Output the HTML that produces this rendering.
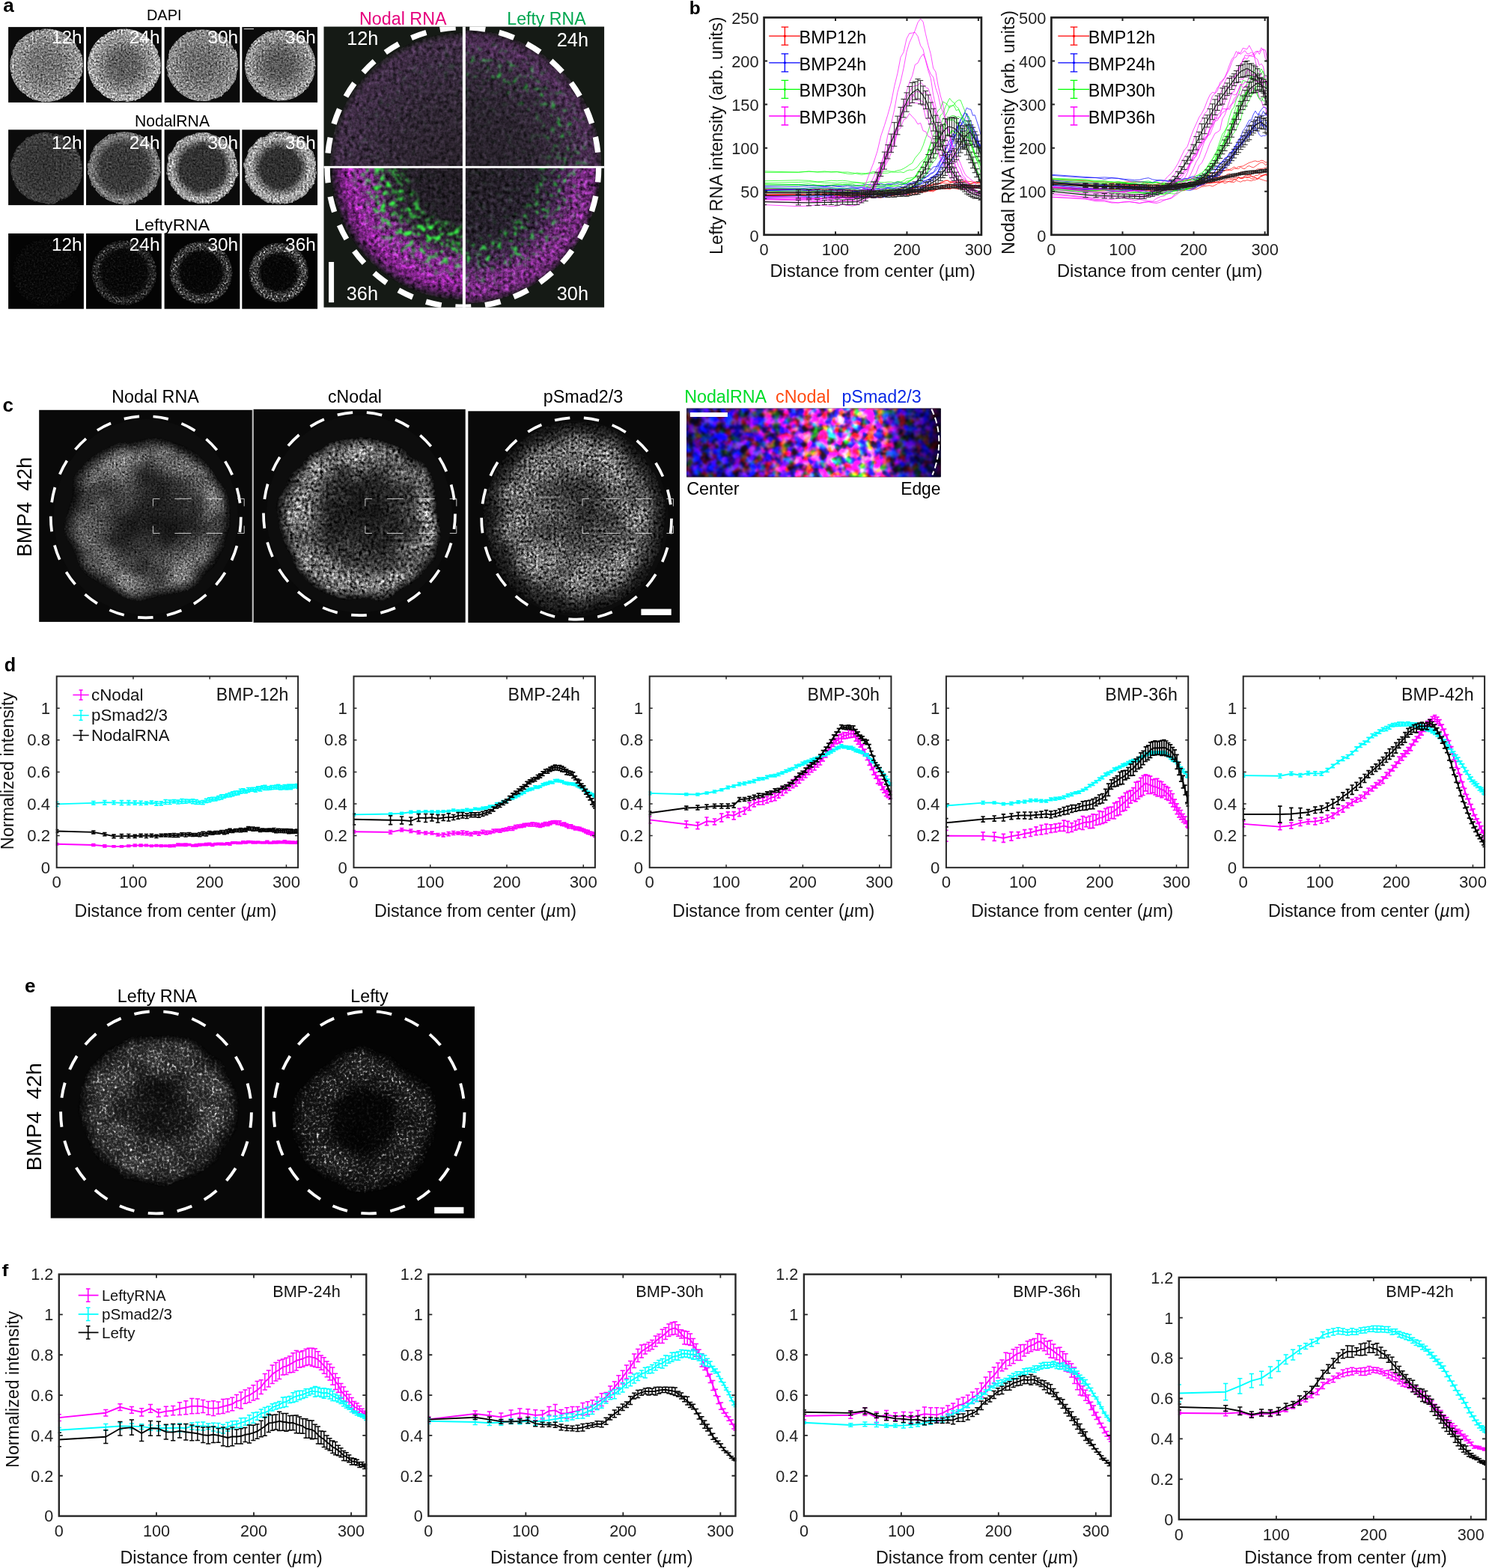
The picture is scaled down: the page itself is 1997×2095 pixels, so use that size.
<!DOCTYPE html>
<html lang="en"><head><meta charset="utf-8"><title>Figure</title>
<style>
html,body{margin:0;padding:0;background:#fff;}
body{width:1997px;height:2095px;overflow:hidden;}
svg{display:block;font-family:"Liberation Sans", sans-serif;}
</style></head><body>
<svg width="1997" height="2095" viewBox="0 0 1997 2095">
<defs>
<filter id="fa1" x="-0.05" y="-0.05" width="1.1" height="1.1" color-interpolation-filters="sRGB"><feTurbulence type="fractalNoise" baseFrequency="0.1" numOctaves="2" seed="111" result="dn"/><feDisplacementMap in="SourceGraphic" in2="dn" scale="3" xChannelSelector="R" yChannelSelector="G" result="ds"/><feTurbulence type="fractalNoise" baseFrequency="0.42 0.403" numOctaves="3" seed="11" result="n"/><feColorMatrix in="n" type="matrix" values="0.560 0.560 0.560 0 -0.340  0.560 0.560 0.560 0 -0.340  0.560 0.560 0.560 0 -0.340  0 0 0 0 1" result="n2"/><feComposite in="ds" in2="n2" operator="arithmetic" k1="2.0" k2="0.0" k3="0" k4="0" result="m"/><feComposite in="m" in2="ds" operator="in"/></filter>
<filter id="fa2" x="-0.06" y="-0.06" width="1.12" height="1.12" color-interpolation-filters="sRGB"><feTurbulence type="fractalNoise" baseFrequency="0.08" numOctaves="2" seed="123" result="dn"/><feDisplacementMap in="SourceGraphic" in2="dn" scale="5" xChannelSelector="R" yChannelSelector="G" result="ds"/><feTurbulence type="fractalNoise" baseFrequency="0.4 0.384" numOctaves="3" seed="23" result="n"/><feColorMatrix in="n" type="matrix" values="0.533 0.533 0.533 0 -0.300  0.533 0.533 0.533 0 -0.300  0.533 0.533 0.533 0 -0.300  0 0 0 0 1" result="n2"/><feComposite in="ds" in2="n2" operator="arithmetic" k1="2.0" k2="0.0" k3="0" k4="0" result="m"/><feComposite in="m" in2="ds" operator="in"/></filter>
<filter id="fa3" x="-0.0" y="-0.0" width="1.0" height="1.0" color-interpolation-filters="sRGB"><feTurbulence type="fractalNoise" baseFrequency="0.42 0.403" numOctaves="3" seed="37" result="n"/><feColorMatrix in="n" type="matrix" values="0.800 0.800 0.800 0 -0.844  0.800 0.800 0.800 0 -0.844  0.800 0.800 0.800 0 -0.844  0 0 0 0 1" result="n2"/><feComposite in="n2" in2="n2" operator="arithmetic" k1="1.6" k2="0" k3="0" k4="0" result="n2"/><feComposite in="SourceGraphic" in2="n2" operator="arithmetic" k1="2.2" k2="0.2" k3="0" k4="0" result="m"/><feComposite in="m" in2="SourceAlpha" operator="in"/></filter>
<radialGradient id="ga00"><stop offset="0" stop-color="#707070"/><stop offset="0.45" stop-color="#767676"/><stop offset="0.75" stop-color="#8c8c8c"/><stop offset="0.93" stop-color="#989898"/><stop offset="1" stop-color="#8c8c8c"/></radialGradient>
<radialGradient id="ga01"><stop offset="0" stop-color="#5a5a5a"/><stop offset="0.4" stop-color="#646464"/><stop offset="0.7" stop-color="#8c8c8c"/><stop offset="0.92" stop-color="#aaaaaa"/><stop offset="1" stop-color="#969696"/></radialGradient>
<radialGradient id="ga02"><stop offset="0" stop-color="#696969"/><stop offset="0.4" stop-color="#6e6e6e"/><stop offset="0.75" stop-color="#828282"/><stop offset="0.93" stop-color="#919191"/><stop offset="1" stop-color="#828282"/></radialGradient>
<radialGradient id="ga03"><stop offset="0" stop-color="#585858"/><stop offset="0.35" stop-color="#5c5c5c"/><stop offset="0.7" stop-color="#808080"/><stop offset="0.9" stop-color="#9e9e9e"/><stop offset="1" stop-color="#8c8c8c"/></radialGradient>
<radialGradient id="ga10"><stop offset="0" stop-color="#343434"/><stop offset="0.6" stop-color="#373737"/><stop offset="0.9" stop-color="#404040"/><stop offset="1" stop-color="#383838"/></radialGradient>
<radialGradient id="ga11"><stop offset="0" stop-color="#363636"/><stop offset="0.66" stop-color="#3c3c3c"/><stop offset="0.8" stop-color="#626262"/><stop offset="0.9" stop-color="#808080"/><stop offset="1" stop-color="#646464"/></radialGradient>
<radialGradient id="ga12"><stop offset="0" stop-color="#303030"/><stop offset="0.62" stop-color="#343434"/><stop offset="0.74" stop-color="#707070"/><stop offset="0.86" stop-color="#a4a4a4"/><stop offset="0.95" stop-color="#a0a0a0"/><stop offset="1" stop-color="#6e6e6e"/></radialGradient>
<radialGradient id="ga13"><stop offset="0" stop-color="#2e2e2e"/><stop offset="0.54" stop-color="#323232"/><stop offset="0.68" stop-color="#727272"/><stop offset="0.8" stop-color="#a6a6a6"/><stop offset="0.94" stop-color="#a2a2a2"/><stop offset="1" stop-color="#6e6e6e"/></radialGradient>
<radialGradient id="ga20"><stop offset="0" stop-color="#0c0c0c"/><stop offset="0.9" stop-color="#0d0d0d"/><stop offset="1" stop-color="#060606"/></radialGradient>
<radialGradient id="ga21"><stop offset="0" stop-color="#0a0a0a"/><stop offset="0.68" stop-color="#0e0e0e"/><stop offset="0.8" stop-color="#323232"/><stop offset="0.9" stop-color="#3e3e3e"/><stop offset="0.96" stop-color="#282828"/><stop offset="1" stop-color="#080808"/></radialGradient>
<radialGradient id="ga22"><stop offset="0" stop-color="#080808"/><stop offset="0.64" stop-color="#0c0c0c"/><stop offset="0.76" stop-color="#464646"/><stop offset="0.87" stop-color="#5c5c5c"/><stop offset="0.95" stop-color="#3a3a3a"/><stop offset="1" stop-color="#080808"/></radialGradient>
<radialGradient id="ga23"><stop offset="0" stop-color="#080808"/><stop offset="0.58" stop-color="#0c0c0c"/><stop offset="0.72" stop-color="#545454"/><stop offset="0.85" stop-color="#6e6e6e"/><stop offset="0.94" stop-color="#464646"/><stop offset="1" stop-color="#080808"/></radialGradient>
<filter id="fA" x="-0.0" y="-0.0" width="1.0" height="1.0" color-interpolation-filters="sRGB"><feTurbulence type="fractalNoise" baseFrequency="0.2 0.192" numOctaves="3" seed="5" result="n"/><feColorMatrix in="n" type="matrix" values="0.667 0.667 0.667 0 -0.500  0.667 0.667 0.667 0 -0.500  0.667 0.667 0.667 0 -0.500  0 0 0 0 1" result="n2"/><feComposite in="SourceGraphic" in2="n2" operator="arithmetic" k1="1.6" k2="0.2" k3="0" k4="0" result="m"/><feComposite in="m" in2="SourceAlpha" operator="in"/></filter>
<filter id="fA2" x="-0.0" y="-0.0" width="1.0" height="1.0" color-interpolation-filters="sRGB"><feTurbulence type="fractalNoise" baseFrequency="0.2 0.192" numOctaves="3" seed="6" result="n"/><feColorMatrix in="n" type="matrix" values="0.693 0.693 0.693 0 -0.540  0.693 0.693 0.693 0 -0.540  0.693 0.693 0.693 0 -0.540  0 0 0 0 1" result="n2"/><feComposite in="SourceGraphic" in2="n2" operator="arithmetic" k1="1.8" k2="0.1" k3="0" k4="0" result="m"/><feComposite in="m" in2="SourceAlpha" operator="in"/></filter>
<filter id="fAg" x="0" y="0" width="1" height="1" color-interpolation-filters="sRGB">
<feTurbulence type="fractalNoise" baseFrequency="0.14" numOctaves="3" seed="8" result="n"/>
<feColorMatrix in="n" type="matrix" values="0 0 0 0 0  0 0 0 0 0  0 0 0 0 0  2.4 2.4 2.4 0 -3.8" result="na"/>
<feGaussianBlur in="na" stdDeviation="0.8" result="nb"/>
<feComposite in="SourceGraphic" in2="nb" operator="in"/>
</filter>
<filter id="fAg2" x="0" y="0" width="1" height="1" color-interpolation-filters="sRGB">
<feTurbulence type="fractalNoise" baseFrequency="0.13" numOctaves="3" seed="18" result="n"/>
<feColorMatrix in="n" type="matrix" values="0 0 0 0 0  0 0 0 0 0  0 0 0 0 0  2.4 2.4 2.4 0 -3.55" result="na"/>
<feGaussianBlur in="na" stdDeviation="0.8" result="nb"/>
<feComposite in="SourceGraphic" in2="nb" operator="in"/>
</filter>
<radialGradient id="gAm0" gradientUnits="userSpaceOnUse" cx="619.85" cy="223.25" r="180"><stop offset="0" stop-color="#29222b"/><stop offset="0.5" stop-color="#302634"/><stop offset="0.8" stop-color="#3a2a40"/><stop offset="0.95" stop-color="#402c46"/><stop offset="1" stop-color="#1a1c1a"/></radialGradient>
<radialGradient id="gAg0" gradientUnits="userSpaceOnUse" cx="619.85" cy="223.25" r="176"><stop offset="0" stop-color="#34f04c" stop-opacity="0.0"/><stop offset="0.6" stop-color="#34f04c" stop-opacity="0.05"/><stop offset="0.8" stop-color="#34f04c" stop-opacity="0.12"/><stop offset="1" stop-color="#34f04c" stop-opacity="0.03"/></radialGradient>
<radialGradient id="gAm1" gradientUnits="userSpaceOnUse" cx="619.85" cy="223.25" r="184"><stop offset="0" stop-color="#27212a"/><stop offset="0.5" stop-color="#2c2430"/><stop offset="0.75" stop-color="#38283e"/><stop offset="0.9" stop-color="#4c2c54"/><stop offset="0.96" stop-color="#402846"/><stop offset="1" stop-color="#1c1c1c"/></radialGradient>
<radialGradient id="gAg1" gradientUnits="userSpaceOnUse" cx="619.85" cy="223.25" r="176"><stop offset="0" stop-color="#34f04c" stop-opacity="0.0"/><stop offset="0.6" stop-color="#34f04c" stop-opacity="0.1"/><stop offset="0.76" stop-color="#34f04c" stop-opacity="0.7"/><stop offset="0.9" stop-color="#34f04c" stop-opacity="0.45"/><stop offset="1" stop-color="#34f04c" stop-opacity="0.05"/></radialGradient>
<radialGradient id="gAm2" gradientUnits="userSpaceOnUse" cx="619.85" cy="223.25" r="183"><stop offset="0" stop-color="#221e24"/><stop offset="0.55" stop-color="#28202e"/><stop offset="0.7" stop-color="#40244a"/><stop offset="0.84" stop-color="#762a80"/><stop offset="0.93" stop-color="#72287c"/><stop offset="0.975" stop-color="#48224e"/><stop offset="1" stop-color="#1c1a1c"/></radialGradient>
<radialGradient id="gAg2" gradientUnits="userSpaceOnUse" cx="619.85" cy="223.25" r="176"><stop offset="0" stop-color="#34f04c" stop-opacity="0.05"/><stop offset="0.5" stop-color="#34f04c" stop-opacity="0.1"/><stop offset="0.62" stop-color="#34f04c" stop-opacity="0.8"/><stop offset="0.78" stop-color="#34f04c" stop-opacity="0.85"/><stop offset="0.9" stop-color="#34f04c" stop-opacity="0.2"/><stop offset="1" stop-color="#34f04c" stop-opacity="0.0"/></radialGradient>
<radialGradient id="gAm3" gradientUnits="userSpaceOnUse" cx="619.85" cy="223.25" r="178"><stop offset="0" stop-color="#211c23"/><stop offset="0.5" stop-color="#251e29"/><stop offset="0.6" stop-color="#38203e"/><stop offset="0.72" stop-color="#7e2488"/><stop offset="0.86" stop-color="#92269c"/><stop offset="0.93" stop-color="#66206e"/><stop offset="0.97" stop-color="#381c3e"/><stop offset="1" stop-color="#1a1a1a"/></radialGradient>
<radialGradient id="gAg3" gradientUnits="userSpaceOnUse" cx="619.85" cy="223.25" r="176"><stop offset="0" stop-color="#38ff48" stop-opacity="0.0"/><stop offset="0.4" stop-color="#38ff48" stop-opacity="0.05"/><stop offset="0.5" stop-color="#38ff48" stop-opacity="1.0"/><stop offset="0.68" stop-color="#38ff48" stop-opacity="1.0"/><stop offset="0.8" stop-color="#38ff48" stop-opacity="0.4"/><stop offset="0.9" stop-color="#38ff48" stop-opacity="0.0"/></radialGradient>
<filter id="fc1" x="-0.08" y="-0.08" width="1.16" height="1.16" color-interpolation-filters="sRGB"><feTurbulence type="fractalNoise" baseFrequency="0.02" numOctaves="2" seed="103" result="dn"/><feDisplacementMap in="SourceGraphic" in2="dn" scale="16" xChannelSelector="R" yChannelSelector="G" result="ds"/><feTurbulence type="fractalNoise" baseFrequency="0.022" numOctaves="2" seed="203" result="cn"/><feColorMatrix in="cn" type="matrix" values="2.4 0 0 0 -0.7  2.4 0 0 0 -0.7  2.4 0 0 0 -0.7  0 0 0 0 1" result="cn2"/><feComposite in="ds" in2="cn2" operator="arithmetic" k1="0.7" k2="0.65" k3="0" k4="0" result="cs"/><feTurbulence type="fractalNoise" baseFrequency="0.4 0.384" numOctaves="3" seed="3" result="n"/><feColorMatrix in="n" type="matrix" values="0.613 0.613 0.613 0 -0.420  0.613 0.613 0.613 0 -0.420  0.613 0.613 0.613 0 -0.420  0 0 0 0 1" result="n2"/><feComposite in="cs" in2="n2" operator="arithmetic" k1="2.0" k2="0.0" k3="0" k4="0" result="m"/><feComposite in="m" in2="ds" operator="in"/></filter>
<filter id="fc2" x="-0.08" y="-0.08" width="1.16" height="1.16" color-interpolation-filters="sRGB"><feTurbulence type="fractalNoise" baseFrequency="0.02" numOctaves="2" seed="117" result="dn"/><feDisplacementMap in="SourceGraphic" in2="dn" scale="22" xChannelSelector="R" yChannelSelector="G" result="ds"/><feTurbulence type="fractalNoise" baseFrequency="0.03" numOctaves="2" seed="217" result="cn"/><feColorMatrix in="cn" type="matrix" values="2.4 0 0 0 -0.7  2.4 0 0 0 -0.7  2.4 0 0 0 -0.7  0 0 0 0 1" result="cn2"/><feComposite in="ds" in2="cn2" operator="arithmetic" k1="0.5" k2="0.75" k3="0" k4="0" result="cs"/><feTurbulence type="fractalNoise" baseFrequency="0.25 0.240" numOctaves="3" seed="17" result="n"/><feColorMatrix in="n" type="matrix" values="0.933 0.933 0.933 0 -0.900  0.933 0.933 0.933 0 -0.900  0.933 0.933 0.933 0 -0.900  0 0 0 0 1" result="n2"/><feComposite in="cs" in2="n2" operator="arithmetic" k1="2.0" k2="0.0" k3="0" k4="0" result="m"/><feComposite in="m" in2="ds" operator="in"/></filter>
<filter id="fc3" x="-0.08" y="-0.08" width="1.16" height="1.16" color-interpolation-filters="sRGB"><feTurbulence type="fractalNoise" baseFrequency="0.02" numOctaves="2" seed="129" result="dn"/><feDisplacementMap in="SourceGraphic" in2="dn" scale="10" xChannelSelector="R" yChannelSelector="G" result="ds"/><feTurbulence type="fractalNoise" baseFrequency="0.03" numOctaves="2" seed="229" result="cn"/><feColorMatrix in="cn" type="matrix" values="2.4 0 0 0 -0.7  2.4 0 0 0 -0.7  2.4 0 0 0 -0.7  0 0 0 0 1" result="cn2"/><feComposite in="ds" in2="cn2" operator="arithmetic" k1="0.4" k2="0.8" k3="0" k4="0" result="cs"/><feTurbulence type="fractalNoise" baseFrequency="0.3 0.288" numOctaves="3" seed="29" result="n"/><feColorMatrix in="n" type="matrix" values="0.933 0.933 0.933 0 -0.900  0.933 0.933 0.933 0 -0.900  0.933 0.933 0.933 0 -0.900  0 0 0 0 1" result="n2"/><feComposite in="cs" in2="n2" operator="arithmetic" k1="2.0" k2="0.0" k3="0" k4="0" result="m"/><feComposite in="m" in2="ds" operator="in"/></filter>
<radialGradient id="gc0" fx="0.58" fy="0.5"><stop offset="0" stop-color="#1e1e1e"/><stop offset="0.3" stop-color="#242424"/><stop offset="0.55" stop-color="#3e3e3e"/><stop offset="0.76" stop-color="#646464"/><stop offset="0.86" stop-color="#5a5a5a"/><stop offset="0.93" stop-color="#323232"/><stop offset="1" stop-color="#0c0c0c"/></radialGradient>
<radialGradient id="gc1" fx="0.585" fy="0.45"><stop offset="0" stop-color="#1c1c1c"/><stop offset="0.4" stop-color="#222222"/><stop offset="0.58" stop-color="#3c3c3c"/><stop offset="0.76" stop-color="#6c6c6c"/><stop offset="0.88" stop-color="#707070"/><stop offset="0.95" stop-color="#363636"/><stop offset="1" stop-color="#0e0e0e"/></radialGradient>
<radialGradient id="gc2" fx="0.58" fy="0.46"><stop offset="0" stop-color="#363636"/><stop offset="0.3" stop-color="#3e3e3e"/><stop offset="0.5" stop-color="#5e5e5e"/><stop offset="0.7" stop-color="#686868"/><stop offset="0.8" stop-color="#545454"/><stop offset="0.88" stop-color="#2c2c2c"/><stop offset="0.95" stop-color="#1c1c1c"/><stop offset="1" stop-color="#101010"/></radialGradient>
<linearGradient id="gstrip" gradientUnits="userSpaceOnUse" x1="916.8" y1="0" x2="1256.9" y2="0">
<stop offset="0" stop-color="#2a1c78"/><stop offset="0.2" stop-color="#3a2080"/><stop offset="0.3" stop-color="#6c2a84"/>
<stop offset="0.46" stop-color="#a44c98"/><stop offset="0.58" stop-color="#de84b4"/><stop offset="0.74" stop-color="#e07aa0"/>
<stop offset="0.8" stop-color="#74307c"/><stop offset="0.86" stop-color="#2c1a66"/><stop offset="0.95" stop-color="#221050"/><stop offset="0.975" stop-color="#1a0428"/><stop offset="1" stop-color="#160018"/>
</linearGradient>
<filter id="fstrip" x="0" y="0" width="1" height="1" color-interpolation-filters="sRGB">
<feTurbulence type="fractalNoise" baseFrequency="0.095" numOctaves="3" seed="4" result="n"/>
<feColorMatrix in="n" type="matrix" values="3.4 0 0 0 -1.36  0 3.4 0 0 -1.5  0 0 2.8 0 -0.9  0 0 0 0 1" result="n1"/>
<feGaussianBlur in="n1" stdDeviation="0.9" result="n2"/>
<feComposite in="SourceGraphic" in2="n2" operator="arithmetic" k1="2.0" k2="0.2" k3="0" k4="0" result="m"/>
<feComposite in="m" in2="SourceAlpha" operator="in"/>
</filter>
<filter id="fe1" x="-0.08" y="-0.08" width="1.16" height="1.16" color-interpolation-filters="sRGB"><feTurbulence type="fractalNoise" baseFrequency="0.02" numOctaves="2" seed="141" result="dn"/><feDisplacementMap in="SourceGraphic" in2="dn" scale="18" xChannelSelector="R" yChannelSelector="G" result="ds"/><feTurbulence type="fractalNoise" baseFrequency="0.03" numOctaves="2" seed="241" result="cn"/><feColorMatrix in="cn" type="matrix" values="2.4 0 0 0 -0.7  2.4 0 0 0 -0.7  2.4 0 0 0 -0.7  0 0 0 0 1" result="cn2"/><feComposite in="ds" in2="cn2" operator="arithmetic" k1="0.6" k2="0.7" k3="0" k4="0" result="cs"/><feTurbulence type="fractalNoise" baseFrequency="0.3 0.288" numOctaves="3" seed="41" result="n"/><feColorMatrix in="n" type="matrix" values="0.800 0.800 0.800 0 -0.940  0.800 0.800 0.800 0 -0.940  0.800 0.800 0.800 0 -0.940  0 0 0 0 1" result="n2"/><feComposite in="n2" in2="n2" operator="arithmetic" k1="1.6" k2="0" k3="0" k4="0" result="n2"/><feComposite in="cs" in2="n2" operator="arithmetic" k1="2.0" k2="0.35" k3="0" k4="0" result="m"/><feComposite in="m" in2="ds" operator="in"/></filter>
<filter id="fe2" x="-0.08" y="-0.08" width="1.16" height="1.16" color-interpolation-filters="sRGB"><feTurbulence type="fractalNoise" baseFrequency="0.02" numOctaves="2" seed="153" result="dn"/><feDisplacementMap in="SourceGraphic" in2="dn" scale="18" xChannelSelector="R" yChannelSelector="G" result="ds"/><feTurbulence type="fractalNoise" baseFrequency="0.03" numOctaves="2" seed="253" result="cn"/><feColorMatrix in="cn" type="matrix" values="2.4 0 0 0 -0.7  2.4 0 0 0 -0.7  2.4 0 0 0 -0.7  0 0 0 0 1" result="cn2"/><feComposite in="ds" in2="cn2" operator="arithmetic" k1="0.6" k2="0.7" k3="0" k4="0" result="cs"/><feTurbulence type="fractalNoise" baseFrequency="0.3 0.288" numOctaves="3" seed="53" result="n"/><feColorMatrix in="n" type="matrix" values="0.907 0.907 0.907 0 -1.186  0.907 0.907 0.907 0 -1.186  0.907 0.907 0.907 0 -1.186  0 0 0 0 1" result="n2"/><feComposite in="n2" in2="n2" operator="arithmetic" k1="1.8" k2="0" k3="0" k4="0" result="n2"/><feComposite in="cs" in2="n2" operator="arithmetic" k1="2.4" k2="0.25" k3="0" k4="0" result="m"/><feComposite in="m" in2="ds" operator="in"/></filter>
<radialGradient id="ge0"><stop offset="0" stop-color="#1e1e1e"/><stop offset="0.3" stop-color="#262626"/><stop offset="0.48" stop-color="#505050"/><stop offset="0.7" stop-color="#646464"/><stop offset="0.85" stop-color="#585858"/><stop offset="0.95" stop-color="#282828"/><stop offset="1" stop-color="#0a0a0a"/></radialGradient>
<radialGradient id="ge1"><stop offset="0" stop-color="#0a0a0a"/><stop offset="0.4" stop-color="#101010"/><stop offset="0.55" stop-color="#3c3c3c"/><stop offset="0.7" stop-color="#505050"/><stop offset="0.85" stop-color="#404040"/><stop offset="0.95" stop-color="#1c1c1c"/><stop offset="1" stop-color="#080808"/></radialGradient>
</defs>
<rect width="1997" height="2095" fill="#fff"/>
<text x="4.2" y="16.0" font-size="26" fill="#000" font-weight="bold" >a</text>
<text x="219.2" y="26.6" font-size="21" fill="#000" text-anchor="middle" textLength="46.6" lengthAdjust="spacingAndGlyphs" >DAPI</text>
<text x="230.0" y="168.8" font-size="22" fill="#000" text-anchor="middle" textLength="100.0" lengthAdjust="spacingAndGlyphs" >NodalRNA</text>
<text x="230.0" y="307.8" font-size="22" fill="#000" text-anchor="middle" textLength="100.0" lengthAdjust="spacingAndGlyphs" >LeftyRNA</text>
<rect x="11.1" y="36.1" width="100.8" height="100.8" fill="#0b0b0b"/>
<circle cx="62.1" cy="87.3" r="49.0" fill="url(#ga00)" filter="url(#fa1)"/>
<text x="109.6" y="57.6" font-size="24.4" fill="#fff" text-anchor="end" >12h</text>
<rect x="115.0" y="36.1" width="100.8" height="100.8" fill="#0b0b0b"/>
<circle cx="165.9" cy="87.3" r="49.0" fill="url(#ga01)" filter="url(#fa1)"/>
<text x="213.5" y="57.6" font-size="24.4" fill="#fff" text-anchor="end" >24h</text>
<rect x="219.6" y="36.1" width="100.8" height="100.8" fill="#0b0b0b"/>
<circle cx="270.5" cy="87.3" r="48.0" fill="url(#ga02)" filter="url(#fa1)"/>
<text x="318.1" y="57.6" font-size="24.4" fill="#fff" text-anchor="end" >30h</text>
<rect x="323.3" y="36.1" width="100.8" height="100.8" fill="#0b0b0b"/>
<circle cx="374.2" cy="87.3" r="47.5" fill="url(#ga03)" filter="url(#fa1)"/>
<text x="421.8" y="57.6" font-size="24.4" fill="#fff" text-anchor="end" >36h</text>
<rect x="11.1" y="173.3" width="100.8" height="100.8" fill="#0b0b0b"/>
<circle cx="62.1" cy="224.5" r="48.0" fill="url(#ga10)" filter="url(#fa2)"/>
<text x="109.6" y="198.6" font-size="24.4" fill="#fff" text-anchor="end" >12h</text>
<rect x="115.0" y="173.3" width="100.8" height="100.8" fill="#0b0b0b"/>
<circle cx="165.9" cy="224.5" r="48.5" fill="url(#ga11)" filter="url(#fa2)"/>
<text x="213.5" y="198.6" font-size="24.4" fill="#fff" text-anchor="end" >24h</text>
<rect x="219.6" y="173.3" width="100.8" height="100.8" fill="#0b0b0b"/>
<circle cx="270.5" cy="224.5" r="48.0" fill="url(#ga12)" filter="url(#fa2)"/>
<text x="318.1" y="198.6" font-size="24.4" fill="#fff" text-anchor="end" >30h</text>
<rect x="323.3" y="173.3" width="100.8" height="100.8" fill="#0b0b0b"/>
<circle cx="374.2" cy="224.5" r="48.5" fill="url(#ga13)" filter="url(#fa2)"/>
<text x="421.8" y="198.6" font-size="24.4" fill="#fff" text-anchor="end" >36h</text>
<rect x="11.1" y="311.9" width="100.8" height="100.8" fill="#040404"/>
<circle cx="62.1" cy="364.3" r="46.0" fill="url(#ga20)" filter="url(#fa3)"/>
<text x="109.6" y="335.4" font-size="24.4" fill="#fff" text-anchor="end" >12h</text>
<rect x="115.0" y="311.9" width="100.8" height="100.8" fill="#040404"/>
<circle cx="165.9" cy="364.3" r="44.0" fill="url(#ga21)" filter="url(#fa3)"/>
<text x="213.5" y="335.4" font-size="24.4" fill="#fff" text-anchor="end" >24h</text>
<rect x="219.6" y="311.9" width="100.8" height="100.8" fill="#040404"/>
<circle cx="268.5" cy="364.3" r="42.5" fill="url(#ga22)" filter="url(#fa3)"/>
<text x="318.1" y="335.4" font-size="24.4" fill="#fff" text-anchor="end" >30h</text>
<rect x="323.3" y="311.9" width="100.8" height="100.8" fill="#040404"/>
<circle cx="372.2" cy="364.3" r="40.5" fill="url(#ga23)" filter="url(#fa3)"/>
<text x="421.8" y="335.4" font-size="24.4" fill="#fff" text-anchor="end" >36h</text>
<rect x="325.7" y="38.1" width="13.3" height="1.1" fill="#ddd"/>
<text x="480.0" y="32.8" font-size="23.3" fill="#e5007d" textLength="116.5" lengthAdjust="spacingAndGlyphs" >Nodal RNA</text>
<text x="677.3" y="32.8" font-size="23.3" fill="#00a650" textLength="105.3" lengthAdjust="spacingAndGlyphs" >Lefty RNA</text>
<clipPath id="cpA"><rect x="432.5" y="35.6" width="374.6" height="375.09999999999997"/></clipPath>
<clipPath id="cpAq0"><rect x="432.5" y="35.6" width="187.35000000000002" height="187.65"/></clipPath>
<clipPath id="cpAq1"><rect x="619.85" y="35.6" width="187.25" height="187.65"/></clipPath>
<clipPath id="cpAq2"><rect x="619.85" y="223.25" width="187.25" height="187.45"/></clipPath>
<clipPath id="cpAq3"><rect x="432.5" y="223.25" width="187.35000000000002" height="187.45"/></clipPath>
<rect x="432.5" y="35.6" width="374.6" height="375.09999999999997" fill="#151a15"/>
<g clip-path="url(#cpAq0)"><circle cx="619.85" cy="223.25" r="180" fill="url(#gAm0)" filter="url(#fA)"/><circle cx="619.85" cy="223.25" r="176" fill="url(#gAg0)" filter="url(#fAg)"/></g>
<g clip-path="url(#cpAq1)"><circle cx="619.85" cy="223.25" r="184" fill="url(#gAm1)" filter="url(#fA)"/><circle cx="619.85" cy="223.25" r="176" fill="url(#gAg1)" filter="url(#fAg)"/></g>
<g clip-path="url(#cpAq2)"><circle cx="619.85" cy="223.25" r="183" fill="url(#gAm2)" filter="url(#fA2)"/><circle cx="619.85" cy="223.25" r="176" fill="url(#gAg2)" filter="url(#fAg)"/></g>
<g clip-path="url(#cpAq3)"><circle cx="619.85" cy="223.25" r="178" fill="url(#gAm3)" filter="url(#fA2)"/><circle cx="619.85" cy="223.25" r="176" fill="url(#gAg3)" filter="url(#fAg2)"/></g>
<rect x="617.85" y="35.6" width="4.0" height="375.09999999999997" fill="#fff"/>
<rect x="432.5" y="221.85" width="374.6" height="2.8" fill="#fff"/>
<g clip-path="url(#cpA)"><ellipse cx="618.4" cy="223.4" rx="181.3" ry="186.8" fill="none" stroke="#fff" stroke-width="7.4" pathLength="29" stroke-dasharray="0.53 0.47" stroke-dashoffset="0.025"/></g>
<rect x="439.1" y="350.0" width="7" height="54.1" fill="#fff"/>
<text x="463.2" y="60.2" font-size="25.3" fill="#fff" >12h</text>
<text x="743.8" y="61.7" font-size="25.3" fill="#fff" >24h</text>
<text x="462.8" y="401.4" font-size="25.3" fill="#fff" >36h</text>
<text x="743.8" y="401.4" font-size="25.3" fill="#fff" >30h</text>
<text x="920.8" y="18.8" font-size="24.5" fill="#000" font-weight="bold" >b</text>
<clipPath id="cpb0"><rect x="1020.6" y="23.4" width="290.30000000000007" height="290.40000000000003"/></clipPath>
<g clip-path="url(#cpb0)" fill="none" stroke-width="0.7" stroke-linejoin="miter">
<polyline points="1020.6,260.4 1066.4,261.2 1080.5,260.1 1091.8,259.3 1101.5,259.7 1110.2,260.0 1118.2,260.9 1125.5,262.3 1132.4,262.2 1138.8,261.6 1144.9,262.7 1150.8,261.5 1156.3,262.3 1161.7,262.9 1166.9,263.8 1171.9,261.3 1176.7,260.4 1181.4,259.4 1185.9,259.4 1190.4,260.9 1194.7,260.9 1198.9,260.3 1203.0,261.0 1207.0,258.9 1211.0,259.2 1214.8,259.8 1218.6,257.7 1222.3,258.2 1226.0,255.8 1229.6,255.5 1233.1,254.8 1236.5,254.8 1240.0,254.0 1243.3,254.3 1246.6,254.9 1249.9,252.3 1253.1,252.7 1256.3,250.8 1259.4,251.6 1262.5,249.1 1265.5,247.7 1268.5,247.2 1271.5,246.8 1274.5,247.4 1277.4,247.2 1280.2,249.3 1283.1,249.3 1285.9,248.0 1288.7,249.5 1291.4,247.9 1294.2,247.1 1296.9,248.5 1299.5,249.5 1302.2,249.9 1304.8,250.4 1307.4,248.6 1310.0,249.8 1310.9,251.7" stroke="#ff0000"/>
<polyline points="1020.6,261.1 1066.4,261.1 1080.5,260.9 1091.8,260.3 1101.5,261.4 1110.2,260.9 1118.2,260.8 1125.5,260.6 1132.4,261.9 1138.8,262.8 1144.9,262.9 1150.8,261.4 1156.3,262.2 1161.7,262.0 1166.9,262.8 1171.9,263.9 1176.7,264.3 1181.4,262.3 1185.9,261.1 1190.4,261.4 1194.7,260.6 1198.9,260.1 1203.0,259.0 1207.0,258.1 1211.0,259.1 1214.8,257.9 1218.6,257.1 1222.3,257.3 1226.0,256.2 1229.6,256.4 1233.1,256.6 1236.5,256.8 1240.0,254.7 1243.3,255.5 1246.6,256.0 1249.9,253.7 1253.1,252.2 1256.3,252.2 1259.4,250.7 1262.5,252.4 1265.5,252.5 1268.5,252.3 1271.5,251.5 1274.5,251.8 1277.4,252.2 1280.2,251.7 1283.1,249.4 1285.9,247.6 1288.7,247.5 1291.4,248.4 1294.2,249.7 1296.9,248.0 1299.5,248.7 1302.2,248.4 1304.8,250.9 1307.4,251.7 1310.0,250.1 1310.9,249.2" stroke="#ff0000"/>
<polyline points="1020.6,253.4 1066.4,252.5 1080.5,253.5 1091.8,253.4 1101.5,254.1 1110.2,253.2 1118.2,254.8 1125.5,254.0 1132.4,252.9 1138.8,254.9 1144.9,254.5 1150.8,254.2 1156.3,253.5 1161.7,253.9 1166.9,254.8 1171.9,254.7 1176.7,253.0 1181.4,252.1 1185.9,253.6 1190.4,254.5 1194.7,254.9 1198.9,255.3 1203.0,254.3 1207.0,254.4 1211.0,252.3 1214.8,251.0 1218.6,251.6 1222.3,250.4 1226.0,250.1 1229.6,249.2 1233.1,249.2 1236.5,249.2 1240.0,249.0 1243.3,248.0 1246.6,246.2 1249.9,245.4 1253.1,246.6 1256.3,244.7 1259.4,242.9 1262.5,242.0 1265.5,241.2 1268.5,243.5 1271.5,243.4 1274.5,244.8 1277.4,243.1 1280.2,244.3 1283.1,243.0 1285.9,243.9 1288.7,242.9 1291.4,243.8 1294.2,245.4 1296.9,245.2 1299.5,245.4 1302.2,243.4 1304.8,244.5 1307.4,244.5 1310.0,244.3 1310.9,242.7" stroke="#ff0000"/>
<polyline points="1020.6,260.4 1066.4,259.3 1080.5,260.5 1091.8,260.2 1101.5,260.4 1110.2,260.5 1118.2,262.0 1125.5,260.9 1132.4,259.9 1138.8,261.1 1144.9,262.0 1150.8,260.7 1156.3,262.5 1161.7,263.7 1166.9,264.3 1171.9,262.3 1176.7,261.1 1181.4,261.2 1185.9,260.7 1190.4,261.9 1194.7,260.9 1198.9,260.7 1203.0,260.3 1207.0,260.3 1211.0,260.2 1214.8,260.2 1218.6,260.4 1222.3,259.1 1226.0,258.7 1229.6,256.7 1233.1,254.9 1236.5,253.8 1240.0,253.8 1243.3,254.5 1246.6,254.2 1249.9,253.5 1253.1,252.4 1256.3,250.4 1259.4,252.2 1262.5,251.6 1265.5,251.1 1268.5,249.8 1271.5,248.6 1274.5,248.3 1277.4,248.7 1280.2,248.4 1283.1,248.6 1285.9,248.0 1288.7,248.3 1291.4,248.7 1294.2,250.5 1296.9,249.3 1299.5,250.5 1302.2,250.5 1304.8,249.8 1307.4,248.9 1310.0,248.4 1310.9,251.5" stroke="#ff0000"/>
<polyline points="1020.6,260.0 1066.4,259.4 1080.5,260.4 1091.8,260.4 1101.5,258.6 1110.2,258.1 1118.2,258.6 1125.5,260.1 1132.4,258.6 1138.8,258.5 1144.9,259.9 1150.8,260.4 1156.3,259.8 1161.7,259.4 1166.9,260.1 1171.9,258.5 1176.7,259.2 1181.4,259.8 1185.9,258.4 1190.4,259.4 1194.7,258.5 1198.9,259.2 1203.0,258.4 1207.0,258.8 1211.0,258.6 1214.8,256.4 1218.6,256.3 1222.3,256.1 1226.0,255.2 1229.6,255.6 1233.1,255.9 1236.5,255.3 1240.0,255.2 1243.3,255.3 1246.6,252.6 1249.9,254.0 1253.1,252.0 1256.3,250.2 1259.4,249.9 1262.5,251.9 1265.5,251.3 1268.5,252.7 1271.5,251.6 1274.5,250.5 1277.4,251.6 1280.2,253.1 1283.1,252.0 1285.9,253.0 1288.7,252.9 1291.4,252.4 1294.2,250.6 1296.9,251.4 1299.5,252.8 1302.2,251.3 1304.8,250.4 1307.4,250.9 1310.0,252.9 1310.9,253.6" stroke="#ff0000"/>
<polyline points="1020.6,257.3 1066.4,256.7 1080.5,256.1 1091.8,255.8 1101.5,258.1 1110.2,257.9 1118.2,259.3 1125.5,258.0 1132.4,257.7 1138.8,257.5 1144.9,259.1 1150.8,260.5 1156.3,259.2 1161.7,258.9 1166.9,258.4 1171.9,258.5 1176.7,257.5 1181.4,258.1 1185.9,258.5 1190.4,258.5 1194.7,258.5 1198.9,257.5 1203.0,256.1 1207.0,257.5 1211.0,257.8 1214.8,256.4 1218.6,254.8 1222.3,255.1 1226.0,254.8 1229.6,255.0 1233.1,255.0 1236.5,253.3 1240.0,251.6 1243.3,250.4 1246.6,251.3 1249.9,251.8 1253.1,249.1 1256.3,248.6 1259.4,248.7 1262.5,247.5 1265.5,246.7 1268.5,247.1 1271.5,249.0 1274.5,247.4 1277.4,248.6 1280.2,250.0 1283.1,249.7 1285.9,249.0 1288.7,248.4 1291.4,249.6 1294.2,248.5 1296.9,248.7 1299.5,250.1 1302.2,248.5 1304.8,247.7 1307.4,246.9 1310.0,247.2 1310.9,249.0" stroke="#ff0000"/>
<polyline points="1020.6,253.4 1066.4,252.6 1080.5,253.7 1091.8,252.8 1101.5,252.3 1110.2,252.4 1118.2,254.7 1125.5,255.3 1132.4,255.1 1138.8,255.0 1144.9,254.6 1150.8,254.8 1156.3,256.3 1161.7,255.1 1166.9,255.3 1171.9,254.2 1176.7,255.3 1181.4,253.6 1185.9,253.7 1190.4,253.0 1194.7,252.6 1198.9,251.8 1203.0,252.8 1207.0,254.0 1211.0,253.7 1214.8,253.7 1218.6,252.1 1222.3,250.0 1226.0,249.8 1229.6,250.1 1233.1,250.4 1236.5,248.9 1240.0,247.2 1243.3,247.9 1246.6,246.0 1249.9,246.2 1253.1,246.4 1256.3,243.5 1259.4,243.0 1262.5,241.1 1265.5,241.1 1268.5,242.4 1271.5,242.9 1274.5,242.6 1277.4,241.6 1280.2,240.6 1283.1,240.0 1285.9,240.0 1288.7,241.5 1291.4,242.0 1294.2,242.5 1296.9,242.5 1299.5,243.3 1302.2,243.0 1304.8,243.1 1307.4,244.7 1310.0,243.0 1310.9,242.8" stroke="#ff0000"/>
<polyline points="1020.6,253.0 1066.4,253.9 1080.5,254.3 1091.8,255.7 1101.5,254.7 1110.2,254.3 1118.2,254.1 1125.5,253.0 1132.4,254.7 1138.8,255.7 1144.9,254.9 1150.8,254.3 1156.3,254.9 1161.7,256.6 1166.9,256.7 1171.9,255.2 1176.7,255.0 1181.4,254.9 1185.9,255.0 1190.4,254.2 1194.7,253.8 1198.9,253.1 1203.0,252.1 1207.0,251.8 1211.0,252.5 1214.8,253.3 1218.6,251.6 1222.3,250.2 1226.0,248.7 1229.6,249.7 1233.1,248.0 1236.5,246.5 1240.0,248.0 1243.3,247.9 1246.6,246.6 1249.9,247.3 1253.1,245.2 1256.3,245.7 1259.4,244.3 1262.5,244.7 1265.5,245.0 1268.5,245.1 1271.5,243.9 1274.5,242.5 1277.4,243.6 1280.2,242.5 1283.1,243.1 1285.9,242.4 1288.7,242.9 1291.4,243.9 1294.2,244.9 1296.9,245.8 1299.5,244.1 1302.2,244.2 1304.8,245.3 1307.4,243.4 1310.0,243.1 1310.9,245.1" stroke="#ff0000"/>
<polyline points="1020.6,253.8 1066.4,251.9 1080.5,252.6 1091.8,252.2 1101.5,251.9 1110.2,252.5 1118.2,252.9 1125.5,252.0 1132.4,251.9 1138.8,252.3 1144.9,252.3 1150.8,253.2 1156.3,252.1 1161.7,253.7 1166.9,252.6 1171.9,252.4 1176.7,252.8 1181.4,251.9 1185.9,251.3 1190.4,252.3 1194.7,251.6 1198.9,252.1 1203.0,250.4 1207.0,250.7 1211.0,250.8 1214.8,250.3 1218.6,250.3 1222.3,249.4 1226.0,248.7 1229.6,246.2 1233.1,242.1 1236.5,241.0 1240.0,240.0 1243.3,236.8 1246.6,235.8 1249.9,233.1 1253.1,228.9 1256.3,225.6 1259.4,218.8 1262.5,213.6 1265.5,211.5 1268.5,207.3 1271.5,200.4 1274.5,197.7 1277.4,193.0 1280.2,184.9 1283.1,175.6 1285.9,170.6 1288.7,165.5 1291.4,168.4 1294.2,165.9 1296.9,169.7 1299.5,168.3 1302.2,175.7 1304.8,179.8 1307.4,191.4 1310.0,196.5 1310.9,192.9" stroke="#0000ff"/>
<polyline points="1020.6,251.4 1066.4,252.4 1080.5,250.7 1091.8,250.2 1101.5,250.0 1110.2,250.4 1118.2,251.8 1125.5,252.1 1132.4,251.3 1138.8,250.9 1144.9,251.4 1150.8,250.5 1156.3,252.2 1161.7,252.3 1166.9,252.8 1171.9,252.3 1176.7,250.5 1181.4,249.5 1185.9,250.6 1190.4,250.7 1194.7,251.3 1198.9,249.8 1203.0,249.6 1207.0,249.8 1211.0,248.7 1214.8,246.1 1218.6,245.5 1222.3,243.9 1226.0,242.5 1229.6,240.5 1233.1,238.1 1236.5,236.5 1240.0,235.4 1243.3,232.5 1246.6,230.9 1249.9,228.0 1253.1,223.8 1256.3,215.1 1259.4,210.8 1262.5,207.8 1265.5,205.4 1268.5,200.7 1271.5,190.1 1274.5,185.9 1277.4,178.3 1280.2,175.6 1283.1,168.4 1285.9,165.8 1288.7,160.0 1291.4,161.5 1294.2,168.0 1296.9,174.7 1299.5,179.9 1302.2,183.8 1304.8,190.1 1307.4,192.6 1310.0,194.6 1310.9,191.4" stroke="#0000ff"/>
<polyline points="1020.6,250.0 1066.4,249.4 1080.5,248.3 1091.8,247.8 1101.5,249.4 1110.2,248.1 1118.2,249.2 1125.5,249.8 1132.4,248.4 1138.8,249.9 1144.9,250.2 1150.8,249.7 1156.3,250.4 1161.7,250.8 1166.9,249.5 1171.9,249.1 1176.7,248.4 1181.4,247.7 1185.9,247.0 1190.4,246.5 1194.7,246.3 1198.9,245.6 1203.0,246.6 1207.0,246.5 1211.0,247.0 1214.8,245.7 1218.6,245.3 1222.3,245.5 1226.0,244.5 1229.6,244.9 1233.1,245.5 1236.5,243.7 1240.0,242.8 1243.3,242.2 1246.6,240.9 1249.9,237.9 1253.1,234.0 1256.3,234.4 1259.4,229.7 1262.5,227.7 1265.5,222.8 1268.5,219.7 1271.5,215.4 1274.5,209.5 1277.4,206.5 1280.2,203.0 1283.1,196.4 1285.9,196.2 1288.7,192.5 1291.4,185.5 1294.2,179.7 1296.9,173.7 1299.5,179.0 1302.2,181.8 1304.8,188.0 1307.4,190.9 1310.0,193.8 1310.9,200.3" stroke="#0000ff"/>
<polyline points="1020.6,262.9 1066.4,261.5 1080.5,262.3 1091.8,261.4 1101.5,263.0 1110.2,262.9 1118.2,263.4 1125.5,263.2 1132.4,263.5 1138.8,264.2 1144.9,262.4 1150.8,263.1 1156.3,262.4 1161.7,262.0 1166.9,260.6 1171.9,259.6 1176.7,259.6 1181.4,260.8 1185.9,259.7 1190.4,260.9 1194.7,259.0 1198.9,259.6 1203.0,260.1 1207.0,260.4 1211.0,259.4 1214.8,256.8 1218.6,254.6 1222.3,253.2 1226.0,251.9 1229.6,251.7 1233.1,249.6 1236.5,247.4 1240.0,244.4 1243.3,239.7 1246.6,235.2 1249.9,235.8 1253.1,229.4 1256.3,221.8 1259.4,217.5 1262.5,211.1 1265.5,204.3 1268.5,202.1 1271.5,195.2 1274.5,184.9 1277.4,176.8 1280.2,169.0 1283.1,169.4 1285.9,161.7 1288.7,159.0 1291.4,151.5 1294.2,157.5 1296.9,162.2 1299.5,171.3 1302.2,175.2 1304.8,181.6 1307.4,194.3 1310.0,197.2 1310.9,198.8" stroke="#0000ff"/>
<polyline points="1020.6,254.7 1066.4,253.2 1080.5,254.1 1091.8,254.1 1101.5,254.7 1110.2,254.4 1118.2,254.8 1125.5,255.0 1132.4,254.2 1138.8,255.3 1144.9,255.7 1150.8,254.5 1156.3,255.4 1161.7,256.1 1166.9,254.0 1171.9,254.8 1176.7,254.5 1181.4,254.5 1185.9,254.5 1190.4,254.2 1194.7,253.4 1198.9,254.1 1203.0,253.1 1207.0,253.3 1211.0,252.9 1214.8,251.8 1218.6,250.7 1222.3,249.3 1226.0,247.1 1229.6,242.5 1233.1,239.4 1236.5,237.4 1240.0,234.0 1243.3,231.3 1246.6,230.6 1249.9,224.9 1253.1,218.4 1256.3,213.6 1259.4,207.2 1262.5,202.1 1265.5,194.8 1268.5,192.8 1271.5,185.9 1274.5,176.7 1277.4,172.9 1280.2,164.7 1283.1,167.9 1285.9,162.1 1288.7,164.3 1291.4,166.0 1294.2,172.1 1296.9,178.7 1299.5,188.2 1302.2,196.5 1304.8,195.2 1307.4,194.5 1310.0,194.1 1310.9,197.9" stroke="#0000ff"/>
<polyline points="1020.6,264.4 1066.4,263.2 1080.5,263.2 1091.8,263.0 1101.5,261.7 1110.2,261.4 1118.2,262.8 1125.5,263.2 1132.4,263.4 1138.8,262.8 1144.9,262.4 1150.8,263.4 1156.3,262.7 1161.7,262.9 1166.9,264.0 1171.9,263.8 1176.7,263.2 1181.4,263.4 1185.9,261.9 1190.4,259.9 1194.7,258.8 1198.9,259.0 1203.0,258.3 1207.0,258.7 1211.0,257.7 1214.8,255.6 1218.6,256.7 1222.3,255.9 1226.0,254.6 1229.6,252.0 1233.1,249.0 1236.5,247.6 1240.0,243.1 1243.3,238.0 1246.6,237.3 1249.9,235.4 1253.1,229.4 1256.3,220.7 1259.4,216.5 1262.5,208.1 1265.5,204.9 1268.5,197.6 1271.5,188.8 1274.5,181.3 1277.4,179.3 1280.2,167.5 1283.1,159.1 1285.9,157.5 1288.7,151.1 1291.4,152.2 1294.2,162.8 1296.9,168.9 1299.5,173.6 1302.2,183.0 1304.8,195.2 1307.4,199.1 1310.0,199.7 1310.9,197.0" stroke="#0000ff"/>
<polyline points="1020.6,254.5 1066.4,254.9 1080.5,254.4 1091.8,255.4 1101.5,255.0 1110.2,255.8 1118.2,256.4 1125.5,256.2 1132.4,256.7 1138.8,256.2 1144.9,255.2 1150.8,254.8 1156.3,253.9 1161.7,254.3 1166.9,255.4 1171.9,254.1 1176.7,254.2 1181.4,253.1 1185.9,251.7 1190.4,252.2 1194.7,253.2 1198.9,253.4 1203.0,253.0 1207.0,253.2 1211.0,253.8 1214.8,252.5 1218.6,250.5 1222.3,248.4 1226.0,247.0 1229.6,245.1 1233.1,242.6 1236.5,241.8 1240.0,239.5 1243.3,239.8 1246.6,235.9 1249.9,233.1 1253.1,232.5 1256.3,227.7 1259.4,224.2 1262.5,217.0 1265.5,213.2 1268.5,206.7 1271.5,199.8 1274.5,194.2 1277.4,192.0 1280.2,189.1 1283.1,179.7 1285.9,172.3 1288.7,174.9 1291.4,173.7 1294.2,168.3 1296.9,170.9 1299.5,178.8 1302.2,185.1 1304.8,187.3 1307.4,198.5 1310.0,203.8 1310.9,201.6" stroke="#0000ff"/>
<polyline points="1020.6,248.4 1066.4,246.7 1080.5,247.7 1091.8,248.5 1101.5,248.9 1110.2,247.6 1118.2,248.6 1125.5,248.1 1132.4,246.7 1138.8,248.0 1144.9,247.5 1150.8,247.5 1156.3,246.3 1161.7,246.8 1166.9,247.0 1171.9,245.7 1176.7,245.3 1181.4,246.7 1185.9,245.5 1190.4,245.8 1194.7,244.2 1198.9,243.2 1203.0,243.9 1207.0,244.5 1211.0,245.3 1214.8,244.6 1218.6,244.0 1222.3,243.3 1226.0,240.6 1229.6,240.9 1233.1,237.2 1236.5,233.7 1240.0,230.0 1243.3,227.3 1246.6,223.1 1249.9,222.5 1253.1,222.0 1256.3,215.7 1259.4,210.7 1262.5,201.1 1265.5,193.2 1268.5,187.7 1271.5,180.9 1274.5,178.6 1277.4,172.4 1280.2,167.1 1283.1,161.7 1285.9,155.8 1288.7,150.1 1291.4,144.1 1294.2,145.7 1296.9,146.2 1299.5,154.3 1302.2,153.7 1304.8,161.9 1307.4,169.7 1310.0,179.7 1310.9,178.6" stroke="#0000ff"/>
<polyline points="1020.6,228.8 1066.4,230.2 1080.5,229.1 1091.8,229.7 1101.5,228.9 1110.2,230.0 1118.2,229.7 1125.5,231.0 1132.4,232.2 1138.8,232.5 1144.9,231.0 1150.8,231.6 1156.3,231.7 1161.7,230.8 1166.9,229.3 1171.9,230.5 1176.7,229.8 1181.4,229.0 1185.9,228.4 1190.4,229.1 1194.7,229.2 1198.9,227.8 1203.0,227.1 1207.0,225.2 1211.0,222.9 1214.8,220.1 1218.6,218.0 1222.3,211.2 1226.0,206.8 1229.6,202.3 1233.1,194.3 1236.5,184.3 1240.0,175.0 1243.3,163.6 1246.6,160.7 1249.9,153.9 1253.1,147.8 1256.3,144.9 1259.4,135.9 1262.5,137.4 1265.5,139.7 1268.5,144.2 1271.5,141.0 1274.5,141.3 1277.4,147.8 1280.2,146.3 1283.1,151.2 1285.9,162.2 1288.7,165.5 1291.4,171.3 1294.2,181.5 1296.9,187.4 1299.5,198.1 1302.2,206.1 1304.8,213.4 1307.4,216.8 1310.0,218.0 1310.9,218.5" stroke="#00ff00"/>
<polyline points="1020.6,230.4 1066.4,230.1 1080.5,229.0 1091.8,230.0 1101.5,229.9 1110.2,229.6 1118.2,229.5 1125.5,230.1 1132.4,230.0 1138.8,230.9 1144.9,232.1 1150.8,233.3 1156.3,232.4 1161.7,232.0 1166.9,231.1 1171.9,232.4 1176.7,231.4 1181.4,231.4 1185.9,231.1 1190.4,229.9 1194.7,230.0 1198.9,230.2 1203.0,229.7 1207.0,230.7 1211.0,228.2 1214.8,227.0 1218.6,227.3 1222.3,225.5 1226.0,222.3 1229.6,217.1 1233.1,213.9 1236.5,210.9 1240.0,203.9 1243.3,200.4 1246.6,197.2 1249.9,191.5 1253.1,184.0 1256.3,175.6 1259.4,174.7 1262.5,169.9 1265.5,161.5 1268.5,160.4 1271.5,160.5 1274.5,155.8 1277.4,157.2 1280.2,155.6 1283.1,157.8 1285.9,157.9 1288.7,162.1 1291.4,161.3 1294.2,166.1 1296.9,172.4 1299.5,180.2 1302.2,186.3 1304.8,193.9 1307.4,202.5 1310.0,205.4 1310.9,206.2" stroke="#00ff00"/>
<polyline points="1020.6,245.9 1066.4,246.6 1080.5,245.5 1091.8,247.4 1101.5,247.7 1110.2,247.4 1118.2,246.5 1125.5,247.2 1132.4,247.1 1138.8,248.3 1144.9,248.3 1150.8,248.0 1156.3,248.6 1161.7,250.8 1166.9,250.0 1171.9,251.1 1176.7,250.7 1181.4,250.9 1185.9,249.0 1190.4,249.4 1194.7,248.0 1198.9,248.9 1203.0,248.8 1207.0,245.5 1211.0,242.0 1214.8,241.8 1218.6,239.1 1222.3,236.9 1226.0,229.4 1229.6,224.7 1233.1,219.8 1236.5,213.9 1240.0,200.2 1243.3,190.8 1246.6,180.7 1249.9,175.0 1253.1,164.8 1256.3,153.9 1259.4,151.5 1262.5,143.7 1265.5,137.0 1268.5,131.3 1271.5,135.3 1274.5,137.4 1277.4,142.5 1280.2,144.4 1283.1,152.0 1285.9,155.2 1288.7,161.5 1291.4,166.4 1294.2,174.4 1296.9,187.5 1299.5,198.0 1302.2,206.6 1304.8,214.7 1307.4,221.2 1310.0,230.4 1310.9,232.7" stroke="#00ff00"/>
<polyline points="1020.6,256.1 1066.4,254.7 1080.5,256.2 1091.8,255.0 1101.5,255.0 1110.2,255.5 1118.2,256.8 1125.5,256.4 1132.4,255.7 1138.8,256.8 1144.9,256.5 1150.8,256.9 1156.3,258.5 1161.7,257.3 1166.9,258.3 1171.9,257.9 1176.7,256.8 1181.4,255.7 1185.9,255.0 1190.4,255.9 1194.7,255.0 1198.9,256.3 1203.0,255.9 1207.0,255.0 1211.0,252.3 1214.8,250.5 1218.6,249.0 1222.3,247.0 1226.0,244.3 1229.6,239.7 1233.1,236.7 1236.5,231.9 1240.0,226.6 1243.3,216.9 1246.6,212.6 1249.9,201.3 1253.1,194.8 1256.3,190.7 1259.4,189.4 1262.5,184.1 1265.5,179.4 1268.5,179.9 1271.5,173.1 1274.5,176.6 1277.4,178.3 1280.2,182.3 1283.1,185.7 1285.9,189.9 1288.7,188.5 1291.4,198.8 1294.2,204.8 1296.9,208.8 1299.5,214.5 1302.2,221.6 1304.8,227.4 1307.4,235.4 1310.0,241.3 1310.9,242.7" stroke="#00ff00"/>
<polyline points="1020.6,246.9 1066.4,247.7 1080.5,247.4 1091.8,248.2 1101.5,247.5 1110.2,247.3 1118.2,247.1 1125.5,246.5 1132.4,246.5 1138.8,246.1 1144.9,248.1 1150.8,247.3 1156.3,248.4 1161.7,249.5 1166.9,249.4 1171.9,247.8 1176.7,246.7 1181.4,246.4 1185.9,247.5 1190.4,248.6 1194.7,248.9 1198.9,247.7 1203.0,245.8 1207.0,245.6 1211.0,245.1 1214.8,241.0 1218.6,240.1 1222.3,237.1 1226.0,230.9 1229.6,226.9 1233.1,218.7 1236.5,211.3 1240.0,203.0 1243.3,192.6 1246.6,189.8 1249.9,185.4 1253.1,175.7 1256.3,169.3 1259.4,166.2 1262.5,164.6 1265.5,159.8 1268.5,156.3 1271.5,154.6 1274.5,154.4 1277.4,156.2 1280.2,167.5 1283.1,176.5 1285.9,177.4 1288.7,186.7 1291.4,192.6 1294.2,199.1 1296.9,202.3 1299.5,210.7 1302.2,220.0 1304.8,227.7 1307.4,231.8 1310.0,235.6 1310.9,237.5" stroke="#00ff00"/>
<polyline points="1020.6,241.8 1066.4,240.8 1080.5,241.3 1091.8,242.9 1101.5,242.3 1110.2,241.2 1118.2,241.7 1125.5,241.2 1132.4,242.0 1138.8,242.9 1144.9,243.6 1150.8,244.5 1156.3,244.3 1161.7,242.9 1166.9,243.3 1171.9,242.6 1176.7,243.8 1181.4,243.8 1185.9,243.2 1190.4,243.2 1194.7,244.2 1198.9,242.3 1203.0,243.1 1207.0,241.6 1211.0,238.5 1214.8,238.1 1218.6,237.4 1222.3,236.2 1226.0,233.0 1229.6,225.6 1233.1,222.8 1236.5,218.7 1240.0,210.3 1243.3,204.9 1246.6,196.3 1249.9,187.8 1253.1,185.9 1256.3,183.3 1259.4,173.0 1262.5,163.0 1265.5,158.8 1268.5,157.8 1271.5,161.0 1274.5,160.5 1277.4,165.1 1280.2,165.9 1283.1,172.0 1285.9,172.0 1288.7,173.8 1291.4,179.6 1294.2,186.8 1296.9,194.7 1299.5,201.9 1302.2,207.8 1304.8,208.7 1307.4,217.3 1310.0,221.3 1310.9,223.5" stroke="#00ff00"/>
<polyline points="1020.6,251.4 1066.4,252.0 1080.5,252.3 1091.8,251.1 1101.5,252.5 1110.2,251.3 1118.2,251.4 1125.5,251.6 1132.4,252.1 1138.8,252.3 1144.9,254.0 1150.8,254.6 1156.3,254.8 1161.7,255.4 1166.9,256.3 1171.9,255.0 1176.7,254.7 1181.4,253.5 1185.9,253.7 1190.4,252.1 1194.7,253.1 1198.9,252.8 1203.0,252.8 1207.0,251.7 1211.0,252.5 1214.8,250.6 1218.6,249.2 1222.3,247.2 1226.0,246.8 1229.6,244.6 1233.1,237.6 1236.5,235.2 1240.0,227.7 1243.3,221.1 1246.6,216.2 1249.9,213.1 1253.1,205.7 1256.3,194.9 1259.4,194.6 1262.5,186.1 1265.5,178.6 1268.5,179.6 1271.5,174.8 1274.5,175.7 1277.4,178.6 1280.2,176.7 1283.1,178.3 1285.9,176.8 1288.7,179.3 1291.4,184.9 1294.2,182.8 1296.9,194.1 1299.5,196.4 1302.2,204.3 1304.8,206.8 1307.4,213.0 1310.0,220.2 1310.9,224.4" stroke="#00ff00"/>
<polyline points="1020.6,244.6 1066.4,243.5 1080.5,243.0 1091.8,243.3 1101.5,244.4 1110.2,244.3 1118.2,244.9 1125.5,244.1 1132.4,244.7 1138.8,244.3 1144.9,244.1 1150.8,244.5 1156.3,246.5 1161.7,247.4 1166.9,248.8 1171.9,249.0 1176.7,249.2 1181.4,248.7 1185.9,246.8 1190.4,247.5 1194.7,245.5 1198.9,244.2 1203.0,243.7 1207.0,244.8 1211.0,244.7 1214.8,242.7 1218.6,240.2 1222.3,236.9 1226.0,237.2 1229.6,235.7 1233.1,226.9 1236.5,222.7 1240.0,213.4 1243.3,209.1 1246.6,196.4 1249.9,188.4 1253.1,179.1 1256.3,168.2 1259.4,159.1 1262.5,155.0 1265.5,149.5 1268.5,141.5 1271.5,141.6 1274.5,139.7 1277.4,135.6 1280.2,133.8 1283.1,133.9 1285.9,141.2 1288.7,147.9 1291.4,155.8 1294.2,155.7 1296.9,168.0 1299.5,177.2 1302.2,186.8 1304.8,192.3 1307.4,195.7 1310.0,206.6 1310.9,210.1" stroke="#00ff00"/>
<polyline points="1020.6,273.6 1066.4,275.7 1080.5,275.1 1091.8,273.7 1101.5,274.8 1110.2,275.6 1118.2,275.1 1125.5,273.2 1132.4,274.5 1138.8,275.0 1144.9,273.8 1150.8,270.7 1156.3,266.6 1161.7,264.0 1166.9,250.6 1171.9,238.7 1176.7,221.6 1181.4,204.8 1185.9,180.2 1190.4,165.6 1194.7,146.5 1198.9,123.3 1203.0,109.0 1207.0,91.2 1211.0,69.6 1214.8,56.9 1218.6,48.8 1222.3,40.7 1226.0,30.0 1229.6,25.1 1233.1,29.2 1236.5,45.6 1240.0,60.4 1243.3,72.4 1246.6,91.0 1249.9,96.1 1253.1,114.1 1256.3,128.0 1259.4,138.9 1262.5,155.8 1265.5,166.5 1268.5,182.8 1271.5,194.9 1274.5,204.4 1277.4,212.4 1280.2,221.7 1283.1,226.3 1285.9,234.6 1288.7,236.9 1291.4,242.1 1294.2,244.4 1296.9,250.1 1299.5,252.6 1302.2,253.4 1304.8,255.2 1307.4,257.6 1310.0,257.6 1310.9,257.3" stroke="#ff00ff"/>
<polyline points="1020.6,263.4 1066.4,264.0 1080.5,264.9 1091.8,265.4 1101.5,264.2 1110.2,262.3 1118.2,263.0 1125.5,261.8 1132.4,260.6 1138.8,259.9 1144.9,258.5 1150.8,255.6 1156.3,245.7 1161.7,230.8 1166.9,217.6 1171.9,202.1 1176.7,181.7 1181.4,167.8 1185.9,153.2 1190.4,137.0 1194.7,115.3 1198.9,98.1 1203.0,76.7 1207.0,69.6 1211.0,51.8 1214.8,44.5 1218.6,44.1 1222.3,43.3 1226.0,48.5 1229.6,60.8 1233.1,66.0 1236.5,81.4 1240.0,94.9 1243.3,104.6 1246.6,126.4 1249.9,142.1 1253.1,159.0 1256.3,166.6 1259.4,179.6 1262.5,187.9 1265.5,197.4 1268.5,202.2 1271.5,212.5 1274.5,219.9 1277.4,225.1 1280.2,230.3 1283.1,235.3 1285.9,237.4 1288.7,239.5 1291.4,243.4 1294.2,246.2 1296.9,248.9 1299.5,250.0 1302.2,249.7 1304.8,251.7 1307.4,250.6 1310.0,251.7 1310.9,251.9" stroke="#ff00ff"/>
<polyline points="1020.6,262.1 1066.4,263.6 1080.5,264.2 1091.8,265.3 1101.5,264.6 1110.2,263.3 1118.2,264.2 1125.5,264.4 1132.4,265.1 1138.8,264.5 1144.9,263.9 1150.8,262.1 1156.3,259.2 1161.7,255.1 1166.9,252.7 1171.9,242.6 1176.7,230.5 1181.4,219.6 1185.9,204.5 1190.4,189.2 1194.7,180.1 1198.9,168.2 1203.0,148.7 1207.0,138.8 1211.0,121.9 1214.8,110.1 1218.6,101.3 1222.3,86.5 1226.0,84.2 1229.6,76.7 1233.1,72.3 1236.5,79.5 1240.0,91.3 1243.3,99.1 1246.6,103.0 1249.9,117.7 1253.1,126.7 1256.3,141.9 1259.4,149.4 1262.5,159.0 1265.5,167.4 1268.5,178.3 1271.5,192.3 1274.5,198.8 1277.4,208.0 1280.2,211.8 1283.1,218.7 1285.9,226.0 1288.7,231.9 1291.4,235.7 1294.2,237.6 1296.9,240.1 1299.5,241.7 1302.2,245.1 1304.8,249.2 1307.4,248.9 1310.0,249.7 1310.9,251.9" stroke="#ff00ff"/>
<polyline points="1020.6,269.1 1066.4,271.2 1080.5,270.1 1091.8,269.5 1101.5,270.6 1110.2,269.7 1118.2,268.7 1125.5,268.8 1132.4,267.8 1138.8,268.3 1144.9,270.1 1150.8,269.2 1156.3,265.3 1161.7,261.4 1166.9,256.0 1171.9,245.5 1176.7,234.4 1181.4,223.5 1185.9,215.1 1190.4,204.4 1194.7,194.7 1198.9,175.4 1203.0,159.1 1207.0,143.2 1211.0,130.4 1214.8,123.8 1218.6,116.0 1222.3,114.7 1226.0,114.3 1229.6,110.1 1233.1,113.3 1236.5,116.8 1240.0,118.2 1243.3,128.3 1246.6,139.1 1249.9,150.5 1253.1,156.5 1256.3,160.5 1259.4,171.4 1262.5,179.3 1265.5,187.9 1268.5,195.0 1271.5,202.7 1274.5,212.9 1277.4,224.5 1280.2,231.1 1283.1,236.3 1285.9,240.9 1288.7,244.2 1291.4,246.6 1294.2,249.7 1296.9,253.0 1299.5,253.5 1302.2,253.8 1304.8,255.3 1307.4,258.4 1310.0,258.5 1310.9,258.0" stroke="#ff00ff"/>
<polyline points="1020.6,266.8 1066.4,268.1 1080.5,268.0 1091.8,269.2 1101.5,267.9 1110.2,267.8 1118.2,268.8 1125.5,268.1 1132.4,267.1 1138.8,267.5 1144.9,268.1 1150.8,265.5 1156.3,261.4 1161.7,257.4 1166.9,250.5 1171.9,241.6 1176.7,230.8 1181.4,221.6 1185.9,208.2 1190.4,198.2 1194.7,186.1 1198.9,169.6 1203.0,158.3 1207.0,141.8 1211.0,138.6 1214.8,134.8 1218.6,131.0 1222.3,122.9 1226.0,122.0 1229.6,124.2 1233.1,124.6 1236.5,122.2 1240.0,128.6 1243.3,134.3 1246.6,141.5 1249.9,154.3 1253.1,169.9 1256.3,176.8 1259.4,190.4 1262.5,202.8 1265.5,209.8 1268.5,214.1 1271.5,220.5 1274.5,227.4 1277.4,234.3 1280.2,239.7 1283.1,242.4 1285.9,245.9 1288.7,247.6 1291.4,248.6 1294.2,250.9 1296.9,251.9 1299.5,253.3 1302.2,255.3 1304.8,257.4 1307.4,258.5 1310.0,260.5 1310.9,261.6" stroke="#ff00ff"/>
<polyline points="1020.6,265.5 1066.4,266.2 1080.5,266.4 1091.8,267.0 1101.5,267.4 1110.2,265.9 1118.2,264.4 1125.5,263.4 1132.4,263.5 1138.8,264.5 1144.9,263.4 1150.8,261.6 1156.3,259.7 1161.7,253.3 1166.9,246.4 1171.9,236.9 1176.7,221.2 1181.4,213.8 1185.9,197.5 1190.4,186.1 1194.7,173.7 1198.9,169.4 1203.0,155.7 1207.0,150.2 1211.0,141.4 1214.8,134.0 1218.6,125.5 1222.3,129.4 1226.0,134.0 1229.6,134.1 1233.1,136.3 1236.5,140.6 1240.0,154.2 1243.3,162.1 1246.6,166.1 1249.9,174.0 1253.1,185.3 1256.3,198.3 1259.4,208.3 1262.5,209.2 1265.5,217.6 1268.5,226.6 1271.5,231.4 1274.5,235.9 1277.4,238.2 1280.2,243.9 1283.1,245.6 1285.9,246.2 1288.7,247.9 1291.4,249.5 1294.2,252.7 1296.9,254.6 1299.5,254.1 1302.2,255.9 1304.8,255.4 1307.4,257.6 1310.0,258.2 1310.9,256.7" stroke="#ff00ff"/>
<polyline points="1020.6,265.7 1066.4,267.0 1080.5,266.0 1091.8,266.3 1101.5,265.1 1110.2,264.7 1118.2,264.1 1125.5,264.5 1132.4,265.4 1138.8,264.8 1144.9,263.5 1150.8,262.6 1156.3,258.6 1161.7,251.8 1166.9,244.5 1171.9,234.3 1176.7,219.0 1181.4,207.7 1185.9,199.2 1190.4,188.5 1194.7,179.9 1198.9,168.8 1203.0,162.0 1207.0,149.6 1211.0,140.2 1214.8,138.9 1218.6,136.9 1222.3,137.6 1226.0,138.0 1229.6,138.9 1233.1,141.7 1236.5,157.7 1240.0,160.6 1243.3,173.8 1246.6,186.7 1249.9,194.0 1253.1,199.2 1256.3,210.1 1259.4,214.0 1262.5,216.6 1265.5,222.4 1268.5,226.8 1271.5,234.7 1274.5,239.8 1277.4,244.8 1280.2,247.9 1283.1,247.4 1285.9,247.5 1288.7,251.5 1291.4,253.4 1294.2,254.8 1296.9,254.2 1299.5,256.1 1302.2,258.7 1304.8,260.6 1307.4,261.7 1310.0,260.8 1310.9,261.7" stroke="#ff00ff"/>
<polyline points="1020.6,266.1 1066.4,265.6 1080.5,265.7 1091.8,264.7 1101.5,264.6 1110.2,265.1 1118.2,266.2 1125.5,264.6 1132.4,264.2 1138.8,265.0 1144.9,264.1 1150.8,261.0 1156.3,254.7 1161.7,247.3 1166.9,237.1 1171.9,226.1 1176.7,222.0 1181.4,215.8 1185.9,206.2 1190.4,200.6 1194.7,189.4 1198.9,175.2 1203.0,170.9 1207.0,160.1 1211.0,158.0 1214.8,151.6 1218.6,155.8 1222.3,159.7 1226.0,165.9 1229.6,164.4 1233.1,174.8 1236.5,175.8 1240.0,182.4 1243.3,183.6 1246.6,193.7 1249.9,197.8 1253.1,204.1 1256.3,213.4 1259.4,217.8 1262.5,224.3 1265.5,230.4 1268.5,235.4 1271.5,241.3 1274.5,244.1 1277.4,247.2 1280.2,249.4 1283.1,248.7 1285.9,252.6 1288.7,252.4 1291.4,254.5 1294.2,257.4 1296.9,257.5 1299.5,259.3 1302.2,259.4 1304.8,259.9 1307.4,258.9 1310.0,257.7 1310.9,259.9" stroke="#ff00ff"/>
</g>
<g clip-path="url(#cpb0)" fill="none" stroke="#1c1c1c"><polyline points="1020.6,258.0 1066.4,258.0 1080.5,258.0 1091.8,258.0 1101.5,258.0 1110.2,258.0 1118.2,258.1 1125.5,258.3 1132.4,258.4 1138.8,258.6 1144.9,258.7 1150.8,258.9 1156.3,259.0 1161.7,259.2 1166.9,259.1 1171.9,258.8 1176.7,258.6 1181.4,258.3 1185.9,258.1 1190.4,257.9 1194.7,257.7 1198.9,257.5 1203.0,257.3 1207.0,257.1 1211.0,256.9 1214.8,256.3 1218.6,255.7 1222.3,255.1 1226.0,254.5 1229.6,253.9 1233.1,253.4 1236.5,252.8 1240.0,252.3 1243.3,251.8 1246.6,251.4 1249.9,251.0 1253.1,250.7 1256.3,250.3 1259.4,249.9 1262.5,249.5 1265.5,249.1 1268.5,248.8 1271.5,248.8 1274.5,248.8 1277.4,248.8 1280.2,248.8 1283.1,248.8 1285.9,248.8 1288.7,248.8 1291.4,248.9 1294.2,249.1 1296.9,249.2 1299.5,249.3 1302.2,249.5 1304.8,249.6 1307.4,249.7 1310.0,249.9 1310.9,249.9" stroke-width="1.2" stroke-linejoin="round"/><path d="M1020.6 256.3V259.8M1017.0 256.3h7.2M1017.0 259.8h7.2M1066.4 256.2V259.9M1062.8 256.2h7.2M1062.8 259.9h7.2M1080.5 256.7V259.4M1076.9 256.7h7.2M1076.9 259.4h7.2M1091.8 256.7V259.3M1088.2 256.7h7.2M1088.2 259.3h7.2M1101.5 256.5V259.6M1097.9 256.5h7.2M1097.9 259.6h7.2M1110.2 256.8V259.3M1106.6 256.8h7.2M1106.6 259.3h7.2M1118.2 256.8V259.4M1114.6 256.8h7.2M1114.6 259.4h7.2M1125.5 256.7V259.8M1121.9 256.7h7.2M1121.9 259.8h7.2M1132.4 257.0V259.8M1128.8 257.0h7.2M1128.8 259.8h7.2M1138.8 257.0V260.2M1135.2 257.0h7.2M1135.2 260.2h7.2M1144.9 257.3V260.2M1141.3 257.3h7.2M1141.3 260.2h7.2M1150.8 257.2V260.6M1147.2 257.2h7.2M1147.2 260.6h7.2M1156.3 257.3V260.7M1152.7 257.3h7.2M1152.7 260.7h7.2M1161.7 257.8V260.5M1158.1 257.8h7.2M1158.1 260.5h7.2M1166.9 257.3V260.8M1163.3 257.3h7.2M1163.3 260.8h7.2M1171.9 256.9V260.7M1168.3 256.9h7.2M1168.3 260.7h7.2M1176.7 256.7V260.5M1173.1 256.7h7.2M1173.1 260.5h7.2M1181.4 257.1V259.6M1177.8 257.1h7.2M1177.8 259.6h7.2M1185.9 256.4V259.8M1182.3 256.4h7.2M1182.3 259.8h7.2M1190.4 256.5V259.4M1186.8 256.5h7.2M1186.8 259.4h7.2M1194.7 256.2V259.2M1191.1 256.2h7.2M1191.1 259.2h7.2M1198.9 255.9V259.1M1195.3 255.9h7.2M1195.3 259.1h7.2M1203.0 256.0V258.6M1199.4 256.0h7.2M1199.4 258.6h7.2M1207.0 255.4V258.8M1203.4 255.4h7.2M1203.4 258.8h7.2M1211.0 255.5V258.3M1207.4 255.5h7.2M1207.4 258.3h7.2M1214.8 254.5V258.2M1211.2 254.5h7.2M1211.2 258.2h7.2M1218.6 254.3V257.1M1215.0 254.3h7.2M1215.0 257.1h7.2M1222.3 253.3V256.9M1218.7 253.3h7.2M1218.7 256.9h7.2M1226.0 252.8V256.3M1222.4 252.8h7.2M1222.4 256.3h7.2M1229.6 252.5V255.4M1226.0 252.5h7.2M1226.0 255.4h7.2M1233.1 251.9V254.9M1229.5 251.9h7.2M1229.5 254.9h7.2M1236.5 251.0V254.6M1232.9 251.0h7.2M1232.9 254.6h7.2M1240.0 250.5V254.0M1236.4 250.5h7.2M1236.4 254.0h7.2M1243.3 250.2V253.5M1239.7 250.2h7.2M1239.7 253.5h7.2M1246.6 249.9V253.0M1243.0 249.9h7.2M1243.0 253.0h7.2M1249.9 249.3V252.8M1246.3 249.3h7.2M1246.3 252.8h7.2M1253.1 248.5V252.8M1249.5 248.5h7.2M1249.5 252.8h7.2M1256.3 248.6V251.9M1252.7 248.6h7.2M1252.7 251.9h7.2M1259.4 247.7V252.1M1255.8 247.7h7.2M1255.8 252.1h7.2M1262.5 247.8V251.2M1258.9 247.8h7.2M1258.9 251.2h7.2M1265.5 246.9V251.4M1261.9 246.9h7.2M1261.9 251.4h7.2M1268.5 246.5V251.0M1264.9 246.5h7.2M1264.9 251.0h7.2M1271.5 246.4V251.1M1267.9 246.4h7.2M1267.9 251.1h7.2M1274.5 246.8V250.7M1270.9 246.8h7.2M1270.9 250.7h7.2M1277.4 246.3V251.2M1273.8 246.3h7.2M1273.8 251.2h7.2M1280.2 246.8V250.7M1276.6 246.8h7.2M1276.6 250.7h7.2M1283.1 246.6V250.9M1279.5 246.6h7.2M1279.5 250.9h7.2M1285.9 246.5V251.0M1282.3 246.5h7.2M1282.3 251.0h7.2M1288.7 247.1V250.5M1285.1 247.1h7.2M1285.1 250.5h7.2M1291.4 247.3V250.6M1287.8 247.3h7.2M1287.8 250.6h7.2M1294.2 246.9V251.2M1290.6 246.9h7.2M1290.6 251.2h7.2M1296.9 247.4V251.0M1293.3 247.4h7.2M1293.3 251.0h7.2M1299.5 247.6V251.1M1295.9 247.6h7.2M1295.9 251.1h7.2M1302.2 247.5V251.5M1298.6 247.5h7.2M1298.6 251.5h7.2M1304.8 247.9V251.3M1301.2 247.9h7.2M1301.2 251.3h7.2M1307.4 247.9V251.5M1303.8 247.9h7.2M1303.8 251.5h7.2M1310.0 248.1V251.6M1306.4 248.1h7.2M1306.4 251.6h7.2M1310.9 248.3V251.6M1307.3 248.3h7.2M1307.3 251.6h7.2" stroke-width="0.95"/></g>
<g clip-path="url(#cpb0)" fill="none" stroke="#1c1c1c"><polyline points="1020.6,261.5 1066.4,261.0 1080.5,260.8 1091.8,260.7 1101.5,260.5 1110.2,260.4 1118.2,260.4 1125.5,260.4 1132.4,260.4 1138.8,260.4 1144.9,260.4 1150.8,260.4 1156.3,260.4 1161.7,260.4 1166.9,260.2 1171.9,260.0 1176.7,259.7 1181.4,259.5 1185.9,259.3 1190.4,259.1 1194.7,258.9 1198.9,258.7 1203.0,258.5 1207.0,258.3 1211.0,258.1 1214.8,257.2 1218.6,256.3 1222.3,255.4 1226.0,254.5 1229.6,253.6 1233.1,251.8 1236.5,249.6 1240.0,247.4 1243.3,245.3 1246.6,243.2 1249.9,241.2 1253.1,239.1 1256.3,235.5 1259.4,230.7 1262.5,226.0 1265.5,221.4 1268.5,216.8 1271.5,212.3 1274.5,207.5 1277.4,202.3 1280.2,197.2 1283.1,192.1 1285.9,187.1 1288.7,182.8 1291.4,179.8 1294.2,176.9 1296.9,177.8 1299.5,182.0 1302.2,186.2 1304.8,192.6 1307.4,198.9 1310.0,205.2 1310.9,206.9" stroke-width="1.2" stroke-linejoin="round"/><path d="M1020.6 257.6V265.4M1017.0 257.6h7.2M1017.0 265.4h7.2M1066.4 257.0V265.0M1062.8 257.0h7.2M1062.8 265.0h7.2M1080.5 256.9V264.7M1076.9 256.9h7.2M1076.9 264.7h7.2M1091.8 257.2V264.1M1088.2 257.2h7.2M1088.2 264.1h7.2M1101.5 256.4V264.7M1097.9 256.4h7.2M1097.9 264.7h7.2M1110.2 256.8V264.1M1106.6 256.8h7.2M1106.6 264.1h7.2M1118.2 256.7V264.0M1114.6 256.7h7.2M1114.6 264.0h7.2M1125.5 257.5V263.3M1121.9 257.5h7.2M1121.9 263.3h7.2M1132.4 257.0V263.7M1128.8 257.0h7.2M1128.8 263.7h7.2M1138.8 257.2V263.5M1135.2 257.2h7.2M1135.2 263.5h7.2M1144.9 256.6V264.2M1141.3 256.6h7.2M1141.3 264.2h7.2M1150.8 256.1V264.6M1147.2 256.1h7.2M1147.2 264.6h7.2M1156.3 256.6V264.1M1152.7 256.6h7.2M1152.7 264.1h7.2M1161.7 257.0V263.7M1158.1 257.0h7.2M1158.1 263.7h7.2M1166.9 256.1V264.3M1163.3 256.1h7.2M1163.3 264.3h7.2M1171.9 256.9V263.0M1168.3 256.9h7.2M1168.3 263.0h7.2M1176.7 255.6V263.8M1173.1 255.6h7.2M1173.1 263.8h7.2M1181.4 256.5V262.5M1177.8 256.5h7.2M1177.8 262.5h7.2M1185.9 254.9V263.7M1182.3 254.9h7.2M1182.3 263.7h7.2M1190.4 255.0V263.2M1186.8 255.0h7.2M1186.8 263.2h7.2M1194.7 254.4V263.3M1191.1 254.4h7.2M1191.1 263.3h7.2M1198.9 254.9V262.4M1195.3 254.9h7.2M1195.3 262.4h7.2M1203.0 254.4V262.5M1199.4 254.4h7.2M1199.4 262.5h7.2M1207.0 254.6V261.9M1203.4 254.6h7.2M1203.4 261.9h7.2M1211.0 253.8V262.3M1207.4 253.8h7.2M1207.4 262.3h7.2M1214.8 253.2V261.2M1211.2 253.2h7.2M1211.2 261.2h7.2M1218.6 252.3V260.3M1215.0 252.3h7.2M1215.0 260.3h7.2M1222.3 250.7V260.1M1218.7 250.7h7.2M1218.7 260.1h7.2M1226.0 249.5V259.5M1222.4 249.5h7.2M1222.4 259.5h7.2M1229.6 249.7V257.6M1226.0 249.7h7.2M1226.0 257.6h7.2M1233.1 247.7V255.9M1229.5 247.7h7.2M1229.5 255.9h7.2M1236.5 243.8V255.4M1232.9 243.8h7.2M1232.9 255.4h7.2M1240.0 242.7V252.2M1236.4 242.7h7.2M1236.4 252.2h7.2M1243.3 240.3V250.3M1239.7 240.3h7.2M1239.7 250.3h7.2M1246.6 237.6V248.9M1243.0 237.6h7.2M1243.0 248.9h7.2M1249.9 235.9V246.4M1246.3 235.9h7.2M1246.3 246.4h7.2M1253.1 233.2V245.0M1249.5 233.2h7.2M1249.5 245.0h7.2M1256.3 229.6V241.3M1252.7 229.6h7.2M1252.7 241.3h7.2M1259.4 223.9V237.5M1255.8 223.9h7.2M1255.8 237.5h7.2M1262.5 217.6V234.4M1258.9 217.6h7.2M1258.9 234.4h7.2M1265.5 212.5V230.2M1261.9 212.5h7.2M1261.9 230.2h7.2M1268.5 206.8V226.8M1264.9 206.8h7.2M1264.9 226.8h7.2M1271.5 201.6V222.9M1267.9 201.6h7.2M1267.9 222.9h7.2M1274.5 198.8V216.2M1270.9 198.8h7.2M1270.9 216.2h7.2M1277.4 191.0V213.6M1273.8 191.0h7.2M1273.8 213.6h7.2M1280.2 185.6V208.8M1276.6 185.6h7.2M1276.6 208.8h7.2M1283.1 180.2V204.0M1279.5 180.2h7.2M1279.5 204.0h7.2M1285.9 175.3V198.9M1282.3 175.3h7.2M1282.3 198.9h7.2M1288.7 168.3V197.2M1285.1 168.3h7.2M1285.1 197.2h7.2M1291.4 166.8V192.9M1287.8 166.8h7.2M1287.8 192.9h7.2M1294.2 161.6V192.3M1290.6 161.6h7.2M1290.6 192.3h7.2M1296.9 166.9V188.7M1293.3 166.9h7.2M1293.3 188.7h7.2M1299.5 170.2V193.7M1295.9 170.2h7.2M1295.9 193.7h7.2M1302.2 175.9V196.4M1298.6 175.9h7.2M1298.6 196.4h7.2M1304.8 180.3V204.8M1301.2 180.3h7.2M1301.2 204.8h7.2M1307.4 188.5V209.3M1303.8 188.5h7.2M1303.8 209.3h7.2M1310.0 196.0V214.3M1306.4 196.0h7.2M1306.4 214.3h7.2M1310.9 197.9V215.9M1307.3 197.9h7.2M1307.3 215.9h7.2" stroke-width="0.95"/></g>
<g clip-path="url(#cpb0)" fill="none" stroke="#1c1c1c"><polyline points="1020.6,256.9 1066.4,256.9 1080.5,256.9 1091.8,256.9 1101.5,256.9 1110.2,256.9 1118.2,257.0 1125.5,257.3 1132.4,257.7 1138.8,258.0 1144.9,258.3 1150.8,258.6 1156.3,258.8 1161.7,259.1 1166.9,259.0 1171.9,258.7 1176.7,258.4 1181.4,258.1 1185.9,257.9 1190.4,257.6 1194.7,257.3 1198.9,257.1 1203.0,256.4 1207.0,254.7 1211.0,253.0 1214.8,251.4 1218.6,249.8 1222.3,246.7 1226.0,241.1 1229.6,235.6 1233.1,230.1 1236.5,223.9 1240.0,216.1 1243.3,208.5 1246.6,201.0 1249.9,193.7 1253.1,187.8 1256.3,182.0 1259.4,176.5 1262.5,173.2 1265.5,170.0 1268.5,169.2 1271.5,170.3 1274.5,171.4 1277.4,173.3 1280.2,176.8 1283.1,180.3 1285.9,183.7 1288.7,190.5 1291.4,197.2 1294.2,203.8 1296.9,210.4 1299.5,217.3 1302.2,224.2 1304.8,231.0 1307.4,237.8 1310.0,244.5 1310.9,246.4" stroke-width="1.2" stroke-linejoin="round"/><path d="M1020.6 253.4V260.3M1017.0 253.4h7.2M1017.0 260.3h7.2M1066.4 253.7V260.1M1062.8 253.7h7.2M1062.8 260.1h7.2M1080.5 253.4V260.3M1076.9 253.4h7.2M1076.9 260.3h7.2M1091.8 253.3V260.5M1088.2 253.3h7.2M1088.2 260.5h7.2M1101.5 254.1V259.7M1097.9 254.1h7.2M1097.9 259.7h7.2M1110.2 253.8V259.9M1106.6 253.8h7.2M1106.6 259.9h7.2M1118.2 253.5V260.5M1114.6 253.5h7.2M1114.6 260.5h7.2M1125.5 253.6V261.1M1121.9 253.6h7.2M1121.9 261.1h7.2M1132.4 254.0V261.4M1128.8 254.0h7.2M1128.8 261.4h7.2M1138.8 254.1V261.9M1135.2 254.1h7.2M1135.2 261.9h7.2M1144.9 254.8V261.8M1141.3 254.8h7.2M1141.3 261.8h7.2M1150.8 254.3V262.8M1147.2 254.3h7.2M1147.2 262.8h7.2M1156.3 254.8V262.9M1152.7 254.8h7.2M1152.7 262.9h7.2M1161.7 255.4V262.8M1158.1 255.4h7.2M1158.1 262.8h7.2M1166.9 255.2V262.8M1163.3 255.2h7.2M1163.3 262.8h7.2M1171.9 254.6V262.8M1168.3 254.6h7.2M1168.3 262.8h7.2M1176.7 255.1V261.7M1173.1 255.1h7.2M1173.1 261.7h7.2M1181.4 254.8V261.4M1177.8 254.8h7.2M1177.8 261.4h7.2M1185.9 254.3V261.4M1182.3 254.3h7.2M1182.3 261.4h7.2M1190.4 254.0V261.1M1186.8 254.0h7.2M1186.8 261.1h7.2M1194.7 254.4V260.2M1191.1 254.4h7.2M1191.1 260.2h7.2M1198.9 253.6V260.5M1195.3 253.6h7.2M1195.3 260.5h7.2M1203.0 252.3V260.5M1199.4 252.3h7.2M1199.4 260.5h7.2M1207.0 250.5V258.9M1203.4 250.5h7.2M1203.4 258.9h7.2M1211.0 249.1V257.0M1207.4 249.1h7.2M1207.4 257.0h7.2M1214.8 247.0V255.8M1211.2 247.0h7.2M1211.2 255.8h7.2M1218.6 245.7V253.8M1215.0 245.7h7.2M1215.0 253.8h7.2M1222.3 242.9V250.5M1218.7 242.9h7.2M1218.7 250.5h7.2M1226.0 235.2V247.0M1222.4 235.2h7.2M1222.4 247.0h7.2M1229.6 229.6V241.5M1226.0 229.6h7.2M1226.0 241.5h7.2M1233.1 223.4V236.9M1229.5 223.4h7.2M1229.5 236.9h7.2M1236.5 216.4V231.4M1232.9 216.4h7.2M1232.9 231.4h7.2M1240.0 206.5V225.8M1236.4 206.5h7.2M1236.4 225.8h7.2M1243.3 200.3V216.7M1239.7 200.3h7.2M1239.7 216.7h7.2M1246.6 190.9V211.1M1243.0 190.9h7.2M1243.0 211.1h7.2M1249.9 182.1V205.3M1246.3 182.1h7.2M1246.3 205.3h7.2M1253.1 175.7V200.0M1249.5 175.7h7.2M1249.5 200.0h7.2M1256.3 168.1V195.9M1252.7 168.1h7.2M1252.7 195.9h7.2M1259.4 166.2V186.8M1255.8 166.2h7.2M1255.8 186.8h7.2M1262.5 158.7V187.7M1258.9 158.7h7.2M1258.9 187.7h7.2M1265.5 159.1V180.8M1261.9 159.1h7.2M1261.9 180.8h7.2M1268.5 156.9V181.6M1264.9 156.9h7.2M1264.9 181.6h7.2M1271.5 157.8V182.8M1267.9 157.8h7.2M1267.9 182.8h7.2M1274.5 156.7V186.1M1270.9 156.7h7.2M1270.9 186.1h7.2M1277.4 158.4V188.3M1273.8 158.4h7.2M1273.8 188.3h7.2M1280.2 164.0V189.6M1276.6 164.0h7.2M1276.6 189.6h7.2M1283.1 167.9V192.7M1279.5 167.9h7.2M1279.5 192.7h7.2M1285.9 171.2V196.2M1282.3 171.2h7.2M1282.3 196.2h7.2M1288.7 181.6V199.4M1285.1 181.6h7.2M1285.1 199.4h7.2M1291.4 187.5V206.9M1287.8 187.5h7.2M1287.8 206.9h7.2M1294.2 194.5V213.1M1290.6 194.5h7.2M1290.6 213.1h7.2M1296.9 203.2V217.5M1293.3 203.2h7.2M1293.3 217.5h7.2M1299.5 209.9V224.6M1295.9 209.9h7.2M1295.9 224.6h7.2M1302.2 217.7V230.7M1298.6 217.7h7.2M1298.6 230.7h7.2M1304.8 225.6V236.5M1301.2 225.6h7.2M1301.2 236.5h7.2M1307.4 232.9V242.7M1303.8 232.9h7.2M1303.8 242.7h7.2M1310.0 239.9V249.1M1306.4 239.9h7.2M1306.4 249.1h7.2M1310.9 241.5V251.4M1307.3 241.5h7.2M1307.3 251.4h7.2" stroke-width="0.95"/></g>
<g clip-path="url(#cpb0)" fill="none" stroke="#1c1c1c"><polyline points="1020.6,269.7 1066.4,270.6 1080.5,270.8 1091.8,270.6 1101.5,270.4 1110.2,270.3 1118.2,270.1 1125.5,270.0 1132.4,269.9 1138.8,269.8 1144.9,269.5 1150.8,266.7 1156.3,264.0 1161.7,258.0 1166.9,249.2 1171.9,238.3 1176.7,226.5 1181.4,214.6 1185.9,202.8 1190.4,191.3 1194.7,179.5 1198.9,167.5 1203.0,155.8 1207.0,144.7 1211.0,136.5 1214.8,128.5 1218.6,123.9 1222.3,121.2 1226.0,118.9 1229.6,123.3 1233.1,127.5 1236.5,133.5 1240.0,142.5 1243.3,151.3 1246.6,160.1 1249.9,169.8 1253.1,179.4 1256.3,188.9 1259.4,198.2 1262.5,206.0 1265.5,213.8 1268.5,221.4 1271.5,228.1 1274.5,232.8 1277.4,237.4 1280.2,242.0 1283.1,246.5 1285.9,248.8 1288.7,251.0 1291.4,253.2 1294.2,255.5 1296.9,257.6 1299.5,258.8 1302.2,259.7 1304.8,260.6 1307.4,261.5 1310.0,262.4 1310.9,262.7" stroke-width="1.2" stroke-linejoin="round"/><path d="M1020.6 265.7V273.6M1017.0 265.7h7.2M1017.0 273.6h7.2M1066.4 267.3V273.9M1062.8 267.3h7.2M1062.8 273.9h7.2M1080.5 266.8V274.8M1076.9 266.8h7.2M1076.9 274.8h7.2M1091.8 266.7V274.4M1088.2 266.7h7.2M1088.2 274.4h7.2M1101.5 267.4V273.4M1097.9 267.4h7.2M1097.9 273.4h7.2M1110.2 267.2V273.4M1106.6 267.2h7.2M1106.6 273.4h7.2M1118.2 266.1V274.2M1114.6 266.1h7.2M1114.6 274.2h7.2M1125.5 267.0V273.0M1121.9 267.0h7.2M1121.9 273.0h7.2M1132.4 266.2V273.5M1128.8 266.2h7.2M1128.8 273.5h7.2M1138.8 266.2V273.3M1135.2 266.2h7.2M1135.2 273.3h7.2M1144.9 265.6V273.4M1141.3 265.6h7.2M1141.3 273.4h7.2M1150.8 262.5V270.9M1147.2 262.5h7.2M1147.2 270.9h7.2M1156.3 259.3V268.6M1152.7 259.3h7.2M1152.7 268.6h7.2M1161.7 254.0V262.1M1158.1 254.0h7.2M1158.1 262.1h7.2M1166.9 242.9V255.5M1163.3 242.9h7.2M1163.3 255.5h7.2M1171.9 230.2V246.4M1168.3 230.2h7.2M1168.3 246.4h7.2M1176.7 217.6V235.4M1173.1 217.6h7.2M1173.1 235.4h7.2M1181.4 203.1V226.1M1177.8 203.1h7.2M1177.8 226.1h7.2M1185.9 193.6V212.0M1182.3 193.6h7.2M1182.3 212.0h7.2M1190.4 179.1V203.4M1186.8 179.1h7.2M1186.8 203.4h7.2M1194.7 163.7V195.3M1191.1 163.7h7.2M1191.1 195.3h7.2M1198.9 155.2V179.8M1195.3 155.2h7.2M1195.3 179.8h7.2M1203.0 143.3V168.3M1199.4 143.3h7.2M1199.4 168.3h7.2M1207.0 132.4V156.9M1203.4 132.4h7.2M1203.4 156.9h7.2M1211.0 123.9V149.2M1207.4 123.9h7.2M1207.4 149.2h7.2M1214.8 115.6V141.5M1211.2 115.6h7.2M1211.2 141.5h7.2M1218.6 110.5V137.2M1215.0 110.5h7.2M1215.0 137.2h7.2M1222.3 109.1V133.2M1218.7 109.1h7.2M1218.7 133.2h7.2M1226.0 105.6V132.2M1222.4 105.6h7.2M1222.4 132.2h7.2M1229.6 107.6V138.9M1226.0 107.6h7.2M1226.0 138.9h7.2M1233.1 115.0V140.1M1229.5 115.0h7.2M1229.5 140.1h7.2M1236.5 121.5V145.5M1232.9 121.5h7.2M1232.9 145.5h7.2M1240.0 126.9V158.0M1236.4 126.9h7.2M1236.4 158.0h7.2M1243.3 136.9V165.8M1239.7 136.9h7.2M1239.7 165.8h7.2M1246.6 145.2V175.0M1243.0 145.2h7.2M1243.0 175.0h7.2M1249.9 154.2V185.3M1246.3 154.2h7.2M1246.3 185.3h7.2M1253.1 163.5V195.3M1249.5 163.5h7.2M1249.5 195.3h7.2M1256.3 177.3V200.5M1252.7 177.3h7.2M1252.7 200.5h7.2M1259.4 188.9V207.4M1255.8 188.9h7.2M1255.8 207.4h7.2M1262.5 194.3V217.7M1258.9 194.3h7.2M1258.9 217.7h7.2M1265.5 203.3V224.2M1261.9 203.3h7.2M1261.9 224.2h7.2M1268.5 212.9V229.9M1264.9 212.9h7.2M1264.9 229.9h7.2M1271.5 218.6V237.6M1267.9 218.6h7.2M1267.9 237.6h7.2M1274.5 224.2V241.3M1270.9 224.2h7.2M1270.9 241.3h7.2M1277.4 230.1V244.7M1273.8 230.1h7.2M1273.8 244.7h7.2M1280.2 235.1V248.9M1276.6 235.1h7.2M1276.6 248.9h7.2M1283.1 240.6V252.4M1279.5 240.6h7.2M1279.5 252.4h7.2M1285.9 243.7V253.8M1282.3 243.7h7.2M1282.3 253.8h7.2M1288.7 245.9V256.1M1285.1 245.9h7.2M1285.1 256.1h7.2M1291.4 247.4V259.0M1287.8 247.4h7.2M1287.8 259.0h7.2M1294.2 250.4V260.5M1290.6 250.4h7.2M1290.6 260.5h7.2M1296.9 252.8V262.5M1293.3 252.8h7.2M1293.3 262.5h7.2M1299.5 253.8V263.8M1295.9 253.8h7.2M1295.9 263.8h7.2M1302.2 254.3V265.1M1298.6 254.3h7.2M1298.6 265.1h7.2M1304.8 256.8V264.4M1301.2 256.8h7.2M1301.2 264.4h7.2M1307.4 257.9V265.2M1303.8 257.9h7.2M1303.8 265.2h7.2M1310.0 257.7V267.2M1306.4 257.7h7.2M1306.4 267.2h7.2M1310.9 258.9V266.5M1307.3 258.9h7.2M1307.3 266.5h7.2" stroke-width="0.95"/></g>
<rect x="1020.60" y="23.40" width="290.30" height="290.40" fill="none" stroke="#222" stroke-width="2.7"/>
<path d="M1116.03 313.80v-4.5M1116.03 23.40v4.5M1211.46 313.80v-4.5M1211.46 23.40v4.5M1306.89 313.80v-4.5M1306.89 23.40v4.5M1020.60 255.72h4.5M1310.90 255.72h-4.5M1020.60 197.64h4.5M1310.90 197.64h-4.5M1020.60 139.56h4.5M1310.90 139.56h-4.5M1020.60 81.48h4.5M1310.90 81.48h-4.5" stroke="#222" stroke-width="2.03" fill="none"/>
<text x="1020.6" y="341.0" font-size="21.8" fill="#222" text-anchor="middle" >0</text>
<text x="1116.0" y="341.0" font-size="21.8" fill="#222" text-anchor="middle" >100</text>
<text x="1211.5" y="341.0" font-size="21.8" fill="#222" text-anchor="middle" >200</text>
<text x="1306.9" y="341.0" font-size="21.8" fill="#222" text-anchor="middle" >300</text>
<text x="1013.6" y="322.5" font-size="21.8" fill="#222" text-anchor="end" >0</text>
<text x="1013.6" y="264.4" font-size="21.8" fill="#222" text-anchor="end" >50</text>
<text x="1013.6" y="206.3" font-size="21.8" fill="#222" text-anchor="end" >100</text>
<text x="1013.6" y="148.3" font-size="21.8" fill="#222" text-anchor="end" >150</text>
<text x="1013.6" y="90.2" font-size="21.8" fill="#222" text-anchor="end" >200</text>
<text x="1013.6" y="32.1" font-size="21.8" fill="#222" text-anchor="end" >250</text>
<text x="1028.5" y="370.3" font-size="23.6" fill="#111" textLength="274.5" lengthAdjust="spacingAndGlyphs">Distance from center (µm)</text>
<text x="965.1" y="340.0" font-size="23.5" fill="#111" textLength="317.5" lengthAdjust="spacingAndGlyphs" transform="rotate(-90 965.1 340.0)" >Lefty RNA intensity (arb. units)</text>
<path d="M1027.2 48.2h41.7M1048.4 36.2v24M1043.6 36.2h9.6M1043.6 60.2h9.6" stroke="#ff0000" stroke-width="1.3" fill="none"/>
<circle cx="1048.4" cy="48.2" r="1.6" fill="#ff0000"/>
<text x="1067.6" y="58.2" font-size="23.4" fill="#000" textLength="89.6" lengthAdjust="spacingAndGlyphs" >BMP12h</text>
<path d="M1027.2 83.8h41.7M1048.4 71.8v24M1043.6 71.8h9.6M1043.6 95.8h9.6" stroke="#0000ff" stroke-width="1.3" fill="none"/>
<circle cx="1048.4" cy="83.8" r="1.6" fill="#0000ff"/>
<text x="1067.6" y="93.8" font-size="23.4" fill="#000" textLength="89.6" lengthAdjust="spacingAndGlyphs" >BMP24h</text>
<path d="M1027.2 119.4h41.7M1048.4 107.4v24M1043.6 107.4h9.6M1043.6 131.4h9.6" stroke="#00ff00" stroke-width="1.3" fill="none"/>
<circle cx="1048.4" cy="119.4" r="1.6" fill="#00ff00"/>
<text x="1067.6" y="129.4" font-size="23.4" fill="#000" textLength="89.6" lengthAdjust="spacingAndGlyphs" >BMP30h</text>
<path d="M1027.2 155.0h41.7M1048.4 143.0v24M1043.6 143.0h9.6M1043.6 167.0h9.6" stroke="#ff00ff" stroke-width="1.3" fill="none"/>
<circle cx="1048.4" cy="155.0" r="1.6" fill="#ff00ff"/>
<text x="1067.6" y="165.0" font-size="23.4" fill="#000" textLength="89.6" lengthAdjust="spacingAndGlyphs" >BMP36h</text>
<clipPath id="cpb1"><rect x="1404.4" y="23.4" width="289.1999999999998" height="290.40000000000003"/></clipPath>
<g clip-path="url(#cpb1)" fill="none" stroke-width="0.7" stroke-linejoin="miter">
<polyline points="1404.4,244.2 1450.0,247.0 1464.0,247.4 1475.3,246.4 1485.0,246.1 1493.7,247.1 1501.6,247.0 1508.9,248.3 1515.7,247.2 1522.2,249.5 1528.3,249.2 1534.1,248.4 1539.6,247.5 1545.0,248.2 1550.1,248.8 1555.1,248.3 1559.9,247.4 1564.6,247.8 1569.1,247.2 1573.5,247.8 1577.8,248.5 1582.0,248.8 1586.1,248.5 1590.1,247.5 1594.0,247.6 1597.9,245.5 1601.7,243.9 1605.4,243.4 1609.0,243.3 1612.6,242.2 1616.1,239.8 1619.5,238.1 1622.9,237.2 1626.3,237.3 1629.6,235.5 1632.8,235.2 1636.0,235.3 1639.2,233.0 1642.3,232.2 1645.4,233.7 1648.4,234.3 1651.4,232.9 1654.4,230.6 1657.3,230.3 1660.2,229.5 1663.1,230.4 1665.9,228.9 1668.7,228.8 1671.5,228.8 1674.2,229.3 1676.9,227.9 1679.6,225.9 1682.3,225.8 1684.9,225.4 1687.5,225.2 1690.1,224.3 1692.7,223.7 1693.6,226.5" stroke="#ff0000"/>
<polyline points="1404.4,239.9 1450.0,241.7 1464.0,243.0 1475.3,243.0 1485.0,244.7 1493.7,243.7 1501.6,243.4 1508.9,242.8 1515.7,243.6 1522.2,242.7 1528.3,243.9 1534.1,245.9 1539.6,246.9 1545.0,246.2 1550.1,245.9 1555.1,245.5 1559.9,245.5 1564.6,243.7 1569.1,241.7 1573.5,240.3 1577.8,241.0 1582.0,240.8 1586.1,240.5 1590.1,239.4 1594.0,237.9 1597.9,237.5 1601.7,238.2 1605.4,237.3 1609.0,237.4 1612.6,235.0 1616.1,232.1 1619.5,231.4 1622.9,230.3 1626.3,229.7 1629.6,227.5 1632.8,228.8 1636.0,227.8 1639.2,227.9 1642.3,227.2 1645.4,227.5 1648.4,225.1 1651.4,225.3 1654.4,225.5 1657.3,223.2 1660.2,225.2 1663.1,225.5 1665.9,222.5 1668.7,221.6 1671.5,223.0 1674.2,224.0 1676.9,222.1 1679.6,220.2 1682.3,218.1 1684.9,217.0 1687.5,217.3 1690.1,220.5 1692.7,219.3 1693.6,220.1" stroke="#ff0000"/>
<polyline points="1404.4,245.3 1450.0,246.3 1464.0,247.4 1475.3,245.9 1485.0,247.8 1493.7,246.5 1501.6,245.5 1508.9,247.7 1515.7,246.7 1522.2,246.8 1528.3,247.4 1534.1,247.9 1539.6,247.7 1545.0,246.2 1550.1,245.7 1555.1,246.1 1559.9,246.4 1564.6,247.3 1569.1,246.6 1573.5,245.2 1577.8,244.9 1582.0,244.8 1586.1,245.1 1590.1,243.2 1594.0,242.3 1597.9,242.4 1601.7,241.8 1605.4,240.8 1609.0,241.7 1612.6,240.8 1616.1,241.3 1619.5,239.7 1622.9,240.1 1626.3,237.8 1629.6,237.2 1632.8,237.3 1636.0,237.0 1639.2,236.6 1642.3,237.5 1645.4,238.8 1648.4,237.7 1651.4,237.6 1654.4,236.7 1657.3,237.3 1660.2,237.6 1663.1,234.4 1665.9,235.0 1668.7,233.6 1671.5,235.4 1674.2,236.6 1676.9,234.6 1679.6,234.5 1682.3,232.7 1684.9,235.1 1687.5,234.5 1690.1,233.6 1692.7,234.8 1693.6,233.3" stroke="#ff0000"/>
<polyline points="1404.4,250.4 1450.0,251.8 1464.0,250.8 1475.3,252.0 1485.0,252.4 1493.7,252.6 1501.6,253.1 1508.9,251.4 1515.7,250.5 1522.2,252.3 1528.3,251.7 1534.1,250.6 1539.6,252.8 1545.0,252.6 1550.1,253.5 1555.1,253.0 1559.9,253.2 1564.6,252.2 1569.1,252.2 1573.5,250.6 1577.8,250.5 1582.0,251.2 1586.1,250.2 1590.1,249.6 1594.0,248.0 1597.9,246.8 1601.7,247.3 1605.4,246.9 1609.0,245.4 1612.6,243.4 1616.1,243.4 1619.5,242.9 1622.9,243.4 1626.3,243.1 1629.6,243.1 1632.8,242.3 1636.0,242.3 1639.2,242.1 1642.3,242.9 1645.4,243.1 1648.4,239.8 1651.4,239.8 1654.4,237.1 1657.3,238.4 1660.2,238.7 1663.1,236.5 1665.9,237.0 1668.7,236.3 1671.5,235.3 1674.2,236.3 1676.9,237.7 1679.6,239.3 1682.3,236.4 1684.9,235.8 1687.5,234.5 1690.1,232.9 1692.7,232.4 1693.6,233.4" stroke="#ff0000"/>
<polyline points="1404.4,251.0 1450.0,254.6 1464.0,254.9 1475.3,254.8 1485.0,253.2 1493.7,252.0 1501.6,251.5 1508.9,253.2 1515.7,252.6 1522.2,253.8 1528.3,254.6 1534.1,254.5 1539.6,256.2 1545.0,255.3 1550.1,256.3 1555.1,254.9 1559.9,253.4 1564.6,254.5 1569.1,253.2 1573.5,252.6 1577.8,252.6 1582.0,251.2 1586.1,251.5 1590.1,251.9 1594.0,251.4 1597.9,250.4 1601.7,248.1 1605.4,248.1 1609.0,247.2 1612.6,245.1 1616.1,244.4 1619.5,244.1 1622.9,244.1 1626.3,243.2 1629.6,241.6 1632.8,239.4 1636.0,236.9 1639.2,236.8 1642.3,236.6 1645.4,235.2 1648.4,235.2 1651.4,235.7 1654.4,234.0 1657.3,232.2 1660.2,233.3 1663.1,231.3 1665.9,233.4 1668.7,233.9 1671.5,233.4 1674.2,230.6 1676.9,230.7 1679.6,231.2 1682.3,231.8 1684.9,231.0 1687.5,230.1 1690.1,229.2 1692.7,227.2 1693.6,229.6" stroke="#ff0000"/>
<polyline points="1404.4,242.4 1450.0,244.9 1464.0,245.3 1475.3,246.9 1485.0,247.5 1493.7,246.7 1501.6,248.4 1508.9,248.7 1515.7,247.3 1522.2,248.4 1528.3,249.0 1534.1,249.4 1539.6,249.6 1545.0,248.9 1550.1,250.4 1555.1,249.6 1559.9,249.0 1564.6,246.7 1569.1,245.5 1573.5,246.2 1577.8,246.4 1582.0,244.3 1586.1,245.7 1590.1,244.4 1594.0,245.4 1597.9,244.6 1601.7,242.3 1605.4,240.3 1609.0,238.7 1612.6,238.5 1616.1,237.4 1619.5,234.7 1622.9,234.6 1626.3,233.1 1629.6,231.7 1632.8,229.4 1636.0,227.7 1639.2,226.2 1642.3,226.6 1645.4,225.0 1648.4,223.0 1651.4,224.7 1654.4,222.7 1657.3,222.3 1660.2,222.0 1663.1,220.4 1665.9,218.8 1668.7,217.3 1671.5,216.6 1674.2,215.5 1676.9,214.9 1679.6,215.9 1682.3,215.6 1684.9,214.2 1687.5,214.6 1690.1,217.0 1692.7,216.9 1693.6,215.6" stroke="#ff0000"/>
<polyline points="1404.4,250.4 1450.0,253.4 1464.0,252.6 1475.3,252.6 1485.0,253.2 1493.7,252.8 1501.6,254.3 1508.9,255.1 1515.7,254.0 1522.2,253.3 1528.3,253.2 1534.1,253.7 1539.6,254.8 1545.0,255.7 1550.1,253.7 1555.1,254.5 1559.9,254.3 1564.6,253.7 1569.1,254.9 1573.5,254.5 1577.8,254.5 1582.0,254.7 1586.1,252.3 1590.1,252.9 1594.0,252.9 1597.9,252.8 1601.7,251.1 1605.4,249.4 1609.0,248.8 1612.6,248.2 1616.1,247.7 1619.5,249.0 1622.9,247.5 1626.3,245.4 1629.6,244.1 1632.8,243.0 1636.0,244.9 1639.2,243.7 1642.3,241.8 1645.4,243.1 1648.4,243.6 1651.4,241.1 1654.4,242.3 1657.3,243.2 1660.2,241.5 1663.1,241.7 1665.9,240.5 1668.7,241.2 1671.5,241.7 1674.2,240.5 1676.9,240.3 1679.6,239.1 1682.3,238.7 1684.9,239.8 1687.5,240.6 1690.1,241.5 1692.7,242.0 1693.6,239.6" stroke="#ff0000"/>
<polyline points="1404.4,246.6 1450.0,248.0 1464.0,249.5 1475.3,248.6 1485.0,247.7 1493.7,249.9 1501.6,250.8 1508.9,249.9 1515.7,249.1 1522.2,250.2 1528.3,250.2 1534.1,250.8 1539.6,250.9 1545.0,249.2 1550.1,249.0 1555.1,248.6 1559.9,247.4 1564.6,246.6 1569.1,246.7 1573.5,248.6 1577.8,248.7 1582.0,246.9 1586.1,247.2 1590.1,248.2 1594.0,246.7 1597.9,245.9 1601.7,244.7 1605.4,244.3 1609.0,244.7 1612.6,244.5 1616.1,245.0 1619.5,244.1 1622.9,243.1 1626.3,243.6 1629.6,244.1 1632.8,242.0 1636.0,240.6 1639.2,239.1 1642.3,239.2 1645.4,240.6 1648.4,239.6 1651.4,239.8 1654.4,237.2 1657.3,238.6 1660.2,236.9 1663.1,236.4 1665.9,237.6 1668.7,236.9 1671.5,238.8 1674.2,238.9 1676.9,237.0 1679.6,238.7 1682.3,237.4 1684.9,235.0 1687.5,233.4 1690.1,233.3 1692.7,233.0 1693.6,235.1" stroke="#ff0000"/>
<polyline points="1404.4,246.9 1450.0,251.3 1464.0,251.8 1475.3,251.6 1485.0,251.4 1493.7,251.0 1501.6,249.9 1508.9,250.9 1515.7,251.3 1522.2,250.4 1528.3,251.3 1534.1,250.9 1539.6,249.9 1545.0,249.0 1550.1,250.3 1555.1,249.1 1559.9,247.9 1564.6,249.3 1569.1,250.3 1573.5,248.8 1577.8,248.0 1582.0,248.8 1586.1,246.8 1590.1,246.0 1594.0,243.2 1597.9,242.3 1601.7,240.5 1605.4,240.6 1609.0,237.9 1612.6,237.0 1616.1,236.4 1619.5,233.0 1622.9,228.7 1626.3,223.7 1629.6,220.0 1632.8,215.7 1636.0,212.2 1639.2,210.4 1642.3,209.1 1645.4,201.9 1648.4,199.3 1651.4,192.3 1654.4,188.7 1657.3,184.1 1660.2,181.6 1663.1,182.2 1665.9,178.6 1668.7,173.8 1671.5,176.4 1674.2,174.7 1676.9,169.4 1679.6,174.5 1682.3,180.2 1684.9,182.3 1687.5,181.1 1690.1,181.4 1692.7,179.3 1693.6,180.4" stroke="#0000ff"/>
<polyline points="1404.4,243.0 1450.0,247.2 1464.0,248.4 1475.3,248.0 1485.0,249.5 1493.7,250.0 1501.6,251.1 1508.9,250.9 1515.7,251.5 1522.2,250.8 1528.3,251.5 1534.1,251.0 1539.6,251.2 1545.0,251.3 1550.1,252.0 1555.1,252.2 1559.9,252.9 1564.6,251.3 1569.1,251.2 1573.5,251.1 1577.8,248.9 1582.0,248.9 1586.1,249.8 1590.1,248.5 1594.0,248.2 1597.9,247.9 1601.7,246.4 1605.4,244.4 1609.0,241.5 1612.6,240.7 1616.1,238.0 1619.5,235.5 1622.9,235.3 1626.3,235.5 1629.6,233.9 1632.8,229.1 1636.0,223.2 1639.2,220.1 1642.3,217.9 1645.4,213.4 1648.4,207.9 1651.4,201.3 1654.4,197.7 1657.3,196.2 1660.2,191.1 1663.1,186.7 1665.9,184.6 1668.7,182.7 1671.5,173.4 1674.2,171.4 1676.9,163.2 1679.6,159.5 1682.3,162.0 1684.9,154.6 1687.5,148.5 1690.1,153.0 1692.7,153.3 1693.6,159.5" stroke="#0000ff"/>
<polyline points="1404.4,234.3 1450.0,237.5 1464.0,237.5 1475.3,239.3 1485.0,237.9 1493.7,238.2 1501.6,240.1 1508.9,241.8 1515.7,242.3 1522.2,243.1 1528.3,242.7 1534.1,243.5 1539.6,243.5 1545.0,241.6 1550.1,241.0 1555.1,241.5 1559.9,242.3 1564.6,242.6 1569.1,242.0 1573.5,242.2 1577.8,241.9 1582.0,238.9 1586.1,239.1 1590.1,237.5 1594.0,238.8 1597.9,238.7 1601.7,237.8 1605.4,235.3 1609.0,232.2 1612.6,229.8 1616.1,229.4 1619.5,227.1 1622.9,226.7 1626.3,224.8 1629.6,222.7 1632.8,220.2 1636.0,216.1 1639.2,213.7 1642.3,212.2 1645.4,209.1 1648.4,207.3 1651.4,202.8 1654.4,195.0 1657.3,191.4 1660.2,189.9 1663.1,186.2 1665.9,182.2 1668.7,181.7 1671.5,176.7 1674.2,174.9 1676.9,174.2 1679.6,172.8 1682.3,170.4 1684.9,164.5 1687.5,169.1 1690.1,168.9 1692.7,168.6 1693.6,165.3" stroke="#0000ff"/>
<polyline points="1404.4,250.6 1450.0,253.6 1464.0,253.8 1475.3,252.6 1485.0,254.4 1493.7,254.0 1501.6,253.2 1508.9,254.3 1515.7,254.5 1522.2,256.7 1528.3,257.6 1534.1,257.9 1539.6,258.9 1545.0,259.7 1550.1,258.7 1555.1,256.9 1559.9,256.2 1564.6,255.5 1569.1,254.9 1573.5,253.6 1577.8,252.7 1582.0,253.3 1586.1,254.1 1590.1,254.4 1594.0,252.8 1597.9,250.6 1601.7,247.7 1605.4,247.1 1609.0,245.8 1612.6,242.5 1616.1,239.5 1619.5,239.1 1622.9,235.5 1626.3,231.6 1629.6,229.1 1632.8,225.1 1636.0,223.5 1639.2,216.5 1642.3,213.7 1645.4,206.2 1648.4,199.8 1651.4,197.5 1654.4,196.2 1657.3,192.9 1660.2,184.1 1663.1,184.5 1665.9,181.4 1668.7,178.0 1671.5,173.6 1674.2,164.5 1676.9,164.1 1679.6,158.2 1682.3,158.3 1684.9,167.0 1687.5,169.6 1690.1,172.1 1692.7,174.2 1693.6,174.8" stroke="#0000ff"/>
<polyline points="1404.4,248.0 1450.0,252.6 1464.0,253.0 1475.3,253.7 1485.0,255.2 1493.7,255.7 1501.6,254.0 1508.9,253.7 1515.7,253.6 1522.2,254.5 1528.3,254.6 1534.1,256.7 1539.6,256.1 1545.0,255.1 1550.1,255.0 1555.1,254.8 1559.9,253.9 1564.6,252.8 1569.1,253.3 1573.5,254.3 1577.8,253.1 1582.0,252.1 1586.1,250.4 1590.1,252.1 1594.0,251.3 1597.9,248.7 1601.7,248.6 1605.4,246.0 1609.0,243.8 1612.6,241.2 1616.1,239.8 1619.5,237.9 1622.9,235.6 1626.3,234.3 1629.6,232.5 1632.8,227.0 1636.0,224.8 1639.2,222.4 1642.3,219.6 1645.4,211.4 1648.4,204.3 1651.4,200.8 1654.4,195.2 1657.3,193.1 1660.2,191.6 1663.1,185.1 1665.9,182.4 1668.7,181.1 1671.5,172.8 1674.2,172.8 1676.9,165.5 1679.6,165.9 1682.3,164.3 1684.9,161.9 1687.5,159.9 1690.1,160.6 1692.7,167.3 1693.6,168.5" stroke="#0000ff"/>
<polyline points="1404.4,240.9 1450.0,244.5 1464.0,245.3 1475.3,247.0 1485.0,248.4 1493.7,247.2 1501.6,248.5 1508.9,248.7 1515.7,249.1 1522.2,248.9 1528.3,247.8 1534.1,249.7 1539.6,251.4 1545.0,250.2 1550.1,250.7 1555.1,249.6 1559.9,249.7 1564.6,247.6 1569.1,246.9 1573.5,245.7 1577.8,246.3 1582.0,247.0 1586.1,245.7 1590.1,246.3 1594.0,246.6 1597.9,242.5 1601.7,239.7 1605.4,239.5 1609.0,237.7 1612.6,237.0 1616.1,236.0 1619.5,232.9 1622.9,228.9 1626.3,223.3 1629.6,218.4 1632.8,216.3 1636.0,215.4 1639.2,210.2 1642.3,206.1 1645.4,203.5 1648.4,199.5 1651.4,195.9 1654.4,186.5 1657.3,183.5 1660.2,174.8 1663.1,171.1 1665.9,165.9 1668.7,160.5 1671.5,160.6 1674.2,153.1 1676.9,148.2 1679.6,152.7 1682.3,152.4 1684.9,155.2 1687.5,155.0 1690.1,153.9 1692.7,153.0 1693.6,155.1" stroke="#0000ff"/>
<polyline points="1404.4,233.3 1450.0,236.4 1464.0,237.4 1475.3,236.9 1485.0,237.5 1493.7,238.5 1501.6,239.3 1508.9,239.8 1515.7,240.6 1522.2,240.2 1528.3,238.6 1534.1,237.7 1539.6,239.8 1545.0,240.6 1550.1,240.7 1555.1,241.0 1559.9,241.8 1564.6,241.6 1569.1,239.1 1573.5,238.8 1577.8,239.8 1582.0,238.5 1586.1,238.6 1590.1,236.5 1594.0,235.6 1597.9,237.0 1601.7,235.7 1605.4,234.7 1609.0,232.9 1612.6,229.6 1616.1,226.9 1619.5,224.3 1622.9,223.6 1626.3,222.2 1629.6,219.1 1632.8,216.9 1636.0,211.2 1639.2,210.0 1642.3,204.2 1645.4,203.2 1648.4,197.3 1651.4,193.6 1654.4,192.6 1657.3,185.4 1660.2,180.9 1663.1,180.1 1665.9,171.1 1668.7,165.2 1671.5,161.9 1674.2,163.4 1676.9,155.4 1679.6,157.5 1682.3,150.0 1684.9,146.5 1687.5,143.4 1690.1,143.2 1692.7,146.8 1693.6,151.0" stroke="#0000ff"/>
<polyline points="1404.4,243.3 1450.0,246.6 1464.0,247.9 1475.3,247.4 1485.0,249.5 1493.7,248.0 1501.6,249.3 1508.9,250.1 1515.7,249.4 1522.2,249.8 1528.3,250.6 1534.1,252.1 1539.6,251.0 1545.0,251.2 1550.1,251.6 1555.1,251.2 1559.9,250.1 1564.6,248.0 1569.1,247.7 1573.5,248.4 1577.8,249.3 1582.0,249.1 1586.1,249.2 1590.1,249.1 1594.0,247.1 1597.9,245.9 1601.7,244.5 1605.4,243.5 1609.0,240.6 1612.6,237.7 1616.1,236.0 1619.5,235.9 1622.9,234.5 1626.3,232.8 1629.6,229.8 1632.8,227.5 1636.0,223.1 1639.2,218.3 1642.3,215.0 1645.4,209.4 1648.4,203.7 1651.4,199.1 1654.4,197.2 1657.3,193.0 1660.2,189.1 1663.1,184.6 1665.9,179.8 1668.7,174.7 1671.5,173.6 1674.2,168.4 1676.9,168.0 1679.6,163.7 1682.3,164.4 1684.9,161.1 1687.5,168.6 1690.1,165.8 1692.7,173.4 1693.6,168.7" stroke="#0000ff"/>
<polyline points="1404.4,239.9 1450.0,242.7 1464.0,243.9 1475.3,244.6 1485.0,243.9 1493.7,242.9 1501.6,243.6 1508.9,245.1 1515.7,246.0 1522.2,246.8 1528.3,244.1 1534.1,243.5 1539.6,244.7 1545.0,243.2 1550.1,245.4 1555.1,243.6 1559.9,245.6 1564.6,245.9 1569.1,245.8 1573.5,243.2 1577.8,243.1 1582.0,242.2 1586.1,241.4 1590.1,240.0 1594.0,237.0 1597.9,234.6 1601.7,233.9 1605.4,232.9 1609.0,227.4 1612.6,223.6 1616.1,219.6 1619.5,217.8 1622.9,212.9 1626.3,203.8 1629.6,195.6 1632.8,193.2 1636.0,189.0 1639.2,180.1 1642.3,171.5 1645.4,168.0 1648.4,159.1 1651.4,155.7 1654.4,153.7 1657.3,141.3 1660.2,138.3 1663.1,127.3 1665.9,120.5 1668.7,121.2 1671.5,116.4 1674.2,118.8 1676.9,118.9 1679.6,125.5 1682.3,131.8 1684.9,131.2 1687.5,134.9 1690.1,134.8 1692.7,132.5 1693.6,132.8" stroke="#00ff00"/>
<polyline points="1404.4,238.8 1450.0,240.9 1464.0,242.4 1475.3,243.1 1485.0,242.7 1493.7,244.7 1501.6,245.3 1508.9,245.9 1515.7,245.4 1522.2,246.7 1528.3,245.2 1534.1,244.3 1539.6,244.8 1545.0,243.7 1550.1,244.5 1555.1,245.4 1559.9,246.9 1564.6,246.8 1569.1,246.2 1573.5,244.0 1577.8,242.1 1582.0,242.8 1586.1,241.6 1590.1,240.5 1594.0,239.9 1597.9,237.1 1601.7,232.6 1605.4,230.7 1609.0,228.1 1612.6,223.1 1616.1,216.7 1619.5,212.4 1622.9,205.9 1626.3,201.4 1629.6,193.6 1632.8,185.9 1636.0,178.0 1639.2,169.9 1642.3,165.8 1645.4,160.9 1648.4,152.1 1651.4,142.1 1654.4,139.0 1657.3,127.5 1660.2,118.3 1663.1,115.8 1665.9,111.2 1668.7,101.8 1671.5,105.7 1674.2,96.2 1676.9,91.7 1679.6,90.8 1682.3,92.9 1684.9,97.7 1687.5,95.4 1690.1,101.7 1692.7,100.8 1693.6,107.7" stroke="#00ff00"/>
<polyline points="1404.4,254.2 1450.0,256.6 1464.0,256.9 1475.3,258.3 1485.0,256.9 1493.7,258.6 1501.6,258.6 1508.9,258.0 1515.7,257.2 1522.2,257.2 1528.3,257.9 1534.1,259.6 1539.6,260.3 1545.0,259.7 1550.1,259.6 1555.1,260.3 1559.9,257.9 1564.6,256.4 1569.1,254.6 1573.5,255.4 1577.8,253.2 1582.0,251.6 1586.1,251.5 1590.1,247.6 1594.0,243.9 1597.9,240.5 1601.7,239.1 1605.4,235.6 1609.0,232.4 1612.6,224.5 1616.1,220.8 1619.5,213.0 1622.9,208.8 1626.3,198.4 1629.6,188.6 1632.8,179.5 1636.0,174.8 1639.2,168.8 1642.3,156.4 1645.4,147.1 1648.4,143.2 1651.4,133.0 1654.4,126.9 1657.3,116.6 1660.2,107.5 1663.1,108.0 1665.9,109.5 1668.7,111.3 1671.5,100.7 1674.2,108.7 1676.9,107.1 1679.6,106.1 1682.3,103.1 1684.9,105.6 1687.5,101.9 1690.1,99.9 1692.7,102.6 1693.6,106.0" stroke="#00ff00"/>
<polyline points="1404.4,251.8 1450.0,255.4 1464.0,254.3 1475.3,253.8 1485.0,254.5 1493.7,256.4 1501.6,256.3 1508.9,255.5 1515.7,254.8 1522.2,256.5 1528.3,258.3 1534.1,257.1 1539.6,257.9 1545.0,259.2 1550.1,259.3 1555.1,258.7 1559.9,259.1 1564.6,256.7 1569.1,255.2 1573.5,254.4 1577.8,253.9 1582.0,253.5 1586.1,252.5 1590.1,250.8 1594.0,247.2 1597.9,245.6 1601.7,243.0 1605.4,238.4 1609.0,234.3 1612.6,231.9 1616.1,225.1 1619.5,220.5 1622.9,215.5 1626.3,206.7 1629.6,198.6 1632.8,193.3 1636.0,184.7 1639.2,183.0 1642.3,178.8 1645.4,164.5 1648.4,154.9 1651.4,152.6 1654.4,140.7 1657.3,133.9 1660.2,126.2 1663.1,127.3 1665.9,123.0 1668.7,128.6 1671.5,127.0 1674.2,120.5 1676.9,117.9 1679.6,127.7 1682.3,132.3 1684.9,135.5 1687.5,130.1 1690.1,131.1 1692.7,125.7 1693.6,124.5" stroke="#00ff00"/>
<polyline points="1404.4,251.5 1450.0,255.0 1464.0,254.9 1475.3,253.3 1485.0,252.9 1493.7,254.2 1501.6,254.9 1508.9,255.4 1515.7,256.2 1522.2,255.4 1528.3,255.9 1534.1,256.3 1539.6,257.0 1545.0,257.6 1550.1,255.6 1555.1,257.6 1559.9,255.6 1564.6,254.5 1569.1,253.8 1573.5,252.7 1577.8,251.7 1582.0,252.1 1586.1,252.6 1590.1,249.6 1594.0,246.9 1597.9,243.7 1601.7,240.2 1605.4,238.6 1609.0,236.3 1612.6,229.5 1616.1,224.6 1619.5,220.2 1622.9,216.8 1626.3,208.0 1629.6,205.8 1632.8,196.6 1636.0,187.3 1639.2,182.4 1642.3,176.5 1645.4,164.9 1648.4,162.6 1651.4,156.8 1654.4,144.5 1657.3,141.5 1660.2,133.1 1663.1,126.3 1665.9,122.0 1668.7,124.6 1671.5,124.2 1674.2,122.4 1676.9,116.5 1679.6,123.9 1682.3,122.5 1684.9,121.1 1687.5,118.6 1690.1,126.6 1692.7,131.4 1693.6,128.8" stroke="#00ff00"/>
<polyline points="1404.4,238.1 1450.0,240.0 1464.0,241.5 1475.3,241.5 1485.0,243.5 1493.7,242.8 1501.6,244.1 1508.9,244.8 1515.7,242.8 1522.2,244.0 1528.3,242.6 1534.1,241.8 1539.6,243.9 1545.0,243.6 1550.1,245.4 1555.1,246.4 1559.9,245.1 1564.6,246.6 1569.1,245.3 1573.5,242.8 1577.8,243.1 1582.0,240.7 1586.1,239.9 1590.1,240.9 1594.0,240.5 1597.9,239.9 1601.7,237.6 1605.4,234.5 1609.0,232.7 1612.6,228.7 1616.1,223.0 1619.5,219.3 1622.9,216.9 1626.3,211.1 1629.6,205.7 1632.8,200.4 1636.0,191.9 1639.2,184.4 1642.3,182.4 1645.4,173.6 1648.4,162.0 1651.4,154.2 1654.4,149.5 1657.3,144.3 1660.2,136.7 1663.1,129.9 1665.9,122.0 1668.7,110.5 1671.5,110.9 1674.2,105.9 1676.9,102.1 1679.6,99.5 1682.3,96.1 1684.9,92.1 1687.5,97.2 1690.1,106.3 1692.7,106.2 1693.6,106.9" stroke="#00ff00"/>
<polyline points="1404.4,253.1 1450.0,255.8 1464.0,256.3 1475.3,257.1 1485.0,256.4 1493.7,257.1 1501.6,255.8 1508.9,257.3 1515.7,257.6 1522.2,257.5 1528.3,258.0 1534.1,257.7 1539.6,257.5 1545.0,256.7 1550.1,257.9 1555.1,257.2 1559.9,258.2 1564.6,258.6 1569.1,259.1 1573.5,257.7 1577.8,255.6 1582.0,253.7 1586.1,253.1 1590.1,251.3 1594.0,250.2 1597.9,247.8 1601.7,245.3 1605.4,242.1 1609.0,239.2 1612.6,235.6 1616.1,228.9 1619.5,226.3 1622.9,218.4 1626.3,211.1 1629.6,202.5 1632.8,195.7 1636.0,192.6 1639.2,185.4 1642.3,177.7 1645.4,167.6 1648.4,157.5 1651.4,150.6 1654.4,142.4 1657.3,138.6 1660.2,133.8 1663.1,131.2 1665.9,122.4 1668.7,113.1 1671.5,106.6 1674.2,103.9 1676.9,105.2 1679.6,110.2 1682.3,106.3 1684.9,103.1 1687.5,105.5 1690.1,105.6 1692.7,115.4 1693.6,110.6" stroke="#00ff00"/>
<polyline points="1404.4,243.1 1450.0,244.1 1464.0,246.8 1475.3,245.6 1485.0,247.2 1493.7,245.3 1501.6,244.3 1508.9,245.3 1515.7,245.0 1522.2,246.1 1528.3,247.5 1534.1,246.7 1539.6,247.1 1545.0,246.7 1550.1,247.1 1555.1,245.9 1559.9,247.1 1564.6,248.3 1569.1,247.2 1573.5,246.1 1577.8,245.6 1582.0,246.5 1586.1,246.1 1590.1,245.6 1594.0,242.8 1597.9,240.9 1601.7,240.0 1605.4,237.9 1609.0,236.1 1612.6,234.6 1616.1,228.2 1619.5,225.5 1622.9,219.8 1626.3,216.3 1629.6,210.9 1632.8,203.0 1636.0,198.8 1639.2,195.9 1642.3,190.9 1645.4,181.2 1648.4,177.4 1651.4,171.9 1654.4,165.7 1657.3,160.4 1660.2,147.6 1663.1,145.1 1665.9,138.8 1668.7,134.1 1671.5,127.6 1674.2,125.4 1676.9,115.3 1679.6,116.4 1682.3,108.5 1684.9,111.0 1687.5,110.0 1690.1,111.1 1692.7,120.7 1693.6,123.5" stroke="#00ff00"/>
<polyline points="1404.4,263.0 1450.0,266.0 1464.0,268.9 1475.3,269.0 1485.0,271.0 1493.7,270.9 1501.6,270.2 1508.9,269.6 1515.7,270.6 1522.2,271.5 1528.3,270.6 1534.1,269.5 1539.6,270.9 1545.0,271.5 1550.1,270.1 1555.1,267.5 1559.9,265.9 1564.6,264.1 1569.1,260.1 1573.5,255.4 1577.8,249.5 1582.0,244.8 1586.1,239.6 1590.1,233.7 1594.0,225.2 1597.9,216.1 1601.7,210.0 1605.4,199.0 1609.0,188.7 1612.6,183.5 1616.1,174.5 1619.5,166.4 1622.9,156.0 1626.3,142.9 1629.6,139.6 1632.8,138.4 1636.0,128.8 1639.2,116.3 1642.3,117.3 1645.4,116.6 1648.4,109.5 1651.4,97.5 1654.4,90.5 1657.3,88.8 1660.2,78.9 1663.1,77.4 1665.9,79.0 1668.7,74.4 1671.5,75.1 1674.2,75.7 1676.9,72.1 1679.6,68.5 1682.3,69.1 1684.9,63.8 1687.5,66.8 1690.1,66.7 1692.7,77.9 1693.6,74.0" stroke="#ff00ff"/>
<polyline points="1404.4,260.1 1450.0,263.9 1464.0,266.6 1475.3,265.9 1485.0,266.4 1493.7,265.0 1501.6,264.6 1508.9,266.4 1515.7,267.5 1522.2,266.5 1528.3,267.5 1534.1,268.4 1539.6,269.0 1545.0,265.1 1550.1,262.7 1555.1,261.8 1559.9,258.5 1564.6,255.9 1569.1,251.7 1573.5,246.9 1577.8,243.1 1582.0,238.8 1586.1,231.0 1590.1,219.7 1594.0,214.3 1597.9,206.5 1601.7,195.2 1605.4,190.2 1609.0,179.5 1612.6,167.4 1616.1,163.6 1619.5,150.4 1622.9,142.1 1626.3,137.7 1629.6,125.6 1632.8,119.1 1636.0,109.8 1639.2,103.5 1642.3,104.2 1645.4,104.2 1648.4,103.4 1651.4,99.9 1654.4,96.6 1657.3,84.5 1660.2,82.2 1663.1,73.7 1665.9,74.4 1668.7,74.1 1671.5,74.1 1674.2,72.5 1676.9,68.9 1679.6,68.6 1682.3,72.5 1684.9,66.8 1687.5,65.5 1690.1,77.5 1692.7,81.7 1693.6,85.8" stroke="#ff00ff"/>
<polyline points="1404.4,252.6 1450.0,258.8 1464.0,259.4 1475.3,259.6 1485.0,259.9 1493.7,258.6 1501.6,257.7 1508.9,259.9 1515.7,261.4 1522.2,260.6 1528.3,261.0 1534.1,259.8 1539.6,256.9 1545.0,254.0 1550.1,252.9 1555.1,248.0 1559.9,244.4 1564.6,237.8 1569.1,232.9 1573.5,226.3 1577.8,217.7 1582.0,210.3 1586.1,204.2 1590.1,198.8 1594.0,187.9 1597.9,177.6 1601.7,165.8 1605.4,160.4 1609.0,151.9 1612.6,148.0 1616.1,139.0 1619.5,128.4 1622.9,124.8 1626.3,121.5 1629.6,110.3 1632.8,107.4 1636.0,103.4 1639.2,95.9 1642.3,86.7 1645.4,79.2 1648.4,75.3 1651.4,68.5 1654.4,72.0 1657.3,70.5 1660.2,64.3 1663.1,65.1 1665.9,65.7 1668.7,60.7 1671.5,66.1 1674.2,70.9 1676.9,77.4 1679.6,79.1 1682.3,87.4 1684.9,85.2 1687.5,89.1 1690.1,104.1 1692.7,118.1 1693.6,126.0" stroke="#ff00ff"/>
<polyline points="1404.4,250.0 1450.0,255.7 1464.0,256.7 1475.3,256.9 1485.0,255.1 1493.7,256.1 1501.6,255.3 1508.9,255.0 1515.7,254.5 1522.2,256.7 1528.3,253.7 1534.1,252.2 1539.6,251.9 1545.0,249.0 1550.1,245.5 1555.1,241.4 1559.9,235.7 1564.6,231.6 1569.1,225.6 1573.5,218.3 1577.8,209.2 1582.0,200.6 1586.1,195.8 1590.1,183.9 1594.0,173.8 1597.9,165.3 1601.7,156.8 1605.4,151.3 1609.0,144.2 1612.6,134.7 1616.1,127.0 1619.5,123.3 1622.9,124.3 1626.3,116.9 1629.6,113.3 1632.8,109.0 1636.0,104.2 1639.2,98.2 1642.3,92.3 1645.4,83.5 1648.4,77.3 1651.4,76.0 1654.4,69.2 1657.3,72.6 1660.2,69.7 1663.1,67.6 1665.9,72.0 1668.7,71.7 1671.5,69.8 1674.2,71.8 1676.9,81.0 1679.6,92.9 1682.3,95.1 1684.9,104.5 1687.5,116.6 1690.1,132.4 1692.7,136.2 1693.6,137.5" stroke="#ff00ff"/>
<polyline points="1404.4,263.5 1450.0,265.4 1464.0,267.5 1475.3,267.7 1485.0,270.0 1493.7,270.9 1501.6,269.6 1508.9,269.5 1515.7,270.3 1522.2,271.6 1528.3,269.8 1534.1,269.8 1539.6,269.9 1545.0,269.5 1550.1,267.0 1555.1,267.1 1559.9,266.2 1564.6,265.0 1569.1,261.8 1573.5,258.6 1577.8,254.8 1582.0,252.0 1586.1,245.9 1590.1,241.8 1594.0,236.7 1597.9,231.3 1601.7,221.2 1605.4,217.5 1609.0,209.8 1612.6,200.6 1616.1,191.2 1619.5,185.0 1622.9,178.3 1626.3,176.4 1629.6,173.9 1632.8,159.0 1636.0,153.5 1639.2,145.2 1642.3,146.2 1645.4,139.3 1648.4,131.9 1651.4,128.4 1654.4,119.9 1657.3,112.6 1660.2,116.9 1663.1,116.8 1665.9,112.9 1668.7,112.7 1671.5,106.7 1674.2,107.0 1676.9,108.5 1679.6,108.1 1682.3,110.5 1684.9,110.5 1687.5,109.5 1690.1,107.0 1692.7,112.9 1693.6,107.0" stroke="#ff00ff"/>
<polyline points="1404.4,250.8 1450.0,255.4 1464.0,257.3 1475.3,257.9 1485.0,256.9 1493.7,255.1 1501.6,256.7 1508.9,255.6 1515.7,254.8 1522.2,254.7 1528.3,256.4 1534.1,256.2 1539.6,255.3 1545.0,253.4 1550.1,251.8 1555.1,249.8 1559.9,248.7 1564.6,246.9 1569.1,244.3 1573.5,241.9 1577.8,238.1 1582.0,231.7 1586.1,227.6 1590.1,218.5 1594.0,211.3 1597.9,209.1 1601.7,199.9 1605.4,192.1 1609.0,188.1 1612.6,180.9 1616.1,172.9 1619.5,167.9 1622.9,161.7 1626.3,160.8 1629.6,154.9 1632.8,144.0 1636.0,136.6 1639.2,128.1 1642.3,127.2 1645.4,123.6 1648.4,122.5 1651.4,113.3 1654.4,108.2 1657.3,105.3 1660.2,106.3 1663.1,100.7 1665.9,93.5 1668.7,94.5 1671.5,99.8 1674.2,99.0 1676.9,99.4 1679.6,105.1 1682.3,107.6 1684.9,107.7 1687.5,103.7 1690.1,101.0 1692.7,102.0 1693.6,106.7" stroke="#ff00ff"/>
<polyline points="1404.4,249.3 1450.0,252.1 1464.0,253.7 1475.3,252.7 1485.0,253.9 1493.7,255.7 1501.6,256.5 1508.9,255.2 1515.7,254.7 1522.2,254.9 1528.3,253.7 1534.1,253.4 1539.6,252.2 1545.0,252.1 1550.1,250.3 1555.1,248.6 1559.9,248.5 1564.6,246.0 1569.1,241.7 1573.5,236.9 1577.8,234.4 1582.0,229.2 1586.1,224.0 1590.1,216.8 1594.0,208.1 1597.9,206.4 1601.7,198.9 1605.4,193.1 1609.0,185.5 1612.6,182.5 1616.1,171.0 1619.5,162.9 1622.9,157.3 1626.3,158.2 1629.6,156.0 1632.8,150.5 1636.0,148.9 1639.2,144.0 1642.3,135.2 1645.4,124.4 1648.4,126.9 1651.4,126.1 1654.4,120.8 1657.3,112.4 1660.2,113.3 1663.1,109.0 1665.9,110.7 1668.7,100.9 1671.5,100.9 1674.2,100.8 1676.9,106.6 1679.6,109.8 1682.3,108.4 1684.9,112.5 1687.5,118.1 1690.1,125.7 1692.7,130.7 1693.6,127.3" stroke="#ff00ff"/>
<polyline points="1404.4,258.2 1450.0,263.2 1464.0,264.5 1475.3,263.1 1485.0,263.0 1493.7,262.1 1501.6,263.7 1508.9,262.0 1515.7,261.1 1522.2,263.4 1528.3,264.2 1534.1,261.7 1539.6,261.5 1545.0,259.9 1550.1,258.0 1555.1,257.4 1559.9,253.3 1564.6,248.0 1569.1,244.5 1573.5,239.0 1577.8,232.4 1582.0,228.2 1586.1,225.8 1590.1,217.8 1594.0,208.7 1597.9,201.4 1601.7,193.9 1605.4,187.2 1609.0,183.9 1612.6,181.5 1616.1,179.8 1619.5,171.6 1622.9,162.7 1626.3,153.7 1629.6,150.4 1632.8,145.2 1636.0,145.4 1639.2,146.4 1642.3,142.2 1645.4,138.9 1648.4,136.7 1651.4,130.5 1654.4,126.5 1657.3,126.8 1660.2,118.6 1663.1,115.5 1665.9,114.4 1668.7,121.6 1671.5,120.8 1674.2,116.3 1676.9,124.5 1679.6,119.6 1682.3,130.7 1684.9,134.6 1687.5,142.6 1690.1,143.9 1692.7,155.2 1693.6,153.7" stroke="#ff00ff"/>
</g>
<g clip-path="url(#cpb1)" fill="none" stroke="#1c1c1c"><polyline points="1404.4,246.4 1450.0,248.8 1464.0,249.4 1475.3,249.5 1485.0,249.7 1493.7,249.8 1501.6,250.0 1508.9,250.1 1515.7,250.3 1522.2,250.5 1528.3,250.6 1534.1,250.8 1539.6,250.9 1545.0,251.0 1550.1,250.8 1555.1,250.4 1559.9,250.0 1564.6,249.6 1569.1,249.2 1573.5,248.8 1577.8,248.4 1582.0,248.1 1586.1,247.7 1590.1,247.4 1594.0,247.0 1597.9,246.2 1601.7,245.3 1605.4,244.4 1609.0,243.5 1612.6,242.6 1616.1,241.7 1619.5,240.9 1622.9,240.1 1626.3,239.3 1629.6,238.4 1632.8,237.7 1636.0,236.9 1639.2,236.1 1642.3,235.3 1645.4,234.7 1648.4,234.0 1651.4,233.4 1654.4,232.8 1657.3,232.1 1660.2,231.5 1663.1,231.1 1665.9,230.8 1668.7,230.5 1671.5,230.2 1674.2,229.9 1676.9,229.6 1679.6,229.3 1682.3,229.0 1684.9,228.8 1687.5,228.5 1690.1,228.2 1692.7,227.9 1693.6,227.8" stroke-width="1.2" stroke-linejoin="round"/><path d="M1404.4 245.4V247.5M1400.8 245.4h7.2M1400.8 247.5h7.2M1450.0 247.8V249.7M1446.4 247.8h7.2M1446.4 249.7h7.2M1464.0 248.1V250.6M1460.4 248.1h7.2M1460.4 250.6h7.2M1475.3 248.5V250.6M1471.7 248.5h7.2M1471.7 250.6h7.2M1485.0 248.6V250.8M1481.4 248.6h7.2M1481.4 250.8h7.2M1493.7 248.7V251.0M1490.1 248.7h7.2M1490.1 251.0h7.2M1501.6 248.9V251.0M1498.0 248.9h7.2M1498.0 251.0h7.2M1508.9 249.0V251.3M1505.3 249.0h7.2M1505.3 251.3h7.2M1515.7 248.9V251.7M1512.1 248.9h7.2M1512.1 251.7h7.2M1522.2 249.3V251.6M1518.6 249.3h7.2M1518.6 251.6h7.2M1528.3 249.1V252.1M1524.7 249.1h7.2M1524.7 252.1h7.2M1534.1 249.3V252.2M1530.5 249.3h7.2M1530.5 252.2h7.2M1539.6 249.9V251.9M1536.0 249.9h7.2M1536.0 251.9h7.2M1545.0 249.7V252.4M1541.4 249.7h7.2M1541.4 252.4h7.2M1550.1 249.4V252.2M1546.5 249.4h7.2M1546.5 252.2h7.2M1555.1 249.3V251.5M1551.5 249.3h7.2M1551.5 251.5h7.2M1559.9 248.9V251.1M1556.3 248.9h7.2M1556.3 251.1h7.2M1564.6 248.5V250.6M1561.0 248.5h7.2M1561.0 250.6h7.2M1569.1 247.8V250.5M1565.5 247.8h7.2M1565.5 250.5h7.2M1573.5 247.8V249.8M1569.9 247.8h7.2M1569.9 249.8h7.2M1577.8 247.2V249.7M1574.2 247.2h7.2M1574.2 249.7h7.2M1582.0 246.9V249.3M1578.4 246.9h7.2M1578.4 249.3h7.2M1586.1 246.8V248.7M1582.5 246.8h7.2M1582.5 248.7h7.2M1590.1 246.2V248.6M1586.5 246.2h7.2M1586.5 248.6h7.2M1594.0 245.8V248.3M1590.4 245.8h7.2M1590.4 248.3h7.2M1597.9 245.1V247.3M1594.3 245.1h7.2M1594.3 247.3h7.2M1601.7 244.2V246.4M1598.1 244.2h7.2M1598.1 246.4h7.2M1605.4 243.1V245.6M1601.8 243.1h7.2M1601.8 245.6h7.2M1609.0 242.3V244.6M1605.4 242.3h7.2M1605.4 244.6h7.2M1612.6 241.4V243.8M1609.0 241.4h7.2M1609.0 243.8h7.2M1616.1 240.2V243.3M1612.5 240.2h7.2M1612.5 243.3h7.2M1619.5 239.4V242.4M1615.9 239.4h7.2M1615.9 242.4h7.2M1622.9 238.8V241.4M1619.3 238.8h7.2M1619.3 241.4h7.2M1626.3 237.9V240.6M1622.7 237.9h7.2M1622.7 240.6h7.2M1629.6 237.3V239.6M1626.0 237.3h7.2M1626.0 239.6h7.2M1632.8 236.3V239.0M1629.2 236.3h7.2M1629.2 239.0h7.2M1636.0 235.6V238.1M1632.4 235.6h7.2M1632.4 238.1h7.2M1639.2 234.8V237.4M1635.6 234.8h7.2M1635.6 237.4h7.2M1642.3 233.9V236.8M1638.7 233.9h7.2M1638.7 236.8h7.2M1645.4 232.9V236.4M1641.8 232.9h7.2M1641.8 236.4h7.2M1648.4 232.2V235.8M1644.8 232.2h7.2M1644.8 235.8h7.2M1651.4 232.0V234.8M1647.8 232.0h7.2M1647.8 234.8h7.2M1654.4 231.4V234.1M1650.8 231.4h7.2M1650.8 234.1h7.2M1657.3 230.8V233.4M1653.7 230.8h7.2M1653.7 233.4h7.2M1660.2 229.9V233.1M1656.6 229.9h7.2M1656.6 233.1h7.2M1663.1 229.2V233.0M1659.5 229.2h7.2M1659.5 233.0h7.2M1665.9 228.8V232.8M1662.3 228.8h7.2M1662.3 232.8h7.2M1668.7 228.6V232.4M1665.1 228.6h7.2M1665.1 232.4h7.2M1671.5 228.2V232.2M1667.9 228.2h7.2M1667.9 232.2h7.2M1674.2 228.1V231.7M1670.6 228.1h7.2M1670.6 231.7h7.2M1676.9 228.0V231.3M1673.3 228.0h7.2M1673.3 231.3h7.2M1679.6 227.8V230.9M1676.0 227.8h7.2M1676.0 230.9h7.2M1682.3 227.3V230.8M1678.7 227.3h7.2M1678.7 230.8h7.2M1684.9 226.7V230.8M1681.3 226.7h7.2M1681.3 230.8h7.2M1687.5 226.9V230.1M1683.9 226.9h7.2M1683.9 230.1h7.2M1690.1 226.7V229.7M1686.5 226.7h7.2M1686.5 229.7h7.2M1692.7 225.8V230.0M1689.1 225.8h7.2M1689.1 230.0h7.2M1693.6 226.0V229.7M1690.0 226.0h7.2M1690.0 229.7h7.2" stroke-width="0.95"/></g>
<g clip-path="url(#cpb1)" fill="none" stroke="#1c1c1c"><polyline points="1404.4,243.5 1450.0,247.2 1464.0,248.2 1475.3,248.4 1485.0,248.5 1493.7,248.7 1501.6,248.9 1508.9,249.2 1515.7,249.5 1522.2,249.9 1528.3,250.2 1534.1,250.4 1539.6,250.7 1545.0,251.0 1550.1,250.8 1555.1,250.3 1559.9,249.8 1564.6,249.4 1569.1,248.9 1573.5,248.5 1577.8,248.1 1582.0,247.7 1586.1,247.3 1590.1,246.9 1594.0,246.5 1597.9,244.9 1601.7,243.2 1605.4,241.6 1609.0,240.0 1612.6,238.4 1616.1,236.8 1619.5,235.2 1622.9,233.7 1626.3,230.3 1629.6,226.9 1632.8,223.5 1636.0,220.2 1639.2,216.9 1642.3,213.6 1645.4,209.4 1648.4,205.2 1651.4,201.1 1654.4,197.0 1657.3,193.0 1660.2,189.0 1663.1,185.1 1665.9,181.3 1668.7,177.5 1671.5,173.8 1674.2,170.1 1676.9,167.5 1679.6,165.7 1682.3,163.9 1684.9,163.5 1687.5,165.5 1690.1,167.3 1692.7,169.2 1693.6,169.8" stroke-width="1.2" stroke-linejoin="round"/><path d="M1404.4 240.9V246.2M1400.8 240.9h7.2M1400.8 246.2h7.2M1450.0 244.4V250.1M1446.4 244.4h7.2M1446.4 250.1h7.2M1464.0 244.9V251.5M1460.4 244.9h7.2M1460.4 251.5h7.2M1475.3 246.1V250.7M1471.7 246.1h7.2M1471.7 250.7h7.2M1485.0 245.7V251.3M1481.4 245.7h7.2M1481.4 251.3h7.2M1493.7 245.4V252.0M1490.1 245.4h7.2M1490.1 252.0h7.2M1501.6 245.9V251.8M1498.0 245.9h7.2M1498.0 251.8h7.2M1508.9 246.4V252.0M1505.3 246.4h7.2M1505.3 252.0h7.2M1515.7 246.2V252.9M1512.1 246.2h7.2M1512.1 252.9h7.2M1522.2 247.2V252.5M1518.6 247.2h7.2M1518.6 252.5h7.2M1528.3 246.8V253.5M1524.7 246.8h7.2M1524.7 253.5h7.2M1534.1 247.2V253.7M1530.5 247.2h7.2M1530.5 253.7h7.2M1539.6 247.4V254.1M1536.0 247.4h7.2M1536.0 254.1h7.2M1545.0 247.6V254.4M1541.4 247.6h7.2M1541.4 254.4h7.2M1550.1 248.2V253.3M1546.5 248.2h7.2M1546.5 253.3h7.2M1555.1 247.6V253.0M1551.5 247.6h7.2M1551.5 253.0h7.2M1559.9 247.1V252.6M1556.3 247.1h7.2M1556.3 252.6h7.2M1564.6 245.9V252.8M1561.0 245.9h7.2M1561.0 252.8h7.2M1569.1 245.6V252.2M1565.5 245.6h7.2M1565.5 252.2h7.2M1573.5 245.5V251.5M1569.9 245.5h7.2M1569.9 251.5h7.2M1577.8 245.8V250.4M1574.2 245.8h7.2M1574.2 250.4h7.2M1582.0 245.0V250.3M1578.4 245.0h7.2M1578.4 250.3h7.2M1586.1 244.8V249.7M1582.5 244.8h7.2M1582.5 249.7h7.2M1590.1 244.0V249.7M1586.5 244.0h7.2M1586.5 249.7h7.2M1594.0 243.4V249.6M1590.4 243.4h7.2M1590.4 249.6h7.2M1597.9 242.6V247.3M1594.3 242.6h7.2M1594.3 247.3h7.2M1601.7 240.8V245.7M1598.1 240.8h7.2M1598.1 245.7h7.2M1605.4 239.2V243.9M1601.8 239.2h7.2M1601.8 243.9h7.2M1609.0 237.7V242.2M1605.4 237.7h7.2M1605.4 242.2h7.2M1612.6 235.4V241.3M1609.0 235.4h7.2M1609.0 241.3h7.2M1616.1 234.3V239.2M1612.5 234.3h7.2M1612.5 239.2h7.2M1619.5 231.6V238.9M1615.9 231.6h7.2M1615.9 238.9h7.2M1622.9 230.7V236.7M1619.3 230.7h7.2M1619.3 236.7h7.2M1626.3 226.5V234.1M1622.7 226.5h7.2M1622.7 234.1h7.2M1629.6 223.0V230.8M1626.0 223.0h7.2M1626.0 230.8h7.2M1632.8 219.1V227.9M1629.2 219.1h7.2M1629.2 227.9h7.2M1636.0 216.0V224.3M1632.4 216.0h7.2M1632.4 224.3h7.2M1639.2 213.2V220.6M1635.6 213.2h7.2M1635.6 220.6h7.2M1642.3 209.2V218.0M1638.7 209.2h7.2M1638.7 218.0h7.2M1645.4 204.1V214.7M1641.8 204.1h7.2M1641.8 214.7h7.2M1648.4 199.4V211.0M1644.8 199.4h7.2M1644.8 211.0h7.2M1651.4 195.8V206.4M1647.8 195.8h7.2M1647.8 206.4h7.2M1654.4 190.2V203.8M1650.8 190.2h7.2M1650.8 203.8h7.2M1657.3 186.3V199.7M1653.7 186.3h7.2M1653.7 199.7h7.2M1660.2 181.6V196.3M1656.6 181.6h7.2M1656.6 196.3h7.2M1663.1 176.9V193.4M1659.5 176.9h7.2M1659.5 193.4h7.2M1665.9 174.0V188.6M1662.3 174.0h7.2M1662.3 188.6h7.2M1668.7 168.4V186.7M1665.1 168.4h7.2M1665.1 186.7h7.2M1671.5 167.3V180.4M1667.9 167.3h7.2M1667.9 180.4h7.2M1674.2 162.5V177.8M1670.6 162.5h7.2M1670.6 177.8h7.2M1676.9 160.5V174.6M1673.3 160.5h7.2M1673.3 174.6h7.2M1679.6 156.5V174.9M1676.0 156.5h7.2M1676.0 174.9h7.2M1682.3 156.7V171.1M1678.7 156.7h7.2M1678.7 171.1h7.2M1684.9 154.9V172.1M1681.3 154.9h7.2M1681.3 172.1h7.2M1687.5 158.4V172.5M1683.9 158.4h7.2M1683.9 172.5h7.2M1690.1 157.6V177.1M1686.5 157.6h7.2M1686.5 177.1h7.2M1692.7 160.5V178.0M1689.1 160.5h7.2M1689.1 178.0h7.2M1693.6 160.6V179.0M1690.0 160.6h7.2M1690.0 179.0h7.2" stroke-width="0.95"/></g>
<g clip-path="url(#cpb1)" fill="none" stroke="#1c1c1c"><polyline points="1404.4,244.7 1450.0,247.9 1464.0,248.8 1475.3,249.0 1485.0,249.1 1493.7,249.2 1501.6,249.4 1508.9,249.6 1515.7,249.8 1522.2,249.9 1528.3,250.1 1534.1,250.2 1539.6,250.4 1545.0,250.5 1550.1,250.7 1555.1,250.8 1559.9,250.9 1564.6,251.0 1569.1,250.4 1573.5,249.5 1577.8,248.7 1582.0,247.8 1586.1,247.0 1590.1,246.2 1594.0,245.4 1597.9,242.9 1601.7,240.3 1605.4,237.8 1609.0,235.2 1612.6,230.8 1616.1,226.5 1619.5,222.3 1622.9,218.1 1626.3,212.1 1629.6,206.0 1632.8,200.1 1636.0,194.2 1639.2,188.4 1642.3,182.5 1645.4,174.4 1648.4,166.4 1651.4,158.4 1654.4,150.6 1657.3,143.3 1660.2,137.2 1663.1,131.1 1665.9,125.2 1668.7,119.2 1671.5,117.1 1674.2,115.0 1676.9,112.9 1679.6,110.9 1682.3,111.9 1684.9,113.7 1687.5,115.4 1690.1,117.1 1692.7,118.8 1693.6,119.2" stroke-width="1.2" stroke-linejoin="round"/><path d="M1404.4 242.3V247.0M1400.8 242.3h7.2M1400.8 247.0h7.2M1450.0 245.6V250.3M1446.4 245.6h7.2M1446.4 250.3h7.2M1464.0 246.3V251.3M1460.4 246.3h7.2M1460.4 251.3h7.2M1475.3 246.0V251.9M1471.7 246.0h7.2M1471.7 251.9h7.2M1485.0 246.0V252.3M1481.4 246.0h7.2M1481.4 252.3h7.2M1493.7 246.4V252.1M1490.1 246.4h7.2M1490.1 252.1h7.2M1501.6 246.7V252.0M1498.0 246.7h7.2M1498.0 252.0h7.2M1508.9 246.9V252.3M1505.3 246.9h7.2M1505.3 252.3h7.2M1515.7 246.6V252.9M1512.1 246.6h7.2M1512.1 252.9h7.2M1522.2 246.6V253.3M1518.6 246.6h7.2M1518.6 253.3h7.2M1528.3 247.0V253.1M1524.7 247.0h7.2M1524.7 253.1h7.2M1534.1 247.8V252.6M1530.5 247.8h7.2M1530.5 252.6h7.2M1539.6 247.6V253.1M1536.0 247.6h7.2M1536.0 253.1h7.2M1545.0 247.6V253.4M1541.4 247.6h7.2M1541.4 253.4h7.2M1550.1 247.9V253.4M1546.5 247.9h7.2M1546.5 253.4h7.2M1555.1 247.9V253.6M1551.5 247.9h7.2M1551.5 253.6h7.2M1559.9 248.2V253.7M1556.3 248.2h7.2M1556.3 253.7h7.2M1564.6 248.6V253.4M1561.0 248.6h7.2M1561.0 253.4h7.2M1569.1 247.7V253.2M1565.5 247.7h7.2M1565.5 253.2h7.2M1573.5 246.3V252.8M1569.9 246.3h7.2M1569.9 252.8h7.2M1577.8 246.4V251.0M1574.2 246.4h7.2M1574.2 251.0h7.2M1582.0 244.8V250.8M1578.4 244.8h7.2M1578.4 250.8h7.2M1586.1 244.7V249.3M1582.5 244.7h7.2M1582.5 249.3h7.2M1590.1 243.4V248.9M1586.5 243.4h7.2M1586.5 248.9h7.2M1594.0 243.3V247.5M1590.4 243.3h7.2M1590.4 247.5h7.2M1597.9 240.4V245.5M1594.3 240.4h7.2M1594.3 245.5h7.2M1601.7 237.7V243.0M1598.1 237.7h7.2M1598.1 243.0h7.2M1605.4 234.6V240.9M1601.8 234.6h7.2M1601.8 240.9h7.2M1609.0 232.5V237.8M1605.4 232.5h7.2M1605.4 237.8h7.2M1612.6 227.0V234.6M1609.0 227.0h7.2M1609.0 234.6h7.2M1616.1 222.3V230.7M1612.5 222.3h7.2M1612.5 230.7h7.2M1619.5 218.5V226.1M1615.9 218.5h7.2M1615.9 226.1h7.2M1622.9 214.4V221.9M1619.3 214.4h7.2M1619.3 221.9h7.2M1626.3 206.2V218.0M1622.7 206.2h7.2M1622.7 218.0h7.2M1629.6 200.6V211.5M1626.0 200.6h7.2M1626.0 211.5h7.2M1632.8 194.5V205.7M1629.2 194.5h7.2M1629.2 205.7h7.2M1636.0 187.0V201.4M1632.4 187.0h7.2M1632.4 201.4h7.2M1639.2 182.3V194.6M1635.6 182.3h7.2M1635.6 194.6h7.2M1642.3 173.8V191.3M1638.7 173.8h7.2M1638.7 191.3h7.2M1645.4 165.6V183.2M1641.8 165.6h7.2M1641.8 183.2h7.2M1648.4 159.2V173.5M1644.8 159.2h7.2M1644.8 173.5h7.2M1651.4 150.9V165.9M1647.8 150.9h7.2M1647.8 165.9h7.2M1654.4 141.5V159.7M1650.8 141.5h7.2M1650.8 159.7h7.2M1657.3 135.4V151.3M1653.7 135.4h7.2M1653.7 151.3h7.2M1660.2 128.0V146.4M1656.6 128.0h7.2M1656.6 146.4h7.2M1663.1 120.5V141.8M1659.5 120.5h7.2M1659.5 141.8h7.2M1665.9 116.0V134.4M1662.3 116.0h7.2M1662.3 134.4h7.2M1668.7 109.6V128.9M1665.1 109.6h7.2M1665.1 128.9h7.2M1671.5 109.6V124.6M1667.9 109.6h7.2M1667.9 124.6h7.2M1674.2 106.0V124.0M1670.6 106.0h7.2M1670.6 124.0h7.2M1676.9 102.2V123.7M1673.3 102.2h7.2M1673.3 123.7h7.2M1679.6 100.9V120.9M1676.0 100.9h7.2M1676.0 120.9h7.2M1682.3 104.0V119.9M1678.7 104.0h7.2M1678.7 119.9h7.2M1684.9 104.9V122.5M1681.3 104.9h7.2M1681.3 122.5h7.2M1687.5 106.6V124.2M1683.9 106.6h7.2M1683.9 124.2h7.2M1690.1 109.2V125.0M1686.5 109.2h7.2M1686.5 125.0h7.2M1692.7 109.0V128.5M1689.1 109.0h7.2M1689.1 128.5h7.2M1693.6 108.5V130.0M1690.0 108.5h7.2M1690.0 130.0h7.2" stroke-width="0.95"/></g>
<g clip-path="url(#cpb1)" fill="none" stroke="#1c1c1c"><polyline points="1404.4,255.7 1450.0,260.4 1464.0,261.6 1475.3,261.7 1485.0,261.9 1493.7,262.0 1501.6,262.2 1508.9,262.3 1515.7,262.4 1522.2,262.6 1528.3,262.6 1534.1,260.9 1539.6,259.3 1545.0,257.7 1550.1,256.2 1555.1,252.7 1559.9,248.3 1564.6,244.0 1569.1,239.8 1573.5,233.9 1577.8,227.1 1582.0,220.4 1586.1,213.9 1590.1,207.4 1594.0,199.2 1597.9,191.3 1601.7,183.4 1605.4,175.7 1609.0,168.2 1612.6,161.8 1616.1,155.5 1619.5,149.3 1622.9,143.2 1626.3,137.7 1629.6,133.0 1632.8,128.4 1636.0,123.8 1639.2,119.3 1642.3,114.9 1645.4,110.7 1648.4,106.7 1651.4,102.6 1654.4,98.6 1657.3,95.5 1660.2,94.1 1663.1,92.7 1665.9,91.4 1668.7,93.1 1671.5,94.8 1674.2,96.5 1676.9,98.1 1679.6,101.8 1682.3,107.2 1684.9,112.6 1687.5,119.6 1690.1,130.4 1692.7,141.2 1693.6,144.2" stroke-width="1.2" stroke-linejoin="round"/><path d="M1404.4 253.0V258.5M1400.8 253.0h7.2M1400.8 258.5h7.2M1450.0 257.1V263.7M1446.4 257.1h7.2M1446.4 263.7h7.2M1464.0 259.2V263.9M1460.4 259.2h7.2M1460.4 263.9h7.2M1475.3 258.6V264.9M1471.7 258.6h7.2M1471.7 264.9h7.2M1485.0 258.9V264.9M1481.4 258.9h7.2M1481.4 264.9h7.2M1493.7 259.3V264.7M1490.1 259.3h7.2M1490.1 264.7h7.2M1501.6 259.8V264.5M1498.0 259.8h7.2M1498.0 264.5h7.2M1508.9 259.9V264.7M1505.3 259.9h7.2M1505.3 264.7h7.2M1515.7 259.8V265.1M1512.1 259.8h7.2M1512.1 265.1h7.2M1522.2 259.6V265.6M1518.6 259.6h7.2M1518.6 265.6h7.2M1528.3 259.8V265.4M1524.7 259.8h7.2M1524.7 265.4h7.2M1534.1 258.5V263.3M1530.5 258.5h7.2M1530.5 263.3h7.2M1539.6 256.2V262.3M1536.0 256.2h7.2M1536.0 262.3h7.2M1545.0 254.9V260.5M1541.4 254.9h7.2M1541.4 260.5h7.2M1550.1 254.0V258.4M1546.5 254.0h7.2M1546.5 258.4h7.2M1555.1 250.5V254.8M1551.5 250.5h7.2M1551.5 254.8h7.2M1559.9 245.1V251.4M1556.3 245.1h7.2M1556.3 251.4h7.2M1564.6 240.4V247.6M1561.0 240.4h7.2M1561.0 247.6h7.2M1569.1 235.7V243.9M1565.5 235.7h7.2M1565.5 243.9h7.2M1573.5 229.3V238.6M1569.9 229.3h7.2M1569.9 238.6h7.2M1577.8 222.6V231.6M1574.2 222.6h7.2M1574.2 231.6h7.2M1582.0 214.3V226.6M1578.4 214.3h7.2M1578.4 226.6h7.2M1586.1 209.0V218.9M1582.5 209.0h7.2M1582.5 218.9h7.2M1590.1 200.7V214.1M1586.5 200.7h7.2M1586.5 214.1h7.2M1594.0 193.2V205.3M1590.4 193.2h7.2M1590.4 205.3h7.2M1597.9 182.4V200.1M1594.3 182.4h7.2M1594.3 200.1h7.2M1601.7 176.3V190.5M1598.1 176.3h7.2M1598.1 190.5h7.2M1605.4 165.5V186.0M1601.8 165.5h7.2M1601.8 186.0h7.2M1609.0 157.8V178.7M1605.4 157.8h7.2M1605.4 178.7h7.2M1612.6 153.8V169.9M1609.0 153.8h7.2M1609.0 169.9h7.2M1616.1 145.4V165.6M1612.5 145.4h7.2M1612.5 165.6h7.2M1619.5 138.9V159.8M1615.9 138.9h7.2M1615.9 159.8h7.2M1622.9 132.9V153.5M1619.3 132.9h7.2M1619.3 153.5h7.2M1626.3 128.0V147.4M1622.7 128.0h7.2M1622.7 147.4h7.2M1629.6 125.3V140.6M1626.0 125.3h7.2M1626.0 140.6h7.2M1632.8 117.7V139.1M1629.2 117.7h7.2M1629.2 139.1h7.2M1636.0 115.3V132.3M1632.4 115.3h7.2M1632.4 132.3h7.2M1639.2 111.0V127.6M1635.6 111.0h7.2M1635.6 127.6h7.2M1642.3 104.7V125.1M1638.7 104.7h7.2M1638.7 125.1h7.2M1645.4 101.9V119.6M1641.8 101.9h7.2M1641.8 119.6h7.2M1648.4 98.7V114.6M1644.8 98.7h7.2M1644.8 114.6h7.2M1651.4 94.6V110.6M1647.8 94.6h7.2M1647.8 110.6h7.2M1654.4 87.7V109.6M1650.8 87.7h7.2M1650.8 109.6h7.2M1657.3 87.4V103.6M1653.7 87.4h7.2M1653.7 103.6h7.2M1660.2 85.8V102.4M1656.6 85.8h7.2M1656.6 102.4h7.2M1663.1 82.5V103.0M1659.5 82.5h7.2M1659.5 103.0h7.2M1665.9 81.4V101.3M1662.3 81.4h7.2M1662.3 101.3h7.2M1668.7 85.3V100.9M1665.1 85.3h7.2M1665.1 100.9h7.2M1671.5 84.9V104.7M1667.9 84.9h7.2M1667.9 104.7h7.2M1674.2 87.1V105.9M1670.6 87.1h7.2M1670.6 105.9h7.2M1676.9 89.0V107.3M1673.3 89.0h7.2M1673.3 107.3h7.2M1679.6 91.8V111.7M1676.0 91.8h7.2M1676.0 111.7h7.2M1682.3 98.9V115.5M1678.7 98.9h7.2M1678.7 115.5h7.2M1684.9 104.2V121.0M1681.3 104.2h7.2M1681.3 121.0h7.2M1687.5 109.9V129.2M1683.9 109.9h7.2M1683.9 129.2h7.2M1690.1 121.0V139.9M1686.5 121.0h7.2M1686.5 139.9h7.2M1692.7 131.2V151.1M1689.1 131.2h7.2M1689.1 151.1h7.2M1693.6 136.4V152.0M1690.0 136.4h7.2M1690.0 152.0h7.2" stroke-width="0.95"/></g>
<rect x="1404.40" y="23.40" width="289.20" height="290.40" fill="none" stroke="#222" stroke-width="2.7"/>
<path d="M1499.47 313.80v-4.5M1499.47 23.40v4.5M1594.54 313.80v-4.5M1594.54 23.40v4.5M1689.61 313.80v-4.5M1689.61 23.40v4.5M1404.40 255.72h4.5M1693.60 255.72h-4.5M1404.40 197.64h4.5M1693.60 197.64h-4.5M1404.40 139.56h4.5M1693.60 139.56h-4.5M1404.40 81.48h4.5M1693.60 81.48h-4.5" stroke="#222" stroke-width="2.03" fill="none"/>
<text x="1404.4" y="341.0" font-size="21.8" fill="#222" text-anchor="middle" >0</text>
<text x="1499.5" y="341.0" font-size="21.8" fill="#222" text-anchor="middle" >100</text>
<text x="1594.5" y="341.0" font-size="21.8" fill="#222" text-anchor="middle" >200</text>
<text x="1689.6" y="341.0" font-size="21.8" fill="#222" text-anchor="middle" >300</text>
<text x="1397.4" y="322.5" font-size="21.8" fill="#222" text-anchor="end" >0</text>
<text x="1397.4" y="264.4" font-size="21.8" fill="#222" text-anchor="end" >100</text>
<text x="1397.4" y="206.3" font-size="21.8" fill="#222" text-anchor="end" >200</text>
<text x="1397.4" y="148.3" font-size="21.8" fill="#222" text-anchor="end" >300</text>
<text x="1397.4" y="90.2" font-size="21.8" fill="#222" text-anchor="end" >400</text>
<text x="1397.4" y="32.1" font-size="21.8" fill="#222" text-anchor="end" >500</text>
<text x="1411.9" y="370.3" font-size="23.6" fill="#111" textLength="274.5" lengthAdjust="spacingAndGlyphs">Distance from center (µm)</text>
<text x="1355.4" y="340.0" font-size="23.5" fill="#111" textLength="326.0" lengthAdjust="spacingAndGlyphs" transform="rotate(-90 1355.4 340.0)" >Nodal RNA intensity (arb. units)</text>
<path d="M1413.3 48.2h41.7M1434.5 36.2v24M1429.7 36.2h9.6M1429.7 60.2h9.6" stroke="#ff0000" stroke-width="1.3" fill="none"/>
<circle cx="1434.5" cy="48.2" r="1.6" fill="#ff0000"/>
<text x="1453.7" y="58.2" font-size="23.4" fill="#000" textLength="89.6" lengthAdjust="spacingAndGlyphs" >BMP12h</text>
<path d="M1413.3 83.8h41.7M1434.5 71.8v24M1429.7 71.8h9.6M1429.7 95.8h9.6" stroke="#0000ff" stroke-width="1.3" fill="none"/>
<circle cx="1434.5" cy="83.8" r="1.6" fill="#0000ff"/>
<text x="1453.7" y="93.8" font-size="23.4" fill="#000" textLength="89.6" lengthAdjust="spacingAndGlyphs" >BMP24h</text>
<path d="M1413.3 119.4h41.7M1434.5 107.4v24M1429.7 107.4h9.6M1429.7 131.4h9.6" stroke="#00ff00" stroke-width="1.3" fill="none"/>
<circle cx="1434.5" cy="119.4" r="1.6" fill="#00ff00"/>
<text x="1453.7" y="129.4" font-size="23.4" fill="#000" textLength="89.6" lengthAdjust="spacingAndGlyphs" >BMP30h</text>
<path d="M1413.3 155.0h41.7M1434.5 143.0v24M1429.7 143.0h9.6M1429.7 167.0h9.6" stroke="#ff00ff" stroke-width="1.3" fill="none"/>
<circle cx="1434.5" cy="155.0" r="1.6" fill="#ff00ff"/>
<text x="1453.7" y="165.0" font-size="23.4" fill="#000" textLength="89.6" lengthAdjust="spacingAndGlyphs" >BMP36h</text>
<text x="3.6" y="550.3" font-size="26" fill="#000" font-weight="bold" >c</text>
<text x="42.2" y="744.1" font-size="27" fill="#000" textLength="133.4" lengthAdjust="spacingAndGlyphs" transform="rotate(-90 42.2 744.1)" >BMP4&#160;&#160;42h</text>
<text x="149.3" y="537.8" font-size="23.3" fill="#000" textLength="116.5" lengthAdjust="spacingAndGlyphs" >Nodal RNA</text>
<text x="438.0" y="537.8" font-size="23.3" fill="#000" textLength="72.0" lengthAdjust="spacingAndGlyphs" >cNodal</text>
<text x="725.7" y="537.8" font-size="23.3" fill="#000" textLength="106.5" lengthAdjust="spacingAndGlyphs" >pSmad2/3</text>
<rect x="52.2" y="547.8" width="284.6" height="283.1" fill="#090909"/>
<ellipse cx="194.8" cy="690.7" rx="123.0" ry="130.6" fill="#0d0d0d"/>
<ellipse cx="198.0" cy="693.0" rx="110" ry="108" fill="url(#gc0)" filter="url(#fc1)"/>
<ellipse cx="194.8" cy="690.7" rx="127.0" ry="134.6" fill="none" stroke="#fff" stroke-width="3.7" pathLength="21" stroke-dasharray="0.525 0.475"/>
<path d="M204.4 666.4h121.8v46.1h-121.8z" fill="none" stroke="#e4e4e4" stroke-width="0.85" stroke-dasharray="9 19.93 22 19.93 22 19.93 19 26.1 19 19.93 22 19.93 22 19.93 19 26.1 10"/>
<rect x="338.6" y="546.8" width="283.1" height="285.0" fill="#090909"/>
<ellipse cx="480.0" cy="686.5" rx="124.0" ry="131.7" fill="#0d0d0d"/>
<ellipse cx="481.0" cy="693.0" rx="107" ry="111" fill="url(#gc1)" filter="url(#fc2)"/>
<ellipse cx="480.0" cy="686.5" rx="128.0" ry="135.7" fill="none" stroke="#fff" stroke-width="3.7" pathLength="21" stroke-dasharray="0.525 0.475"/>
<path d="M487.9 666.4h121.9v46.1h-121.9z" fill="none" stroke="#e4e4e4" stroke-width="0.85" stroke-dasharray="9 19.97 22 19.97 22 19.97 19 26.1 19 19.97 22 19.97 22 19.97 19 26.1 10"/>
<rect x="625.3" y="549.3" width="282.7" height="282.6" fill="#090909"/>
<ellipse cx="770.1" cy="692.8" rx="122.9" ry="130.8" fill="#0d0d0d"/>
<ellipse cx="767.0" cy="692.0" rx="121" ry="128" fill="url(#gc2)" filter="url(#fc3)"/>
<ellipse cx="770.1" cy="692.8" rx="126.9" ry="134.8" fill="none" stroke="#fff" stroke-width="3.7" pathLength="21" stroke-dasharray="0.525 0.475"/>
<path d="M778.1 666.4h121.3v46.1h-121.3z" fill="none" stroke="#e4e4e4" stroke-width="0.85" stroke-dasharray="9 19.77 22 19.77 22 19.77 19 26.1 19 19.77 22 19.77 22 19.77 19 26.1 10"/>
<rect x="337.0" y="547.5" width="1.2" height="283.6" fill="#bbb"/>
<rect x="856.4" y="813.6" width="40.3" height="8.3" fill="#fff"/>
<text x="914.2" y="537.8" font-size="23.3" fill="#00dc28" textLength="109.8" lengthAdjust="spacingAndGlyphs" >NodalRNA</text>
<text x="1036.1" y="537.8" font-size="23.3" fill="#ff4a10" textLength="72.5" lengthAdjust="spacingAndGlyphs" >cNodal</text>
<text x="1124.4" y="537.8" font-size="23.3" fill="#0a28e6" textLength="106.2" lengthAdjust="spacingAndGlyphs" >pSmad2/3</text>
<text x="917.2" y="660.9" font-size="23.4" fill="#000" textLength="70.3" lengthAdjust="spacingAndGlyphs" >Center</text>
<text x="1203.2" y="660.9" font-size="23.4" fill="#000" textLength="53.3" lengthAdjust="spacingAndGlyphs" >Edge</text>
<rect x="916.8" y="545.4" width="340.1" height="92.2" fill="url(#gstrip)" filter="url(#fstrip)"/>
<rect x="921.9" y="551.1" width="50" height="5.9" fill="#fff"/>
<path d="M1244.3 546.5Q1254.6 568 1254.3 591Q1254 614 1245.4 634.6" fill="none" stroke="#fff" stroke-width="2" stroke-dasharray="8 4.2"/>
<text x="5.8" y="896.6" font-size="25.2" fill="#000" font-weight="bold" >d</text>
<clipPath id="cpd0"><rect x="74.7" y="903.6" width="324.40000000000003" height="255.60000000000002"/></clipPath>
<g clip-path="url(#cpd0)" fill="none" stroke="#ff00ff"><polyline points="75.7,1127.7 124.8,1129.0 139.8,1130.3 152.0,1130.9 162.4,1131.0 171.8,1130.3 180.2,1129.4 188.1,1129.5 195.4,1129.5 202.4,1130.3 208.9,1129.7 215.2,1130.1 221.1,1130.2 226.9,1130.2 232.4,1130.0 237.8,1128.7 242.9,1128.8 248.0,1128.7 252.8,1128.7 257.6,1129.6 262.2,1129.4 266.7,1128.8 271.1,1128.5 275.5,1128.0 279.7,1127.8 283.8,1128.9 287.9,1127.8 291.8,1127.4 295.8,1127.5 299.6,1127.9 303.4,1127.1 307.1,1127.6 310.7,1125.9 314.3,1125.9 317.9,1126.2 321.4,1126.4 324.8,1125.2 328.2,1125.6 331.6,1124.9 334.9,1124.9 338.1,1125.5 341.4,1125.6 344.6,1125.3 347.7,1125.5 350.8,1126.0 353.9,1125.7 356.9,1124.8 360.0,1126.1 362.9,1126.1 365.9,1125.0 368.8,1125.6 371.7,1125.2 374.6,1125.2 377.4,1125.4 380.2,1124.3 383.0,1125.7 385.8,1125.4 388.5,1125.8 391.2,1125.1 393.9,1125.8 396.6,1125.8 398.1,1125.1" stroke-width="1.9" stroke-linejoin="round"/><path d="M75.7 1126.5V1128.9M73.0 1126.5h5.4M73.0 1128.9h5.4M124.8 1127.7V1130.3M122.1 1127.7h5.4M122.1 1130.3h5.4M139.8 1128.9V1131.8M137.1 1128.9h5.4M137.1 1131.8h5.4M152.0 1129.9V1132.0M149.3 1129.9h5.4M149.3 1132.0h5.4M162.4 1129.9V1132.0M159.7 1129.9h5.4M159.7 1132.0h5.4M171.8 1129.2V1131.5M169.1 1129.2h5.4M169.1 1131.5h5.4M180.2 1128.0V1130.8M177.5 1128.0h5.4M177.5 1130.8h5.4M188.1 1128.2V1130.8M185.4 1128.2h5.4M185.4 1130.8h5.4M195.4 1128.3V1130.6M192.7 1128.3h5.4M192.7 1130.6h5.4M202.4 1129.1V1131.5M199.7 1129.1h5.4M199.7 1131.5h5.4M208.9 1128.6V1130.9M206.2 1128.6h5.4M206.2 1130.9h5.4M215.2 1128.8V1131.4M212.5 1128.8h5.4M212.5 1131.4h5.4M221.1 1129.1V1131.2M218.4 1129.1h5.4M218.4 1131.2h5.4M226.9 1128.8V1131.6M224.2 1128.8h5.4M224.2 1131.6h5.4M232.4 1128.5V1131.4M229.7 1128.5h5.4M229.7 1131.4h5.4M237.8 1127.2V1130.2M235.1 1127.2h5.4M235.1 1130.2h5.4M242.9 1127.4V1130.2M240.2 1127.4h5.4M240.2 1130.2h5.4M248.0 1127.2V1130.3M245.3 1127.2h5.4M245.3 1130.3h5.4M252.8 1127.6V1129.7M250.1 1127.6h5.4M250.1 1129.7h5.4M257.6 1128.5V1130.8M254.9 1128.5h5.4M254.9 1130.8h5.4M262.2 1127.9V1130.9M259.5 1127.9h5.4M259.5 1130.9h5.4M266.7 1127.4V1130.2M264.0 1127.4h5.4M264.0 1130.2h5.4M271.1 1127.3V1129.7M268.4 1127.3h5.4M268.4 1129.7h5.4M275.5 1126.5V1129.6M272.8 1126.5h5.4M272.8 1129.6h5.4M279.7 1126.4V1129.1M277.0 1126.4h5.4M277.0 1129.1h5.4M283.8 1127.4V1130.3M281.1 1127.4h5.4M281.1 1130.3h5.4M287.9 1126.6V1129.0M285.2 1126.6h5.4M285.2 1129.0h5.4M291.8 1126.3V1128.6M289.1 1126.3h5.4M289.1 1128.6h5.4M295.8 1126.3V1128.8M293.1 1126.3h5.4M293.1 1128.8h5.4M299.6 1126.8V1129.0M296.9 1126.8h5.4M296.9 1129.0h5.4M303.4 1125.9V1128.4M300.7 1125.9h5.4M300.7 1128.4h5.4M307.1 1126.1V1129.1M304.4 1126.1h5.4M304.4 1129.1h5.4M310.7 1124.8V1127.1M308.0 1124.8h5.4M308.0 1127.1h5.4M314.3 1124.8V1126.9M311.6 1124.8h5.4M311.6 1126.9h5.4M317.9 1125.2V1127.3M315.2 1125.2h5.4M315.2 1127.3h5.4M321.4 1125.3V1127.5M318.7 1125.3h5.4M318.7 1127.5h5.4M324.8 1123.8V1126.6M322.1 1123.8h5.4M322.1 1126.6h5.4M328.2 1124.4V1126.8M325.5 1124.4h5.4M325.5 1126.8h5.4M331.6 1123.7V1126.1M328.9 1123.7h5.4M328.9 1126.1h5.4M334.9 1123.9V1126.0M332.2 1123.9h5.4M332.2 1126.0h5.4M338.1 1124.0V1127.0M335.4 1124.0h5.4M335.4 1127.0h5.4M341.4 1124.4V1126.8M338.7 1124.4h5.4M338.7 1126.8h5.4M344.6 1124.1V1126.4M341.9 1124.1h5.4M341.9 1126.4h5.4M347.7 1124.5V1126.6M345.0 1124.5h5.4M345.0 1126.6h5.4M350.8 1124.9V1127.0M348.1 1124.9h5.4M348.1 1127.0h5.4M353.9 1124.6V1126.8M351.2 1124.6h5.4M351.2 1126.8h5.4M356.9 1123.4V1126.2M354.2 1123.4h5.4M354.2 1126.2h5.4M360.0 1125.0V1127.2M357.3 1125.0h5.4M357.3 1127.2h5.4M362.9 1125.0V1127.1M360.2 1125.0h5.4M360.2 1127.1h5.4M365.9 1123.8V1126.3M363.2 1123.8h5.4M363.2 1126.3h5.4M368.8 1124.5V1126.8M366.1 1124.5h5.4M366.1 1126.8h5.4M371.7 1123.6V1126.7M369.0 1123.6h5.4M369.0 1126.7h5.4M374.6 1124.1V1126.3M371.9 1124.1h5.4M371.9 1126.3h5.4M377.4 1124.1V1126.7M374.7 1124.1h5.4M374.7 1126.7h5.4M380.2 1122.9V1125.7M377.5 1122.9h5.4M377.5 1125.7h5.4M383.0 1124.4V1126.9M380.3 1124.4h5.4M380.3 1126.9h5.4M385.8 1123.8V1126.9M383.1 1123.8h5.4M383.1 1126.9h5.4M388.5 1124.5V1127.1M385.8 1124.5h5.4M385.8 1127.1h5.4M391.2 1124.0V1126.3M388.5 1124.0h5.4M388.5 1126.3h5.4M393.9 1124.6V1127.1M391.2 1124.6h5.4M391.2 1127.1h5.4M396.6 1124.7V1126.8M393.9 1124.7h5.4M393.9 1126.8h5.4M398.1 1123.9V1126.4M395.4 1123.9h5.4M395.4 1126.4h5.4" stroke-width="1.7"/></g>
<g clip-path="url(#cpd0)" fill="none" stroke="#00ffff"><polyline points="75.7,1074.4 124.8,1072.9 139.8,1072.3 152.0,1072.4 162.4,1072.7 171.8,1072.5 180.2,1072.7 188.1,1073.0 195.4,1073.1 202.4,1072.2 208.9,1073.5 215.2,1073.4 221.1,1071.6 226.9,1071.9 232.4,1070.9 237.8,1071.6 242.9,1070.5 248.0,1070.6 252.8,1070.5 257.6,1070.8 262.2,1071.5 266.7,1072.4 271.1,1072.1 275.5,1069.9 279.7,1068.8 283.8,1067.7 287.9,1067.7 291.8,1066.1 295.8,1064.9 299.6,1064.1 303.4,1062.7 307.1,1062.1 310.7,1060.8 314.3,1059.7 317.9,1059.4 321.4,1057.3 324.8,1056.6 328.2,1057.5 331.6,1055.4 334.9,1054.8 338.1,1054.8 341.4,1055.3 344.6,1053.3 347.7,1054.0 350.8,1052.1 353.9,1052.3 356.9,1053.3 360.0,1053.0 362.9,1052.1 365.9,1052.1 368.8,1051.7 371.7,1051.3 374.6,1052.4 377.4,1052.7 380.2,1051.0 383.0,1052.4 385.8,1050.8 388.5,1051.9 391.2,1050.5 393.9,1050.4 396.6,1050.0 398.1,1050.5" stroke-width="1.9" stroke-linejoin="round"/><path d="M75.7 1071.5V1077.4M73.0 1071.5h5.4M73.0 1077.4h5.4M124.8 1070.7V1075.2M122.1 1070.7h5.4M122.1 1075.2h5.4M139.8 1069.6V1075.1M137.1 1069.6h5.4M137.1 1075.1h5.4M152.0 1070.0V1074.7M149.3 1070.0h5.4M149.3 1074.7h5.4M162.4 1069.7V1075.6M159.7 1069.7h5.4M159.7 1075.6h5.4M171.8 1069.7V1075.3M169.1 1069.7h5.4M169.1 1075.3h5.4M180.2 1070.2V1075.2M177.5 1070.2h5.4M177.5 1075.2h5.4M188.1 1070.4V1075.5M185.4 1070.4h5.4M185.4 1075.5h5.4M195.4 1071.0V1075.2M192.7 1071.0h5.4M192.7 1075.2h5.4M202.4 1070.1V1074.2M199.7 1070.1h5.4M199.7 1074.2h5.4M208.9 1070.9V1076.2M206.2 1070.9h5.4M206.2 1076.2h5.4M215.2 1070.8V1075.9M212.5 1070.8h5.4M212.5 1075.9h5.4M221.1 1068.6V1074.5M218.4 1068.6h5.4M218.4 1074.5h5.4M226.9 1069.2V1074.5M224.2 1069.2h5.4M224.2 1074.5h5.4M232.4 1068.7V1073.0M229.7 1068.7h5.4M229.7 1073.0h5.4M237.8 1069.2V1074.0M235.1 1069.2h5.4M235.1 1074.0h5.4M242.9 1067.6V1073.3M240.2 1067.6h5.4M240.2 1073.3h5.4M248.0 1068.0V1073.2M245.3 1068.0h5.4M245.3 1073.2h5.4M252.8 1068.4V1072.5M250.1 1068.4h5.4M250.1 1072.5h5.4M257.6 1067.9V1073.7M254.9 1067.9h5.4M254.9 1073.7h5.4M262.2 1068.6V1074.4M259.5 1068.6h5.4M259.5 1074.4h5.4M266.7 1070.3V1074.5M264.0 1070.3h5.4M264.0 1074.5h5.4M271.1 1069.5V1074.7M268.4 1069.5h5.4M268.4 1074.7h5.4M275.5 1067.4V1072.3M272.8 1067.4h5.4M272.8 1072.3h5.4M279.7 1065.9V1071.6M277.0 1065.9h5.4M277.0 1071.6h5.4M283.8 1065.3V1070.1M281.1 1065.3h5.4M281.1 1070.1h5.4M287.9 1065.4V1070.0M285.2 1065.4h5.4M285.2 1070.0h5.4M291.8 1063.6V1068.7M289.1 1063.6h5.4M289.1 1068.7h5.4M295.8 1061.9V1067.9M293.1 1061.9h5.4M293.1 1067.9h5.4M299.6 1061.9V1066.2M296.9 1061.9h5.4M296.9 1066.2h5.4M303.4 1060.5V1064.8M300.7 1060.5h5.4M300.7 1064.8h5.4M307.1 1059.4V1064.7M304.4 1059.4h5.4M304.4 1064.7h5.4M310.7 1057.8V1063.7M308.0 1057.8h5.4M308.0 1063.7h5.4M314.3 1057.1V1062.3M311.6 1057.1h5.4M311.6 1062.3h5.4M317.9 1056.9V1061.9M315.2 1056.9h5.4M315.2 1061.9h5.4M321.4 1054.3V1060.2M318.7 1054.3h5.4M318.7 1060.2h5.4M324.8 1053.8V1059.4M322.1 1053.8h5.4M322.1 1059.4h5.4M328.2 1055.4V1059.6M325.5 1055.4h5.4M325.5 1059.6h5.4M331.6 1052.5V1058.4M328.9 1052.5h5.4M328.9 1058.4h5.4M334.9 1052.6V1057.1M332.2 1052.6h5.4M332.2 1057.1h5.4M338.1 1052.4V1057.1M335.4 1052.4h5.4M335.4 1057.1h5.4M341.4 1052.4V1058.2M338.7 1052.4h5.4M338.7 1058.2h5.4M344.6 1050.8V1055.8M341.9 1050.8h5.4M341.9 1055.8h5.4M347.7 1051.2V1056.9M345.0 1051.2h5.4M345.0 1056.9h5.4M350.8 1049.9V1054.3M348.1 1049.9h5.4M348.1 1054.3h5.4M353.9 1049.4V1055.3M351.2 1049.4h5.4M351.2 1055.3h5.4M356.9 1051.0V1055.5M354.2 1051.0h5.4M354.2 1055.5h5.4M360.0 1050.8V1055.2M357.3 1050.8h5.4M357.3 1055.2h5.4M362.9 1049.5V1054.6M360.2 1049.5h5.4M360.2 1054.6h5.4M365.9 1049.7V1054.5M363.2 1049.7h5.4M363.2 1054.5h5.4M368.8 1049.1V1054.3M366.1 1049.1h5.4M366.1 1054.3h5.4M371.7 1048.3V1054.2M369.0 1048.3h5.4M369.0 1054.2h5.4M374.6 1049.6V1055.2M371.9 1049.6h5.4M371.9 1055.2h5.4M377.4 1050.6V1054.7M374.7 1050.6h5.4M374.7 1054.7h5.4M380.2 1048.6V1053.4M377.5 1048.6h5.4M377.5 1053.4h5.4M383.0 1049.8V1055.0M380.3 1049.8h5.4M380.3 1055.0h5.4M385.8 1048.2V1053.3M383.1 1048.2h5.4M383.1 1053.3h5.4M388.5 1049.1V1054.6M385.8 1049.1h5.4M385.8 1054.6h5.4M391.2 1048.0V1053.0M388.5 1048.0h5.4M388.5 1053.0h5.4M393.9 1048.2V1052.5M391.2 1048.2h5.4M391.2 1052.5h5.4M396.6 1047.7V1052.3M393.9 1047.7h5.4M393.9 1052.3h5.4M398.1 1047.6V1053.4M395.4 1047.6h5.4M395.4 1053.4h5.4" stroke-width="1.7"/></g>
<g clip-path="url(#cpd0)" fill="none" stroke="#000000"><polyline points="75.7,1110.5 124.8,1111.9 139.8,1114.6 152.0,1117.4 162.4,1117.1 171.8,1117.0 180.2,1117.3 188.1,1116.3 195.4,1117.1 202.4,1116.3 208.9,1117.3 215.2,1116.1 221.1,1115.9 226.9,1115.9 232.4,1116.0 237.8,1116.2 242.9,1114.9 248.0,1115.5 252.8,1114.8 257.6,1115.5 262.2,1115.5 266.7,1115.2 271.1,1113.8 275.5,1114.4 279.7,1112.8 283.8,1113.2 287.9,1112.5 291.8,1112.4 295.8,1111.6 299.6,1112.1 303.4,1111.1 307.1,1109.8 310.7,1110.6 314.3,1109.4 317.9,1109.5 321.4,1109.2 324.8,1109.2 328.2,1108.8 331.6,1106.9 334.9,1107.4 338.1,1107.6 341.4,1107.9 344.6,1107.8 347.7,1109.4 350.8,1108.9 353.9,1109.3 356.9,1109.3 360.0,1108.8 362.9,1109.2 365.9,1109.0 368.8,1110.6 371.7,1109.9 374.6,1110.0 377.4,1110.0 380.2,1110.3 383.0,1110.1 385.8,1111.1 388.5,1110.2 391.2,1111.2 393.9,1110.9 396.6,1110.5 398.1,1110.9" stroke-width="1.9" stroke-linejoin="round"/><path d="M75.7 1108.5V1112.4M73.0 1108.5h5.4M73.0 1112.4h5.4M124.8 1110.0V1113.8M122.1 1110.0h5.4M122.1 1113.8h5.4M139.8 1112.7V1116.6M137.1 1112.7h5.4M137.1 1116.6h5.4M152.0 1115.1V1119.6M149.3 1115.1h5.4M149.3 1119.6h5.4M162.4 1114.6V1119.7M159.7 1114.6h5.4M159.7 1119.7h5.4M171.8 1114.5V1119.5M169.1 1114.5h5.4M169.1 1119.5h5.4M180.2 1115.3V1119.4M177.5 1115.3h5.4M177.5 1119.4h5.4M188.1 1114.3V1118.4M185.4 1114.3h5.4M185.4 1118.4h5.4M195.4 1114.7V1119.5M192.7 1114.7h5.4M192.7 1119.5h5.4M202.4 1114.4V1118.3M199.7 1114.4h5.4M199.7 1118.3h5.4M208.9 1115.3V1119.4M206.2 1115.3h5.4M206.2 1119.4h5.4M215.2 1114.4V1117.8M212.5 1114.4h5.4M212.5 1117.8h5.4M221.1 1114.1V1117.8M218.4 1114.1h5.4M218.4 1117.8h5.4M226.9 1113.8V1118.1M224.2 1113.8h5.4M224.2 1118.1h5.4M232.4 1113.7V1118.3M229.7 1113.7h5.4M229.7 1118.3h5.4M237.8 1114.0V1118.4M235.1 1114.0h5.4M235.1 1118.4h5.4M242.9 1112.9V1117.0M240.2 1112.9h5.4M240.2 1117.0h5.4M248.0 1113.0V1118.0M245.3 1113.0h5.4M245.3 1118.0h5.4M252.8 1112.6V1117.0M250.1 1112.6h5.4M250.1 1117.0h5.4M257.6 1113.7V1117.4M254.9 1113.7h5.4M254.9 1117.4h5.4M262.2 1113.7V1117.2M259.5 1113.7h5.4M259.5 1117.2h5.4M266.7 1112.7V1117.7M264.0 1112.7h5.4M264.0 1117.7h5.4M271.1 1111.3V1116.4M268.4 1111.3h5.4M268.4 1116.4h5.4M275.5 1112.0V1116.9M272.8 1112.0h5.4M272.8 1116.9h5.4M279.7 1110.6V1115.0M277.0 1110.6h5.4M277.0 1115.0h5.4M283.8 1111.3V1115.2M281.1 1111.3h5.4M281.1 1115.2h5.4M287.9 1110.7V1114.3M285.2 1110.7h5.4M285.2 1114.3h5.4M291.8 1110.5V1114.4M289.1 1110.5h5.4M289.1 1114.4h5.4M295.8 1109.7V1113.5M293.1 1109.7h5.4M293.1 1113.5h5.4M299.6 1109.6V1114.6M296.9 1109.6h5.4M296.9 1114.6h5.4M303.4 1108.7V1113.6M300.7 1108.7h5.4M300.7 1113.6h5.4M307.1 1107.4V1112.1M304.4 1107.4h5.4M304.4 1112.1h5.4M310.7 1108.8V1112.5M308.0 1108.8h5.4M308.0 1112.5h5.4M314.3 1107.5V1111.3M311.6 1107.5h5.4M311.6 1111.3h5.4M317.9 1107.6V1111.5M315.2 1107.6h5.4M315.2 1111.5h5.4M321.4 1106.7V1111.7M318.7 1106.7h5.4M318.7 1111.7h5.4M324.8 1107.4V1111.1M322.1 1107.4h5.4M322.1 1111.1h5.4M328.2 1106.5V1111.2M325.5 1106.5h5.4M325.5 1111.2h5.4M331.6 1104.6V1109.2M328.9 1104.6h5.4M328.9 1109.2h5.4M334.9 1105.2V1109.5M332.2 1105.2h5.4M332.2 1109.5h5.4M338.1 1105.1V1110.2M335.4 1105.1h5.4M335.4 1110.2h5.4M341.4 1105.9V1109.8M338.7 1105.9h5.4M338.7 1109.8h5.4M344.6 1105.7V1110.0M341.9 1105.7h5.4M341.9 1110.0h5.4M347.7 1107.6V1111.3M345.0 1107.6h5.4M345.0 1111.3h5.4M350.8 1107.1V1110.7M348.1 1107.1h5.4M348.1 1110.7h5.4M353.9 1107.5V1111.0M351.2 1107.5h5.4M351.2 1111.0h5.4M356.9 1107.3V1111.2M354.2 1107.3h5.4M354.2 1111.2h5.4M360.0 1107.0V1110.6M357.3 1107.0h5.4M357.3 1110.6h5.4M362.9 1107.5V1111.0M360.2 1107.5h5.4M360.2 1111.0h5.4M365.9 1106.5V1111.6M363.2 1106.5h5.4M363.2 1111.6h5.4M368.8 1108.7V1112.6M366.1 1108.7h5.4M366.1 1112.6h5.4M371.7 1107.4V1112.3M369.0 1107.4h5.4M369.0 1112.3h5.4M374.6 1107.7V1112.3M371.9 1107.7h5.4M371.9 1112.3h5.4M377.4 1107.6V1112.3M374.7 1107.6h5.4M374.7 1112.3h5.4M380.2 1108.1V1112.6M377.5 1108.1h5.4M377.5 1112.6h5.4M383.0 1107.6V1112.6M380.3 1107.6h5.4M380.3 1112.6h5.4M385.8 1108.7V1113.6M383.1 1108.7h5.4M383.1 1113.6h5.4M388.5 1107.8V1112.5M385.8 1107.8h5.4M385.8 1112.5h5.4M391.2 1109.0V1113.3M388.5 1109.0h5.4M388.5 1113.3h5.4M393.9 1108.6V1113.2M391.2 1108.6h5.4M391.2 1113.2h5.4M396.6 1108.2V1112.9M393.9 1108.2h5.4M393.9 1112.9h5.4M398.1 1108.8V1113.1M395.4 1108.8h5.4M395.4 1113.1h5.4" stroke-width="1.7"/></g>
<rect x="75.70" y="903.60" width="322.40" height="255.60" fill="none" stroke="#262626" stroke-width="2.0"/>
<path d="M177.95 1159.20v-4M177.95 903.60v4M280.20 1159.20v-4M280.20 903.60v4M382.46 1159.20v-4M382.46 903.60v4M75.70 1116.60h4M398.10 1116.60h-4M75.70 1074.00h4M398.10 1074.00h-4M75.70 1031.40h4M398.10 1031.40h-4M75.70 988.80h4M398.10 988.80h-4M75.70 946.20h4M398.10 946.20h-4" stroke="#262626" stroke-width="1.50" fill="none"/>
<text x="75.7" y="1186.3" font-size="22.2" fill="#222" text-anchor="middle" >0</text>
<text x="178.0" y="1186.3" font-size="22.2" fill="#222" text-anchor="middle" >100</text>
<text x="280.2" y="1186.3" font-size="22.2" fill="#222" text-anchor="middle" >200</text>
<text x="382.5" y="1186.3" font-size="22.2" fill="#222" text-anchor="middle" >300</text>
<text x="67.1" y="1166.8" font-size="22.2" fill="#222" text-anchor="end" >0</text>
<text x="67.1" y="1124.2" font-size="22.2" fill="#222" text-anchor="end" >0.2</text>
<text x="67.1" y="1081.6" font-size="22.2" fill="#222" text-anchor="end" >0.4</text>
<text x="67.1" y="1039.0" font-size="22.2" fill="#222" text-anchor="end" >0.6</text>
<text x="67.1" y="996.4" font-size="22.2" fill="#222" text-anchor="end" >0.8</text>
<text x="67.1" y="953.8" font-size="22.2" fill="#222" text-anchor="end" >1</text>
<text x="288.8" y="935.5" font-size="23" fill="#111" textLength="96.5" lengthAdjust="spacingAndGlyphs" >BMP-12h</text>
<text x="99.6" y="1224.8" font-size="23.3" fill="#111" textLength="270" lengthAdjust="spacingAndGlyphs">Distance from center (<tspan font-style="italic">µ</tspan>m)</text>
<clipPath id="cpd1"><rect x="471.5" y="903.6" width="324.4" height="255.60000000000002"/></clipPath>
<g clip-path="url(#cpd1)" fill="none" stroke="#ff00ff"><polyline points="472.5,1111.3 521.6,1111.9 536.6,1108.8 548.8,1110.2 559.2,1112.0 568.6,1113.1 577.0,1113.1 584.9,1115.2 592.2,1115.5 599.2,1114.1 605.7,1113.0 612.0,1113.1 617.9,1112.8 623.7,1113.3 629.2,1114.5 634.6,1112.8 639.7,1113.8 644.8,1111.7 649.6,1112.6 654.4,1112.1 659.0,1110.3 663.5,1109.6 667.9,1110.0 672.3,1108.7 676.5,1108.2 680.6,1107.0 684.7,1107.0 688.6,1105.1 692.6,1104.0 696.4,1103.7 700.2,1102.5 703.9,1101.7 707.5,1101.9 711.1,1101.3 714.7,1101.6 718.2,1102.3 721.6,1103.3 725.0,1102.1 728.4,1100.8 731.7,1101.1 734.9,1099.8 738.2,1098.6 741.4,1098.4 744.5,1099.2 747.6,1099.4 750.7,1101.2 753.7,1101.3 756.8,1102.8 759.7,1104.4 762.7,1104.2 765.6,1105.5 768.5,1106.8 771.4,1106.7 774.2,1107.4 777.0,1108.5 779.8,1109.5 782.6,1110.9 785.3,1111.8 788.0,1113.0 790.7,1114.1 793.4,1114.3 794.9,1115.8" stroke-width="1.9" stroke-linejoin="round"/><path d="M472.5 1109.5V1113.0M469.8 1109.5h5.4M469.8 1113.0h5.4M521.6 1109.6V1114.2M518.9 1109.6h5.4M518.9 1114.2h5.4M536.6 1106.7V1111.0M533.9 1106.7h5.4M533.9 1111.0h5.4M548.8 1108.0V1112.4M546.1 1108.0h5.4M546.1 1112.4h5.4M559.2 1109.8V1114.2M556.5 1109.8h5.4M556.5 1114.2h5.4M568.6 1111.2V1115.0M565.9 1111.2h5.4M565.9 1115.0h5.4M577.0 1111.2V1115.0M574.3 1111.2h5.4M574.3 1115.0h5.4M584.9 1113.5V1117.0M582.2 1113.5h5.4M582.2 1117.0h5.4M592.2 1113.1V1117.8M589.5 1113.1h5.4M589.5 1117.8h5.4M599.2 1111.6V1116.6M596.5 1111.6h5.4M596.5 1116.6h5.4M605.7 1110.7V1115.3M603.0 1110.7h5.4M603.0 1115.3h5.4M612.0 1111.3V1114.9M609.3 1111.3h5.4M609.3 1114.9h5.4M617.9 1110.2V1115.3M615.2 1110.2h5.4M615.2 1115.3h5.4M623.7 1110.8V1115.7M621.0 1110.8h5.4M621.0 1115.7h5.4M629.2 1112.3V1116.6M626.5 1112.3h5.4M626.5 1116.6h5.4M634.6 1111.1V1114.5M631.9 1111.1h5.4M631.9 1114.5h5.4M639.7 1111.4V1116.2M637.0 1111.4h5.4M637.0 1116.2h5.4M644.8 1109.4V1113.9M642.1 1109.4h5.4M642.1 1113.9h5.4M649.6 1110.3V1114.8M646.9 1110.3h5.4M646.9 1114.8h5.4M654.4 1110.4V1113.8M651.7 1110.4h5.4M651.7 1113.8h5.4M659.0 1108.0V1112.6M656.3 1108.0h5.4M656.3 1112.6h5.4M663.5 1107.9V1111.4M660.8 1107.9h5.4M660.8 1111.4h5.4M667.9 1107.8V1112.1M665.2 1107.8h5.4M665.2 1112.1h5.4M672.3 1106.9V1110.6M669.6 1106.9h5.4M669.6 1110.6h5.4M676.5 1106.2V1110.2M673.8 1106.2h5.4M673.8 1110.2h5.4M680.6 1104.5V1109.4M677.9 1104.5h5.4M677.9 1109.4h5.4M684.7 1104.7V1109.4M682.0 1104.7h5.4M682.0 1109.4h5.4M688.6 1102.7V1107.5M685.9 1102.7h5.4M685.9 1107.5h5.4M692.6 1102.0V1106.0M689.9 1102.0h5.4M689.9 1106.0h5.4M696.4 1101.7V1105.7M693.7 1101.7h5.4M693.7 1105.7h5.4M700.2 1100.3V1104.8M697.5 1100.3h5.4M697.5 1104.8h5.4M703.9 1100.0V1103.5M701.2 1100.0h5.4M701.2 1103.5h5.4M707.5 1099.9V1104.0M704.8 1099.9h5.4M704.8 1104.0h5.4M711.1 1098.8V1103.9M708.4 1098.8h5.4M708.4 1103.9h5.4M714.7 1099.3V1104.0M712.0 1099.3h5.4M712.0 1104.0h5.4M718.2 1099.8V1104.7M715.5 1099.8h5.4M715.5 1104.7h5.4M721.6 1101.4V1105.3M718.9 1101.4h5.4M718.9 1105.3h5.4M725.0 1099.8V1104.4M722.3 1099.8h5.4M722.3 1104.4h5.4M728.4 1098.5V1103.2M725.7 1098.5h5.4M725.7 1103.2h5.4M731.7 1098.8V1103.4M729.0 1098.8h5.4M729.0 1103.4h5.4M734.9 1097.7V1101.8M732.2 1097.7h5.4M732.2 1101.8h5.4M738.2 1096.8V1100.5M735.5 1096.8h5.4M735.5 1100.5h5.4M741.4 1096.7V1100.1M738.7 1096.7h5.4M738.7 1100.1h5.4M744.5 1096.8V1101.7M741.8 1096.8h5.4M741.8 1101.7h5.4M747.6 1096.9V1101.9M744.9 1096.9h5.4M744.9 1101.9h5.4M750.7 1099.3V1103.1M748.0 1099.3h5.4M748.0 1103.1h5.4M753.7 1099.0V1103.7M751.0 1099.0h5.4M751.0 1103.7h5.4M756.8 1100.7V1104.8M754.1 1100.7h5.4M754.1 1104.8h5.4M759.7 1102.2V1106.6M757.0 1102.2h5.4M757.0 1106.6h5.4M762.7 1101.8V1106.6M760.0 1101.8h5.4M760.0 1106.6h5.4M765.6 1103.5V1107.5M762.9 1103.5h5.4M762.9 1107.5h5.4M768.5 1104.6V1109.0M765.8 1104.6h5.4M765.8 1109.0h5.4M771.4 1104.8V1108.7M768.7 1104.8h5.4M768.7 1108.7h5.4M774.2 1105.3V1109.6M771.5 1105.3h5.4M771.5 1109.6h5.4M777.0 1106.7V1110.2M774.3 1106.7h5.4M774.3 1110.2h5.4M779.8 1107.6V1111.4M777.1 1107.6h5.4M777.1 1111.4h5.4M782.6 1108.9V1112.8M779.9 1108.9h5.4M779.9 1112.8h5.4M785.3 1109.3V1114.3M782.6 1109.3h5.4M782.6 1114.3h5.4M788.0 1111.1V1114.8M785.3 1111.1h5.4M785.3 1114.8h5.4M790.7 1111.7V1116.4M788.0 1111.7h5.4M788.0 1116.4h5.4M793.4 1112.5V1116.0M790.7 1112.5h5.4M790.7 1116.0h5.4M794.9 1113.2V1118.3M792.2 1113.2h5.4M792.2 1118.3h5.4" stroke-width="1.7"/></g>
<g clip-path="url(#cpd1)" fill="none" stroke="#00ffff"><polyline points="472.5,1088.4 521.6,1087.5 536.6,1086.7 548.8,1085.0 559.2,1085.0 568.6,1084.2 577.0,1084.6 584.9,1084.9 592.2,1084.2 599.2,1083.7 605.7,1082.5 612.0,1083.7 617.9,1083.3 623.7,1082.0 629.2,1082.8 634.6,1080.6 639.7,1081.1 644.8,1080.0 649.6,1079.3 654.4,1077.5 659.0,1077.2 663.5,1074.2 667.9,1073.7 672.3,1071.1 676.5,1070.7 680.6,1067.5 684.7,1066.6 688.6,1064.6 692.6,1063.0 696.4,1060.6 700.2,1058.8 703.9,1055.9 707.5,1054.7 711.1,1053.9 714.7,1051.7 718.2,1052.0 721.6,1050.8 725.0,1048.4 728.4,1047.3 731.7,1046.7 734.9,1045.1 738.2,1045.6 741.4,1043.1 744.5,1043.0 747.6,1043.7 750.7,1044.0 753.7,1045.9 756.8,1046.4 759.7,1047.1 762.7,1047.2 765.6,1047.6 768.5,1048.3 771.4,1050.0 774.2,1051.0 777.0,1052.5 779.8,1054.3 782.6,1057.1 785.3,1058.5 788.0,1060.0 790.7,1061.5 793.4,1062.5 794.9,1063.9" stroke-width="1.9" stroke-linejoin="round"/><path d="M472.5 1086.8V1090.0M469.8 1086.8h5.4M469.8 1090.0h5.4M521.6 1086.1V1088.9M518.9 1086.1h5.4M518.9 1088.9h5.4M536.6 1085.3V1088.1M533.9 1085.3h5.4M533.9 1088.1h5.4M548.8 1083.3V1086.6M546.1 1083.3h5.4M546.1 1086.6h5.4M559.2 1083.2V1086.7M556.5 1083.2h5.4M556.5 1086.7h5.4M568.6 1082.9V1085.5M565.9 1082.9h5.4M565.9 1085.5h5.4M577.0 1083.2V1086.0M574.3 1083.2h5.4M574.3 1086.0h5.4M584.9 1083.1V1086.7M582.2 1083.1h5.4M582.2 1086.7h5.4M592.2 1082.9V1085.5M589.5 1082.9h5.4M589.5 1085.5h5.4M599.2 1082.5V1084.9M596.5 1082.5h5.4M596.5 1084.9h5.4M605.7 1081.2V1083.8M603.0 1081.2h5.4M603.0 1083.8h5.4M612.0 1082.0V1085.4M609.3 1082.0h5.4M609.3 1085.4h5.4M617.9 1081.7V1084.9M615.2 1081.7h5.4M615.2 1084.9h5.4M623.7 1080.3V1083.8M621.0 1080.3h5.4M621.0 1083.8h5.4M629.2 1081.3V1084.2M626.5 1081.3h5.4M626.5 1084.2h5.4M634.6 1079.4V1081.8M631.9 1079.4h5.4M631.9 1081.8h5.4M639.7 1079.8V1082.5M637.0 1079.8h5.4M637.0 1082.5h5.4M644.8 1078.4V1081.7M642.1 1078.4h5.4M642.1 1081.7h5.4M649.6 1077.8V1080.7M646.9 1077.8h5.4M646.9 1080.7h5.4M654.4 1076.2V1078.8M651.7 1076.2h5.4M651.7 1078.8h5.4M659.0 1075.8V1078.6M656.3 1075.8h5.4M656.3 1078.6h5.4M663.5 1072.7V1075.7M660.8 1072.7h5.4M660.8 1075.7h5.4M667.9 1072.3V1075.1M665.2 1072.3h5.4M665.2 1075.1h5.4M672.3 1069.7V1072.6M669.6 1069.7h5.4M669.6 1072.6h5.4M676.5 1069.5V1072.0M673.8 1069.5h5.4M673.8 1072.0h5.4M680.6 1066.3V1068.7M677.9 1066.3h5.4M677.9 1068.7h5.4M684.7 1064.9V1068.2M682.0 1064.9h5.4M682.0 1068.2h5.4M688.6 1063.0V1066.2M685.9 1063.0h5.4M685.9 1066.2h5.4M692.6 1061.5V1064.4M689.9 1061.5h5.4M689.9 1064.4h5.4M696.4 1059.4V1061.9M693.7 1059.4h5.4M693.7 1061.9h5.4M700.2 1057.4V1060.1M697.5 1057.4h5.4M697.5 1060.1h5.4M703.9 1054.3V1057.4M701.2 1054.3h5.4M701.2 1057.4h5.4M707.5 1053.0V1056.4M704.8 1053.0h5.4M704.8 1056.4h5.4M711.1 1052.5V1055.4M708.4 1052.5h5.4M708.4 1055.4h5.4M714.7 1049.9V1053.5M712.0 1049.9h5.4M712.0 1053.5h5.4M718.2 1050.4V1053.5M715.5 1050.4h5.4M715.5 1053.5h5.4M721.6 1049.5V1052.1M718.9 1049.5h5.4M718.9 1052.1h5.4M725.0 1046.8V1049.9M722.3 1046.8h5.4M722.3 1049.9h5.4M728.4 1045.7V1048.8M725.7 1045.7h5.4M725.7 1048.8h5.4M731.7 1045.1V1048.2M729.0 1045.1h5.4M729.0 1048.2h5.4M734.9 1043.5V1046.7M732.2 1043.5h5.4M732.2 1046.7h5.4M738.2 1044.4V1046.8M735.5 1044.4h5.4M735.5 1046.8h5.4M741.4 1041.7V1044.6M738.7 1041.7h5.4M738.7 1044.6h5.4M744.5 1041.3V1044.7M741.8 1041.3h5.4M741.8 1044.7h5.4M747.6 1042.4V1045.0M744.9 1042.4h5.4M744.9 1045.0h5.4M750.7 1042.8V1045.3M748.0 1042.8h5.4M748.0 1045.3h5.4M753.7 1044.6V1047.2M751.0 1044.6h5.4M751.0 1047.2h5.4M756.8 1045.0V1047.8M754.1 1045.0h5.4M754.1 1047.8h5.4M759.7 1045.7V1048.6M757.0 1045.7h5.4M757.0 1048.6h5.4M762.7 1045.8V1048.5M760.0 1045.8h5.4M760.0 1048.5h5.4M765.6 1046.1V1049.2M762.9 1046.1h5.4M762.9 1049.2h5.4M768.5 1047.0V1049.6M765.8 1047.0h5.4M765.8 1049.6h5.4M771.4 1048.6V1051.4M768.7 1048.6h5.4M768.7 1051.4h5.4M774.2 1049.5V1052.6M771.5 1049.5h5.4M771.5 1052.6h5.4M777.0 1051.0V1054.0M774.3 1051.0h5.4M774.3 1054.0h5.4M779.8 1052.5V1056.0M777.1 1052.5h5.4M777.1 1056.0h5.4M782.6 1055.4V1058.9M779.9 1055.4h5.4M779.9 1058.9h5.4M785.3 1057.2V1059.9M782.6 1057.2h5.4M782.6 1059.9h5.4M788.0 1058.6V1061.4M785.3 1058.6h5.4M785.3 1061.4h5.4M790.7 1060.0V1063.0M788.0 1060.0h5.4M788.0 1063.0h5.4M793.4 1061.0V1064.0M790.7 1061.0h5.4M790.7 1064.0h5.4M794.9 1062.5V1065.3M792.2 1062.5h5.4M792.2 1065.3h5.4" stroke-width="1.7"/></g>
<g clip-path="url(#cpd1)" fill="none" stroke="#000000"><polyline points="472.5,1094.7 521.6,1095.8 536.6,1095.9 548.8,1097.0 559.2,1092.6 568.6,1093.0 577.0,1092.3 584.9,1093.8 592.2,1092.5 599.2,1091.9 605.7,1092.0 612.0,1089.9 617.9,1089.2 623.7,1090.4 629.2,1088.7 634.6,1088.7 639.7,1088.8 644.8,1087.4 649.6,1085.8 654.4,1084.2 659.0,1081.0 663.5,1077.5 667.9,1075.9 672.3,1072.8 676.5,1070.4 680.6,1066.4 684.7,1062.6 688.6,1059.4 692.6,1057.1 696.4,1053.7 700.2,1051.3 703.9,1047.5 707.5,1044.5 711.1,1042.1 714.7,1041.1 718.2,1038.2 721.6,1036.5 725.0,1033.6 728.4,1030.6 731.7,1030.3 734.9,1028.0 738.2,1026.4 741.4,1025.3 744.5,1026.0 747.6,1026.0 750.7,1027.3 753.7,1028.4 756.8,1031.4 759.7,1032.6 762.7,1033.4 765.6,1035.6 768.5,1039.4 771.4,1043.5 774.2,1046.2 777.0,1049.6 779.8,1053.3 782.6,1057.7 785.3,1061.9 788.0,1065.8 790.7,1070.9 793.4,1074.4 794.9,1076.8" stroke-width="1.9" stroke-linejoin="round"/><path d="M472.5 1087.5V1101.9M469.8 1087.5h5.4M469.8 1101.9h5.4M521.6 1089.9V1101.7M518.9 1089.9h5.4M518.9 1101.7h5.4M536.6 1091.0V1100.9M533.9 1091.0h5.4M533.9 1100.9h5.4M548.8 1092.0V1102.0M546.1 1092.0h5.4M546.1 1102.0h5.4M559.2 1087.7V1097.4M556.5 1087.7h5.4M556.5 1097.4h5.4M568.6 1087.5V1098.5M565.9 1087.5h5.4M565.9 1098.5h5.4M577.0 1087.9V1096.8M574.3 1087.9h5.4M574.3 1096.8h5.4M584.9 1088.6V1099.0M582.2 1088.6h5.4M582.2 1099.0h5.4M592.2 1088.7V1096.3M589.5 1088.7h5.4M589.5 1096.3h5.4M599.2 1086.8V1097.0M596.5 1086.8h5.4M596.5 1097.0h5.4M605.7 1088.5V1095.5M603.0 1088.5h5.4M603.0 1095.5h5.4M612.0 1085.7V1094.1M609.3 1085.7h5.4M609.3 1094.1h5.4M617.9 1085.7V1092.8M615.2 1085.7h5.4M615.2 1092.8h5.4M623.7 1087.2V1093.5M621.0 1087.2h5.4M621.0 1093.5h5.4M629.2 1085.8V1091.6M626.5 1085.8h5.4M626.5 1091.6h5.4M634.6 1085.8V1091.6M631.9 1085.8h5.4M631.9 1091.6h5.4M639.7 1085.5V1092.1M637.0 1085.5h5.4M637.0 1092.1h5.4M644.8 1084.4V1090.3M642.1 1084.4h5.4M642.1 1090.3h5.4M649.6 1082.9V1088.7M646.9 1082.9h5.4M646.9 1088.7h5.4M654.4 1081.6V1086.7M651.7 1081.6h5.4M651.7 1086.7h5.4M659.0 1078.1V1083.9M656.3 1078.1h5.4M656.3 1083.9h5.4M663.5 1075.2V1079.9M660.8 1075.2h5.4M660.8 1079.9h5.4M667.9 1073.2V1078.5M665.2 1073.2h5.4M665.2 1078.5h5.4M672.3 1070.0V1075.5M669.6 1070.0h5.4M669.6 1075.5h5.4M676.5 1067.8V1073.0M673.8 1067.8h5.4M673.8 1073.0h5.4M680.6 1063.7V1069.1M677.9 1063.7h5.4M677.9 1069.1h5.4M684.7 1059.9V1065.3M682.0 1059.9h5.4M682.0 1065.3h5.4M688.6 1057.1V1061.7M685.9 1057.1h5.4M685.9 1061.7h5.4M692.6 1054.0V1060.3M689.9 1054.0h5.4M689.9 1060.3h5.4M696.4 1050.8V1056.6M693.7 1050.8h5.4M693.7 1056.6h5.4M700.2 1048.3V1054.3M697.5 1048.3h5.4M697.5 1054.3h5.4M703.9 1044.3V1050.8M701.2 1044.3h5.4M701.2 1050.8h5.4M707.5 1041.8V1047.3M704.8 1041.8h5.4M704.8 1047.3h5.4M711.1 1039.5V1044.8M708.4 1039.5h5.4M708.4 1044.8h5.4M714.7 1038.5V1043.7M712.0 1038.5h5.4M712.0 1043.7h5.4M718.2 1035.5V1040.8M715.5 1035.5h5.4M715.5 1040.8h5.4M721.6 1033.8V1039.1M718.9 1033.8h5.4M718.9 1039.1h5.4M725.0 1030.9V1036.3M722.3 1030.9h5.4M722.3 1036.3h5.4M728.4 1028.0V1033.2M725.7 1028.0h5.4M725.7 1033.2h5.4M731.7 1027.4V1033.2M729.0 1027.4h5.4M729.0 1033.2h5.4M734.9 1025.2V1030.7M732.2 1025.2h5.4M732.2 1030.7h5.4M738.2 1023.6V1029.3M735.5 1023.6h5.4M735.5 1029.3h5.4M741.4 1022.1V1028.6M738.7 1022.1h5.4M738.7 1028.6h5.4M744.5 1023.1V1028.8M741.8 1023.1h5.4M741.8 1028.8h5.4M747.6 1022.5V1029.5M744.9 1022.5h5.4M744.9 1029.5h5.4M750.7 1023.8V1030.8M748.0 1023.8h5.4M748.0 1030.8h5.4M753.7 1025.5V1031.3M751.0 1025.5h5.4M751.0 1031.3h5.4M756.8 1027.8V1034.9M754.1 1027.8h5.4M754.1 1034.9h5.4M759.7 1029.9V1035.4M757.0 1029.9h5.4M757.0 1035.4h5.4M762.7 1030.7V1036.0M760.0 1030.7h5.4M760.0 1036.0h5.4M765.6 1031.8V1039.5M762.9 1031.8h5.4M762.9 1039.5h5.4M768.5 1036.8V1042.0M765.8 1036.8h5.4M765.8 1042.0h5.4M771.4 1040.9V1046.1M768.7 1040.9h5.4M768.7 1046.1h5.4M774.2 1042.4V1049.9M771.5 1042.4h5.4M771.5 1049.9h5.4M777.0 1047.0V1052.3M774.3 1047.0h5.4M774.3 1052.3h5.4M779.8 1049.8V1056.8M777.1 1049.8h5.4M777.1 1056.8h5.4M782.6 1054.3V1061.1M779.9 1054.3h5.4M779.9 1061.1h5.4M785.3 1058.9V1064.8M782.6 1058.9h5.4M782.6 1064.8h5.4M788.0 1062.7V1068.8M785.3 1062.7h5.4M785.3 1068.8h5.4M790.7 1066.9V1074.9M788.0 1066.9h5.4M788.0 1074.9h5.4M793.4 1071.1V1077.6M790.7 1071.1h5.4M790.7 1077.6h5.4M794.9 1073.7V1079.8M792.2 1073.7h5.4M792.2 1079.8h5.4" stroke-width="1.7"/></g>
<rect x="472.50" y="903.60" width="322.40" height="255.60" fill="none" stroke="#262626" stroke-width="2.0"/>
<path d="M574.75 1159.20v-4M574.75 903.60v4M677.00 1159.20v-4M677.00 903.60v4M779.26 1159.20v-4M779.26 903.60v4M472.50 1116.60h4M794.90 1116.60h-4M472.50 1074.00h4M794.90 1074.00h-4M472.50 1031.40h4M794.90 1031.40h-4M472.50 988.80h4M794.90 988.80h-4M472.50 946.20h4M794.90 946.20h-4" stroke="#262626" stroke-width="1.50" fill="none"/>
<text x="472.5" y="1186.3" font-size="22.2" fill="#222" text-anchor="middle" >0</text>
<text x="574.8" y="1186.3" font-size="22.2" fill="#222" text-anchor="middle" >100</text>
<text x="677.0" y="1186.3" font-size="22.2" fill="#222" text-anchor="middle" >200</text>
<text x="779.3" y="1186.3" font-size="22.2" fill="#222" text-anchor="middle" >300</text>
<text x="463.9" y="1166.8" font-size="22.2" fill="#222" text-anchor="end" >0</text>
<text x="463.9" y="1124.2" font-size="22.2" fill="#222" text-anchor="end" >0.2</text>
<text x="463.9" y="1081.6" font-size="22.2" fill="#222" text-anchor="end" >0.4</text>
<text x="463.9" y="1039.0" font-size="22.2" fill="#222" text-anchor="end" >0.6</text>
<text x="463.9" y="996.4" font-size="22.2" fill="#222" text-anchor="end" >0.8</text>
<text x="463.9" y="953.8" font-size="22.2" fill="#222" text-anchor="end" >1</text>
<text x="678.5" y="935.5" font-size="23" fill="#111" textLength="96.5" lengthAdjust="spacingAndGlyphs" >BMP-24h</text>
<text x="499.9" y="1224.8" font-size="23.3" fill="#111" textLength="270" lengthAdjust="spacingAndGlyphs">Distance from center (<tspan font-style="italic">µ</tspan>m)</text>
<clipPath id="cpd2"><rect x="866.7" y="903.6" width="324.70000000000005" height="255.60000000000002"/></clipPath>
<g clip-path="url(#cpd2)" fill="none" stroke="#ff00ff"><polyline points="867.7,1095.4 916.8,1101.3 931.9,1103.1 944.0,1097.3 954.5,1098.0 963.8,1092.5 972.3,1088.6 980.2,1089.7 987.6,1085.5 994.5,1083.2 1001.0,1077.5 1007.3,1073.5 1013.3,1071.1 1019.0,1070.6 1024.6,1068.6 1029.9,1065.8 1035.1,1064.8 1040.1,1061.1 1045.0,1057.1 1049.8,1054.1 1054.4,1051.0 1058.9,1047.1 1063.3,1044.9 1067.6,1041.3 1071.9,1037.8 1076.0,1034.3 1080.1,1029.8 1084.0,1026.5 1088.0,1023.5 1091.8,1019.9 1095.6,1017.0 1099.3,1012.6 1103.0,1007.1 1106.6,1002.0 1110.1,996.9 1113.6,993.2 1117.0,990.2 1120.4,987.5 1123.8,986.0 1127.1,982.8 1130.4,982.7 1133.6,980.7 1136.8,980.1 1140.0,980.8 1143.1,984.9 1146.2,989.0 1149.2,993.3 1152.2,999.1 1155.2,1005.0 1158.2,1011.7 1161.1,1017.7 1164.0,1023.2 1166.9,1030.3 1169.7,1036.1 1172.5,1041.5 1175.3,1045.0 1178.1,1050.3 1180.8,1055.0 1183.5,1059.9 1186.2,1061.6 1188.9,1062.7 1190.4,1062.7" stroke-width="1.9" stroke-linejoin="round"/><path d="M867.7 1091.0V1099.8M865.0 1091.0h5.4M865.0 1099.8h5.4M916.8 1096.8V1105.8M914.1 1096.8h5.4M914.1 1105.8h5.4M931.9 1098.6V1107.6M929.2 1098.6h5.4M929.2 1107.6h5.4M944.0 1092.0V1102.6M941.3 1092.0h5.4M941.3 1102.6h5.4M954.5 1094.0V1101.9M951.8 1094.0h5.4M951.8 1101.9h5.4M963.8 1087.2V1097.9M961.1 1087.2h5.4M961.1 1097.9h5.4M972.3 1084.9V1092.4M969.6 1084.9h5.4M969.6 1092.4h5.4M980.2 1084.7V1094.8M977.5 1084.7h5.4M977.5 1094.8h5.4M987.6 1080.4V1090.7M984.9 1080.4h5.4M984.9 1090.7h5.4M994.5 1078.6V1087.9M991.8 1078.6h5.4M991.8 1087.9h5.4M1001.0 1072.3V1082.6M998.3 1072.3h5.4M998.3 1082.6h5.4M1007.3 1069.2V1077.8M1004.6 1069.2h5.4M1004.6 1077.8h5.4M1013.3 1067.1V1075.1M1010.6 1067.1h5.4M1010.6 1075.1h5.4M1019.0 1066.2V1075.0M1016.3 1066.2h5.4M1016.3 1075.0h5.4M1024.6 1064.4V1072.8M1021.9 1064.4h5.4M1021.9 1072.8h5.4M1029.9 1060.7V1070.9M1027.2 1060.7h5.4M1027.2 1070.9h5.4M1035.1 1060.0V1069.6M1032.4 1060.0h5.4M1032.4 1069.6h5.4M1040.1 1056.1V1066.1M1037.4 1056.1h5.4M1037.4 1066.1h5.4M1045.0 1051.5V1062.6M1042.3 1051.5h5.4M1042.3 1062.6h5.4M1049.8 1048.9V1059.3M1047.1 1048.9h5.4M1047.1 1059.3h5.4M1054.4 1045.8V1056.2M1051.7 1045.8h5.4M1051.7 1056.2h5.4M1058.9 1041.5V1052.7M1056.2 1041.5h5.4M1056.2 1052.7h5.4M1063.3 1039.4V1050.4M1060.6 1039.4h5.4M1060.6 1050.4h5.4M1067.6 1036.2V1046.4M1064.9 1036.2h5.4M1064.9 1046.4h5.4M1071.9 1033.4V1042.2M1069.2 1033.4h5.4M1069.2 1042.2h5.4M1076.0 1029.6V1039.0M1073.3 1029.6h5.4M1073.3 1039.0h5.4M1080.1 1024.7V1035.0M1077.4 1024.7h5.4M1077.4 1035.0h5.4M1084.0 1021.2V1031.7M1081.3 1021.2h5.4M1081.3 1031.7h5.4M1088.0 1018.1V1028.9M1085.3 1018.1h5.4M1085.3 1028.9h5.4M1091.8 1014.7V1025.0M1089.1 1014.7h5.4M1089.1 1025.0h5.4M1095.6 1012.0V1022.0M1092.9 1012.0h5.4M1092.9 1022.0h5.4M1099.3 1008.4V1016.8M1096.6 1008.4h5.4M1096.6 1016.8h5.4M1103.0 1002.1V1012.0M1100.3 1002.1h5.4M1100.3 1012.0h5.4M1106.6 997.9V1006.1M1103.9 997.9h5.4M1103.9 1006.1h5.4M1110.1 991.9V1001.9M1107.4 991.9h5.4M1107.4 1001.9h5.4M1113.6 989.1V997.3M1110.9 989.1h5.4M1110.9 997.3h5.4M1117.0 986.4V994.0M1114.3 986.4h5.4M1114.3 994.0h5.4M1120.4 981.9V993.0M1117.7 981.9h5.4M1117.7 993.0h5.4M1123.8 980.6V991.4M1121.1 980.6h5.4M1121.1 991.4h5.4M1127.1 978.5V987.1M1124.4 978.5h5.4M1124.4 987.1h5.4M1130.4 978.9V986.6M1127.7 978.9h5.4M1127.7 986.6h5.4M1133.6 975.4V986.0M1130.9 975.4h5.4M1130.9 986.0h5.4M1136.8 974.9V985.3M1134.1 974.9h5.4M1134.1 985.3h5.4M1140.0 976.7V984.8M1137.3 976.7h5.4M1137.3 984.8h5.4M1143.1 979.6V990.2M1140.4 979.6h5.4M1140.4 990.2h5.4M1146.2 983.6V994.3M1143.5 983.6h5.4M1143.5 994.3h5.4M1149.2 988.5V998.1M1146.5 988.5h5.4M1146.5 998.1h5.4M1152.2 994.8V1003.3M1149.5 994.8h5.4M1149.5 1003.3h5.4M1155.2 1001.2V1008.9M1152.5 1001.2h5.4M1152.5 1008.9h5.4M1158.2 1007.8V1015.5M1155.5 1007.8h5.4M1155.5 1015.5h5.4M1161.1 1013.1V1022.3M1158.4 1013.1h5.4M1158.4 1022.3h5.4M1164.0 1018.1V1028.3M1161.3 1018.1h5.4M1161.3 1028.3h5.4M1166.9 1025.3V1035.2M1164.2 1025.3h5.4M1164.2 1035.2h5.4M1169.7 1031.9V1040.2M1167.0 1031.9h5.4M1167.0 1040.2h5.4M1172.5 1036.3V1046.8M1169.8 1036.3h5.4M1169.8 1046.8h5.4M1175.3 1041.1V1048.9M1172.6 1041.1h5.4M1172.6 1048.9h5.4M1178.1 1045.4V1055.2M1175.4 1045.4h5.4M1175.4 1055.2h5.4M1180.8 1051.0V1059.1M1178.1 1051.0h5.4M1178.1 1059.1h5.4M1183.5 1056.1V1063.6M1180.8 1056.1h5.4M1180.8 1063.6h5.4M1186.2 1057.5V1065.7M1183.5 1057.5h5.4M1183.5 1065.7h5.4M1188.9 1057.4V1067.9M1186.2 1057.4h5.4M1186.2 1067.9h5.4M1190.4 1058.5V1066.9M1187.7 1058.5h5.4M1187.7 1066.9h5.4" stroke-width="1.7"/></g>
<g clip-path="url(#cpd2)" fill="none" stroke="#00ffff"><polyline points="867.7,1059.9 916.8,1061.2 931.9,1061.5 944.0,1059.5 954.5,1057.7 963.8,1055.3 972.3,1052.1 980.2,1050.4 987.6,1047.7 994.5,1046.8 1001.0,1045.0 1007.3,1043.7 1013.3,1040.9 1019.0,1040.3 1024.6,1038.3 1029.9,1036.7 1035.1,1036.2 1040.1,1034.7 1045.0,1032.6 1049.8,1030.2 1054.4,1028.4 1058.9,1027.1 1063.3,1023.9 1067.6,1022.5 1071.9,1020.3 1076.0,1018.7 1080.1,1017.2 1084.0,1015.3 1088.0,1013.9 1091.8,1012.8 1095.6,1010.6 1099.3,1008.7 1103.0,1008.3 1106.6,1006.4 1110.1,1004.6 1113.6,1002.4 1117.0,1000.0 1120.4,998.8 1123.8,996.7 1127.1,998.0 1130.4,998.2 1133.6,999.1 1136.8,998.9 1140.0,1000.4 1143.1,1002.5 1146.2,1003.4 1149.2,1004.7 1152.2,1005.7 1155.2,1008.3 1158.2,1008.7 1161.1,1011.5 1164.0,1015.8 1166.9,1017.9 1169.7,1020.8 1172.5,1023.9 1175.3,1027.6 1178.1,1031.9 1180.8,1035.5 1183.5,1039.0 1186.2,1042.8 1188.9,1047.3 1190.4,1047.8" stroke-width="1.9" stroke-linejoin="round"/><path d="M867.7 1058.2V1061.6M865.0 1058.2h5.4M865.0 1061.6h5.4M916.8 1059.8V1062.7M914.1 1059.8h5.4M914.1 1062.7h5.4M931.9 1059.9V1063.0M929.2 1059.9h5.4M929.2 1063.0h5.4M944.0 1058.0V1060.9M941.3 1058.0h5.4M941.3 1060.9h5.4M954.5 1056.0V1059.4M951.8 1056.0h5.4M951.8 1059.4h5.4M963.8 1053.8V1056.7M961.1 1053.8h5.4M961.1 1056.7h5.4M972.3 1050.4V1053.8M969.6 1050.4h5.4M969.6 1053.8h5.4M980.2 1048.9V1052.0M977.5 1048.9h5.4M977.5 1052.0h5.4M987.6 1045.7V1049.6M984.9 1045.7h5.4M984.9 1049.6h5.4M994.5 1044.9V1048.7M991.8 1044.9h5.4M991.8 1048.7h5.4M1001.0 1043.5V1046.4M998.3 1043.5h5.4M998.3 1046.4h5.4M1007.3 1041.7V1045.6M1004.6 1041.7h5.4M1004.6 1045.6h5.4M1013.3 1039.1V1042.6M1010.6 1039.1h5.4M1010.6 1042.6h5.4M1019.0 1038.8V1041.9M1016.3 1038.8h5.4M1016.3 1041.9h5.4M1024.6 1036.3V1040.3M1021.9 1036.3h5.4M1021.9 1040.3h5.4M1029.9 1035.3V1038.0M1027.2 1035.3h5.4M1027.2 1038.0h5.4M1035.1 1034.6V1037.9M1032.4 1034.6h5.4M1032.4 1037.9h5.4M1040.1 1032.9V1036.5M1037.4 1032.9h5.4M1037.4 1036.5h5.4M1045.0 1031.1V1034.1M1042.3 1031.1h5.4M1042.3 1034.1h5.4M1049.8 1028.5V1031.9M1047.1 1028.5h5.4M1047.1 1031.9h5.4M1054.4 1026.5V1030.4M1051.7 1026.5h5.4M1051.7 1030.4h5.4M1058.9 1025.5V1028.7M1056.2 1025.5h5.4M1056.2 1028.7h5.4M1063.3 1022.1V1025.8M1060.6 1022.1h5.4M1060.6 1025.8h5.4M1067.6 1021.0V1024.0M1064.9 1021.0h5.4M1064.9 1024.0h5.4M1071.9 1018.3V1022.4M1069.2 1018.3h5.4M1069.2 1022.4h5.4M1076.0 1016.6V1020.7M1073.3 1016.6h5.4M1073.3 1020.7h5.4M1080.1 1015.7V1018.6M1077.4 1015.7h5.4M1077.4 1018.6h5.4M1084.0 1013.5V1017.2M1081.3 1013.5h5.4M1081.3 1017.2h5.4M1088.0 1012.3V1015.5M1085.3 1012.3h5.4M1085.3 1015.5h5.4M1091.8 1011.4V1014.2M1089.1 1011.4h5.4M1089.1 1014.2h5.4M1095.6 1009.1V1012.1M1092.9 1009.1h5.4M1092.9 1012.1h5.4M1099.3 1006.9V1010.6M1096.6 1006.9h5.4M1096.6 1010.6h5.4M1103.0 1006.6V1010.0M1100.3 1006.6h5.4M1100.3 1010.0h5.4M1106.6 1004.7V1008.1M1103.9 1004.7h5.4M1103.9 1008.1h5.4M1110.1 1003.2V1006.1M1107.4 1003.2h5.4M1107.4 1006.1h5.4M1113.6 1000.9V1003.9M1110.9 1000.9h5.4M1110.9 1003.9h5.4M1117.0 998.3V1001.6M1114.3 998.3h5.4M1114.3 1001.6h5.4M1120.4 997.1V1000.5M1117.7 997.1h5.4M1117.7 1000.5h5.4M1123.8 994.8V998.7M1121.1 994.8h5.4M1121.1 998.7h5.4M1127.1 996.4V999.7M1124.4 996.4h5.4M1124.4 999.7h5.4M1130.4 996.6V999.7M1127.7 996.6h5.4M1127.7 999.7h5.4M1133.6 997.2V1001.1M1130.9 997.2h5.4M1130.9 1001.1h5.4M1136.8 997.1V1000.8M1134.1 997.1h5.4M1134.1 1000.8h5.4M1140.0 998.5V1002.3M1137.3 998.5h5.4M1137.3 1002.3h5.4M1143.1 1000.5V1004.4M1140.4 1000.5h5.4M1140.4 1004.4h5.4M1146.2 1001.7V1005.1M1143.5 1001.7h5.4M1143.5 1005.1h5.4M1149.2 1003.2V1006.2M1146.5 1003.2h5.4M1146.5 1006.2h5.4M1152.2 1004.3V1007.2M1149.5 1004.3h5.4M1149.5 1007.2h5.4M1155.2 1006.5V1010.1M1152.5 1006.5h5.4M1152.5 1010.1h5.4M1158.2 1006.9V1010.6M1155.5 1006.9h5.4M1155.5 1010.6h5.4M1161.1 1009.5V1013.4M1158.4 1009.5h5.4M1158.4 1013.4h5.4M1164.0 1013.8V1017.8M1161.3 1013.8h5.4M1161.3 1017.8h5.4M1166.9 1016.2V1019.6M1164.2 1016.2h5.4M1164.2 1019.6h5.4M1169.7 1019.1V1022.5M1167.0 1019.1h5.4M1167.0 1022.5h5.4M1172.5 1021.9V1025.9M1169.8 1021.9h5.4M1169.8 1025.9h5.4M1175.3 1026.2V1029.0M1172.6 1026.2h5.4M1172.6 1029.0h5.4M1178.1 1030.3V1033.5M1175.4 1030.3h5.4M1175.4 1033.5h5.4M1180.8 1033.7V1037.2M1178.1 1033.7h5.4M1178.1 1037.2h5.4M1183.5 1037.3V1040.8M1180.8 1037.3h5.4M1180.8 1040.8h5.4M1186.2 1041.1V1044.6M1183.5 1041.1h5.4M1183.5 1044.6h5.4M1188.9 1045.8V1048.7M1186.2 1045.8h5.4M1186.2 1048.7h5.4M1190.4 1046.1V1049.5M1187.7 1046.1h5.4M1187.7 1049.5h5.4" stroke-width="1.7"/></g>
<g clip-path="url(#cpd2)" fill="none" stroke="#000000"><polyline points="867.7,1086.3 916.8,1079.5 931.9,1079.0 944.0,1078.1 954.5,1077.0 963.8,1077.0 972.3,1077.0 980.2,1076.2 987.6,1068.3 994.5,1067.9 1001.0,1066.9 1007.3,1065.2 1013.3,1063.1 1019.0,1062.6 1024.6,1059.9 1029.9,1059.3 1035.1,1056.2 1040.1,1055.8 1045.0,1052.4 1049.8,1051.1 1054.4,1047.8 1058.9,1044.9 1063.3,1039.7 1067.6,1035.6 1071.9,1032.5 1076.0,1029.2 1080.1,1024.6 1084.0,1021.8 1088.0,1018.7 1091.8,1015.5 1095.6,1010.8 1099.3,1005.3 1103.0,1000.6 1106.6,996.0 1110.1,990.5 1113.6,984.8 1117.0,980.4 1120.4,975.7 1123.8,971.0 1127.1,971.9 1130.4,972.0 1133.6,971.3 1136.8,972.4 1140.0,972.6 1143.1,977.6 1146.2,980.6 1149.2,984.6 1152.2,986.6 1155.2,990.3 1158.2,991.7 1161.1,997.1 1164.0,1006.3 1166.9,1012.9 1169.7,1021.2 1172.5,1024.5 1175.3,1028.2 1178.1,1033.9 1180.8,1038.4 1183.5,1045.5 1186.2,1052.0 1188.9,1059.3 1190.4,1064.2" stroke-width="1.9" stroke-linejoin="round"/><path d="M867.7 1084.1V1088.5M865.0 1084.1h5.4M865.0 1088.5h5.4M916.8 1077.1V1082.0M914.1 1077.1h5.4M914.1 1082.0h5.4M931.9 1076.2V1081.9M929.2 1076.2h5.4M929.2 1081.9h5.4M944.0 1075.2V1081.0M941.3 1075.2h5.4M941.3 1081.0h5.4M954.5 1074.4V1079.6M951.8 1074.4h5.4M951.8 1079.6h5.4M963.8 1074.0V1080.0M961.1 1074.0h5.4M961.1 1080.0h5.4M972.3 1074.1V1079.9M969.6 1074.1h5.4M969.6 1079.9h5.4M980.2 1073.2V1079.1M977.5 1073.2h5.4M977.5 1079.1h5.4M987.6 1065.6V1071.0M984.9 1065.6h5.4M984.9 1071.0h5.4M994.5 1065.6V1070.3M991.8 1065.6h5.4M991.8 1070.3h5.4M1001.0 1064.1V1069.7M998.3 1064.1h5.4M998.3 1069.7h5.4M1007.3 1062.4V1068.0M1004.6 1062.4h5.4M1004.6 1068.0h5.4M1013.3 1060.1V1066.1M1010.6 1060.1h5.4M1010.6 1066.1h5.4M1019.0 1060.4V1064.8M1016.3 1060.4h5.4M1016.3 1064.8h5.4M1024.6 1057.8V1061.9M1021.9 1057.8h5.4M1021.9 1061.9h5.4M1029.9 1056.9V1061.7M1027.2 1056.9h5.4M1027.2 1061.7h5.4M1035.1 1053.9V1058.5M1032.4 1053.9h5.4M1032.4 1058.5h5.4M1040.1 1053.4V1058.3M1037.4 1053.4h5.4M1037.4 1058.3h5.4M1045.0 1050.3V1054.5M1042.3 1050.3h5.4M1042.3 1054.5h5.4M1049.8 1048.5V1053.8M1047.1 1048.5h5.4M1047.1 1053.8h5.4M1054.4 1045.3V1050.3M1051.7 1045.3h5.4M1051.7 1050.3h5.4M1058.9 1042.6V1047.2M1056.2 1042.6h5.4M1056.2 1047.2h5.4M1063.3 1037.6V1041.9M1060.6 1037.6h5.4M1060.6 1041.9h5.4M1067.6 1032.9V1038.2M1064.9 1032.9h5.4M1064.9 1038.2h5.4M1071.9 1030.4V1034.7M1069.2 1030.4h5.4M1069.2 1034.7h5.4M1076.0 1026.2V1032.1M1073.3 1026.2h5.4M1073.3 1032.1h5.4M1080.1 1022.3V1027.0M1077.4 1022.3h5.4M1077.4 1027.0h5.4M1084.0 1018.9V1024.8M1081.3 1018.9h5.4M1081.3 1024.8h5.4M1088.0 1016.5V1020.8M1085.3 1016.5h5.4M1085.3 1020.8h5.4M1091.8 1013.1V1017.9M1089.1 1013.1h5.4M1089.1 1017.9h5.4M1095.6 1008.0V1013.7M1092.9 1008.0h5.4M1092.9 1013.7h5.4M1099.3 1002.7V1007.9M1096.6 1002.7h5.4M1096.6 1007.9h5.4M1103.0 998.1V1003.1M1100.3 998.1h5.4M1100.3 1003.1h5.4M1106.6 993.1V998.9M1103.9 993.1h5.4M1103.9 998.9h5.4M1110.1 988.3V992.7M1107.4 988.3h5.4M1107.4 992.7h5.4M1113.6 981.8V987.7M1110.9 981.8h5.4M1110.9 987.7h5.4M1117.0 977.8V982.9M1114.3 977.8h5.4M1114.3 982.9h5.4M1120.4 973.4V978.1M1117.7 973.4h5.4M1117.7 978.1h5.4M1123.8 968.6V973.4M1121.1 968.6h5.4M1121.1 973.4h5.4M1127.1 969.5V974.2M1124.4 969.5h5.4M1124.4 974.2h5.4M1130.4 969.3V974.7M1127.7 969.3h5.4M1127.7 974.7h5.4M1133.6 968.8V973.8M1130.9 968.8h5.4M1130.9 973.8h5.4M1136.8 969.9V975.0M1134.1 969.9h5.4M1134.1 975.0h5.4M1140.0 969.9V975.3M1137.3 969.9h5.4M1137.3 975.3h5.4M1143.1 974.6V980.5M1140.4 974.6h5.4M1140.4 980.5h5.4M1146.2 977.8V983.3M1143.5 977.8h5.4M1143.5 983.3h5.4M1149.2 982.2V986.9M1146.5 982.2h5.4M1146.5 986.9h5.4M1152.2 983.9V989.4M1149.5 983.9h5.4M1149.5 989.4h5.4M1155.2 987.6V993.1M1152.5 987.6h5.4M1152.5 993.1h5.4M1158.2 988.8V994.7M1155.5 988.8h5.4M1155.5 994.7h5.4M1161.1 994.7V999.5M1158.4 994.7h5.4M1158.4 999.5h5.4M1164.0 1003.7V1008.9M1161.3 1003.7h5.4M1161.3 1008.9h5.4M1166.9 1010.1V1015.8M1164.2 1010.1h5.4M1164.2 1015.8h5.4M1169.7 1018.8V1023.6M1167.0 1018.8h5.4M1167.0 1023.6h5.4M1172.5 1022.2V1026.9M1169.8 1022.2h5.4M1169.8 1026.9h5.4M1175.3 1025.5V1030.9M1172.6 1025.5h5.4M1172.6 1030.9h5.4M1178.1 1031.5V1036.3M1175.4 1031.5h5.4M1175.4 1036.3h5.4M1180.8 1035.4V1041.3M1178.1 1035.4h5.4M1178.1 1041.3h5.4M1183.5 1043.1V1047.9M1180.8 1043.1h5.4M1180.8 1047.9h5.4M1186.2 1049.7V1054.3M1183.5 1049.7h5.4M1183.5 1054.3h5.4M1188.9 1056.7V1062.0M1186.2 1056.7h5.4M1186.2 1062.0h5.4M1190.4 1061.5V1066.8M1187.7 1061.5h5.4M1187.7 1066.8h5.4" stroke-width="1.7"/></g>
<rect x="867.70" y="903.60" width="322.70" height="255.60" fill="none" stroke="#262626" stroke-width="2.0"/>
<path d="M970.05 1159.20v-4M970.05 903.60v4M1072.39 1159.20v-4M1072.39 903.60v4M1174.74 1159.20v-4M1174.74 903.60v4M867.70 1116.60h4M1190.40 1116.60h-4M867.70 1074.00h4M1190.40 1074.00h-4M867.70 1031.40h4M1190.40 1031.40h-4M867.70 988.80h4M1190.40 988.80h-4M867.70 946.20h4M1190.40 946.20h-4" stroke="#262626" stroke-width="1.50" fill="none"/>
<text x="867.7" y="1186.3" font-size="22.2" fill="#222" text-anchor="middle" >0</text>
<text x="970.0" y="1186.3" font-size="22.2" fill="#222" text-anchor="middle" >100</text>
<text x="1072.4" y="1186.3" font-size="22.2" fill="#222" text-anchor="middle" >200</text>
<text x="1174.7" y="1186.3" font-size="22.2" fill="#222" text-anchor="middle" >300</text>
<text x="859.1" y="1166.8" font-size="22.2" fill="#222" text-anchor="end" >0</text>
<text x="859.1" y="1124.2" font-size="22.2" fill="#222" text-anchor="end" >0.2</text>
<text x="859.1" y="1081.6" font-size="22.2" fill="#222" text-anchor="end" >0.4</text>
<text x="859.1" y="1039.0" font-size="22.2" fill="#222" text-anchor="end" >0.6</text>
<text x="859.1" y="996.4" font-size="22.2" fill="#222" text-anchor="end" >0.8</text>
<text x="859.1" y="953.8" font-size="22.2" fill="#222" text-anchor="end" >1</text>
<text x="1078.5" y="935.5" font-size="23" fill="#111" textLength="96.5" lengthAdjust="spacingAndGlyphs" >BMP-30h</text>
<text x="898.3" y="1224.8" font-size="23.3" fill="#111" textLength="270" lengthAdjust="spacingAndGlyphs">Distance from center (<tspan font-style="italic">µ</tspan>m)</text>
<clipPath id="cpd3"><rect x="1262.9" y="903.6" width="325.29999999999995" height="255.60000000000002"/></clipPath>
<g clip-path="url(#cpd3)" fill="none" stroke="#ff00ff"><polyline points="1263.9,1116.8 1313.1,1116.9 1328.2,1117.8 1340.4,1119.8 1350.9,1117.4 1360.2,1115.8 1368.7,1113.8 1376.6,1112.5 1384.0,1110.2 1390.9,1108.7 1397.5,1107.6 1403.8,1107.1 1409.8,1106.3 1415.5,1105.1 1421.1,1103.3 1426.4,1104.9 1431.6,1105.5 1436.7,1103.0 1441.5,1101.1 1446.3,1099.6 1450.9,1098.3 1455.5,1098.5 1459.9,1097.1 1464.2,1095.4 1468.4,1092.6 1472.6,1092.4 1476.7,1089.6 1480.6,1087.5 1484.6,1085.8 1488.4,1083.4 1492.2,1080.5 1495.9,1077.4 1499.6,1074.0 1503.2,1071.0 1506.8,1068.0 1510.3,1064.7 1513.7,1061.1 1517.1,1058.0 1520.5,1055.6 1523.8,1051.8 1527.1,1049.4 1530.3,1045.9 1533.5,1048.2 1536.7,1048.8 1539.8,1050.5 1542.9,1051.2 1545.9,1052.2 1549.0,1053.7 1551.9,1055.1 1554.9,1055.7 1557.8,1059.2 1560.7,1060.9 1563.6,1064.8 1566.5,1069.2 1569.3,1075.3 1572.1,1080.7 1574.8,1085.6 1577.6,1088.7 1580.3,1093.0 1583.0,1095.8 1585.7,1100.6 1587.2,1101.4" stroke-width="1.9" stroke-linejoin="round"/><path d="M1263.9 1109.4V1124.2M1261.2 1109.4h5.4M1261.2 1124.2h5.4M1313.1 1111.9V1122.0M1310.4 1111.9h5.4M1310.4 1122.0h5.4M1328.2 1112.2V1123.4M1325.5 1112.2h5.4M1325.5 1123.4h5.4M1340.4 1114.3V1125.3M1337.7 1114.3h5.4M1337.7 1125.3h5.4M1350.9 1111.7V1123.1M1348.2 1111.7h5.4M1348.2 1123.1h5.4M1360.2 1111.6V1119.9M1357.5 1111.6h5.4M1357.5 1119.9h5.4M1368.7 1108.7V1119.0M1366.0 1108.7h5.4M1366.0 1119.0h5.4M1376.6 1107.6V1117.5M1373.9 1107.6h5.4M1373.9 1117.5h5.4M1384.0 1104.8V1115.6M1381.3 1104.8h5.4M1381.3 1115.6h5.4M1390.9 1102.5V1115.0M1388.2 1102.5h5.4M1388.2 1115.0h5.4M1397.5 1101.1V1114.0M1394.8 1101.1h5.4M1394.8 1114.0h5.4M1403.8 1101.8V1112.4M1401.1 1101.8h5.4M1401.1 1112.4h5.4M1409.8 1100.9V1111.6M1407.1 1100.9h5.4M1407.1 1111.6h5.4M1415.5 1099.8V1110.3M1412.8 1099.8h5.4M1412.8 1110.3h5.4M1421.1 1096.2V1110.4M1418.4 1096.2h5.4M1418.4 1110.4h5.4M1426.4 1097.3V1112.5M1423.7 1097.3h5.4M1423.7 1112.5h5.4M1431.6 1099.7V1111.3M1428.9 1099.7h5.4M1428.9 1111.3h5.4M1436.7 1097.0V1109.1M1434.0 1097.0h5.4M1434.0 1109.1h5.4M1441.5 1094.8V1107.3M1438.8 1094.8h5.4M1438.8 1107.3h5.4M1446.3 1090.6V1108.5M1443.6 1090.6h5.4M1443.6 1108.5h5.4M1450.9 1092.0V1104.7M1448.2 1092.0h5.4M1448.2 1104.7h5.4M1455.5 1090.4V1106.6M1452.8 1090.4h5.4M1452.8 1106.6h5.4M1459.9 1087.9V1106.4M1457.2 1087.9h5.4M1457.2 1106.4h5.4M1464.2 1088.3V1102.5M1461.5 1088.3h5.4M1461.5 1102.5h5.4M1468.4 1083.7V1101.6M1465.7 1083.7h5.4M1465.7 1101.6h5.4M1472.6 1084.4V1100.4M1469.9 1084.4h5.4M1469.9 1100.4h5.4M1476.7 1080.4V1098.8M1474.0 1080.4h5.4M1474.0 1098.8h5.4M1480.6 1078.7V1096.2M1477.9 1078.7h5.4M1477.9 1096.2h5.4M1484.6 1078.1V1093.6M1481.9 1078.1h5.4M1481.9 1093.6h5.4M1488.4 1072.8V1094.0M1485.7 1072.8h5.4M1485.7 1094.0h5.4M1492.2 1071.2V1089.8M1489.5 1071.2h5.4M1489.5 1089.8h5.4M1495.9 1066.2V1088.7M1493.2 1066.2h5.4M1493.2 1088.7h5.4M1499.6 1064.1V1084.0M1496.9 1064.1h5.4M1496.9 1084.0h5.4M1503.2 1059.4V1082.7M1500.5 1059.4h5.4M1500.5 1082.7h5.4M1506.8 1057.3V1078.7M1504.1 1057.3h5.4M1504.1 1078.7h5.4M1510.3 1056.2V1073.2M1507.6 1056.2h5.4M1507.6 1073.2h5.4M1513.7 1052.6V1069.5M1511.0 1052.6h5.4M1511.0 1069.5h5.4M1517.1 1045.1V1070.9M1514.4 1045.1h5.4M1514.4 1070.9h5.4M1520.5 1043.9V1067.4M1517.8 1043.9h5.4M1517.8 1067.4h5.4M1523.8 1039.3V1064.4M1521.1 1039.3h5.4M1521.1 1064.4h5.4M1527.1 1036.4V1062.5M1524.4 1036.4h5.4M1524.4 1062.5h5.4M1530.3 1034.8V1056.9M1527.6 1034.8h5.4M1527.6 1056.9h5.4M1533.5 1035.8V1060.5M1530.8 1035.8h5.4M1530.8 1060.5h5.4M1536.7 1037.1V1060.5M1534.0 1037.1h5.4M1534.0 1060.5h5.4M1539.8 1041.7V1059.4M1537.1 1041.7h5.4M1537.1 1059.4h5.4M1542.9 1040.6V1061.8M1540.2 1040.6h5.4M1540.2 1061.8h5.4M1545.9 1040.3V1064.0M1543.2 1040.3h5.4M1543.2 1064.0h5.4M1549.0 1043.7V1063.7M1546.3 1043.7h5.4M1546.3 1063.7h5.4M1551.9 1044.5V1065.7M1549.2 1044.5h5.4M1549.2 1065.7h5.4M1554.9 1048.1V1063.3M1552.2 1048.1h5.4M1552.2 1063.3h5.4M1557.8 1050.6V1067.8M1555.1 1050.6h5.4M1555.1 1067.8h5.4M1560.7 1052.3V1069.5M1558.0 1052.3h5.4M1558.0 1069.5h5.4M1563.6 1056.5V1073.1M1560.9 1056.5h5.4M1560.9 1073.1h5.4M1566.5 1060.5V1077.9M1563.8 1060.5h5.4M1563.8 1077.9h5.4M1569.3 1068.2V1082.5M1566.6 1068.2h5.4M1566.6 1082.5h5.4M1572.1 1073.8V1087.6M1569.4 1073.8h5.4M1569.4 1087.6h5.4M1574.8 1079.3V1091.9M1572.1 1079.3h5.4M1572.1 1091.9h5.4M1577.6 1082.5V1094.9M1574.9 1082.5h5.4M1574.9 1094.9h5.4M1580.3 1087.5V1098.5M1577.6 1087.5h5.4M1577.6 1098.5h5.4M1583.0 1091.1V1100.5M1580.3 1091.1h5.4M1580.3 1100.5h5.4M1585.7 1096.5V1104.7M1583.0 1096.5h5.4M1583.0 1104.7h5.4M1587.2 1096.5V1106.3M1584.5 1096.5h5.4M1584.5 1106.3h5.4" stroke-width="1.7"/></g>
<g clip-path="url(#cpd3)" fill="none" stroke="#00ffff"><polyline points="1263.9,1076.4 1313.1,1072.6 1328.2,1072.4 1340.4,1074.1 1350.9,1073.5 1360.2,1071.7 1368.7,1071.1 1376.6,1069.5 1384.0,1069.3 1390.9,1070.1 1397.5,1070.1 1403.8,1068.0 1409.8,1067.2 1415.5,1066.5 1421.1,1065.2 1426.4,1062.7 1431.6,1061.4 1436.7,1059.2 1441.5,1058.4 1446.3,1055.8 1450.9,1053.7 1455.5,1049.9 1459.9,1047.4 1464.2,1044.4 1468.4,1040.9 1472.6,1038.7 1476.7,1034.8 1480.6,1033.3 1484.6,1031.0 1488.4,1028.0 1492.2,1026.7 1495.9,1024.8 1499.6,1022.5 1503.2,1021.3 1506.8,1019.4 1510.3,1017.9 1513.7,1016.3 1517.1,1016.2 1520.5,1013.9 1523.8,1012.1 1527.1,1010.6 1530.3,1008.0 1533.5,1007.1 1536.7,1005.1 1539.8,1006.6 1542.9,1005.9 1545.9,1005.6 1549.0,1005.4 1551.9,1005.9 1554.9,1005.2 1557.8,1007.6 1560.7,1009.9 1563.6,1012.6 1566.5,1014.9 1569.3,1016.8 1572.1,1018.9 1574.8,1023.3 1577.6,1026.2 1580.3,1029.7 1583.0,1032.1 1585.7,1036.3 1587.2,1037.3" stroke-width="1.9" stroke-linejoin="round"/><path d="M1263.9 1074.9V1077.9M1261.2 1074.9h5.4M1261.2 1077.9h5.4M1313.1 1070.6V1074.5M1310.4 1070.6h5.4M1310.4 1074.5h5.4M1328.2 1071.0V1073.8M1325.5 1071.0h5.4M1325.5 1073.8h5.4M1340.4 1072.6V1075.6M1337.7 1072.6h5.4M1337.7 1075.6h5.4M1350.9 1071.7V1075.3M1348.2 1071.7h5.4M1348.2 1075.3h5.4M1360.2 1069.9V1073.4M1357.5 1069.9h5.4M1357.5 1073.4h5.4M1368.7 1069.3V1072.8M1366.0 1069.3h5.4M1366.0 1072.8h5.4M1376.6 1067.7V1071.3M1373.9 1067.7h5.4M1373.9 1071.3h5.4M1384.0 1067.7V1070.9M1381.3 1067.7h5.4M1381.3 1070.9h5.4M1390.9 1068.3V1072.0M1388.2 1068.3h5.4M1388.2 1072.0h5.4M1397.5 1068.5V1071.8M1394.8 1068.5h5.4M1394.8 1071.8h5.4M1403.8 1066.2V1069.7M1401.1 1066.2h5.4M1401.1 1069.7h5.4M1409.8 1065.4V1069.1M1407.1 1065.4h5.4M1407.1 1069.1h5.4M1415.5 1064.9V1068.1M1412.8 1064.9h5.4M1412.8 1068.1h5.4M1421.1 1063.3V1067.1M1418.4 1063.3h5.4M1418.4 1067.1h5.4M1426.4 1060.8V1064.6M1423.7 1060.8h5.4M1423.7 1064.6h5.4M1431.6 1059.3V1063.4M1428.9 1059.3h5.4M1428.9 1063.4h5.4M1436.7 1057.8V1060.6M1434.0 1057.8h5.4M1434.0 1060.6h5.4M1441.5 1056.8V1060.1M1438.8 1056.8h5.4M1438.8 1060.1h5.4M1446.3 1054.3V1057.2M1443.6 1054.3h5.4M1443.6 1057.2h5.4M1450.9 1052.2V1055.2M1448.2 1052.2h5.4M1448.2 1055.2h5.4M1455.5 1048.2V1051.5M1452.8 1048.2h5.4M1452.8 1051.5h5.4M1459.9 1045.5V1049.3M1457.2 1045.5h5.4M1457.2 1049.3h5.4M1464.2 1042.9V1045.8M1461.5 1042.9h5.4M1461.5 1045.8h5.4M1468.4 1039.0V1042.8M1465.7 1039.0h5.4M1465.7 1042.8h5.4M1472.6 1036.8V1040.6M1469.9 1036.8h5.4M1469.9 1040.6h5.4M1476.7 1032.8V1036.8M1474.0 1032.8h5.4M1474.0 1036.8h5.4M1480.6 1031.4V1035.2M1477.9 1031.4h5.4M1477.9 1035.2h5.4M1484.6 1029.5V1032.5M1481.9 1029.5h5.4M1481.9 1032.5h5.4M1488.4 1026.2V1029.9M1485.7 1026.2h5.4M1485.7 1029.9h5.4M1492.2 1025.0V1028.5M1489.5 1025.0h5.4M1489.5 1028.5h5.4M1495.9 1023.3V1026.4M1493.2 1023.3h5.4M1493.2 1026.4h5.4M1499.6 1020.6V1024.4M1496.9 1020.6h5.4M1496.9 1024.4h5.4M1503.2 1019.7V1022.9M1500.5 1019.7h5.4M1500.5 1022.9h5.4M1506.8 1017.5V1021.4M1504.1 1017.5h5.4M1504.1 1021.4h5.4M1510.3 1015.9V1019.8M1507.6 1015.9h5.4M1507.6 1019.8h5.4M1513.7 1014.7V1017.9M1511.0 1014.7h5.4M1511.0 1017.9h5.4M1517.1 1014.7V1017.6M1514.4 1014.7h5.4M1514.4 1017.6h5.4M1520.5 1012.0V1015.8M1517.8 1012.0h5.4M1517.8 1015.8h5.4M1523.8 1010.6V1013.5M1521.1 1010.6h5.4M1521.1 1013.5h5.4M1527.1 1009.2V1012.1M1524.4 1009.2h5.4M1524.4 1012.1h5.4M1530.3 1006.0V1009.9M1527.6 1006.0h5.4M1527.6 1009.9h5.4M1533.5 1005.6V1008.6M1530.8 1005.6h5.4M1530.8 1008.6h5.4M1536.7 1003.6V1006.7M1534.0 1003.6h5.4M1534.0 1006.7h5.4M1539.8 1004.9V1008.2M1537.1 1004.9h5.4M1537.1 1008.2h5.4M1542.9 1004.1V1007.8M1540.2 1004.1h5.4M1540.2 1007.8h5.4M1545.9 1004.1V1007.1M1543.2 1004.1h5.4M1543.2 1007.1h5.4M1549.0 1003.8V1006.9M1546.3 1003.8h5.4M1546.3 1006.9h5.4M1551.9 1004.5V1007.3M1549.2 1004.5h5.4M1549.2 1007.3h5.4M1554.9 1003.6V1006.7M1552.2 1003.6h5.4M1552.2 1006.7h5.4M1557.8 1005.7V1009.5M1555.1 1005.7h5.4M1555.1 1009.5h5.4M1560.7 1008.1V1011.7M1558.0 1008.1h5.4M1558.0 1011.7h5.4M1563.6 1010.8V1014.3M1560.9 1010.8h5.4M1560.9 1014.3h5.4M1566.5 1013.0V1016.9M1563.8 1013.0h5.4M1563.8 1016.9h5.4M1569.3 1015.4V1018.2M1566.6 1015.4h5.4M1566.6 1018.2h5.4M1572.1 1017.4V1020.5M1569.4 1017.4h5.4M1569.4 1020.5h5.4M1574.8 1021.5V1025.1M1572.1 1021.5h5.4M1572.1 1025.1h5.4M1577.6 1024.6V1027.8M1574.9 1024.6h5.4M1574.9 1027.8h5.4M1580.3 1027.7V1031.7M1577.6 1027.7h5.4M1577.6 1031.7h5.4M1583.0 1030.6V1033.6M1580.3 1030.6h5.4M1580.3 1033.6h5.4M1585.7 1034.3V1038.3M1583.0 1034.3h5.4M1583.0 1038.3h5.4M1587.2 1035.4V1039.1M1584.5 1035.4h5.4M1584.5 1039.1h5.4" stroke-width="1.7"/></g>
<g clip-path="url(#cpd3)" fill="none" stroke="#000000"><polyline points="1263.9,1099.3 1313.1,1094.5 1328.2,1093.6 1340.4,1092.4 1350.9,1090.8 1360.2,1089.6 1368.7,1089.4 1376.6,1089.8 1384.0,1088.7 1390.9,1088.2 1397.5,1087.4 1403.8,1088.5 1409.8,1087.2 1415.5,1085.4 1421.1,1083.5 1426.4,1082.4 1431.6,1080.5 1436.7,1079.9 1441.5,1078.3 1446.3,1076.7 1450.9,1076.1 1455.5,1075.1 1459.9,1074.1 1464.2,1071.2 1468.4,1068.1 1472.6,1066.8 1476.7,1061.6 1480.6,1055.2 1484.6,1048.1 1488.4,1045.2 1492.2,1043.5 1495.9,1039.9 1499.6,1038.7 1503.2,1035.6 1506.8,1032.7 1510.3,1028.6 1513.7,1026.9 1517.1,1022.4 1520.5,1019.6 1523.8,1015.7 1527.1,1012.4 1530.3,1007.6 1533.5,1005.7 1536.7,1002.1 1539.8,999.9 1542.9,999.3 1545.9,999.5 1549.0,999.3 1551.9,999.3 1554.9,998.7 1557.8,999.9 1560.7,1001.6 1563.6,1003.2 1566.5,1006.7 1569.3,1009.7 1572.1,1017.9 1574.8,1026.9 1577.6,1035.4 1580.3,1044.6 1583.0,1055.6 1585.7,1065.0 1587.2,1069.8" stroke-width="1.9" stroke-linejoin="round"/><path d="M1263.9 1093.7V1104.8M1261.2 1093.7h5.4M1261.2 1104.8h5.4M1313.1 1091.0V1098.1M1310.4 1091.0h5.4M1310.4 1098.1h5.4M1328.2 1090.0V1097.1M1325.5 1090.0h5.4M1325.5 1097.1h5.4M1340.4 1087.8V1097.0M1337.7 1087.8h5.4M1337.7 1097.0h5.4M1350.9 1087.0V1094.6M1348.2 1087.0h5.4M1348.2 1094.6h5.4M1360.2 1085.3V1093.9M1357.5 1085.3h5.4M1357.5 1093.9h5.4M1368.7 1085.0V1093.8M1366.0 1085.0h5.4M1366.0 1093.8h5.4M1376.6 1085.0V1094.5M1373.9 1085.0h5.4M1373.9 1094.5h5.4M1384.0 1085.0V1092.4M1381.3 1085.0h5.4M1381.3 1092.4h5.4M1390.9 1084.1V1092.4M1388.2 1084.1h5.4M1388.2 1092.4h5.4M1397.5 1082.7V1092.1M1394.8 1082.7h5.4M1394.8 1092.1h5.4M1403.8 1083.9V1093.0M1401.1 1083.9h5.4M1401.1 1093.0h5.4M1409.8 1083.0V1091.4M1407.1 1083.0h5.4M1407.1 1091.4h5.4M1415.5 1080.9V1089.9M1412.8 1080.9h5.4M1412.8 1089.9h5.4M1421.1 1078.6V1088.4M1418.4 1078.6h5.4M1418.4 1088.4h5.4M1426.4 1077.1V1087.7M1423.7 1077.1h5.4M1423.7 1087.7h5.4M1431.6 1075.6V1085.4M1428.9 1075.6h5.4M1428.9 1085.4h5.4M1436.7 1075.6V1084.1M1434.0 1075.6h5.4M1434.0 1084.1h5.4M1441.5 1073.8V1082.8M1438.8 1073.8h5.4M1438.8 1082.8h5.4M1446.3 1070.8V1082.5M1443.6 1070.8h5.4M1443.6 1082.5h5.4M1450.9 1070.1V1082.2M1448.2 1070.1h5.4M1448.2 1082.2h5.4M1455.5 1069.4V1080.8M1452.8 1069.4h5.4M1452.8 1080.8h5.4M1459.9 1067.6V1080.6M1457.2 1067.6h5.4M1457.2 1080.6h5.4M1464.2 1065.7V1076.7M1461.5 1065.7h5.4M1461.5 1076.7h5.4M1468.4 1062.0V1074.2M1465.7 1062.0h5.4M1465.7 1074.2h5.4M1472.6 1060.5V1073.0M1469.9 1060.5h5.4M1469.9 1073.0h5.4M1476.7 1054.3V1068.9M1474.0 1054.3h5.4M1474.0 1068.9h5.4M1480.6 1047.2V1063.3M1477.9 1047.2h5.4M1477.9 1063.3h5.4M1484.6 1041.8V1054.4M1481.9 1041.8h5.4M1481.9 1054.4h5.4M1488.4 1039.3V1051.1M1485.7 1039.3h5.4M1485.7 1051.1h5.4M1492.2 1036.7V1050.4M1489.5 1036.7h5.4M1489.5 1050.4h5.4M1495.9 1031.5V1048.3M1493.2 1031.5h5.4M1493.2 1048.3h5.4M1499.6 1029.8V1047.7M1496.9 1029.8h5.4M1496.9 1047.7h5.4M1503.2 1029.3V1041.8M1500.5 1029.3h5.4M1500.5 1041.8h5.4M1506.8 1025.5V1039.8M1504.1 1025.5h5.4M1504.1 1039.8h5.4M1510.3 1020.8V1036.3M1507.6 1020.8h5.4M1507.6 1036.3h5.4M1513.7 1017.7V1036.1M1511.0 1017.7h5.4M1511.0 1036.1h5.4M1517.1 1014.1V1030.7M1514.4 1014.1h5.4M1514.4 1030.7h5.4M1520.5 1011.6V1027.5M1517.8 1011.6h5.4M1517.8 1027.5h5.4M1523.8 1005.9V1025.6M1521.1 1005.9h5.4M1521.1 1025.6h5.4M1527.1 1003.3V1021.6M1524.4 1003.3h5.4M1524.4 1021.6h5.4M1530.3 997.8V1017.5M1527.6 997.8h5.4M1527.6 1017.5h5.4M1533.5 996.1V1015.3M1530.8 996.1h5.4M1530.8 1015.3h5.4M1536.7 991.9V1012.3M1534.0 991.9h5.4M1534.0 1012.3h5.4M1539.8 990.8V1009.1M1537.1 990.8h5.4M1537.1 1009.1h5.4M1542.9 989.9V1008.8M1540.2 989.9h5.4M1540.2 1008.8h5.4M1545.9 991.0V1008.1M1543.2 991.0h5.4M1543.2 1008.1h5.4M1549.0 990.2V1008.5M1546.3 990.2h5.4M1546.3 1008.5h5.4M1551.9 989.3V1009.3M1549.2 989.3h5.4M1549.2 1009.3h5.4M1554.9 988.6V1008.7M1552.2 988.6h5.4M1552.2 1008.7h5.4M1557.8 990.0V1009.8M1555.1 990.0h5.4M1555.1 1009.8h5.4M1560.7 992.5V1010.7M1558.0 992.5h5.4M1558.0 1010.7h5.4M1563.6 994.8V1011.6M1560.9 994.8h5.4M1560.9 1011.6h5.4M1566.5 998.6V1014.7M1563.8 998.6h5.4M1563.8 1014.7h5.4M1569.3 1001.8V1017.5M1566.6 1001.8h5.4M1566.6 1017.5h5.4M1572.1 1008.3V1027.4M1569.4 1008.3h5.4M1569.4 1027.4h5.4M1574.8 1018.4V1035.4M1572.1 1018.4h5.4M1572.1 1035.4h5.4M1577.6 1026.6V1044.2M1574.9 1026.6h5.4M1574.9 1044.2h5.4M1580.3 1036.3V1052.8M1577.6 1036.3h5.4M1577.6 1052.8h5.4M1583.0 1049.2V1062.0M1580.3 1049.2h5.4M1580.3 1062.0h5.4M1585.7 1057.6V1072.3M1583.0 1057.6h5.4M1583.0 1072.3h5.4M1587.2 1062.8V1076.8M1584.5 1062.8h5.4M1584.5 1076.8h5.4" stroke-width="1.7"/></g>
<rect x="1263.90" y="903.60" width="323.30" height="255.60" fill="none" stroke="#262626" stroke-width="2.0"/>
<path d="M1366.44 1159.20v-4M1366.44 903.60v4M1468.97 1159.20v-4M1468.97 903.60v4M1571.51 1159.20v-4M1571.51 903.60v4M1263.90 1116.60h4M1587.20 1116.60h-4M1263.90 1074.00h4M1587.20 1074.00h-4M1263.90 1031.40h4M1587.20 1031.40h-4M1263.90 988.80h4M1587.20 988.80h-4M1263.90 946.20h4M1587.20 946.20h-4" stroke="#262626" stroke-width="1.50" fill="none"/>
<text x="1263.9" y="1186.3" font-size="22.2" fill="#222" text-anchor="middle" >0</text>
<text x="1366.4" y="1186.3" font-size="22.2" fill="#222" text-anchor="middle" >100</text>
<text x="1469.0" y="1186.3" font-size="22.2" fill="#222" text-anchor="middle" >200</text>
<text x="1571.5" y="1186.3" font-size="22.2" fill="#222" text-anchor="middle" >300</text>
<text x="1255.3" y="1166.8" font-size="22.2" fill="#222" text-anchor="end" >0</text>
<text x="1255.3" y="1124.2" font-size="22.2" fill="#222" text-anchor="end" >0.2</text>
<text x="1255.3" y="1081.6" font-size="22.2" fill="#222" text-anchor="end" >0.4</text>
<text x="1255.3" y="1039.0" font-size="22.2" fill="#222" text-anchor="end" >0.6</text>
<text x="1255.3" y="996.4" font-size="22.2" fill="#222" text-anchor="end" >0.8</text>
<text x="1255.3" y="953.8" font-size="22.2" fill="#222" text-anchor="end" >1</text>
<text x="1476.3" y="935.5" font-size="23" fill="#111" textLength="96.5" lengthAdjust="spacingAndGlyphs" >BMP-36h</text>
<text x="1297.2" y="1224.8" font-size="23.3" fill="#111" textLength="270" lengthAdjust="spacingAndGlyphs">Distance from center (<tspan font-style="italic">µ</tspan>m)</text>
<clipPath id="cpd4"><rect x="1659.7" y="903.6" width="324.39999999999986" height="255.60000000000002"/></clipPath>
<g clip-path="url(#cpd4)" fill="none" stroke="#ff00ff"><polyline points="1660.7,1100.9 1709.8,1104.6 1724.8,1103.0 1737.0,1099.6 1747.4,1097.8 1756.8,1097.5 1765.2,1095.9 1773.1,1093.4 1780.4,1089.7 1787.4,1084.3 1793.9,1080.9 1800.2,1076.1 1806.1,1072.1 1811.9,1068.7 1817.4,1066.4 1822.8,1062.3 1827.9,1057.3 1833.0,1053.5 1837.8,1049.2 1842.6,1045.7 1847.2,1042.2 1851.7,1036.0 1856.1,1032.3 1860.5,1026.3 1864.7,1021.8 1868.8,1015.7 1872.9,1011.3 1876.8,1007.0 1880.8,1002.7 1884.6,998.4 1888.4,992.0 1892.1,987.6 1895.7,981.8 1899.3,978.0 1902.9,973.0 1906.4,967.8 1909.8,964.7 1913.2,960.8 1916.6,959.9 1919.9,962.6 1923.1,965.5 1926.4,971.7 1929.6,978.4 1932.7,985.1 1935.8,993.0 1938.9,1001.7 1941.9,1011.2 1945.0,1021.2 1947.9,1030.0 1950.9,1039.3 1953.8,1048.1 1956.7,1057.1 1959.6,1064.6 1962.4,1070.9 1965.2,1078.5 1968.0,1085.4 1970.8,1091.8 1973.5,1097.1 1976.2,1103.1 1978.9,1108.2 1981.6,1113.3 1983.1,1116.6" stroke-width="1.9" stroke-linejoin="round"/><path d="M1660.7 1097.1V1104.7M1658.0 1097.1h5.4M1658.0 1104.7h5.4M1709.8 1100.4V1108.7M1707.1 1100.4h5.4M1707.1 1108.7h5.4M1724.8 1099.2V1106.9M1722.1 1099.2h5.4M1722.1 1106.9h5.4M1737.0 1096.0V1103.3M1734.3 1096.0h5.4M1734.3 1103.3h5.4M1747.4 1094.7V1100.9M1744.7 1094.7h5.4M1744.7 1100.9h5.4M1756.8 1093.2V1101.8M1754.1 1093.2h5.4M1754.1 1101.8h5.4M1765.2 1092.1V1099.8M1762.5 1092.1h5.4M1762.5 1099.8h5.4M1773.1 1089.0V1097.7M1770.4 1089.0h5.4M1770.4 1097.7h5.4M1780.4 1086.1V1093.3M1777.7 1086.1h5.4M1777.7 1093.3h5.4M1787.4 1079.9V1088.7M1784.7 1079.9h5.4M1784.7 1088.7h5.4M1793.9 1076.6V1085.2M1791.2 1076.6h5.4M1791.2 1085.2h5.4M1800.2 1072.6V1079.5M1797.5 1072.6h5.4M1797.5 1079.5h5.4M1806.1 1067.9V1076.4M1803.4 1067.9h5.4M1803.4 1076.4h5.4M1811.9 1065.6V1071.8M1809.2 1065.6h5.4M1809.2 1071.8h5.4M1817.4 1062.4V1070.5M1814.7 1062.4h5.4M1814.7 1070.5h5.4M1822.8 1058.0V1066.6M1820.1 1058.0h5.4M1820.1 1066.6h5.4M1827.9 1053.2V1061.5M1825.2 1053.2h5.4M1825.2 1061.5h5.4M1833.0 1050.0V1057.0M1830.3 1050.0h5.4M1830.3 1057.0h5.4M1837.8 1045.6V1052.8M1835.1 1045.6h5.4M1835.1 1052.8h5.4M1842.6 1042.3V1049.0M1839.9 1042.3h5.4M1839.9 1049.0h5.4M1847.2 1037.8V1046.6M1844.5 1037.8h5.4M1844.5 1046.6h5.4M1851.7 1032.0V1039.9M1849.0 1032.0h5.4M1849.0 1039.9h5.4M1856.1 1028.0V1036.5M1853.4 1028.0h5.4M1853.4 1036.5h5.4M1860.5 1022.5V1030.1M1857.8 1022.5h5.4M1857.8 1030.1h5.4M1864.7 1018.0V1025.5M1862.0 1018.0h5.4M1862.0 1025.5h5.4M1868.8 1011.2V1020.2M1866.1 1011.2h5.4M1866.1 1020.2h5.4M1872.9 1006.8V1015.8M1870.2 1006.8h5.4M1870.2 1015.8h5.4M1876.8 1002.8V1011.2M1874.1 1002.8h5.4M1874.1 1011.2h5.4M1880.8 998.6V1006.8M1878.1 998.6h5.4M1878.1 1006.8h5.4M1884.6 994.0V1002.9M1881.9 994.0h5.4M1881.9 1002.9h5.4M1888.4 988.4V995.6M1885.7 988.4h5.4M1885.7 995.6h5.4M1892.1 984.0V991.1M1889.4 984.0h5.4M1889.4 991.1h5.4M1895.7 977.6V986.1M1893.0 977.6h5.4M1893.0 986.1h5.4M1899.3 973.9V982.1M1896.6 973.9h5.4M1896.6 982.1h5.4M1902.9 968.8V977.3M1900.2 968.8h5.4M1900.2 977.3h5.4M1906.4 963.7V972.0M1903.7 963.7h5.4M1903.7 972.0h5.4M1909.8 961.0V968.4M1907.1 961.0h5.4M1907.1 968.4h5.4M1913.2 957.5V964.0M1910.5 957.5h5.4M1910.5 964.0h5.4M1916.6 955.6V964.1M1913.9 955.6h5.4M1913.9 964.1h5.4M1919.9 958.2V967.0M1917.2 958.2h5.4M1917.2 967.0h5.4M1923.1 961.6V969.3M1920.4 961.6h5.4M1920.4 969.3h5.4M1926.4 968.1V975.3M1923.7 968.1h5.4M1923.7 975.3h5.4M1929.6 974.0V982.7M1926.9 974.0h5.4M1926.9 982.7h5.4M1932.7 981.7V988.4M1930.0 981.7h5.4M1930.0 988.4h5.4M1935.8 989.6V996.3M1933.1 989.6h5.4M1933.1 996.3h5.4M1938.9 997.7V1005.6M1936.2 997.7h5.4M1936.2 1005.6h5.4M1941.9 1007.4V1015.0M1939.2 1007.4h5.4M1939.2 1015.0h5.4M1945.0 1017.0V1025.5M1942.3 1017.0h5.4M1942.3 1025.5h5.4M1947.9 1026.9V1033.1M1945.2 1026.9h5.4M1945.2 1033.1h5.4M1950.9 1034.8V1043.8M1948.2 1034.8h5.4M1948.2 1043.8h5.4M1953.8 1044.6V1051.6M1951.1 1044.6h5.4M1951.1 1051.6h5.4M1956.7 1053.3V1060.9M1954.0 1053.3h5.4M1954.0 1060.9h5.4M1959.6 1061.5V1067.7M1956.9 1061.5h5.4M1956.9 1067.7h5.4M1962.4 1067.2V1074.5M1959.7 1067.2h5.4M1959.7 1074.5h5.4M1965.2 1074.7V1082.4M1962.5 1074.7h5.4M1962.5 1082.4h5.4M1968.0 1080.8V1089.9M1965.3 1080.8h5.4M1965.3 1089.9h5.4M1970.8 1088.5V1095.2M1968.1 1088.5h5.4M1968.1 1095.2h5.4M1973.5 1093.8V1100.4M1970.8 1093.8h5.4M1970.8 1100.4h5.4M1976.2 1098.7V1107.5M1973.5 1098.7h5.4M1973.5 1107.5h5.4M1978.9 1103.7V1112.7M1976.2 1103.7h5.4M1976.2 1112.7h5.4M1981.6 1109.4V1117.1M1978.9 1109.4h5.4M1978.9 1117.1h5.4M1983.1 1112.8V1120.5M1980.4 1112.8h5.4M1980.4 1120.5h5.4" stroke-width="1.7"/></g>
<g clip-path="url(#cpd4)" fill="none" stroke="#00ffff"><polyline points="1660.7,1036.1 1709.8,1036.8 1724.8,1033.7 1737.0,1035.7 1747.4,1033.0 1756.8,1033.4 1765.2,1033.6 1773.1,1029.1 1780.4,1023.6 1787.4,1018.2 1793.9,1013.7 1800.2,1011.0 1806.1,1006.3 1811.9,1000.6 1817.4,995.9 1822.8,992.5 1827.9,988.4 1833.0,983.1 1837.8,980.9 1842.6,977.7 1847.2,974.6 1851.7,973.4 1856.1,971.2 1860.5,968.7 1864.7,968.2 1868.8,967.5 1872.9,967.4 1876.8,967.6 1880.8,967.1 1884.6,967.8 1888.4,968.4 1892.1,968.6 1895.7,970.2 1899.3,971.6 1902.9,972.9 1906.4,974.6 1909.8,974.8 1913.2,976.7 1916.6,978.7 1919.9,981.6 1923.1,983.7 1926.4,987.1 1929.6,991.0 1932.7,994.3 1935.8,998.1 1938.9,1003.2 1941.9,1006.9 1945.0,1011.2 1947.9,1014.9 1950.9,1018.9 1953.8,1022.8 1956.7,1028.5 1959.6,1031.9 1962.4,1037.8 1965.2,1041.3 1968.0,1044.9 1970.8,1047.2 1973.5,1049.8 1976.2,1053.4 1978.9,1055.1 1981.6,1057.6 1983.1,1059.5" stroke-width="1.9" stroke-linejoin="round"/><path d="M1660.7 1033.9V1038.2M1658.0 1033.9h5.4M1658.0 1038.2h5.4M1709.8 1034.1V1039.5M1707.1 1034.1h5.4M1707.1 1039.5h5.4M1724.8 1031.4V1036.0M1722.1 1031.4h5.4M1722.1 1036.0h5.4M1737.0 1033.5V1037.9M1734.3 1033.5h5.4M1734.3 1037.9h5.4M1747.4 1030.7V1035.3M1744.7 1030.7h5.4M1744.7 1035.3h5.4M1756.8 1030.8V1036.0M1754.1 1030.8h5.4M1754.1 1036.0h5.4M1765.2 1031.1V1036.1M1762.5 1031.1h5.4M1762.5 1036.1h5.4M1773.1 1026.6V1031.5M1770.4 1026.6h5.4M1770.4 1031.5h5.4M1780.4 1021.4V1025.7M1777.7 1021.4h5.4M1777.7 1025.7h5.4M1787.4 1016.0V1020.5M1784.7 1016.0h5.4M1784.7 1020.5h5.4M1793.9 1011.0V1016.4M1791.2 1011.0h5.4M1791.2 1016.4h5.4M1800.2 1008.5V1013.4M1797.5 1008.5h5.4M1797.5 1013.4h5.4M1806.1 1004.1V1008.5M1803.4 1004.1h5.4M1803.4 1008.5h5.4M1811.9 997.8V1003.5M1809.2 997.8h5.4M1809.2 1003.5h5.4M1817.4 993.3V998.5M1814.7 993.3h5.4M1814.7 998.5h5.4M1822.8 990.1V994.9M1820.1 990.1h5.4M1820.1 994.9h5.4M1827.9 985.4V991.5M1825.2 985.4h5.4M1825.2 991.5h5.4M1833.0 980.5V985.7M1830.3 980.5h5.4M1830.3 985.7h5.4M1837.8 978.7V983.1M1835.1 978.7h5.4M1835.1 983.1h5.4M1842.6 975.1V980.2M1839.9 975.1h5.4M1839.9 980.2h5.4M1847.2 972.3V977.0M1844.5 972.3h5.4M1844.5 977.0h5.4M1851.7 970.5V976.3M1849.0 970.5h5.4M1849.0 976.3h5.4M1856.1 968.4V974.1M1853.4 968.4h5.4M1853.4 974.1h5.4M1860.5 966.6V970.8M1857.8 966.6h5.4M1857.8 970.8h5.4M1864.7 966.0V970.4M1862.0 966.0h5.4M1862.0 970.4h5.4M1868.8 964.8V970.2M1866.1 964.8h5.4M1866.1 970.2h5.4M1872.9 964.8V969.9M1870.2 964.8h5.4M1870.2 969.9h5.4M1876.8 965.3V970.0M1874.1 965.3h5.4M1874.1 970.0h5.4M1880.8 964.6V969.7M1878.1 964.6h5.4M1878.1 969.7h5.4M1884.6 965.6V970.0M1881.9 965.6h5.4M1881.9 970.0h5.4M1888.4 965.9V971.0M1885.7 965.9h5.4M1885.7 971.0h5.4M1892.1 965.9V971.2M1889.4 965.9h5.4M1889.4 971.2h5.4M1895.7 967.2V973.2M1893.0 967.2h5.4M1893.0 973.2h5.4M1899.3 968.9V974.3M1896.6 968.9h5.4M1896.6 974.3h5.4M1902.9 970.3V975.5M1900.2 970.3h5.4M1900.2 975.5h5.4M1906.4 972.5V976.6M1903.7 972.5h5.4M1903.7 976.6h5.4M1909.8 972.2V977.3M1907.1 972.2h5.4M1907.1 977.3h5.4M1913.2 974.0V979.3M1910.5 974.0h5.4M1910.5 979.3h5.4M1916.6 976.0V981.4M1913.9 976.0h5.4M1913.9 981.4h5.4M1919.9 979.2V984.0M1917.2 979.2h5.4M1917.2 984.0h5.4M1923.1 980.7V986.7M1920.4 980.7h5.4M1920.4 986.7h5.4M1926.4 984.4V989.9M1923.7 984.4h5.4M1923.7 989.9h5.4M1929.6 988.2V993.7M1926.9 988.2h5.4M1926.9 993.7h5.4M1932.7 991.3V997.4M1930.0 991.3h5.4M1930.0 997.4h5.4M1935.8 995.0V1001.1M1933.1 995.0h5.4M1933.1 1001.1h5.4M1938.9 1001.0V1005.4M1936.2 1001.0h5.4M1936.2 1005.4h5.4M1941.9 1004.0V1009.9M1939.2 1004.0h5.4M1939.2 1009.9h5.4M1945.0 1008.6V1013.8M1942.3 1008.6h5.4M1942.3 1013.8h5.4M1947.9 1012.2V1017.6M1945.2 1012.2h5.4M1945.2 1017.6h5.4M1950.9 1016.9V1021.0M1948.2 1016.9h5.4M1948.2 1021.0h5.4M1953.8 1020.6V1024.9M1951.1 1020.6h5.4M1951.1 1024.9h5.4M1956.7 1025.7V1031.4M1954.0 1025.7h5.4M1954.0 1031.4h5.4M1959.6 1029.5V1034.3M1956.9 1029.5h5.4M1956.9 1034.3h5.4M1962.4 1034.8V1040.9M1959.7 1034.8h5.4M1959.7 1040.9h5.4M1965.2 1038.2V1044.3M1962.5 1038.2h5.4M1962.5 1044.3h5.4M1968.0 1042.3V1047.5M1965.3 1042.3h5.4M1965.3 1047.5h5.4M1970.8 1044.5V1049.8M1968.1 1044.5h5.4M1968.1 1049.8h5.4M1973.5 1047.1V1052.4M1970.8 1047.1h5.4M1970.8 1052.4h5.4M1976.2 1050.8V1056.0M1973.5 1050.8h5.4M1973.5 1056.0h5.4M1978.9 1052.3V1058.0M1976.2 1052.3h5.4M1976.2 1058.0h5.4M1981.6 1054.6V1060.7M1978.9 1054.6h5.4M1978.9 1060.7h5.4M1983.1 1057.1V1061.9M1980.4 1057.1h5.4M1980.4 1061.9h5.4" stroke-width="1.7"/></g>
<g clip-path="url(#cpd4)" fill="none" stroke="#000000"><polyline points="1660.7,1088.0 1709.8,1088.0 1724.8,1087.5 1737.0,1086.2 1747.4,1085.2 1756.8,1082.3 1765.2,1081.2 1773.1,1077.8 1780.4,1073.8 1787.4,1070.0 1793.9,1064.1 1800.2,1060.3 1806.1,1055.2 1811.9,1050.6 1817.4,1045.6 1822.8,1040.0 1827.9,1034.3 1833.0,1029.7 1837.8,1025.7 1842.6,1021.4 1847.2,1016.9 1851.7,1012.1 1856.1,1007.5 1860.5,1004.2 1864.7,999.2 1868.8,993.6 1872.9,989.8 1876.8,985.2 1880.8,979.1 1884.6,976.3 1888.4,973.5 1892.1,973.1 1895.7,970.1 1899.3,970.4 1902.9,970.2 1906.4,969.9 1909.8,966.0 1913.2,968.0 1916.6,972.0 1919.9,976.5 1923.1,982.2 1926.4,988.7 1929.6,995.5 1932.7,1002.3 1935.8,1011.9 1938.9,1021.6 1941.9,1031.9 1945.0,1041.3 1947.9,1049.5 1950.9,1059.6 1953.8,1067.6 1956.7,1076.1 1959.6,1082.3 1962.4,1090.2 1965.2,1097.4 1968.0,1102.2 1970.8,1107.9 1973.5,1112.8 1976.2,1117.7 1978.9,1121.6 1981.6,1125.7 1983.1,1127.8" stroke-width="1.9" stroke-linejoin="round"/><path d="M1660.7 1080.7V1095.2M1658.0 1080.7h5.4M1658.0 1095.2h5.4M1709.8 1077.2V1098.8M1707.1 1077.2h5.4M1707.1 1098.8h5.4M1724.8 1079.4V1095.7M1722.1 1079.4h5.4M1722.1 1095.7h5.4M1737.0 1079.6V1092.8M1734.3 1079.6h5.4M1734.3 1092.8h5.4M1747.4 1081.6V1088.8M1744.7 1081.6h5.4M1744.7 1088.8h5.4M1756.8 1078.2V1086.5M1754.1 1078.2h5.4M1754.1 1086.5h5.4M1765.2 1076.7V1085.7M1762.5 1076.7h5.4M1762.5 1085.7h5.4M1773.1 1072.8V1082.8M1770.4 1072.8h5.4M1770.4 1082.8h5.4M1780.4 1067.8V1079.8M1777.7 1067.8h5.4M1777.7 1079.8h5.4M1787.4 1064.7V1075.2M1784.7 1064.7h5.4M1784.7 1075.2h5.4M1793.9 1058.8V1069.3M1791.2 1058.8h5.4M1791.2 1069.3h5.4M1800.2 1054.6V1066.1M1797.5 1054.6h5.4M1797.5 1066.1h5.4M1806.1 1049.0V1061.4M1803.4 1049.0h5.4M1803.4 1061.4h5.4M1811.9 1045.3V1055.9M1809.2 1045.3h5.4M1809.2 1055.9h5.4M1817.4 1039.4V1051.8M1814.7 1039.4h5.4M1814.7 1051.8h5.4M1822.8 1034.5V1045.5M1820.1 1034.5h5.4M1820.1 1045.5h5.4M1827.9 1029.6V1039.1M1825.2 1029.6h5.4M1825.2 1039.1h5.4M1833.0 1024.7V1034.6M1830.3 1024.7h5.4M1830.3 1034.6h5.4M1837.8 1020.8V1030.7M1835.1 1020.8h5.4M1835.1 1030.7h5.4M1842.6 1015.6V1027.3M1839.9 1015.6h5.4M1839.9 1027.3h5.4M1847.2 1011.5V1022.4M1844.5 1011.5h5.4M1844.5 1022.4h5.4M1851.7 1005.8V1018.5M1849.0 1005.8h5.4M1849.0 1018.5h5.4M1856.1 1000.6V1014.3M1853.4 1000.6h5.4M1853.4 1014.3h5.4M1860.5 997.9V1010.4M1857.8 997.9h5.4M1857.8 1010.4h5.4M1864.7 992.3V1006.2M1862.0 992.3h5.4M1862.0 1006.2h5.4M1868.8 987.9V999.4M1866.1 987.9h5.4M1866.1 999.4h5.4M1872.9 984.6V995.1M1870.2 984.6h5.4M1870.2 995.1h5.4M1876.8 978.7V991.8M1874.1 978.7h5.4M1874.1 991.8h5.4M1880.8 973.4V984.8M1878.1 973.4h5.4M1878.1 984.8h5.4M1884.6 971.5V981.1M1881.9 971.5h5.4M1881.9 981.1h5.4M1888.4 968.7V978.4M1885.7 968.7h5.4M1885.7 978.4h5.4M1892.1 967.3V978.9M1889.4 967.3h5.4M1889.4 978.9h5.4M1895.7 966.2V974.1M1893.0 966.2h5.4M1893.0 974.1h5.4M1899.3 965.1V975.6M1896.6 965.1h5.4M1896.6 975.6h5.4M1902.9 966.5V974.0M1900.2 966.5h5.4M1900.2 974.0h5.4M1906.4 965.0V974.8M1903.7 965.0h5.4M1903.7 974.8h5.4M1909.8 961.7V970.3M1907.1 961.7h5.4M1907.1 970.3h5.4M1913.2 964.5V971.5M1910.5 964.5h5.4M1910.5 971.5h5.4M1916.6 968.2V975.7M1913.9 968.2h5.4M1913.9 975.7h5.4M1919.9 972.6V980.4M1917.2 972.6h5.4M1917.2 980.4h5.4M1923.1 978.0V986.4M1920.4 978.0h5.4M1920.4 986.4h5.4M1926.4 984.3V993.2M1923.7 984.3h5.4M1923.7 993.2h5.4M1929.6 991.0V999.9M1926.9 991.0h5.4M1926.9 999.9h5.4M1932.7 998.8V1005.7M1930.0 998.8h5.4M1930.0 1005.7h5.4M1935.8 1007.9V1015.8M1933.1 1007.9h5.4M1933.1 1015.8h5.4M1938.9 1017.4V1025.8M1936.2 1017.4h5.4M1936.2 1025.8h5.4M1941.9 1028.6V1035.2M1939.2 1028.6h5.4M1939.2 1035.2h5.4M1945.0 1037.1V1045.4M1942.3 1037.1h5.4M1942.3 1045.4h5.4M1947.9 1046.2V1052.8M1945.2 1046.2h5.4M1945.2 1052.8h5.4M1950.9 1055.8V1063.4M1948.2 1055.8h5.4M1948.2 1063.4h5.4M1953.8 1064.0V1071.2M1951.1 1064.0h5.4M1951.1 1071.2h5.4M1956.7 1072.5V1079.7M1954.0 1072.5h5.4M1954.0 1079.7h5.4M1959.6 1078.3V1086.3M1956.9 1078.3h5.4M1956.9 1086.3h5.4M1962.4 1087.3V1093.2M1959.7 1087.3h5.4M1959.7 1093.2h5.4M1965.2 1094.3V1100.5M1962.5 1094.3h5.4M1962.5 1100.5h5.4M1968.0 1098.2V1106.2M1965.3 1098.2h5.4M1965.3 1106.2h5.4M1970.8 1104.4V1111.4M1968.1 1104.4h5.4M1968.1 1111.4h5.4M1973.5 1109.0V1116.7M1970.8 1109.0h5.4M1970.8 1116.7h5.4M1976.2 1114.8V1120.6M1973.5 1114.8h5.4M1973.5 1120.6h5.4M1978.9 1118.6V1124.6M1976.2 1118.6h5.4M1976.2 1124.6h5.4M1981.6 1122.4V1129.0M1978.9 1122.4h5.4M1978.9 1129.0h5.4M1983.1 1124.3V1131.4M1980.4 1124.3h5.4M1980.4 1131.4h5.4" stroke-width="1.7"/></g>
<rect x="1660.70" y="903.60" width="322.40" height="255.60" fill="none" stroke="#262626" stroke-width="2.0"/>
<path d="M1762.95 1159.20v-4M1762.95 903.60v4M1865.20 1159.20v-4M1865.20 903.60v4M1967.46 1159.20v-4M1967.46 903.60v4M1660.70 1116.60h4M1983.10 1116.60h-4M1660.70 1074.00h4M1983.10 1074.00h-4M1660.70 1031.40h4M1983.10 1031.40h-4M1660.70 988.80h4M1983.10 988.80h-4M1660.70 946.20h4M1983.10 946.20h-4" stroke="#262626" stroke-width="1.50" fill="none"/>
<text x="1660.7" y="1186.3" font-size="22.2" fill="#222" text-anchor="middle" >0</text>
<text x="1763.0" y="1186.3" font-size="22.2" fill="#222" text-anchor="middle" >100</text>
<text x="1865.2" y="1186.3" font-size="22.2" fill="#222" text-anchor="middle" >200</text>
<text x="1967.5" y="1186.3" font-size="22.2" fill="#222" text-anchor="middle" >300</text>
<text x="1652.1" y="1166.8" font-size="22.2" fill="#222" text-anchor="end" >0</text>
<text x="1652.1" y="1124.2" font-size="22.2" fill="#222" text-anchor="end" >0.2</text>
<text x="1652.1" y="1081.6" font-size="22.2" fill="#222" text-anchor="end" >0.4</text>
<text x="1652.1" y="1039.0" font-size="22.2" fill="#222" text-anchor="end" >0.6</text>
<text x="1652.1" y="996.4" font-size="22.2" fill="#222" text-anchor="end" >0.8</text>
<text x="1652.1" y="953.8" font-size="22.2" fill="#222" text-anchor="end" >1</text>
<text x="1872.1" y="935.5" font-size="23" fill="#111" textLength="96.5" lengthAdjust="spacingAndGlyphs" >BMP-42h</text>
<text x="1693.9" y="1224.8" font-size="23.3" fill="#111" textLength="270" lengthAdjust="spacingAndGlyphs">Distance from center (<tspan font-style="italic">µ</tspan>m)</text>
<text x="17.6" y="1135.2" font-size="23.3" fill="#111" textLength="210.4" lengthAdjust="spacingAndGlyphs" transform="rotate(-90 17.6 1135.2)" >Normalized intensity</text>
<path d="M97.4 928.5H118.7M108.1 922.0V935.0M105.6 922.0h5M105.6 935.0h5" stroke="#ff00ff" stroke-width="1.5" fill="none"/>
<text x="122.0" y="936.0" font-size="22.4" fill="#111" textLength="69.5" lengthAdjust="spacingAndGlyphs" >cNodal</text>
<path d="M97.4 955.8H118.7M108.1 949.3V962.3M105.6 949.3h5M105.6 962.3h5" stroke="#00ffff" stroke-width="1.5" fill="none"/>
<text x="122.0" y="963.3" font-size="22.4" fill="#111" textLength="102.0" lengthAdjust="spacingAndGlyphs" >pSmad2/3</text>
<path d="M97.4 982.6H118.7M108.1 976.1V989.1M105.6 976.1h5M105.6 989.1h5" stroke="#000000" stroke-width="1.5" fill="none"/>
<text x="122.0" y="990.1" font-size="22.4" fill="#111" textLength="104.5" lengthAdjust="spacingAndGlyphs" >NodalRNA</text>
<text x="33.0" y="1326.2" font-size="26" fill="#000" font-weight="bold" >e</text>
<text x="55.2" y="1564.6" font-size="27.6" fill="#000" textLength="144.5" lengthAdjust="spacingAndGlyphs" transform="rotate(-90 55.2 1564.6)" >BMP4&#160;&#160;42h</text>
<text x="156.7" y="1338.5" font-size="23.3" fill="#000" textLength="106.4" lengthAdjust="spacingAndGlyphs" >Lefty RNA</text>
<text x="468.3" y="1338.5" font-size="23.3" fill="#000" textLength="50.4" lengthAdjust="spacingAndGlyphs" >Lefty</text>
<rect x="67.7" y="1344.7" width="282.2" height="282.9" fill="#080808"/>
<ellipse cx="212.0" cy="1481.5" rx="105" ry="103" fill="url(#ge0)" filter="url(#fe1)"/>
<ellipse cx="208.5" cy="1486.3" rx="127.4" ry="135.1" fill="none" stroke="#fff" stroke-width="3.9" pathLength="21" stroke-dasharray="0.525 0.475"/>
<rect x="353.4" y="1344.7" width="280.6" height="282.9" fill="#040404"/>
<ellipse cx="487.0" cy="1497.0" rx="96" ry="95" fill="url(#ge1)" filter="url(#fe2)"/>
<ellipse cx="493.1" cy="1486.3" rx="127.4" ry="135.1" fill="none" stroke="#fff" stroke-width="3.9" pathLength="21" stroke-dasharray="0.525 0.475"/>
<rect x="580.2" y="1612.8" width="39.2" height="8.5" fill="#fff"/>
<text x="2.6" y="1705.0" font-size="22" fill="#000" font-weight="bold" textLength="8.8" lengthAdjust="spacingAndGlyphs" >f</text>
<clipPath id="cpf0"><rect x="77.8" y="1702.6" width="412.5" height="323.0"/></clipPath>
<g clip-path="url(#cpf0)" fill="none" stroke="#ff00ff"><polyline points="78.8,1894.1 141.3,1887.7 160.4,1880.0 175.9,1883.8 189.2,1886.8 201.0,1881.9 211.8,1887.9 221.8,1885.6 231.2,1884.7 240.0,1882.0 248.3,1880.7 256.3,1878.6 263.9,1878.8 271.2,1879.1 278.2,1881.4 285.0,1881.6 291.6,1881.2 298.0,1879.1 304.2,1877.7 310.3,1876.0 316.1,1872.1 321.9,1870.9 327.5,1866.1 333.0,1864.2 338.4,1860.8 343.6,1857.3 348.8,1853.0 353.8,1846.2 358.8,1842.0 363.7,1836.1 368.5,1832.7 373.2,1830.0 377.9,1826.4 382.4,1825.3 387.0,1823.1 391.4,1820.7 395.8,1817.7 400.1,1816.7 404.4,1815.5 408.6,1813.5 412.7,1812.3 416.8,1813.3 420.9,1814.3 424.9,1816.6 428.9,1820.6 432.8,1824.6 436.7,1829.4 440.5,1833.2 444.3,1838.7 448.1,1845.8 451.8,1850.5 455.5,1858.4 459.1,1862.5 462.7,1866.1 466.3,1871.7 469.8,1875.3 473.3,1879.8 476.8,1881.2 480.3,1883.8 483.7,1886.9 487.1,1889.0 489.3,1891.4" stroke-width="1.9" stroke-linejoin="round"/><path d="M78.8 1889.8V1898.4M75.7 1889.8h6.2M75.7 1898.4h6.2M141.3 1883.6V1891.9M138.2 1883.6h6.2M138.2 1891.9h6.2M160.4 1875.7V1884.4M157.3 1875.7h6.2M157.3 1884.4h6.2M175.9 1879.4V1888.2M172.8 1879.4h6.2M172.8 1888.2h6.2M189.2 1881.7V1891.9M186.1 1881.7h6.2M186.1 1891.9h6.2M201.0 1876.5V1887.3M197.9 1876.5h6.2M197.9 1887.3h6.2M211.8 1882.8V1893.0M208.7 1882.8h6.2M208.7 1893.0h6.2M221.8 1879.2V1892.0M218.7 1879.2h6.2M218.7 1892.0h6.2M231.2 1878.6V1890.8M228.1 1878.6h6.2M228.1 1890.8h6.2M240.0 1873.7V1890.4M236.9 1873.7h6.2M236.9 1890.4h6.2M248.3 1871.7V1889.7M245.2 1871.7h6.2M245.2 1889.7h6.2M256.3 1868.6V1888.7M253.2 1868.6h6.2M253.2 1888.7h6.2M263.9 1869.0V1888.6M260.8 1869.0h6.2M260.8 1888.6h6.2M271.2 1870.6V1887.6M268.1 1870.6h6.2M268.1 1887.6h6.2M278.2 1872.4V1890.3M275.1 1872.4h6.2M275.1 1890.3h6.2M285.0 1871.8V1891.5M281.9 1871.8h6.2M281.9 1891.5h6.2M291.6 1873.0V1889.3M288.5 1873.0h6.2M288.5 1889.3h6.2M298.0 1869.5V1888.6M294.9 1869.5h6.2M294.9 1888.6h6.2M304.2 1868.9V1886.5M301.1 1868.9h6.2M301.1 1886.5h6.2M310.3 1867.3V1884.8M307.2 1867.3h6.2M307.2 1884.8h6.2M316.1 1863.4V1880.8M313.0 1863.4h6.2M313.0 1880.8h6.2M321.9 1860.0V1881.9M318.8 1860.0h6.2M318.8 1881.9h6.2M327.5 1857.0V1875.2M324.4 1857.0h6.2M324.4 1875.2h6.2M333.0 1854.6V1873.8M329.9 1854.6h6.2M329.9 1873.8h6.2M338.4 1850.7V1871.0M335.3 1850.7h6.2M335.3 1871.0h6.2M343.6 1845.5V1869.0M340.5 1845.5h6.2M340.5 1869.0h6.2M348.8 1843.7V1862.4M345.7 1843.7h6.2M345.7 1862.4h6.2M353.8 1835.6V1856.9M350.7 1835.6h6.2M350.7 1856.9h6.2M358.8 1830.9V1853.0M355.7 1830.9h6.2M355.7 1853.0h6.2M363.7 1823.9V1848.4M360.6 1823.9h6.2M360.6 1848.4h6.2M368.5 1820.5V1844.9M365.4 1820.5h6.2M365.4 1844.9h6.2M373.2 1817.6V1842.5M370.1 1817.6h6.2M370.1 1842.5h6.2M377.9 1815.9V1837.0M374.8 1815.9h6.2M374.8 1837.0h6.2M382.4 1814.2V1836.4M379.3 1814.2h6.2M379.3 1836.4h6.2M387.0 1812.1V1834.1M383.9 1812.1h6.2M383.9 1834.1h6.2M391.4 1807.8V1833.6M388.3 1807.8h6.2M388.3 1833.6h6.2M395.8 1804.4V1830.9M392.7 1804.4h6.2M392.7 1830.9h6.2M400.1 1806.2V1827.3M397.0 1806.2h6.2M397.0 1827.3h6.2M404.4 1804.8V1826.2M401.3 1804.8h6.2M401.3 1826.2h6.2M408.6 1802.5V1824.4M405.5 1802.5h6.2M405.5 1824.4h6.2M412.7 1801.3V1823.4M409.6 1801.3h6.2M409.6 1823.4h6.2M416.8 1801.2V1825.3M413.7 1801.2h6.2M413.7 1825.3h6.2M420.9 1802.1V1826.5M417.8 1802.1h6.2M417.8 1826.5h6.2M424.9 1805.8V1827.3M421.8 1805.8h6.2M421.8 1827.3h6.2M428.9 1810.9V1830.2M425.8 1810.9h6.2M425.8 1830.2h6.2M432.8 1813.8V1835.3M429.7 1813.8h6.2M429.7 1835.3h6.2M436.7 1819.0V1839.7M433.6 1819.0h6.2M433.6 1839.7h6.2M440.5 1822.5V1843.9M437.4 1822.5h6.2M437.4 1843.9h6.2M444.3 1827.0V1850.3M441.2 1827.0h6.2M441.2 1850.3h6.2M448.1 1835.3V1856.4M445.0 1835.3h6.2M445.0 1856.4h6.2M451.8 1840.7V1860.3M448.7 1840.7h6.2M448.7 1860.3h6.2M455.5 1848.6V1868.2M452.4 1848.6h6.2M452.4 1868.2h6.2M459.1 1853.1V1871.9M456.0 1853.1h6.2M456.0 1871.9h6.2M462.7 1858.9V1873.3M459.6 1858.9h6.2M459.6 1873.3h6.2M466.3 1863.1V1880.4M463.2 1863.1h6.2M463.2 1880.4h6.2M469.8 1867.5V1883.0M466.7 1867.5h6.2M466.7 1883.0h6.2M473.3 1872.5V1887.1M470.2 1872.5h6.2M470.2 1887.1h6.2M476.8 1874.7V1887.8M473.7 1874.7h6.2M473.7 1887.8h6.2M480.3 1878.5V1889.0M477.2 1878.5h6.2M477.2 1889.0h6.2M483.7 1882.2V1891.6M480.6 1882.2h6.2M480.6 1891.6h6.2M487.1 1885.2V1892.8M484.0 1885.2h6.2M484.0 1892.8h6.2M489.3 1887.2V1895.6M486.2 1887.2h6.2M486.2 1895.6h6.2" stroke-width="1.5"/></g>
<g clip-path="url(#cpf0)" fill="none" stroke="#00ffff"><polyline points="78.8,1910.8 141.3,1906.8 160.4,1905.5 175.9,1905.6 189.2,1906.1 201.0,1907.6 211.8,1908.2 221.8,1907.9 231.2,1908.0 240.0,1907.5 248.3,1908.2 256.3,1905.5 263.9,1905.3 271.2,1905.5 278.2,1905.7 285.0,1906.5 291.6,1907.5 298.0,1909.0 304.2,1906.3 310.3,1903.9 316.1,1903.0 321.9,1900.8 327.5,1899.4 333.0,1897.1 338.4,1894.3 343.6,1892.0 348.8,1888.3 353.8,1887.4 358.8,1885.1 363.7,1880.4 368.5,1878.6 373.2,1876.9 377.9,1873.8 382.4,1873.0 387.0,1870.0 391.4,1867.2 395.8,1865.7 400.1,1864.2 404.4,1863.4 408.6,1861.4 412.7,1860.2 416.8,1858.4 420.9,1859.4 424.9,1859.4 428.9,1860.8 432.8,1861.5 436.7,1860.8 440.5,1862.5 444.3,1864.9 448.1,1867.1 451.8,1869.1 455.5,1871.3 459.1,1875.1 462.7,1877.4 466.3,1880.6 469.8,1884.1 473.3,1886.8 476.8,1888.4 480.3,1890.5 483.7,1891.7 487.1,1893.1 489.3,1895.2" stroke-width="1.9" stroke-linejoin="round"/><path d="M78.8 1907.4V1914.2M75.7 1907.4h6.2M75.7 1914.2h6.2M141.3 1902.4V1911.1M138.2 1902.4h6.2M138.2 1911.1h6.2M160.4 1901.1V1910.0M157.3 1901.1h6.2M157.3 1910.0h6.2M175.9 1902.1V1909.1M172.8 1902.1h6.2M172.8 1909.1h6.2M189.2 1902.8V1909.5M186.1 1902.8h6.2M186.1 1909.5h6.2M201.0 1904.1V1911.1M197.9 1904.1h6.2M197.9 1911.1h6.2M211.8 1904.7V1911.8M208.7 1904.7h6.2M208.7 1911.8h6.2M221.8 1904.3V1911.5M218.7 1904.3h6.2M218.7 1911.5h6.2M231.2 1903.4V1912.7M228.1 1903.4h6.2M228.1 1912.7h6.2M240.0 1902.0V1912.9M236.9 1902.0h6.2M236.9 1912.9h6.2M248.3 1902.8V1913.5M245.2 1902.8h6.2M245.2 1913.5h6.2M256.3 1900.9V1910.1M253.2 1900.9h6.2M253.2 1910.1h6.2M263.9 1900.2V1910.4M260.8 1900.2h6.2M260.8 1910.4h6.2M271.2 1900.0V1911.1M268.1 1900.0h6.2M268.1 1911.1h6.2M278.2 1901.9V1909.5M275.1 1901.9h6.2M275.1 1909.5h6.2M285.0 1901.2V1911.9M281.9 1901.2h6.2M281.9 1911.9h6.2M291.6 1901.4V1913.6M288.5 1901.4h6.2M288.5 1913.6h6.2M298.0 1903.2V1914.9M294.9 1903.2h6.2M294.9 1914.9h6.2M304.2 1900.5V1912.1M301.1 1900.5h6.2M301.1 1912.1h6.2M310.3 1898.8V1909.1M307.2 1898.8h6.2M307.2 1909.1h6.2M316.1 1898.6V1907.4M313.0 1898.6h6.2M313.0 1907.4h6.2M321.9 1894.7V1907.0M318.8 1894.7h6.2M318.8 1907.0h6.2M327.5 1894.4V1904.3M324.4 1894.4h6.2M324.4 1904.3h6.2M333.0 1890.7V1903.4M329.9 1890.7h6.2M329.9 1903.4h6.2M338.4 1887.4V1901.2M335.3 1887.4h6.2M335.3 1901.2h6.2M343.6 1886.8V1897.2M340.5 1886.8h6.2M340.5 1897.2h6.2M348.8 1883.1V1893.6M345.7 1883.1h6.2M345.7 1893.6h6.2M353.8 1880.5V1894.2M350.7 1880.5h6.2M350.7 1894.2h6.2M358.8 1878.9V1891.3M355.7 1878.9h6.2M355.7 1891.3h6.2M363.7 1875.8V1884.9M360.6 1875.8h6.2M360.6 1884.9h6.2M368.5 1874.2V1883.1M365.4 1874.2h6.2M365.4 1883.1h6.2M373.2 1872.4V1881.4M370.1 1872.4h6.2M370.1 1881.4h6.2M377.9 1867.1V1880.5M374.8 1867.1h6.2M374.8 1880.5h6.2M382.4 1866.6V1879.4M379.3 1866.6h6.2M379.3 1879.4h6.2M387.0 1865.6V1874.5M383.9 1865.6h6.2M383.9 1874.5h6.2M391.4 1860.8V1873.7M388.3 1860.8h6.2M388.3 1873.7h6.2M395.8 1858.8V1872.6M392.7 1858.8h6.2M392.7 1872.6h6.2M400.1 1858.3V1870.2M397.0 1858.3h6.2M397.0 1870.2h6.2M404.4 1858.3V1868.5M401.3 1858.3h6.2M401.3 1868.5h6.2M408.6 1855.8V1867.1M405.5 1855.8h6.2M405.5 1867.1h6.2M412.7 1855.7V1864.6M409.6 1855.7h6.2M409.6 1864.6h6.2M416.8 1854.3V1862.5M413.7 1854.3h6.2M413.7 1862.5h6.2M420.9 1852.5V1866.3M417.8 1852.5h6.2M417.8 1866.3h6.2M424.9 1853.4V1865.3M421.8 1853.4h6.2M421.8 1865.3h6.2M428.9 1855.2V1866.4M425.8 1855.2h6.2M425.8 1866.4h6.2M432.8 1854.8V1868.3M429.7 1854.8h6.2M429.7 1868.3h6.2M436.7 1855.4V1866.1M433.6 1855.4h6.2M433.6 1866.1h6.2M440.5 1855.9V1869.1M437.4 1855.9h6.2M437.4 1869.1h6.2M444.3 1858.4V1871.4M441.2 1858.4h6.2M441.2 1871.4h6.2M448.1 1862.4V1871.8M445.0 1862.4h6.2M445.0 1871.8h6.2M451.8 1864.6V1873.6M448.7 1864.6h6.2M448.7 1873.6h6.2M455.5 1867.1V1875.5M452.4 1867.1h6.2M452.4 1875.5h6.2M459.1 1871.5V1878.7M456.0 1871.5h6.2M456.0 1878.7h6.2M462.7 1873.5V1881.2M459.6 1873.5h6.2M459.6 1881.2h6.2M466.3 1877.8V1883.3M463.2 1877.8h6.2M463.2 1883.3h6.2M469.8 1881.6V1886.6M466.7 1881.6h6.2M466.7 1886.6h6.2M473.3 1885.1V1888.6M470.2 1885.1h6.2M470.2 1888.6h6.2M476.8 1886.0V1890.7M473.7 1886.0h6.2M473.7 1890.7h6.2M480.3 1888.7V1892.3M477.2 1888.7h6.2M477.2 1892.3h6.2M483.7 1889.8V1893.5M480.6 1889.8h6.2M480.6 1893.5h6.2M487.1 1891.1V1895.2M484.0 1891.1h6.2M484.0 1895.2h6.2M489.3 1892.8V1897.5M486.2 1892.8h6.2M486.2 1897.5h6.2" stroke-width="1.5"/></g>
<g clip-path="url(#cpf0)" fill="none" stroke="#000000"><polyline points="78.8,1923.5 141.3,1919.7 160.4,1908.7 175.9,1907.1 189.2,1915.0 201.0,1908.3 211.8,1908.8 221.8,1913.2 231.2,1913.6 240.0,1911.9 248.3,1913.3 256.3,1914.3 263.9,1915.4 271.2,1917.2 278.2,1917.9 285.0,1916.7 291.6,1917.9 298.0,1919.4 304.2,1921.0 310.3,1919.4 316.1,1919.5 321.9,1918.8 327.5,1916.9 333.0,1916.0 338.4,1914.4 343.6,1912.5 348.8,1909.0 353.8,1905.8 358.8,1901.5 363.7,1900.9 368.5,1900.0 373.2,1898.8 377.9,1899.8 382.4,1900.3 387.0,1901.2 391.4,1900.9 395.8,1903.0 400.1,1904.1 404.4,1905.4 408.6,1908.5 412.7,1909.5 416.8,1910.4 420.9,1912.8 424.9,1917.5 428.9,1920.7 432.8,1923.1 436.7,1927.0 440.5,1929.8 444.3,1933.3 448.1,1935.1 451.8,1938.0 455.5,1940.8 459.1,1945.0 462.7,1946.2 466.3,1948.8 469.8,1952.4 473.3,1952.7 476.8,1953.9 480.3,1956.9 483.7,1956.7 487.1,1959.3 489.3,1959.7" stroke-width="1.9" stroke-linejoin="round"/><path d="M78.8 1914.2V1932.7M75.7 1914.2h6.2M75.7 1932.7h6.2M141.3 1910.8V1928.6M138.2 1910.8h6.2M138.2 1928.6h6.2M160.4 1899.6V1917.9M157.3 1899.6h6.2M157.3 1917.9h6.2M175.9 1897.1V1917.2M172.8 1897.1h6.2M172.8 1917.2h6.2M189.2 1904.6V1925.4M186.1 1904.6h6.2M186.1 1925.4h6.2M201.0 1898.4V1918.2M197.9 1898.4h6.2M197.9 1918.2h6.2M211.8 1899.3V1918.3M208.7 1899.3h6.2M208.7 1918.3h6.2M221.8 1903.3V1923.1M218.7 1903.3h6.2M218.7 1923.1h6.2M231.2 1902.4V1924.8M228.1 1902.4h6.2M228.1 1924.8h6.2M240.0 1902.9V1920.9M236.9 1902.9h6.2M236.9 1920.9h6.2M248.3 1902.6V1924.1M245.2 1902.6h6.2M245.2 1924.1h6.2M256.3 1903.9V1924.8M253.2 1903.9h6.2M253.2 1924.8h6.2M263.9 1906.2V1924.5M260.8 1906.2h6.2M260.8 1924.5h6.2M271.2 1907.1V1927.4M268.1 1907.1h6.2M268.1 1927.4h6.2M278.2 1906.7V1929.0M275.1 1906.7h6.2M275.1 1929.0h6.2M285.0 1906.0V1927.5M281.9 1906.0h6.2M281.9 1927.5h6.2M291.6 1908.5V1927.3M288.5 1908.5h6.2M288.5 1927.3h6.2M298.0 1907.0V1931.8M294.9 1907.0h6.2M294.9 1931.8h6.2M304.2 1909.3V1932.8M301.1 1909.3h6.2M301.1 1932.8h6.2M310.3 1907.0V1931.8M307.2 1907.0h6.2M307.2 1931.8h6.2M316.1 1909.9V1929.1M313.0 1909.9h6.2M313.0 1929.1h6.2M321.9 1908.7V1929.0M318.8 1908.7h6.2M318.8 1929.0h6.2M327.5 1907.5V1926.4M324.4 1907.5h6.2M324.4 1926.4h6.2M333.0 1904.1V1927.9M329.9 1904.1h6.2M329.9 1927.9h6.2M338.4 1904.2V1924.6M335.3 1904.2h6.2M335.3 1924.6h6.2M343.6 1902.7V1922.3M340.5 1902.7h6.2M340.5 1922.3h6.2M348.8 1898.2V1919.7M345.7 1898.2h6.2M345.7 1919.7h6.2M353.8 1893.4V1918.2M350.7 1893.4h6.2M350.7 1918.2h6.2M358.8 1889.4V1913.6M355.7 1889.4h6.2M355.7 1913.6h6.2M363.7 1890.6V1911.2M360.6 1890.6h6.2M360.6 1911.2h6.2M368.5 1890.1V1910.0M365.4 1890.1h6.2M365.4 1910.0h6.2M373.2 1886.3V1911.4M370.1 1886.3h6.2M370.1 1911.4h6.2M377.9 1888.4V1911.2M374.8 1888.4h6.2M374.8 1911.2h6.2M382.4 1888.5V1912.2M379.3 1888.5h6.2M379.3 1912.2h6.2M387.0 1891.4V1911.0M383.9 1891.4h6.2M383.9 1911.0h6.2M391.4 1891.2V1910.7M388.3 1891.2h6.2M388.3 1910.7h6.2M395.8 1891.1V1914.8M392.7 1891.1h6.2M392.7 1914.8h6.2M400.1 1893.1V1915.1M397.0 1893.1h6.2M397.0 1915.1h6.2M404.4 1895.6V1915.2M401.3 1895.6h6.2M401.3 1915.2h6.2M408.6 1895.7V1921.2M405.5 1895.7h6.2M405.5 1921.2h6.2M412.7 1897.8V1921.3M409.6 1897.8h6.2M409.6 1921.3h6.2M416.8 1898.1V1922.7M413.7 1898.1h6.2M413.7 1922.7h6.2M420.9 1903.3V1922.3M417.8 1903.3h6.2M417.8 1922.3h6.2M424.9 1906.0V1929.0M421.8 1906.0h6.2M421.8 1929.0h6.2M428.9 1912.0V1929.3M425.8 1912.0h6.2M425.8 1929.3h6.2M432.8 1912.6V1933.6M429.7 1912.6h6.2M429.7 1933.6h6.2M436.7 1918.1V1935.9M433.6 1918.1h6.2M433.6 1935.9h6.2M440.5 1921.7V1937.9M437.4 1921.7h6.2M437.4 1937.9h6.2M444.3 1925.1V1941.5M441.2 1925.1h6.2M441.2 1941.5h6.2M448.1 1926.5V1943.8M445.0 1926.5h6.2M445.0 1943.8h6.2M451.8 1931.2V1944.7M448.7 1931.2h6.2M448.7 1944.7h6.2M455.5 1934.7V1946.8M452.4 1934.7h6.2M452.4 1946.8h6.2M459.1 1938.5V1951.4M456.0 1938.5h6.2M456.0 1951.4h6.2M462.7 1940.8V1951.7M459.6 1940.8h6.2M459.6 1951.7h6.2M466.3 1944.0V1953.7M463.2 1944.0h6.2M463.2 1953.7h6.2M469.8 1947.9V1956.9M466.7 1947.9h6.2M466.7 1956.9h6.2M473.3 1948.8V1956.7M470.2 1948.8h6.2M470.2 1956.7h6.2M476.8 1950.2V1957.7M473.7 1950.2h6.2M473.7 1957.7h6.2M480.3 1953.4V1960.4M477.2 1953.4h6.2M477.2 1960.4h6.2M483.7 1953.6V1959.8M480.6 1953.6h6.2M480.6 1959.8h6.2M487.1 1956.1V1962.4M484.0 1956.1h6.2M484.0 1962.4h6.2M489.3 1957.2V1962.2M486.2 1957.2h6.2M486.2 1962.2h6.2" stroke-width="1.5"/></g>
<rect x="78.80" y="1702.60" width="410.50" height="323.00" fill="none" stroke="#262626" stroke-width="2.4"/>
<path d="M208.91 2025.60v-5M208.91 1702.60v5M339.02 2025.60v-5M339.02 1702.60v5M469.13 2025.60v-5M469.13 1702.60v5M78.80 1971.77h5M489.30 1971.77h-5M78.80 1917.93h5M489.30 1917.93h-5M78.80 1864.10h5M489.30 1864.10h-5M78.80 1810.27h5M489.30 1810.27h-5M78.80 1756.43h5M489.30 1756.43h-5" stroke="#262626" stroke-width="1.80" fill="none"/>
<text x="78.8" y="2053.3" font-size="21.6" fill="#222" text-anchor="middle" >0</text>
<text x="208.9" y="2053.3" font-size="21.6" fill="#222" text-anchor="middle" >100</text>
<text x="339.0" y="2053.3" font-size="21.6" fill="#222" text-anchor="middle" >200</text>
<text x="469.1" y="2053.3" font-size="21.6" fill="#222" text-anchor="middle" >300</text>
<text x="71.2" y="2033.4" font-size="21.6" fill="#222" text-anchor="end" >0</text>
<text x="71.2" y="1979.6" font-size="21.6" fill="#222" text-anchor="end" >0.2</text>
<text x="71.2" y="1925.7" font-size="21.6" fill="#222" text-anchor="end" >0.4</text>
<text x="71.2" y="1871.9" font-size="21.6" fill="#222" text-anchor="end" >0.6</text>
<text x="71.2" y="1818.1" font-size="21.6" fill="#222" text-anchor="end" >0.8</text>
<text x="71.2" y="1764.2" font-size="21.6" fill="#222" text-anchor="end" >1</text>
<text x="71.2" y="1710.4" font-size="21.6" fill="#222" text-anchor="end" >1.2</text>
<text x="364.3" y="1733.0" font-size="21.6" fill="#111" textLength="90.5" lengthAdjust="spacingAndGlyphs" >BMP-24h</text>
<text x="160.4" y="2088.7" font-size="23.3" fill="#111" textLength="270.5" lengthAdjust="spacingAndGlyphs">Distance from center (<tspan font-style="italic">µ</tspan>m)</text>
<clipPath id="cpf1"><rect x="571.3" y="1702.6" width="412.20000000000005" height="323.0"/></clipPath>
<g clip-path="url(#cpf1)" fill="none" stroke="#ff00ff"><polyline points="572.3,1896.4 634.7,1889.0 653.8,1891.3 669.3,1893.4 682.6,1890.3 694.4,1888.0 705.2,1889.2 715.2,1890.9 724.6,1890.3 733.4,1885.1 741.7,1884.4 749.6,1888.7 757.2,1888.1 764.5,1886.6 771.6,1884.8 778.4,1882.6 785.0,1881.3 791.3,1878.4 797.5,1874.5 803.6,1870.2 809.5,1866.6 815.2,1859.6 820.8,1853.7 826.3,1846.7 831.7,1840.1 836.9,1833.0 842.1,1826.4 847.1,1818.4 852.1,1811.0 857.0,1805.5 861.8,1802.6 866.5,1799.2 871.1,1796.7 875.7,1792.0 880.2,1788.4 884.7,1785.3 889.1,1781.6 893.4,1777.2 897.6,1775.3 901.8,1774.3 906.0,1777.5 910.1,1782.4 914.2,1787.2 918.2,1787.7 922.1,1789.8 926.0,1796.2 929.9,1803.9 933.7,1809.3 937.5,1817.4 941.3,1824.0 945.0,1833.1 948.7,1841.8 952.3,1851.0 955.9,1860.5 959.5,1870.6 963.0,1878.6 966.6,1885.2 970.0,1890.0 973.5,1895.7 976.9,1900.1 980.3,1905.9 982.5,1908.2" stroke-width="1.9" stroke-linejoin="round"/><path d="M572.3 1893.0V1899.8M569.2 1893.0h6.2M569.2 1899.8h6.2M634.7 1884.9V1893.1M631.6 1884.9h6.2M631.6 1893.1h6.2M653.8 1886.0V1896.6M650.7 1886.0h6.2M650.7 1896.6h6.2M669.3 1888.0V1898.7M666.2 1888.0h6.2M666.2 1898.7h6.2M682.6 1884.1V1896.4M679.5 1884.1h6.2M679.5 1896.4h6.2M694.4 1881.9V1894.1M691.3 1881.9h6.2M691.3 1894.1h6.2M705.2 1882.8V1895.7M702.1 1882.8h6.2M702.1 1895.7h6.2M715.2 1883.8V1898.0M712.1 1883.8h6.2M712.1 1898.0h6.2M724.6 1884.5V1896.0M721.5 1884.5h6.2M721.5 1896.0h6.2M733.4 1879.5V1890.7M730.3 1879.5h6.2M730.3 1890.7h6.2M741.7 1876.4V1892.3M738.6 1876.4h6.2M738.6 1892.3h6.2M749.6 1883.4V1894.0M746.5 1883.4h6.2M746.5 1894.0h6.2M757.2 1880.7V1895.4M754.1 1880.7h6.2M754.1 1895.4h6.2M764.5 1879.5V1893.8M761.4 1879.5h6.2M761.4 1893.8h6.2M771.6 1879.6V1889.9M768.5 1879.6h6.2M768.5 1889.9h6.2M778.4 1874.5V1890.7M775.3 1874.5h6.2M775.3 1890.7h6.2M785.0 1872.8V1889.7M781.9 1872.8h6.2M781.9 1889.7h6.2M791.3 1870.8V1885.9M788.2 1870.8h6.2M788.2 1885.9h6.2M797.5 1866.5V1882.6M794.4 1866.5h6.2M794.4 1882.6h6.2M803.6 1861.7V1878.6M800.5 1861.7h6.2M800.5 1878.6h6.2M809.5 1860.6V1872.5M806.4 1860.6h6.2M806.4 1872.5h6.2M815.2 1852.1V1867.1M812.1 1852.1h6.2M812.1 1867.1h6.2M820.8 1846.1V1861.2M817.7 1846.1h6.2M817.7 1861.2h6.2M826.3 1837.8V1855.6M823.2 1837.8h6.2M823.2 1855.6h6.2M831.7 1831.2V1849.0M828.6 1831.2h6.2M828.6 1849.0h6.2M836.9 1824.0V1842.0M833.8 1824.0h6.2M833.8 1842.0h6.2M842.1 1818.4V1834.4M839.0 1818.4h6.2M839.0 1834.4h6.2M847.1 1809.1V1827.6M844.0 1809.1h6.2M844.0 1827.6h6.2M852.1 1802.6V1819.4M849.0 1802.6h6.2M849.0 1819.4h6.2M857.0 1797.0V1813.9M853.9 1797.0h6.2M853.9 1813.9h6.2M861.8 1796.0V1809.1M858.7 1796.0h6.2M858.7 1809.1h6.2M866.5 1793.5V1805.0M863.4 1793.5h6.2M863.4 1805.0h6.2M871.1 1790.5V1802.8M868.0 1790.5h6.2M868.0 1802.8h6.2M875.7 1784.9V1799.1M872.6 1784.9h6.2M872.6 1799.1h6.2M880.2 1782.4V1794.5M877.1 1782.4h6.2M877.1 1794.5h6.2M884.7 1776.3V1794.4M881.6 1776.3h6.2M881.6 1794.4h6.2M889.1 1773.7V1789.5M886.0 1773.7h6.2M886.0 1789.5h6.2M893.4 1769.1V1785.4M890.3 1769.1h6.2M890.3 1785.4h6.2M897.6 1767.1V1783.5M894.5 1767.1h6.2M894.5 1783.5h6.2M901.8 1765.9V1782.7M898.7 1765.9h6.2M898.7 1782.7h6.2M906.0 1769.9V1785.2M902.9 1769.9h6.2M902.9 1785.2h6.2M910.1 1776.7V1788.0M907.0 1776.7h6.2M907.0 1788.0h6.2M914.2 1778.3V1796.1M911.1 1778.3h6.2M911.1 1796.1h6.2M918.2 1779.1V1796.4M915.1 1779.1h6.2M915.1 1796.4h6.2M922.1 1782.1V1797.5M919.0 1782.1h6.2M919.0 1797.5h6.2M926.0 1788.4V1804.0M922.9 1788.4h6.2M922.9 1804.0h6.2M929.9 1795.6V1812.2M926.8 1795.6h6.2M926.8 1812.2h6.2M933.7 1803.3V1815.2M930.6 1803.3h6.2M930.6 1815.2h6.2M937.5 1808.8V1826.0M934.4 1808.8h6.2M934.4 1826.0h6.2M941.3 1817.3V1830.6M938.2 1817.3h6.2M938.2 1830.6h6.2M945.0 1827.5V1838.7M941.9 1827.5h6.2M941.9 1838.7h6.2M948.7 1836.1V1847.5M945.6 1836.1h6.2M945.6 1847.5h6.2M952.3 1844.5V1857.5M949.2 1844.5h6.2M949.2 1857.5h6.2M955.9 1856.2V1864.8M952.8 1856.2h6.2M952.8 1864.8h6.2M959.5 1865.7V1875.6M956.4 1865.7h6.2M956.4 1875.6h6.2M963.0 1874.0V1883.3M959.9 1874.0h6.2M959.9 1883.3h6.2M966.6 1882.2V1888.2M963.5 1882.2h6.2M963.5 1888.2h6.2M970.0 1887.5V1892.5M966.9 1887.5h6.2M966.9 1892.5h6.2M973.5 1893.0V1898.3M970.4 1893.0h6.2M970.4 1898.3h6.2M976.9 1897.1V1903.0M973.8 1897.1h6.2M973.8 1903.0h6.2M980.3 1902.8V1908.9M977.2 1902.8h6.2M977.2 1908.9h6.2M982.5 1905.3V1911.0M979.4 1905.3h6.2M979.4 1911.0h6.2" stroke-width="1.5"/></g>
<g clip-path="url(#cpf1)" fill="none" stroke="#00ffff"><polyline points="572.3,1898.8 634.7,1900.0 653.8,1901.2 669.3,1900.5 682.6,1899.1 694.4,1899.7 705.2,1898.7 715.2,1899.3 724.6,1898.5 733.4,1897.4 741.7,1896.0 749.6,1894.8 757.2,1893.8 764.5,1893.1 771.6,1890.7 778.4,1888.9 785.0,1886.0 791.3,1883.4 797.5,1878.1 803.6,1874.8 809.5,1868.4 815.2,1864.3 820.8,1862.7 826.3,1858.3 831.7,1853.7 836.9,1848.8 842.1,1845.5 847.1,1842.1 852.1,1839.5 857.0,1835.2 861.8,1834.1 866.5,1830.7 871.1,1829.1 875.7,1825.7 880.2,1822.3 884.7,1821.7 889.1,1817.9 893.4,1816.3 897.6,1813.3 901.8,1811.9 906.0,1811.6 910.1,1808.9 914.2,1808.5 918.2,1808.9 922.1,1809.7 926.0,1809.5 929.9,1810.4 933.7,1813.2 937.5,1815.9 941.3,1817.9 945.0,1820.3 948.7,1822.7 952.3,1829.0 955.9,1831.9 959.5,1836.2 963.0,1844.1 966.6,1848.8 970.0,1855.7 973.5,1861.5 976.9,1869.1 980.3,1875.0 982.5,1877.8" stroke-width="1.9" stroke-linejoin="round"/><path d="M572.3 1895.3V1902.3M569.2 1895.3h6.2M569.2 1902.3h6.2M634.7 1896.4V1903.6M631.6 1896.4h6.2M631.6 1903.6h6.2M653.8 1897.8V1904.5M650.7 1897.8h6.2M650.7 1904.5h6.2M669.3 1896.9V1904.2M666.2 1896.9h6.2M666.2 1904.2h6.2M682.6 1895.7V1902.6M679.5 1895.7h6.2M679.5 1902.6h6.2M694.4 1896.6V1902.8M691.3 1896.6h6.2M691.3 1902.8h6.2M705.2 1895.4V1902.0M702.1 1895.4h6.2M702.1 1902.0h6.2M715.2 1894.2V1904.3M712.1 1894.2h6.2M712.1 1904.3h6.2M724.6 1894.6V1902.4M721.5 1894.6h6.2M721.5 1902.4h6.2M733.4 1892.0V1902.9M730.3 1892.0h6.2M730.3 1902.9h6.2M741.7 1892.0V1899.9M738.6 1892.0h6.2M738.6 1899.9h6.2M749.6 1890.8V1898.9M746.5 1890.8h6.2M746.5 1898.9h6.2M757.2 1889.1V1898.6M754.1 1889.1h6.2M754.1 1898.6h6.2M764.5 1889.1V1897.1M761.4 1889.1h6.2M761.4 1897.1h6.2M771.6 1886.1V1895.3M768.5 1886.1h6.2M768.5 1895.3h6.2M778.4 1882.8V1895.1M775.3 1882.8h6.2M775.3 1895.1h6.2M785.0 1880.0V1892.0M781.9 1880.0h6.2M781.9 1892.0h6.2M791.3 1877.5V1889.4M788.2 1877.5h6.2M788.2 1889.4h6.2M797.5 1872.6V1883.6M794.4 1872.6h6.2M794.4 1883.6h6.2M803.6 1868.4V1881.2M800.5 1868.4h6.2M800.5 1881.2h6.2M809.5 1861.9V1874.9M806.4 1861.9h6.2M806.4 1874.9h6.2M815.2 1858.9V1869.8M812.1 1858.9h6.2M812.1 1869.8h6.2M820.8 1856.7V1868.8M817.7 1856.7h6.2M817.7 1868.8h6.2M826.3 1854.1V1862.5M823.2 1854.1h6.2M823.2 1862.5h6.2M831.7 1847.5V1859.9M828.6 1847.5h6.2M828.6 1859.9h6.2M836.9 1843.4V1854.2M833.8 1843.4h6.2M833.8 1854.2h6.2M842.1 1839.2V1851.7M839.0 1839.2h6.2M839.0 1851.7h6.2M847.1 1836.1V1848.0M844.0 1836.1h6.2M844.0 1848.0h6.2M852.1 1834.6V1844.4M849.0 1834.6h6.2M849.0 1844.4h6.2M857.0 1831.0V1839.4M853.9 1831.0h6.2M853.9 1839.4h6.2M861.8 1827.3V1840.9M858.7 1827.3h6.2M858.7 1840.9h6.2M866.5 1826.3V1835.1M863.4 1826.3h6.2M863.4 1835.1h6.2M871.1 1823.6V1834.5M868.0 1823.6h6.2M868.0 1834.5h6.2M875.7 1820.7V1830.8M872.6 1820.7h6.2M872.6 1830.8h6.2M880.2 1817.4V1827.3M877.1 1817.4h6.2M877.1 1827.3h6.2M884.7 1815.4V1827.9M881.6 1815.4h6.2M881.6 1827.9h6.2M889.1 1811.0V1824.8M886.0 1811.0h6.2M886.0 1824.8h6.2M893.4 1811.5V1821.2M890.3 1811.5h6.2M890.3 1821.2h6.2M897.6 1807.3V1819.3M894.5 1807.3h6.2M894.5 1819.3h6.2M901.8 1807.0V1816.9M898.7 1807.0h6.2M898.7 1816.9h6.2M906.0 1805.9V1817.3M902.9 1805.9h6.2M902.9 1817.3h6.2M910.1 1803.6V1814.1M907.0 1803.6h6.2M907.0 1814.1h6.2M914.2 1803.9V1813.0M911.1 1803.9h6.2M911.1 1813.0h6.2M918.2 1804.3V1813.4M915.1 1804.3h6.2M915.1 1813.4h6.2M922.1 1805.1V1814.4M919.0 1805.1h6.2M919.0 1814.4h6.2M926.0 1802.8V1816.2M922.9 1802.8h6.2M922.9 1816.2h6.2M929.9 1804.9V1815.9M926.8 1804.9h6.2M926.8 1815.9h6.2M933.7 1808.5V1817.9M930.6 1808.5h6.2M930.6 1817.9h6.2M937.5 1809.2V1822.6M934.4 1809.2h6.2M934.4 1822.6h6.2M941.3 1810.9V1824.9M938.2 1810.9h6.2M938.2 1824.9h6.2M945.0 1815.2V1825.4M941.9 1815.2h6.2M941.9 1825.4h6.2M948.7 1818.9V1826.5M945.6 1818.9h6.2M945.6 1826.5h6.2M952.3 1825.5V1832.5M949.2 1825.5h6.2M949.2 1832.5h6.2M955.9 1829.0V1834.8M952.8 1829.0h6.2M952.8 1834.8h6.2M959.5 1833.3V1839.1M956.4 1833.3h6.2M956.4 1839.1h6.2M963.0 1842.0V1846.2M959.9 1842.0h6.2M959.9 1846.2h6.2M966.6 1846.9V1850.7M963.5 1846.9h6.2M963.5 1850.7h6.2M970.0 1854.0V1857.3M966.9 1854.0h6.2M966.9 1857.3h6.2M973.5 1859.5V1863.5M970.4 1859.5h6.2M970.4 1863.5h6.2M976.9 1866.7V1871.4M973.8 1866.7h6.2M973.8 1871.4h6.2M980.3 1872.8V1877.2M977.2 1872.8h6.2M977.2 1877.2h6.2M982.5 1875.9V1879.6M979.4 1875.9h6.2M979.4 1879.6h6.2" stroke-width="1.5"/></g>
<g clip-path="url(#cpf1)" fill="none" stroke="#000000"><polyline points="572.3,1896.6 634.7,1893.7 653.8,1896.6 669.3,1899.3 682.6,1899.5 694.4,1898.6 705.2,1897.5 715.2,1902.1 724.6,1903.3 733.4,1903.6 741.7,1903.8 749.6,1906.8 757.2,1907.9 764.5,1908.6 771.6,1908.5 778.4,1907.3 785.0,1905.1 791.3,1904.0 797.5,1902.5 803.6,1902.8 809.5,1898.8 815.2,1893.4 820.8,1888.9 826.3,1885.1 831.7,1880.2 836.9,1876.8 842.1,1871.1 847.1,1865.2 852.1,1862.4 857.0,1860.7 861.8,1858.8 866.5,1859.1 871.1,1859.1 875.7,1858.7 880.2,1857.6 884.7,1857.0 889.1,1856.8 893.4,1857.7 897.6,1858.2 901.8,1859.3 906.0,1862.6 910.1,1864.9 914.2,1869.0 918.2,1871.6 922.1,1876.9 926.0,1879.5 929.9,1885.7 933.7,1892.0 937.5,1897.9 941.3,1903.0 945.0,1907.6 948.7,1912.8 952.3,1919.2 955.9,1923.8 959.5,1927.3 963.0,1931.5 966.6,1936.0 970.0,1939.9 973.5,1942.7 976.9,1947.2 980.3,1949.4 982.5,1950.3" stroke-width="1.9" stroke-linejoin="round"/><path d="M572.3 1893.9V1899.3M569.2 1893.9h6.2M569.2 1899.3h6.2M634.7 1890.8V1896.5M631.6 1890.8h6.2M631.6 1896.5h6.2M653.8 1893.2V1900.0M650.7 1893.2h6.2M650.7 1900.0h6.2M669.3 1896.4V1902.3M666.2 1896.4h6.2M666.2 1902.3h6.2M682.6 1896.9V1902.1M679.5 1896.9h6.2M679.5 1902.1h6.2M694.4 1895.8V1901.3M691.3 1895.8h6.2M691.3 1901.3h6.2M705.2 1893.5V1901.6M702.1 1893.5h6.2M702.1 1901.6h6.2M715.2 1898.4V1905.8M712.1 1898.4h6.2M712.1 1905.8h6.2M724.6 1900.3V1906.4M721.5 1900.3h6.2M721.5 1906.4h6.2M733.4 1901.0V1906.2M730.3 1901.0h6.2M730.3 1906.2h6.2M741.7 1900.2V1907.3M738.6 1900.2h6.2M738.6 1907.3h6.2M749.6 1902.9V1910.8M746.5 1902.9h6.2M746.5 1910.8h6.2M757.2 1904.4V1911.4M754.1 1904.4h6.2M754.1 1911.4h6.2M764.5 1905.3V1911.8M761.4 1905.3h6.2M761.4 1911.8h6.2M771.6 1904.3V1912.6M768.5 1904.3h6.2M768.5 1912.6h6.2M778.4 1902.6V1912.0M775.3 1902.6h6.2M775.3 1912.0h6.2M785.0 1901.8V1908.5M781.9 1901.8h6.2M781.9 1908.5h6.2M791.3 1901.0V1907.0M788.2 1901.0h6.2M788.2 1907.0h6.2M797.5 1898.8V1906.1M794.4 1898.8h6.2M794.4 1906.1h6.2M803.6 1899.0V1906.7M800.5 1899.0h6.2M800.5 1906.7h6.2M809.5 1894.3V1903.3M806.4 1894.3h6.2M806.4 1903.3h6.2M815.2 1889.9V1896.9M812.1 1889.9h6.2M812.1 1896.9h6.2M820.8 1884.0V1893.7M817.7 1884.0h6.2M817.7 1893.7h6.2M826.3 1880.3V1889.8M823.2 1880.3h6.2M823.2 1889.8h6.2M831.7 1875.9V1884.5M828.6 1875.9h6.2M828.6 1884.5h6.2M836.9 1873.1V1880.4M833.8 1873.1h6.2M833.8 1880.4h6.2M842.1 1865.7V1876.4M839.0 1865.7h6.2M839.0 1876.4h6.2M847.1 1861.3V1869.0M844.0 1861.3h6.2M844.0 1869.0h6.2M852.1 1857.4V1867.4M849.0 1857.4h6.2M849.0 1867.4h6.2M857.0 1857.0V1864.3M853.9 1857.0h6.2M853.9 1864.3h6.2M861.8 1855.1V1862.4M858.7 1855.1h6.2M858.7 1862.4h6.2M866.5 1854.3V1864.0M863.4 1854.3h6.2M863.4 1864.0h6.2M871.1 1855.3V1863.0M868.0 1855.3h6.2M868.0 1863.0h6.2M875.7 1853.4V1864.0M872.6 1853.4h6.2M872.6 1864.0h6.2M880.2 1853.3V1861.9M877.1 1853.3h6.2M877.1 1861.9h6.2M884.7 1853.4V1860.6M881.6 1853.4h6.2M881.6 1860.6h6.2M889.1 1853.2V1860.5M886.0 1853.2h6.2M886.0 1860.5h6.2M893.4 1853.6V1861.8M890.3 1853.6h6.2M890.3 1861.8h6.2M897.6 1853.5V1862.9M894.5 1853.5h6.2M894.5 1862.9h6.2M901.8 1854.0V1864.6M898.7 1854.0h6.2M898.7 1864.6h6.2M906.0 1859.1V1866.1M902.9 1859.1h6.2M902.9 1866.1h6.2M910.1 1860.9V1869.0M907.0 1860.9h6.2M907.0 1869.0h6.2M914.2 1865.4V1872.7M911.1 1865.4h6.2M911.1 1872.7h6.2M918.2 1866.2V1877.0M915.1 1866.2h6.2M915.1 1877.0h6.2M922.1 1873.4V1880.4M919.0 1873.4h6.2M919.0 1880.4h6.2M926.0 1876.2V1882.8M922.9 1876.2h6.2M922.9 1882.8h6.2M929.9 1882.4V1889.0M926.8 1882.4h6.2M926.8 1889.0h6.2M933.7 1887.9V1896.0M930.6 1887.9h6.2M930.6 1896.0h6.2M937.5 1892.7V1903.0M934.4 1892.7h6.2M934.4 1903.0h6.2M941.3 1897.9V1908.2M938.2 1897.9h6.2M938.2 1908.2h6.2M945.0 1903.0V1912.1M941.9 1903.0h6.2M941.9 1912.1h6.2M948.7 1908.2V1917.4M945.6 1908.2h6.2M945.6 1917.4h6.2M952.3 1915.2V1923.2M949.2 1915.2h6.2M949.2 1923.2h6.2M955.9 1921.2V1926.4M952.8 1921.2h6.2M952.8 1926.4h6.2M959.5 1925.2V1929.3M956.4 1925.2h6.2M956.4 1929.3h6.2M963.0 1929.0V1934.1M959.9 1929.0h6.2M959.9 1934.1h6.2M966.6 1934.1V1937.9M963.5 1934.1h6.2M963.5 1937.9h6.2M970.0 1938.8V1941.1M966.9 1938.8h6.2M966.9 1941.1h6.2M973.5 1941.1V1944.3M970.4 1941.1h6.2M970.4 1944.3h6.2M976.9 1945.8V1948.6M973.8 1945.8h6.2M973.8 1948.6h6.2M980.3 1948.0V1950.8M977.2 1948.0h6.2M977.2 1950.8h6.2M982.5 1948.9V1951.7M979.4 1948.9h6.2M979.4 1951.7h6.2" stroke-width="1.5"/></g>
<rect x="572.30" y="1702.60" width="410.20" height="323.00" fill="none" stroke="#262626" stroke-width="2.4"/>
<path d="M702.32 2025.60v-5M702.32 1702.60v5M832.33 2025.60v-5M832.33 1702.60v5M962.35 2025.60v-5M962.35 1702.60v5M572.30 1971.77h5M982.50 1971.77h-5M572.30 1917.93h5M982.50 1917.93h-5M572.30 1864.10h5M982.50 1864.10h-5M572.30 1810.27h5M982.50 1810.27h-5M572.30 1756.43h5M982.50 1756.43h-5" stroke="#262626" stroke-width="1.80" fill="none"/>
<text x="572.3" y="2053.3" font-size="21.6" fill="#222" text-anchor="middle" >0</text>
<text x="702.3" y="2053.3" font-size="21.6" fill="#222" text-anchor="middle" >100</text>
<text x="832.3" y="2053.3" font-size="21.6" fill="#222" text-anchor="middle" >200</text>
<text x="962.3" y="2053.3" font-size="21.6" fill="#222" text-anchor="middle" >300</text>
<text x="564.7" y="2033.4" font-size="21.6" fill="#222" text-anchor="end" >0</text>
<text x="564.7" y="1979.6" font-size="21.6" fill="#222" text-anchor="end" >0.2</text>
<text x="564.7" y="1925.7" font-size="21.6" fill="#222" text-anchor="end" >0.4</text>
<text x="564.7" y="1871.9" font-size="21.6" fill="#222" text-anchor="end" >0.6</text>
<text x="564.7" y="1818.1" font-size="21.6" fill="#222" text-anchor="end" >0.8</text>
<text x="564.7" y="1764.2" font-size="21.6" fill="#222" text-anchor="end" >1</text>
<text x="564.7" y="1710.4" font-size="21.6" fill="#222" text-anchor="end" >1.2</text>
<text x="849.3" y="1733.0" font-size="21.6" fill="#111" textLength="90.5" lengthAdjust="spacingAndGlyphs" >BMP-30h</text>
<text x="655.0" y="2088.7" font-size="23.3" fill="#111" textLength="270.5" lengthAdjust="spacingAndGlyphs">Distance from center (<tspan font-style="italic">µ</tspan>m)</text>
<clipPath id="cpf2"><rect x="1072.9" y="1702.6" width="412.0" height="323.0"/></clipPath>
<g clip-path="url(#cpf2)" fill="none" stroke="#ff00ff"><polyline points="1073.9,1891.7 1136.3,1890.7 1155.4,1886.2 1170.8,1893.8 1184.1,1890.1 1196.0,1892.6 1206.8,1891.7 1216.8,1894.3 1226.1,1891.1 1234.9,1889.3 1243.2,1889.9 1251.2,1890.4 1258.8,1888.1 1266.1,1884.1 1273.1,1881.5 1279.9,1877.5 1286.5,1876.3 1292.8,1872.4 1299.0,1867.4 1305.1,1863.9 1310.9,1857.0 1316.7,1849.7 1322.3,1842.8 1327.8,1837.6 1333.1,1830.9 1338.4,1824.4 1343.5,1818.1 1348.6,1816.4 1353.6,1812.3 1358.4,1808.9 1363.2,1807.1 1368.0,1804.3 1372.6,1800.0 1377.2,1797.9 1381.7,1796.1 1386.1,1792.8 1390.5,1792.5 1394.8,1796.5 1399.1,1800.8 1403.3,1802.4 1407.4,1805.3 1411.5,1808.9 1415.6,1811.0 1419.6,1815.8 1423.6,1820.4 1427.5,1825.9 1431.3,1830.9 1435.2,1837.9 1439.0,1846.0 1442.7,1852.9 1446.4,1858.5 1450.1,1864.2 1453.7,1869.3 1457.3,1878.4 1460.9,1884.5 1464.5,1891.8 1468.0,1898.0 1471.4,1904.4 1474.9,1910.6 1478.3,1915.8 1481.7,1920.3 1483.9,1922.3" stroke-width="1.9" stroke-linejoin="round"/><path d="M1073.9 1886.4V1897.0M1070.8 1886.4h6.2M1070.8 1897.0h6.2M1136.3 1886.3V1895.2M1133.2 1886.3h6.2M1133.2 1895.2h6.2M1155.4 1881.1V1891.3M1152.3 1881.1h6.2M1152.3 1891.3h6.2M1170.8 1886.6V1900.9M1167.7 1886.6h6.2M1167.7 1900.9h6.2M1184.1 1884.4V1895.8M1181.0 1884.4h6.2M1181.0 1895.8h6.2M1196.0 1887.4V1897.8M1192.9 1887.4h6.2M1192.9 1897.8h6.2M1206.8 1886.4V1896.9M1203.7 1886.4h6.2M1203.7 1896.9h6.2M1216.8 1887.0V1901.7M1213.7 1887.0h6.2M1213.7 1901.7h6.2M1226.1 1884.5V1897.8M1223.0 1884.5h6.2M1223.0 1897.8h6.2M1234.9 1880.0V1898.7M1231.8 1880.0h6.2M1231.8 1898.7h6.2M1243.2 1880.8V1899.0M1240.1 1880.8h6.2M1240.1 1899.0h6.2M1251.2 1880.7V1900.1M1248.1 1880.7h6.2M1248.1 1900.1h6.2M1258.8 1881.2V1895.0M1255.7 1881.2h6.2M1255.7 1895.0h6.2M1266.1 1877.9V1890.4M1263.0 1877.9h6.2M1263.0 1890.4h6.2M1273.1 1875.0V1887.9M1270.0 1875.0h6.2M1270.0 1887.9h6.2M1279.9 1869.2V1885.7M1276.8 1869.2h6.2M1276.8 1885.7h6.2M1286.5 1867.0V1885.6M1283.4 1867.0h6.2M1283.4 1885.6h6.2M1292.8 1864.1V1880.6M1289.7 1864.1h6.2M1289.7 1880.6h6.2M1299.0 1860.0V1874.7M1295.9 1860.0h6.2M1295.9 1874.7h6.2M1305.1 1855.6V1872.2M1302.0 1855.6h6.2M1302.0 1872.2h6.2M1310.9 1847.7V1866.4M1307.8 1847.7h6.2M1307.8 1866.4h6.2M1316.7 1840.0V1859.4M1313.6 1840.0h6.2M1313.6 1859.4h6.2M1322.3 1832.7V1853.0M1319.2 1832.7h6.2M1319.2 1853.0h6.2M1327.8 1826.8V1848.4M1324.7 1826.8h6.2M1324.7 1848.4h6.2M1333.1 1821.0V1840.9M1330.0 1821.0h6.2M1330.0 1840.9h6.2M1338.4 1817.0V1831.7M1335.3 1817.0h6.2M1335.3 1831.7h6.2M1343.5 1807.3V1829.0M1340.4 1807.3h6.2M1340.4 1829.0h6.2M1348.6 1808.2V1824.6M1345.5 1808.2h6.2M1345.5 1824.6h6.2M1353.6 1802.7V1821.8M1350.5 1802.7h6.2M1350.5 1821.8h6.2M1358.4 1800.3V1817.5M1355.3 1800.3h6.2M1355.3 1817.5h6.2M1363.2 1796.8V1817.5M1360.1 1796.8h6.2M1360.1 1817.5h6.2M1368.0 1796.6V1812.1M1364.9 1796.6h6.2M1364.9 1812.1h6.2M1372.6 1792.0V1808.0M1369.5 1792.0h6.2M1369.5 1808.0h6.2M1377.2 1789.9V1805.8M1374.1 1789.9h6.2M1374.1 1805.8h6.2M1381.7 1788.6V1803.6M1378.6 1788.6h6.2M1378.6 1803.6h6.2M1386.1 1781.7V1803.9M1383.0 1781.7h6.2M1383.0 1803.9h6.2M1390.5 1783.0V1802.1M1387.4 1783.0h6.2M1387.4 1802.1h6.2M1394.8 1788.1V1804.8M1391.7 1788.1h6.2M1391.7 1804.8h6.2M1399.1 1792.1V1809.5M1396.0 1792.1h6.2M1396.0 1809.5h6.2M1403.3 1790.9V1814.0M1400.2 1790.9h6.2M1400.2 1814.0h6.2M1407.4 1796.1V1814.6M1404.3 1796.1h6.2M1404.3 1814.6h6.2M1411.5 1801.0V1816.8M1408.4 1801.0h6.2M1408.4 1816.8h6.2M1415.6 1800.3V1821.7M1412.5 1800.3h6.2M1412.5 1821.7h6.2M1419.6 1805.8V1825.7M1416.5 1805.8h6.2M1416.5 1825.7h6.2M1423.6 1808.8V1832.0M1420.5 1808.8h6.2M1420.5 1832.0h6.2M1427.5 1818.7V1833.2M1424.4 1818.7h6.2M1424.4 1833.2h6.2M1431.3 1821.9V1840.0M1428.2 1821.9h6.2M1428.2 1840.0h6.2M1435.2 1827.1V1848.6M1432.1 1827.1h6.2M1432.1 1848.6h6.2M1439.0 1835.1V1856.8M1435.9 1835.1h6.2M1435.9 1856.8h6.2M1442.7 1841.6V1864.1M1439.6 1841.6h6.2M1439.6 1864.1h6.2M1446.4 1851.9V1865.0M1443.3 1851.9h6.2M1443.3 1865.0h6.2M1450.1 1857.3V1871.2M1447.0 1857.3h6.2M1447.0 1871.2h6.2M1453.7 1863.8V1874.9M1450.6 1863.8h6.2M1450.6 1874.9h6.2M1457.3 1873.3V1883.5M1454.2 1873.3h6.2M1454.2 1883.5h6.2M1460.9 1877.9V1891.1M1457.8 1877.9h6.2M1457.8 1891.1h6.2M1464.5 1887.1V1896.4M1461.4 1887.1h6.2M1461.4 1896.4h6.2M1468.0 1893.5V1902.4M1464.9 1893.5h6.2M1464.9 1902.4h6.2M1471.4 1901.4V1907.4M1468.3 1901.4h6.2M1468.3 1907.4h6.2M1474.9 1906.8V1914.5M1471.8 1906.8h6.2M1471.8 1914.5h6.2M1478.3 1912.6V1918.9M1475.2 1912.6h6.2M1475.2 1918.9h6.2M1481.7 1917.5V1923.1M1478.6 1917.5h6.2M1478.6 1923.1h6.2M1483.9 1918.6V1926.0M1480.8 1918.6h6.2M1480.8 1926.0h6.2" stroke-width="1.5"/></g>
<g clip-path="url(#cpf2)" fill="none" stroke="#00ffff"><polyline points="1073.9,1900.8 1136.3,1904.0 1155.4,1902.9 1170.8,1903.4 1184.1,1904.7 1196.0,1904.7 1206.8,1904.6 1216.8,1903.8 1226.1,1903.0 1234.9,1901.7 1243.2,1899.6 1251.2,1898.3 1258.8,1896.2 1266.1,1892.5 1273.1,1888.9 1279.9,1886.1 1286.5,1881.6 1292.8,1877.8 1299.0,1872.2 1305.1,1868.6 1310.9,1865.0 1316.7,1860.0 1322.3,1854.5 1327.8,1851.1 1333.1,1848.4 1338.4,1847.1 1343.5,1844.4 1348.6,1840.9 1353.6,1839.1 1358.4,1837.2 1363.2,1835.5 1368.0,1832.5 1372.6,1832.3 1377.2,1830.3 1381.7,1829.3 1386.1,1827.7 1390.5,1825.4 1394.8,1824.0 1399.1,1824.3 1403.3,1823.5 1407.4,1822.4 1411.5,1824.5 1415.6,1825.9 1419.6,1824.9 1423.6,1827.3 1427.5,1828.5 1431.3,1831.4 1435.2,1832.3 1439.0,1835.8 1442.7,1840.3 1446.4,1844.5 1450.1,1847.2 1453.7,1852.0 1457.3,1856.6 1460.9,1863.6 1464.5,1867.8 1468.0,1874.7 1471.4,1880.7 1474.9,1887.5 1478.3,1892.2 1481.7,1896.7 1483.9,1898.2" stroke-width="1.9" stroke-linejoin="round"/><path d="M1073.9 1899.4V1902.3M1070.8 1899.4h6.2M1070.8 1902.3h6.2M1136.3 1901.7V1906.2M1133.2 1901.7h6.2M1133.2 1906.2h6.2M1155.4 1900.1V1905.7M1152.3 1900.1h6.2M1152.3 1905.7h6.2M1170.8 1900.2V1906.5M1167.7 1900.2h6.2M1167.7 1906.5h6.2M1184.1 1902.5V1906.9M1181.0 1902.5h6.2M1181.0 1906.9h6.2M1196.0 1902.5V1906.9M1192.9 1902.5h6.2M1192.9 1906.9h6.2M1206.8 1901.2V1908.0M1203.7 1901.2h6.2M1203.7 1908.0h6.2M1216.8 1900.2V1907.3M1213.7 1900.2h6.2M1213.7 1907.3h6.2M1226.1 1900.1V1905.9M1223.0 1900.1h6.2M1223.0 1905.9h6.2M1234.9 1899.4V1904.0M1231.8 1899.4h6.2M1231.8 1904.0h6.2M1243.2 1895.8V1903.3M1240.1 1895.8h6.2M1240.1 1903.3h6.2M1251.2 1895.4V1901.2M1248.1 1895.4h6.2M1248.1 1901.2h6.2M1258.8 1892.4V1900.1M1255.7 1892.4h6.2M1255.7 1900.1h6.2M1266.1 1889.1V1895.9M1263.0 1889.1h6.2M1263.0 1895.9h6.2M1273.1 1885.1V1892.7M1270.0 1885.1h6.2M1270.0 1892.7h6.2M1279.9 1883.4V1888.8M1276.8 1883.4h6.2M1276.8 1888.8h6.2M1286.5 1877.8V1885.5M1283.4 1877.8h6.2M1283.4 1885.5h6.2M1292.8 1874.9V1880.7M1289.7 1874.9h6.2M1289.7 1880.7h6.2M1299.0 1869.0V1875.5M1295.9 1869.0h6.2M1295.9 1875.5h6.2M1305.1 1864.5V1872.7M1302.0 1864.5h6.2M1302.0 1872.7h6.2M1310.9 1860.9V1869.2M1307.8 1860.9h6.2M1307.8 1869.2h6.2M1316.7 1857.0V1863.0M1313.6 1857.0h6.2M1313.6 1863.0h6.2M1322.3 1851.5V1857.6M1319.2 1851.5h6.2M1319.2 1857.6h6.2M1327.8 1847.7V1854.6M1324.7 1847.7h6.2M1324.7 1854.6h6.2M1333.1 1844.7V1852.1M1330.0 1844.7h6.2M1330.0 1852.1h6.2M1338.4 1843.6V1850.5M1335.3 1843.6h6.2M1335.3 1850.5h6.2M1343.5 1841.5V1847.4M1340.4 1841.5h6.2M1340.4 1847.4h6.2M1348.6 1837.7V1844.1M1345.5 1837.7h6.2M1345.5 1844.1h6.2M1353.6 1835.0V1843.2M1350.5 1835.0h6.2M1350.5 1843.2h6.2M1358.4 1832.8V1841.7M1355.3 1832.8h6.2M1355.3 1841.7h6.2M1363.2 1832.7V1838.3M1360.1 1832.7h6.2M1360.1 1838.3h6.2M1368.0 1828.7V1836.3M1364.9 1828.7h6.2M1364.9 1836.3h6.2M1372.6 1828.1V1836.4M1369.5 1828.1h6.2M1369.5 1836.4h6.2M1377.2 1827.5V1833.0M1374.1 1827.5h6.2M1374.1 1833.0h6.2M1381.7 1824.9V1833.6M1378.6 1824.9h6.2M1378.6 1833.6h6.2M1386.1 1824.8V1830.7M1383.0 1824.8h6.2M1383.0 1830.7h6.2M1390.5 1821.5V1829.3M1387.4 1821.5h6.2M1387.4 1829.3h6.2M1394.8 1820.2V1827.8M1391.7 1820.2h6.2M1391.7 1827.8h6.2M1399.1 1820.3V1828.2M1396.0 1820.3h6.2M1396.0 1828.2h6.2M1403.3 1820.2V1826.9M1400.2 1820.2h6.2M1400.2 1826.9h6.2M1407.4 1818.9V1825.9M1404.3 1818.9h6.2M1404.3 1825.9h6.2M1411.5 1820.7V1828.4M1408.4 1820.7h6.2M1408.4 1828.4h6.2M1415.6 1822.4V1829.4M1412.5 1822.4h6.2M1412.5 1829.4h6.2M1419.6 1820.9V1828.9M1416.5 1820.9h6.2M1416.5 1828.9h6.2M1423.6 1823.7V1830.9M1420.5 1823.7h6.2M1420.5 1830.9h6.2M1427.5 1824.9V1832.0M1424.4 1824.9h6.2M1424.4 1832.0h6.2M1431.3 1828.6V1834.1M1428.2 1828.6h6.2M1428.2 1834.1h6.2M1435.2 1828.4V1836.2M1432.1 1828.4h6.2M1432.1 1836.2h6.2M1439.0 1832.1V1839.5M1435.9 1832.1h6.2M1435.9 1839.5h6.2M1442.7 1837.2V1843.5M1439.6 1837.2h6.2M1439.6 1843.5h6.2M1446.4 1840.5V1848.5M1443.3 1840.5h6.2M1443.3 1848.5h6.2M1450.1 1843.6V1850.7M1447.0 1843.6h6.2M1447.0 1850.7h6.2M1453.7 1849.2V1854.7M1450.6 1849.2h6.2M1450.6 1854.7h6.2M1457.3 1854.6V1858.6M1454.2 1854.6h6.2M1454.2 1858.6h6.2M1460.9 1861.5V1865.6M1457.8 1861.5h6.2M1457.8 1865.6h6.2M1464.5 1866.4V1869.2M1461.4 1866.4h6.2M1461.4 1869.2h6.2M1468.0 1873.5V1875.9M1464.9 1873.5h6.2M1464.9 1875.9h6.2M1471.4 1879.5V1882.0M1468.3 1879.5h6.2M1468.3 1882.0h6.2M1474.9 1886.5V1888.5M1471.8 1886.5h6.2M1471.8 1888.5h6.2M1478.3 1891.0V1893.5M1475.2 1891.0h6.2M1475.2 1893.5h6.2M1481.7 1895.5V1898.0M1478.6 1895.5h6.2M1478.6 1898.0h6.2M1483.9 1897.2V1899.2M1480.8 1897.2h6.2M1480.8 1899.2h6.2" stroke-width="1.5"/></g>
<g clip-path="url(#cpf2)" fill="none" stroke="#000000"><polyline points="1073.9,1886.7 1136.3,1887.9 1155.4,1885.2 1170.8,1891.5 1184.1,1893.2 1196.0,1895.4 1206.8,1895.9 1216.8,1897.1 1226.1,1896.5 1234.9,1898.9 1243.2,1897.9 1251.2,1897.9 1258.8,1897.9 1266.1,1897.3 1273.1,1897.5 1279.9,1894.4 1286.5,1894.1 1292.8,1890.9 1299.0,1888.4 1305.1,1885.2 1310.9,1877.7 1316.7,1871.9 1322.3,1868.9 1327.8,1863.6 1333.1,1859.0 1338.4,1857.4 1343.5,1852.9 1348.6,1851.5 1353.6,1847.8 1358.4,1846.7 1363.2,1844.8 1368.0,1843.2 1372.6,1844.1 1377.2,1843.4 1381.7,1843.5 1386.1,1845.8 1390.5,1848.2 1394.8,1850.7 1399.1,1854.3 1403.3,1856.1 1407.4,1860.9 1411.5,1865.3 1415.6,1871.8 1419.6,1875.6 1423.6,1882.2 1427.5,1886.8 1431.3,1892.2 1435.2,1898.3 1439.0,1902.7 1442.7,1908.8 1446.4,1914.2 1450.1,1918.8 1453.7,1925.2 1457.3,1927.7 1460.9,1933.0 1464.5,1937.9 1468.0,1941.6 1471.4,1947.2 1474.9,1949.7 1478.3,1953.1 1481.7,1956.1 1483.9,1956.4" stroke-width="1.9" stroke-linejoin="round"/><path d="M1073.9 1884.0V1889.4M1070.8 1884.0h6.2M1070.8 1889.4h6.2M1136.3 1885.0V1890.7M1133.2 1885.0h6.2M1133.2 1890.7h6.2M1155.4 1881.1V1889.2M1152.3 1881.1h6.2M1152.3 1889.2h6.2M1170.8 1888.6V1894.4M1167.7 1888.6h6.2M1167.7 1894.4h6.2M1184.1 1888.6V1897.8M1181.0 1888.6h6.2M1181.0 1897.8h6.2M1196.0 1891.8V1898.9M1192.9 1891.8h6.2M1192.9 1898.9h6.2M1206.8 1891.4V1900.4M1203.7 1891.4h6.2M1203.7 1900.4h6.2M1216.8 1891.7V1902.5M1213.7 1891.7h6.2M1213.7 1902.5h6.2M1226.1 1891.9V1901.1M1223.0 1891.9h6.2M1223.0 1901.1h6.2M1234.9 1894.0V1903.7M1231.8 1894.0h6.2M1231.8 1903.7h6.2M1243.2 1893.8V1902.0M1240.1 1893.8h6.2M1240.1 1902.0h6.2M1251.2 1894.5V1901.3M1248.1 1894.5h6.2M1248.1 1901.3h6.2M1258.8 1894.4V1901.5M1255.7 1894.4h6.2M1255.7 1901.5h6.2M1266.1 1893.3V1901.2M1263.0 1893.3h6.2M1263.0 1901.2h6.2M1273.1 1892.3V1902.7M1270.0 1892.3h6.2M1270.0 1902.7h6.2M1279.9 1889.6V1899.2M1276.8 1889.6h6.2M1276.8 1899.2h6.2M1286.5 1889.1V1899.2M1283.4 1889.1h6.2M1283.4 1899.2h6.2M1292.8 1884.7V1897.0M1289.7 1884.7h6.2M1289.7 1897.0h6.2M1299.0 1884.2V1892.5M1295.9 1884.2h6.2M1295.9 1892.5h6.2M1305.1 1880.7V1889.6M1302.0 1880.7h6.2M1302.0 1889.6h6.2M1310.9 1872.0V1883.4M1307.8 1872.0h6.2M1307.8 1883.4h6.2M1316.7 1867.9V1875.9M1313.6 1867.9h6.2M1313.6 1875.9h6.2M1322.3 1864.9V1872.9M1319.2 1864.9h6.2M1319.2 1872.9h6.2M1327.8 1858.5V1868.6M1324.7 1858.5h6.2M1324.7 1868.6h6.2M1333.1 1854.7V1863.4M1330.0 1854.7h6.2M1330.0 1863.4h6.2M1338.4 1852.2V1862.5M1335.3 1852.2h6.2M1335.3 1862.5h6.2M1343.5 1848.1V1857.6M1340.4 1848.1h6.2M1340.4 1857.6h6.2M1348.6 1845.8V1857.3M1345.5 1845.8h6.2M1345.5 1857.3h6.2M1353.6 1842.0V1853.6M1350.5 1842.0h6.2M1350.5 1853.6h6.2M1358.4 1842.1V1851.4M1355.3 1842.1h6.2M1355.3 1851.4h6.2M1363.2 1838.9V1850.7M1360.1 1838.9h6.2M1360.1 1850.7h6.2M1368.0 1837.8V1848.7M1364.9 1837.8h6.2M1364.9 1848.7h6.2M1372.6 1839.7V1848.6M1369.5 1839.7h6.2M1369.5 1848.6h6.2M1377.2 1836.6V1850.2M1374.1 1836.6h6.2M1374.1 1850.2h6.2M1381.7 1838.8V1848.3M1378.6 1838.8h6.2M1378.6 1848.3h6.2M1386.1 1841.3V1850.3M1383.0 1841.3h6.2M1383.0 1850.3h6.2M1390.5 1843.9V1852.6M1387.4 1843.9h6.2M1387.4 1852.6h6.2M1394.8 1844.8V1856.7M1391.7 1844.8h6.2M1391.7 1856.7h6.2M1399.1 1847.7V1860.9M1396.0 1847.7h6.2M1396.0 1860.9h6.2M1403.3 1849.8V1862.5M1400.2 1849.8h6.2M1400.2 1862.5h6.2M1407.4 1855.6V1866.1M1404.3 1855.6h6.2M1404.3 1866.1h6.2M1411.5 1860.4V1870.1M1408.4 1860.4h6.2M1408.4 1870.1h6.2M1415.6 1867.7V1875.9M1412.5 1867.7h6.2M1412.5 1875.9h6.2M1419.6 1869.7V1881.6M1416.5 1869.7h6.2M1416.5 1881.6h6.2M1423.6 1876.5V1887.9M1420.5 1876.5h6.2M1420.5 1887.9h6.2M1427.5 1881.7V1891.9M1424.4 1881.7h6.2M1424.4 1891.9h6.2M1431.3 1886.2V1898.1M1428.2 1886.2h6.2M1428.2 1898.1h6.2M1435.2 1893.0V1903.7M1432.1 1893.0h6.2M1432.1 1903.7h6.2M1439.0 1895.9V1909.5M1435.9 1895.9h6.2M1435.9 1909.5h6.2M1442.7 1902.6V1915.0M1439.6 1902.6h6.2M1439.6 1915.0h6.2M1446.4 1909.6V1918.7M1443.3 1909.6h6.2M1443.3 1918.7h6.2M1450.1 1913.1V1924.5M1447.0 1913.1h6.2M1447.0 1924.5h6.2M1453.7 1922.0V1928.4M1450.6 1922.0h6.2M1450.6 1928.4h6.2M1457.3 1924.0V1931.5M1454.2 1924.0h6.2M1454.2 1931.5h6.2M1460.9 1930.0V1936.0M1457.8 1930.0h6.2M1457.8 1936.0h6.2M1464.5 1935.6V1940.2M1461.4 1935.6h6.2M1461.4 1940.2h6.2M1468.0 1939.9V1943.2M1464.9 1939.9h6.2M1464.9 1943.2h6.2M1471.4 1945.0V1949.4M1468.3 1945.0h6.2M1468.3 1949.4h6.2M1474.9 1948.3V1951.2M1471.8 1948.3h6.2M1471.8 1951.2h6.2M1478.3 1951.2V1955.1M1475.2 1951.2h6.2M1475.2 1955.1h6.2M1481.7 1953.7V1958.5M1478.6 1953.7h6.2M1478.6 1958.5h6.2M1483.9 1954.8V1958.0M1480.8 1954.8h6.2M1480.8 1958.0h6.2" stroke-width="1.5"/></g>
<rect x="1073.90" y="1702.60" width="410.00" height="323.00" fill="none" stroke="#262626" stroke-width="2.4"/>
<path d="M1203.85 2025.60v-5M1203.85 1702.60v5M1333.80 2025.60v-5M1333.80 1702.60v5M1463.76 2025.60v-5M1463.76 1702.60v5M1073.90 1971.77h5M1483.90 1971.77h-5M1073.90 1917.93h5M1483.90 1917.93h-5M1073.90 1864.10h5M1483.90 1864.10h-5M1073.90 1810.27h5M1483.90 1810.27h-5M1073.90 1756.43h5M1483.90 1756.43h-5" stroke="#262626" stroke-width="1.80" fill="none"/>
<text x="1073.9" y="2053.3" font-size="21.6" fill="#222" text-anchor="middle" >0</text>
<text x="1203.9" y="2053.3" font-size="21.6" fill="#222" text-anchor="middle" >100</text>
<text x="1333.8" y="2053.3" font-size="21.6" fill="#222" text-anchor="middle" >200</text>
<text x="1463.8" y="2053.3" font-size="21.6" fill="#222" text-anchor="middle" >300</text>
<text x="1066.3" y="2033.4" font-size="21.6" fill="#222" text-anchor="end" >0</text>
<text x="1066.3" y="1979.6" font-size="21.6" fill="#222" text-anchor="end" >0.2</text>
<text x="1066.3" y="1925.7" font-size="21.6" fill="#222" text-anchor="end" >0.4</text>
<text x="1066.3" y="1871.9" font-size="21.6" fill="#222" text-anchor="end" >0.6</text>
<text x="1066.3" y="1818.1" font-size="21.6" fill="#222" text-anchor="end" >0.8</text>
<text x="1066.3" y="1764.2" font-size="21.6" fill="#222" text-anchor="end" >1</text>
<text x="1066.3" y="1710.4" font-size="21.6" fill="#222" text-anchor="end" >1.2</text>
<text x="1352.9" y="1733.0" font-size="21.6" fill="#111" textLength="90.5" lengthAdjust="spacingAndGlyphs" >BMP-36h</text>
<text x="1169.9" y="2088.7" font-size="23.3" fill="#111" textLength="270.5" lengthAdjust="spacingAndGlyphs">Distance from center (<tspan font-style="italic">µ</tspan>m)</text>
<clipPath id="cpf3"><rect x="1573.8" y="1706.8" width="412.20000000000005" height="323.4000000000001"/></clipPath>
<g clip-path="url(#cpf3)" fill="none" stroke="#ff00ff"><polyline points="1574.8,1888.0 1637.2,1888.5 1656.3,1887.4 1671.8,1891.0 1685.1,1889.0 1696.9,1889.0 1707.7,1887.6 1717.7,1883.5 1727.1,1879.5 1735.9,1873.1 1744.2,1869.0 1752.1,1863.7 1759.7,1859.5 1767.0,1851.2 1774.1,1845.6 1780.9,1842.6 1787.5,1838.1 1793.8,1834.8 1800.0,1833.2 1806.1,1832.2 1812.0,1831.7 1817.7,1832.7 1823.3,1832.3 1828.8,1830.9 1834.2,1830.4 1839.4,1831.0 1844.6,1832.3 1849.6,1834.7 1854.6,1836.2 1859.5,1838.4 1864.3,1840.4 1869.0,1843.9 1873.6,1847.3 1878.2,1849.4 1882.7,1851.5 1887.2,1855.8 1891.6,1857.1 1895.9,1861.7 1900.1,1863.9 1904.3,1868.3 1908.5,1871.6 1912.6,1875.4 1916.7,1880.0 1920.7,1885.1 1924.6,1888.6 1928.5,1894.4 1932.4,1899.2 1936.2,1902.3 1940.0,1906.9 1943.8,1909.7 1947.5,1912.6 1951.2,1915.0 1954.8,1919.3 1958.4,1921.8 1962.0,1925.8 1965.5,1929.1 1969.1,1933.4 1972.5,1933.4 1976.0,1934.3 1979.4,1935.4 1982.8,1936.2 1985.0,1935.6" stroke-width="1.9" stroke-linejoin="round"/><path d="M1574.8 1886.3V1889.7M1571.7 1886.3h6.2M1571.7 1889.7h6.2M1637.2 1885.2V1891.7M1634.1 1885.2h6.2M1634.1 1891.7h6.2M1656.3 1885.1V1889.7M1653.2 1885.1h6.2M1653.2 1889.7h6.2M1671.8 1888.7V1893.2M1668.7 1888.7h6.2M1668.7 1893.2h6.2M1685.1 1886.5V1891.4M1682.0 1886.5h6.2M1682.0 1891.4h6.2M1696.9 1885.1V1892.8M1693.8 1885.1h6.2M1693.8 1892.8h6.2M1707.7 1884.7V1890.6M1704.6 1884.7h6.2M1704.6 1890.6h6.2M1717.7 1880.8V1886.2M1714.6 1880.8h6.2M1714.6 1886.2h6.2M1727.1 1876.9V1882.1M1724.0 1876.9h6.2M1724.0 1882.1h6.2M1735.9 1870.5V1875.8M1732.8 1870.5h6.2M1732.8 1875.8h6.2M1744.2 1865.1V1873.0M1741.1 1865.1h6.2M1741.1 1873.0h6.2M1752.1 1859.9V1867.6M1749.0 1859.9h6.2M1749.0 1867.6h6.2M1759.7 1855.5V1863.6M1756.6 1855.5h6.2M1756.6 1863.6h6.2M1767.0 1846.9V1855.4M1763.9 1846.9h6.2M1763.9 1855.4h6.2M1774.1 1842.6V1848.5M1771.0 1842.6h6.2M1771.0 1848.5h6.2M1780.9 1838.6V1846.7M1777.8 1838.6h6.2M1777.8 1846.7h6.2M1787.5 1834.5V1841.8M1784.4 1834.5h6.2M1784.4 1841.8h6.2M1793.8 1830.2V1839.4M1790.7 1830.2h6.2M1790.7 1839.4h6.2M1800.0 1828.5V1837.9M1796.9 1828.5h6.2M1796.9 1837.9h6.2M1806.1 1827.3V1837.1M1803.0 1827.3h6.2M1803.0 1837.1h6.2M1812.0 1828.5V1834.8M1808.9 1828.5h6.2M1808.9 1834.8h6.2M1817.7 1827.7V1837.6M1814.6 1827.7h6.2M1814.6 1837.6h6.2M1823.3 1827.2V1837.4M1820.2 1827.2h6.2M1820.2 1837.4h6.2M1828.8 1825.6V1836.1M1825.7 1825.6h6.2M1825.7 1836.1h6.2M1834.2 1827.0V1833.8M1831.1 1827.0h6.2M1831.1 1833.8h6.2M1839.4 1827.3V1834.6M1836.3 1827.3h6.2M1836.3 1834.6h6.2M1844.6 1828.9V1835.8M1841.5 1828.9h6.2M1841.5 1835.8h6.2M1849.6 1831.5V1838.0M1846.5 1831.5h6.2M1846.5 1838.0h6.2M1854.6 1831.1V1841.2M1851.5 1831.1h6.2M1851.5 1841.2h6.2M1859.5 1833.4V1843.4M1856.4 1833.4h6.2M1856.4 1843.4h6.2M1864.3 1835.8V1845.0M1861.2 1835.8h6.2M1861.2 1845.0h6.2M1869.0 1838.8V1848.9M1865.9 1838.8h6.2M1865.9 1848.9h6.2M1873.6 1842.7V1851.9M1870.5 1842.7h6.2M1870.5 1851.9h6.2M1878.2 1845.5V1853.2M1875.1 1845.5h6.2M1875.1 1853.2h6.2M1882.7 1848.1V1854.9M1879.6 1848.1h6.2M1879.6 1854.9h6.2M1887.2 1852.5V1859.2M1884.1 1852.5h6.2M1884.1 1859.2h6.2M1891.6 1852.3V1862.0M1888.5 1852.3h6.2M1888.5 1862.0h6.2M1895.9 1858.1V1865.3M1892.8 1858.1h6.2M1892.8 1865.3h6.2M1900.1 1860.0V1867.8M1897.0 1860.0h6.2M1897.0 1867.8h6.2M1904.3 1864.2V1872.5M1901.2 1864.2h6.2M1901.2 1872.5h6.2M1908.5 1868.3V1874.8M1905.4 1868.3h6.2M1905.4 1874.8h6.2M1912.6 1871.6V1879.1M1909.5 1871.6h6.2M1909.5 1879.1h6.2M1916.7 1876.2V1883.8M1913.6 1876.2h6.2M1913.6 1883.8h6.2M1920.7 1880.3V1889.9M1917.6 1880.3h6.2M1917.6 1889.9h6.2M1924.6 1884.6V1892.6M1921.5 1884.6h6.2M1921.5 1892.6h6.2M1928.5 1890.5V1898.3M1925.4 1890.5h6.2M1925.4 1898.3h6.2M1932.4 1893.8V1904.5M1929.3 1893.8h6.2M1929.3 1904.5h6.2M1936.2 1898.0V1906.6M1933.1 1898.0h6.2M1933.1 1906.6h6.2M1940.0 1901.8V1912.0M1936.9 1901.8h6.2M1936.9 1912.0h6.2M1943.8 1905.1V1914.2M1940.7 1905.1h6.2M1940.7 1914.2h6.2M1947.5 1909.5V1915.7M1944.4 1909.5h6.2M1944.4 1915.7h6.2M1951.2 1911.5V1918.5M1948.1 1911.5h6.2M1948.1 1918.5h6.2M1954.8 1916.2V1922.5M1951.7 1916.2h6.2M1951.7 1922.5h6.2M1958.4 1918.5V1925.0M1955.3 1918.5h6.2M1955.3 1925.0h6.2M1962.0 1923.5V1928.0M1958.9 1923.5h6.2M1958.9 1928.0h6.2M1965.5 1926.8V1931.4M1962.4 1926.8h6.2M1962.4 1931.4h6.2M1969.1 1931.6V1935.1M1966.0 1931.6h6.2M1966.0 1935.1h6.2M1972.5 1932.1V1934.6M1969.4 1932.1h6.2M1969.4 1934.6h6.2M1976.0 1932.5V1936.1M1972.9 1932.5h6.2M1972.9 1936.1h6.2M1979.4 1934.3V1936.6M1976.3 1934.3h6.2M1976.3 1936.6h6.2M1982.8 1934.5V1938.0M1979.7 1934.5h6.2M1979.7 1938.0h6.2M1985.0 1934.4V1936.9M1981.9 1934.4h6.2M1981.9 1936.9h6.2" stroke-width="1.5"/></g>
<g clip-path="url(#cpf3)" fill="none" stroke="#00ffff"><polyline points="1574.8,1861.5 1637.2,1859.7 1656.3,1851.9 1671.8,1844.8 1685.1,1841.4 1696.9,1833.5 1707.7,1825.1 1717.7,1816.2 1727.1,1810.1 1735.9,1803.4 1744.2,1798.6 1752.1,1794.3 1759.7,1791.1 1767.0,1783.6 1774.1,1781.4 1780.9,1779.4 1787.5,1778.1 1793.8,1779.0 1800.0,1780.2 1806.1,1779.0 1812.0,1779.7 1817.7,1777.7 1823.3,1777.1 1828.8,1775.9 1834.2,1775.4 1839.4,1775.8 1844.6,1775.7 1849.6,1776.2 1854.6,1776.4 1859.5,1779.4 1864.3,1779.0 1869.0,1782.7 1873.6,1784.0 1878.2,1785.8 1882.7,1787.2 1887.2,1790.8 1891.6,1793.8 1895.9,1795.4 1900.1,1799.5 1904.3,1801.9 1908.5,1806.5 1912.6,1810.8 1916.7,1815.3 1920.7,1819.7 1924.6,1824.4 1928.5,1828.6 1932.4,1836.0 1936.2,1841.5 1940.0,1848.4 1943.8,1854.1 1947.5,1861.1 1951.2,1866.3 1954.8,1871.2 1958.4,1877.2 1962.0,1884.3 1965.5,1889.8 1969.1,1895.0 1972.5,1900.5 1976.0,1904.7 1979.4,1907.9 1982.8,1909.9 1985.0,1910.9" stroke-width="1.9" stroke-linejoin="round"/><path d="M1574.8 1849.9V1873.1M1571.7 1849.9h6.2M1571.7 1873.1h6.2M1637.2 1848.6V1870.8M1634.1 1848.6h6.2M1634.1 1870.8h6.2M1656.3 1841.8V1862.0M1653.2 1841.8h6.2M1653.2 1862.0h6.2M1671.8 1835.6V1854.0M1668.7 1835.6h6.2M1668.7 1854.0h6.2M1685.1 1832.2V1850.5M1682.0 1832.2h6.2M1682.0 1850.5h6.2M1696.9 1825.9V1841.1M1693.8 1825.9h6.2M1693.8 1841.1h6.2M1707.7 1817.7V1832.5M1704.6 1817.7h6.2M1704.6 1832.5h6.2M1717.7 1810.0V1822.4M1714.6 1810.0h6.2M1714.6 1822.4h6.2M1727.1 1803.3V1816.9M1724.0 1803.3h6.2M1724.0 1816.9h6.2M1735.9 1798.0V1808.8M1732.8 1798.0h6.2M1732.8 1808.8h6.2M1744.2 1794.8V1802.4M1741.1 1794.8h6.2M1741.1 1802.4h6.2M1752.1 1789.4V1799.1M1749.0 1789.4h6.2M1749.0 1799.1h6.2M1759.7 1787.4V1794.9M1756.6 1787.4h6.2M1756.6 1794.9h6.2M1767.0 1779.5V1787.7M1763.9 1779.5h6.2M1763.9 1787.7h6.2M1774.1 1776.6V1786.2M1771.0 1776.6h6.2M1771.0 1786.2h6.2M1780.9 1774.9V1783.9M1777.8 1774.9h6.2M1777.8 1783.9h6.2M1787.5 1773.7V1782.5M1784.4 1773.7h6.2M1784.4 1782.5h6.2M1793.8 1775.0V1783.0M1790.7 1775.0h6.2M1790.7 1783.0h6.2M1800.0 1776.6V1783.9M1796.9 1776.6h6.2M1796.9 1783.9h6.2M1806.1 1774.8V1783.2M1803.0 1774.8h6.2M1803.0 1783.2h6.2M1812.0 1776.2V1783.2M1808.9 1776.2h6.2M1808.9 1783.2h6.2M1817.7 1774.1V1781.3M1814.6 1774.1h6.2M1814.6 1781.3h6.2M1823.3 1773.3V1780.9M1820.2 1773.3h6.2M1820.2 1780.9h6.2M1828.8 1772.6V1779.3M1825.7 1772.6h6.2M1825.7 1779.3h6.2M1834.2 1771.6V1779.2M1831.1 1771.6h6.2M1831.1 1779.2h6.2M1839.4 1771.6V1780.1M1836.3 1771.6h6.2M1836.3 1780.1h6.2M1844.6 1771.7V1779.8M1841.5 1771.7h6.2M1841.5 1779.8h6.2M1849.6 1772.4V1780.1M1846.5 1772.4h6.2M1846.5 1780.1h6.2M1854.6 1772.5V1780.4M1851.5 1772.5h6.2M1851.5 1780.4h6.2M1859.5 1775.7V1783.2M1856.4 1775.7h6.2M1856.4 1783.2h6.2M1864.3 1775.7V1782.4M1861.2 1775.7h6.2M1861.2 1782.4h6.2M1869.0 1778.8V1786.6M1865.9 1778.8h6.2M1865.9 1786.6h6.2M1873.6 1780.4V1787.7M1870.5 1780.4h6.2M1870.5 1787.7h6.2M1878.2 1781.8V1789.7M1875.1 1781.8h6.2M1875.1 1789.7h6.2M1882.7 1783.1V1791.3M1879.6 1783.1h6.2M1879.6 1791.3h6.2M1887.2 1787.2V1794.4M1884.1 1787.2h6.2M1884.1 1794.4h6.2M1891.6 1790.1V1797.5M1888.5 1790.1h6.2M1888.5 1797.5h6.2M1895.9 1791.5V1799.3M1892.8 1791.5h6.2M1892.8 1799.3h6.2M1900.1 1795.9V1803.0M1897.0 1795.9h6.2M1897.0 1803.0h6.2M1904.3 1798.6V1805.2M1901.2 1798.6h6.2M1901.2 1805.2h6.2M1908.5 1802.7V1810.3M1905.4 1802.7h6.2M1905.4 1810.3h6.2M1912.6 1806.8V1814.7M1909.5 1806.8h6.2M1909.5 1814.7h6.2M1916.7 1811.5V1819.1M1913.6 1811.5h6.2M1913.6 1819.1h6.2M1920.7 1816.0V1823.4M1917.6 1816.0h6.2M1917.6 1823.4h6.2M1924.6 1820.6V1828.3M1921.5 1820.6h6.2M1921.5 1828.3h6.2M1928.5 1825.0V1832.3M1925.4 1825.0h6.2M1925.4 1832.3h6.2M1932.4 1832.4V1839.6M1929.3 1832.4h6.2M1929.3 1839.6h6.2M1936.2 1838.1V1844.9M1933.1 1838.1h6.2M1933.1 1844.9h6.2M1940.0 1845.2V1851.7M1936.9 1845.2h6.2M1936.9 1851.7h6.2M1943.8 1850.6V1857.7M1940.7 1850.6h6.2M1940.7 1857.7h6.2M1947.5 1858.1V1864.1M1944.4 1858.1h6.2M1944.4 1864.1h6.2M1951.2 1863.0V1869.6M1948.1 1863.0h6.2M1948.1 1869.6h6.2M1954.8 1867.5V1874.8M1951.7 1867.5h6.2M1951.7 1874.8h6.2M1958.4 1873.7V1880.8M1955.3 1873.7h6.2M1955.3 1880.8h6.2M1962.0 1880.8V1887.7M1958.9 1880.8h6.2M1958.9 1887.7h6.2M1965.5 1886.8V1892.9M1962.4 1886.8h6.2M1962.4 1892.9h6.2M1969.1 1891.8V1898.2M1966.0 1891.8h6.2M1966.0 1898.2h6.2M1972.5 1897.3V1903.7M1969.4 1897.3h6.2M1969.4 1903.7h6.2M1976.0 1901.3V1908.1M1972.9 1901.3h6.2M1972.9 1908.1h6.2M1979.4 1904.8V1911.1M1976.3 1904.8h6.2M1976.3 1911.1h6.2M1982.8 1906.5V1913.3M1979.7 1906.5h6.2M1979.7 1913.3h6.2M1985.0 1907.2V1914.5M1981.9 1907.2h6.2M1981.9 1914.5h6.2" stroke-width="1.5"/></g>
<g clip-path="url(#cpf3)" fill="none" stroke="#000000"><polyline points="1574.8,1880.0 1637.2,1881.6 1656.3,1885.3 1671.8,1890.2 1685.1,1887.4 1696.9,1887.7 1707.7,1885.5 1717.7,1879.2 1727.1,1876.4 1735.9,1871.2 1744.2,1864.1 1752.1,1857.1 1759.7,1846.7 1767.0,1836.6 1774.1,1829.0 1780.9,1821.4 1787.5,1814.1 1793.8,1808.9 1800.0,1805.7 1806.1,1805.9 1812.0,1805.6 1817.7,1803.2 1823.3,1802.5 1828.8,1799.5 1834.2,1801.8 1839.4,1802.7 1844.6,1807.3 1849.6,1809.7 1854.6,1815.2 1859.5,1821.7 1864.3,1826.7 1869.0,1831.4 1873.6,1837.0 1878.2,1842.0 1882.7,1847.9 1887.2,1851.9 1891.6,1856.7 1895.9,1860.9 1900.1,1864.3 1904.3,1866.4 1908.5,1870.7 1912.6,1877.7 1916.7,1884.2 1920.7,1888.1 1924.6,1894.1 1928.5,1899.6 1932.4,1904.8 1936.2,1908.3 1940.0,1913.9 1943.8,1919.8 1947.5,1925.3 1951.2,1929.8 1954.8,1935.3 1958.4,1937.3 1962.0,1942.0 1965.5,1944.6 1969.1,1946.8 1972.5,1948.6 1976.0,1951.1 1979.4,1953.1 1982.8,1954.0 1985.0,1955.5" stroke-width="1.9" stroke-linejoin="round"/><path d="M1574.8 1876.0V1883.9M1571.7 1876.0h6.2M1571.7 1883.9h6.2M1637.2 1877.8V1885.5M1634.1 1877.8h6.2M1634.1 1885.5h6.2M1656.3 1880.1V1890.6M1653.2 1880.1h6.2M1653.2 1890.6h6.2M1671.8 1886.1V1894.2M1668.7 1886.1h6.2M1668.7 1894.2h6.2M1685.1 1882.9V1891.9M1682.0 1882.9h6.2M1682.0 1891.9h6.2M1696.9 1883.4V1892.0M1693.8 1883.4h6.2M1693.8 1892.0h6.2M1707.7 1880.6V1890.4M1704.6 1880.6h6.2M1704.6 1890.4h6.2M1717.7 1874.9V1883.6M1714.6 1874.9h6.2M1714.6 1883.6h6.2M1727.1 1872.5V1880.4M1724.0 1872.5h6.2M1724.0 1880.4h6.2M1735.9 1865.1V1877.4M1732.8 1865.1h6.2M1732.8 1877.4h6.2M1744.2 1859.2V1869.1M1741.1 1859.2h6.2M1741.1 1869.1h6.2M1752.1 1852.2V1862.1M1749.0 1852.2h6.2M1749.0 1862.1h6.2M1759.7 1841.6V1851.9M1756.6 1841.6h6.2M1756.6 1851.9h6.2M1767.0 1830.8V1842.4M1763.9 1830.8h6.2M1763.9 1842.4h6.2M1774.1 1823.2V1834.7M1771.0 1823.2h6.2M1771.0 1834.7h6.2M1780.9 1814.9V1827.9M1777.8 1814.9h6.2M1777.8 1827.9h6.2M1787.5 1807.4V1820.7M1784.4 1807.4h6.2M1784.4 1820.7h6.2M1793.8 1803.2V1814.7M1790.7 1803.2h6.2M1790.7 1814.7h6.2M1800.0 1797.9V1813.4M1796.9 1797.9h6.2M1796.9 1813.4h6.2M1806.1 1798.3V1813.4M1803.0 1798.3h6.2M1803.0 1813.4h6.2M1812.0 1800.7V1810.6M1808.9 1800.7h6.2M1808.9 1810.6h6.2M1817.7 1795.6V1810.9M1814.6 1795.6h6.2M1814.6 1810.9h6.2M1823.3 1794.5V1810.5M1820.2 1794.5h6.2M1820.2 1810.5h6.2M1828.8 1791.8V1807.2M1825.7 1791.8h6.2M1825.7 1807.2h6.2M1834.2 1796.3V1807.3M1831.1 1796.3h6.2M1831.1 1807.3h6.2M1839.4 1794.7V1810.6M1836.3 1794.7h6.2M1836.3 1810.6h6.2M1844.6 1800.1V1814.6M1841.5 1800.1h6.2M1841.5 1814.6h6.2M1849.6 1804.6V1814.7M1846.5 1804.6h6.2M1846.5 1814.7h6.2M1854.6 1810.2V1820.3M1851.5 1810.2h6.2M1851.5 1820.3h6.2M1859.5 1813.3V1830.0M1856.4 1813.3h6.2M1856.4 1830.0h6.2M1864.3 1819.4V1834.1M1861.2 1819.4h6.2M1861.2 1834.1h6.2M1869.0 1825.5V1837.2M1865.9 1825.5h6.2M1865.9 1837.2h6.2M1873.6 1831.7V1842.4M1870.5 1831.7h6.2M1870.5 1842.4h6.2M1878.2 1836.5V1847.5M1875.1 1836.5h6.2M1875.1 1847.5h6.2M1882.7 1842.0V1853.7M1879.6 1842.0h6.2M1879.6 1853.7h6.2M1887.2 1844.2V1859.7M1884.1 1844.2h6.2M1884.1 1859.7h6.2M1891.6 1850.5V1862.9M1888.5 1850.5h6.2M1888.5 1862.9h6.2M1895.9 1855.3V1866.4M1892.8 1855.3h6.2M1892.8 1866.4h6.2M1900.1 1856.1V1872.5M1897.0 1856.1h6.2M1897.0 1872.5h6.2M1904.3 1858.6V1874.2M1901.2 1858.6h6.2M1901.2 1874.2h6.2M1908.5 1865.2V1876.3M1905.4 1865.2h6.2M1905.4 1876.3h6.2M1912.6 1869.6V1885.9M1909.5 1869.6h6.2M1909.5 1885.9h6.2M1916.7 1877.0V1891.3M1913.6 1877.0h6.2M1913.6 1891.3h6.2M1920.7 1880.3V1895.8M1917.6 1880.3h6.2M1917.6 1895.8h6.2M1924.6 1886.7V1901.5M1921.5 1886.7h6.2M1921.5 1901.5h6.2M1928.5 1891.4V1907.7M1925.4 1891.4h6.2M1925.4 1907.7h6.2M1932.4 1897.0V1912.5M1929.3 1897.0h6.2M1929.3 1912.5h6.2M1936.2 1900.4V1916.3M1933.1 1900.4h6.2M1933.1 1916.3h6.2M1940.0 1908.2V1919.6M1936.9 1908.2h6.2M1936.9 1919.6h6.2M1943.8 1912.4V1927.3M1940.7 1912.4h6.2M1940.7 1927.3h6.2M1947.5 1918.8V1931.8M1944.4 1918.8h6.2M1944.4 1931.8h6.2M1951.2 1923.3V1936.3M1948.1 1923.3h6.2M1948.1 1936.3h6.2M1954.8 1930.3V1940.2M1951.7 1930.3h6.2M1951.7 1940.2h6.2M1958.4 1932.0V1942.7M1955.3 1932.0h6.2M1955.3 1942.7h6.2M1962.0 1938.0V1945.9M1958.9 1938.0h6.2M1958.9 1945.9h6.2M1965.5 1941.8V1947.5M1962.4 1941.8h6.2M1962.4 1947.5h6.2M1969.1 1944.5V1949.1M1966.0 1944.5h6.2M1966.0 1949.1h6.2M1972.5 1946.7V1950.5M1969.4 1946.7h6.2M1969.4 1950.5h6.2M1976.0 1948.8V1953.5M1972.9 1948.8h6.2M1972.9 1953.5h6.2M1979.4 1951.3V1954.9M1976.3 1951.3h6.2M1976.3 1954.9h6.2M1982.8 1951.7V1956.3M1979.7 1951.7h6.2M1979.7 1956.3h6.2M1985.0 1953.6V1957.5M1981.9 1953.6h6.2M1981.9 1957.5h6.2" stroke-width="1.5"/></g>
<rect x="1574.80" y="1706.80" width="410.20" height="323.40" fill="none" stroke="#262626" stroke-width="2.4"/>
<path d="M1704.82 2030.20v-5M1704.82 1706.80v5M1834.83 2030.20v-5M1834.83 1706.80v5M1964.85 2030.20v-5M1964.85 1706.80v5M1574.80 1976.30h5M1985.00 1976.30h-5M1574.80 1922.40h5M1985.00 1922.40h-5M1574.80 1868.50h5M1985.00 1868.50h-5M1574.80 1814.60h5M1985.00 1814.60h-5M1574.80 1760.70h5M1985.00 1760.70h-5" stroke="#262626" stroke-width="1.80" fill="none"/>
<text x="1574.8" y="2057.9" font-size="21.6" fill="#222" text-anchor="middle" >0</text>
<text x="1704.8" y="2057.9" font-size="21.6" fill="#222" text-anchor="middle" >100</text>
<text x="1834.8" y="2057.9" font-size="21.6" fill="#222" text-anchor="middle" >200</text>
<text x="1964.8" y="2057.9" font-size="21.6" fill="#222" text-anchor="middle" >300</text>
<text x="1567.2" y="2038.0" font-size="21.6" fill="#222" text-anchor="end" >0</text>
<text x="1567.2" y="1984.1" font-size="21.6" fill="#222" text-anchor="end" >0.2</text>
<text x="1567.2" y="1930.2" font-size="21.6" fill="#222" text-anchor="end" >0.4</text>
<text x="1567.2" y="1876.3" font-size="21.6" fill="#222" text-anchor="end" >0.6</text>
<text x="1567.2" y="1822.4" font-size="21.6" fill="#222" text-anchor="end" >0.8</text>
<text x="1567.2" y="1768.5" font-size="21.6" fill="#222" text-anchor="end" >1</text>
<text x="1567.2" y="1714.6" font-size="21.6" fill="#222" text-anchor="end" >1.2</text>
<text x="1851.3" y="1733.0" font-size="21.6" fill="#111" textLength="90.5" lengthAdjust="spacingAndGlyphs" >BMP-42h</text>
<text x="1662.3" y="2088.7" font-size="23.3" fill="#111" textLength="270.5" lengthAdjust="spacingAndGlyphs">Distance from center (<tspan font-style="italic">µ</tspan>m)</text>
<text x="25.0" y="1960.9" font-size="23.3" fill="#111" textLength="209.3" lengthAdjust="spacingAndGlyphs" transform="rotate(-90 25.0 1960.9)" >Normalized intensity</text>
<path d="M104.7 1730.6H131.5M117.7 1722.0V1739.2M114.9 1722.0h5.6M114.9 1739.2h5.6" stroke="#ff00ff" stroke-width="1.6" fill="none"/>
<text x="136.0" y="1737.7" font-size="20.5" fill="#111" textLength="85.6" lengthAdjust="spacingAndGlyphs" >LeftyRNA</text>
<path d="M104.7 1755.9H131.5M117.7 1747.3V1764.5M114.9 1747.3h5.6M114.9 1764.5h5.6" stroke="#00ffff" stroke-width="1.6" fill="none"/>
<text x="136.0" y="1763.0" font-size="20.5" fill="#111" textLength="94.0" lengthAdjust="spacingAndGlyphs" >pSmad2/3</text>
<path d="M104.7 1780.4H131.5M117.7 1771.8V1789.0M114.9 1771.8h5.6M114.9 1789.0h5.6" stroke="#000000" stroke-width="1.6" fill="none"/>
<text x="136.0" y="1787.5" font-size="20.5" fill="#111" textLength="44.5" lengthAdjust="spacingAndGlyphs" >Lefty</text>
</svg>
</body></html>
